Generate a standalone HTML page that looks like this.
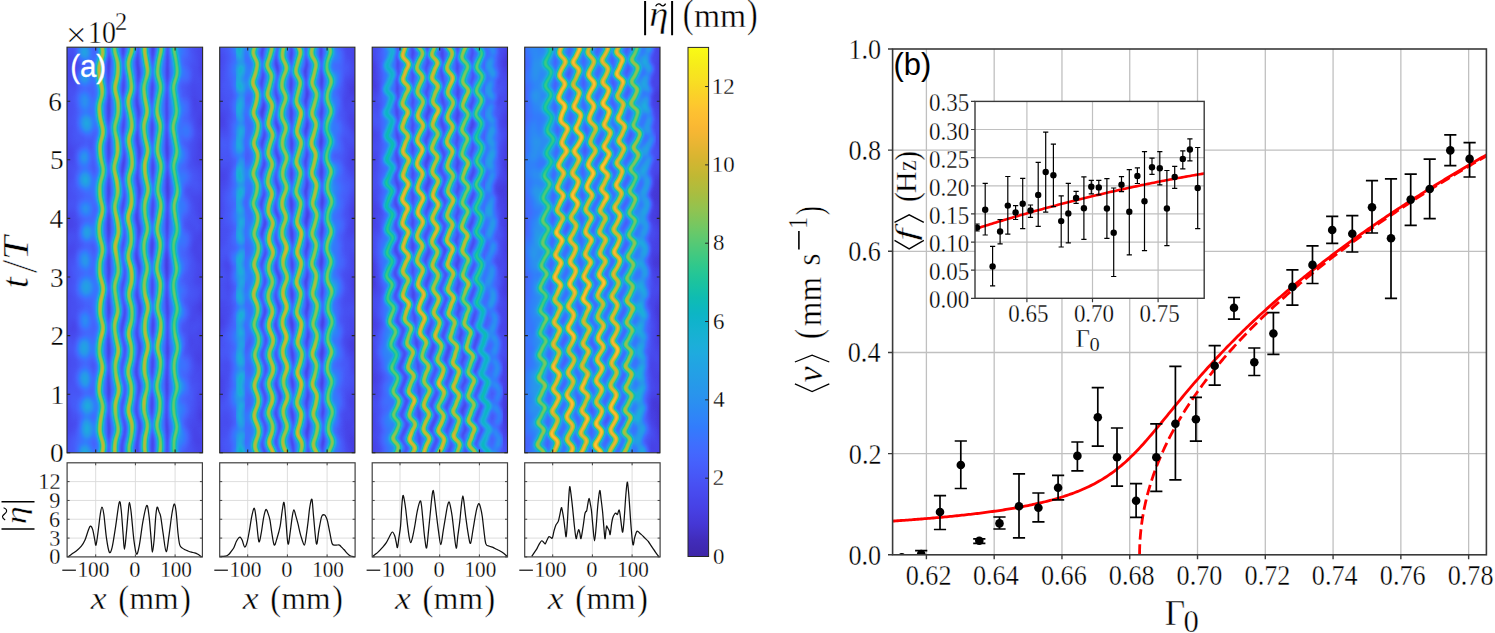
<!DOCTYPE html><html><head><meta charset="utf-8"><style>html,body{margin:0;padding:0;background:#fff;overflow:hidden}svg{display:block}</style></head><body>
<svg width="1495" height="633" viewBox="0 0 1495 633">
<rect x="0" y="0" width="1495" height="633" fill="#fff"/>
<defs>
<filter id="cmap" x="0" y="0" width="1" height="1" color-interpolation-filters="sRGB"><feComponentTransfer><feFuncR type="table" tableValues="0.2422 0.2482 0.2544 0.2625 0.2705 0.2745 0.2782 0.2797 0.2810 0.2806 0.2795 0.2749 0.2691 0.2570 0.2424 0.2185 0.1978 0.1865 0.1765 0.1698 0.1622 0.1526 0.1435 0.1356 0.1276 0.1197 0.1098 0.0974 0.0817 0.0612 0.0500 0.0500 0.0602 0.0807 0.1090 0.1437 0.1872 0.2384 0.2926 0.3489 0.4052 0.4615 0.5167 0.5712 0.6202 0.6663 0.7088 0.7498 0.7907 0.8317 0.8716 0.9113 0.9440 0.9747 0.9864 0.9940 0.9905 0.9854 0.9781 0.9707 0.9677 0.9651 0.9708 0.9769"/><feFuncG type="table" tableValues="0.1504 0.1621 0.1741 0.1943 0.2144 0.2352 0.2558 0.2757 0.2958 0.3182 0.3409 0.3654 0.3897 0.4132 0.4369 0.4617 0.4866 0.5119 0.5364 0.5591 0.5803 0.5974 0.6143 0.6307 0.6483 0.6679 0.6825 0.6903 0.6971 0.7022 0.7108 0.7236 0.7377 0.7530 0.7654 0.7753 0.7827 0.7878 0.7900 0.7900 0.7868 0.7817 0.7733 0.7634 0.7533 0.7430 0.7328 0.7226 0.7162 0.7110 0.7100 0.7100 0.7140 0.7191 0.7370 0.7574 0.7869 0.8176 0.8474 0.8772 0.9032 0.9288 0.9563 0.9839"/><feFuncB type="table" tableValues="0.6603 0.6953 0.7311 0.7837 0.8356 0.8677 0.8988 0.9182 0.9372 0.9535 0.9689 0.9803 0.9905 0.9948 0.9975 0.9936 0.9877 0.9759 0.9625 0.9449 0.9288 0.9164 0.9051 0.8964 0.8861 0.8729 0.8558 0.8333 0.8138 0.7984 0.7738 0.7379 0.6995 0.6586 0.6210 0.5863 0.5510 0.5151 0.4822 0.4515 0.4176 0.3818 0.3467 0.3119 0.2798 0.2491 0.2256 0.2051 0.1962 0.1910 0.1940 0.1989 0.2000 0.2000 0.1958 0.1906 0.1766 0.1612 0.1463 0.1314 0.1161 0.1007 0.0905 0.0805"/></feComponentTransfer></filter>
<filter id="bl1" x="-20%" y="-5%" width="140%" height="110%" color-interpolation-filters="sRGB"><feGaussianBlur stdDeviation="1.5"/></filter>
<filter id="bl2" x="-20%" y="-5%" width="140%" height="110%" color-interpolation-filters="sRGB"><feGaussianBlur stdDeviation="2.5"/></filter>
<linearGradient id="cbar" x1="0" y1="1" x2="0" y2="0"><stop offset="0.0000" stop-color="rgb(62,38,168)"/><stop offset="0.0159" stop-color="rgb(63,41,177)"/><stop offset="0.0317" stop-color="rgb(65,44,186)"/><stop offset="0.0476" stop-color="rgb(67,50,200)"/><stop offset="0.0635" stop-color="rgb(69,55,213)"/><stop offset="0.0794" stop-color="rgb(70,60,221)"/><stop offset="0.0952" stop-color="rgb(71,65,229)"/><stop offset="0.1111" stop-color="rgb(71,70,234)"/><stop offset="0.1270" stop-color="rgb(72,75,239)"/><stop offset="0.1429" stop-color="rgb(72,81,243)"/><stop offset="0.1587" stop-color="rgb(71,87,247)"/><stop offset="0.1746" stop-color="rgb(70,93,250)"/><stop offset="0.1905" stop-color="rgb(69,99,253)"/><stop offset="0.2063" stop-color="rgb(66,105,254)"/><stop offset="0.2222" stop-color="rgb(62,111,254)"/><stop offset="0.2381" stop-color="rgb(56,118,253)"/><stop offset="0.2540" stop-color="rgb(50,124,252)"/><stop offset="0.2698" stop-color="rgb(48,131,249)"/><stop offset="0.2857" stop-color="rgb(45,137,245)"/><stop offset="0.3016" stop-color="rgb(43,143,241)"/><stop offset="0.3175" stop-color="rgb(41,148,237)"/><stop offset="0.3333" stop-color="rgb(39,152,234)"/><stop offset="0.3492" stop-color="rgb(37,157,231)"/><stop offset="0.3651" stop-color="rgb(35,161,229)"/><stop offset="0.3810" stop-color="rgb(33,165,226)"/><stop offset="0.3968" stop-color="rgb(31,170,223)"/><stop offset="0.4127" stop-color="rgb(28,174,218)"/><stop offset="0.4286" stop-color="rgb(25,176,213)"/><stop offset="0.4444" stop-color="rgb(21,178,208)"/><stop offset="0.4603" stop-color="rgb(16,179,204)"/><stop offset="0.4762" stop-color="rgb(13,181,197)"/><stop offset="0.4921" stop-color="rgb(13,185,188)"/><stop offset="0.5079" stop-color="rgb(15,188,178)"/><stop offset="0.5238" stop-color="rgb(21,192,168)"/><stop offset="0.5397" stop-color="rgb(28,195,158)"/><stop offset="0.5556" stop-color="rgb(37,198,150)"/><stop offset="0.5714" stop-color="rgb(48,200,140)"/><stop offset="0.5873" stop-color="rgb(61,201,131)"/><stop offset="0.6032" stop-color="rgb(75,201,123)"/><stop offset="0.6190" stop-color="rgb(89,201,115)"/><stop offset="0.6349" stop-color="rgb(103,201,106)"/><stop offset="0.6508" stop-color="rgb(118,199,97)"/><stop offset="0.6667" stop-color="rgb(132,197,88)"/><stop offset="0.6825" stop-color="rgb(146,195,80)"/><stop offset="0.6984" stop-color="rgb(158,192,71)"/><stop offset="0.7143" stop-color="rgb(170,189,64)"/><stop offset="0.7302" stop-color="rgb(181,187,58)"/><stop offset="0.7460" stop-color="rgb(191,184,52)"/><stop offset="0.7619" stop-color="rgb(202,183,50)"/><stop offset="0.7778" stop-color="rgb(212,181,49)"/><stop offset="0.7937" stop-color="rgb(222,181,49)"/><stop offset="0.8095" stop-color="rgb(232,181,51)"/><stop offset="0.8254" stop-color="rgb(241,182,51)"/><stop offset="0.8413" stop-color="rgb(249,183,51)"/><stop offset="0.8571" stop-color="rgb(252,188,50)"/><stop offset="0.8730" stop-color="rgb(253,193,49)"/><stop offset="0.8889" stop-color="rgb(253,201,45)"/><stop offset="0.9048" stop-color="rgb(251,208,41)"/><stop offset="0.9206" stop-color="rgb(249,216,37)"/><stop offset="0.9365" stop-color="rgb(248,224,34)"/><stop offset="0.9524" stop-color="rgb(247,230,30)"/><stop offset="0.9683" stop-color="rgb(246,237,26)"/><stop offset="0.9841" stop-color="rgb(248,244,23)"/><stop offset="1.0000" stop-color="rgb(249,251,21)"/></linearGradient>
<clipPath id="clipB"><rect x="892.6" y="49" width="593.8" height="505.8"/></clipPath>
<clipPath id="clipI"><rect x="975" y="101.4" width="229.2" height="196.9"/></clipPath>
<filter id="bl3" x="-50%" y="-50%" width="200%" height="200%" color-interpolation-filters="sRGB"><feGaussianBlur stdDeviation="3.5"/></filter>
<filter id="noise" x="0" y="0" width="1" height="1" color-interpolation-filters="sRGB"><feTurbulence type="fractalNoise" baseFrequency="0.045 0.03" numOctaves="2" seed="7"/><feColorMatrix type="matrix" values="1 0 0 0 0  1 0 0 0 0  1 0 0 0 0  0 0 0 0 0.13"/></filter>
</defs>
<path d="M926.4 49.0V554.8M994.18 49.0V554.8M1061.96 49.0V554.8M1129.74 49.0V554.8M1197.52 49.0V554.8M1265.3 49.0V554.8M1333.08 49.0V554.8M1400.86 49.0V554.8M1468.64 49.0V554.8M892.6 453.64H1486.4M892.6 352.48H1486.4M892.6 251.32H1486.4M892.6 150.16H1486.4" stroke="#c0c0c0" stroke-width="1.3" fill="none"/>
<g clip-path="url(#clipB)">
<path d="M858.62 523.16 L860.31 523.07 L862.01 522.97 L863.7 522.87 L865.4 522.78 L867.09 522.68 L868.79 522.58 L870.48 522.48 L872.18 522.38 L873.87 522.28 L875.56 522.18 L877.26 522.07 L878.95 521.97 L880.65 521.86 L882.34 521.76 L884.04 521.65 L885.73 521.54 L887.43 521.43 L889.12 521.32 L890.82 521.21 L892.51 521.1 L894.2 520.98 L895.9 520.87 L897.59 520.75 L899.29 520.63 L900.98 520.52 L902.68 520.4 L904.37 520.28 L906.07 520.15 L907.76 520.03 L909.45 519.9 L911.15 519.78 L912.84 519.65 L914.54 519.52 L916.23 519.39 L917.93 519.26 L919.62 519.13 L921.32 518.99 L923.01 518.85 L924.71 518.72 L926.4 518.58 L928.09 518.44 L929.79 518.29 L931.48 518.15 L933.18 518 L934.87 517.86 L936.57 517.71 L938.26 517.56 L939.96 517.4 L941.65 517.25 L943.34 517.09 L945.04 516.93 L946.73 516.77 L948.43 516.61 L950.12 516.44 L951.82 516.28 L953.51 516.11 L955.21 515.94 L956.9 515.76 L958.6 515.59 L960.29 515.41 L961.98 515.23 L963.68 515.04 L965.37 514.86 L967.07 514.67 L968.76 514.48 L970.46 514.29 L972.15 514.09 L973.85 513.89 L975.54 513.69 L977.23 513.49 L978.93 513.28 L980.62 513.07 L982.32 512.85 L984.01 512.64 L985.71 512.42 L987.4 512.19 L989.1 511.96 L990.79 511.73 L992.49 511.5 L994.18 511.26 L995.87 511.02 L997.57 510.77 L999.26 510.52 L1000.96 510.27 L1002.65 510.01 L1004.35 509.75 L1006.04 509.48 L1007.74 509.21 L1009.43 508.93 L1011.12 508.65 L1012.82 508.36 L1014.51 508.07 L1016.21 507.78 L1017.9 507.47 L1019.6 507.17 L1021.29 506.85 L1022.99 506.53 L1024.68 506.21 L1026.38 505.87 L1028.07 505.54 L1029.76 505.19 L1031.46 504.84 L1033.15 504.48 L1034.85 504.11 L1036.54 503.74 L1038.24 503.36 L1039.93 502.97 L1041.63 502.57 L1043.32 502.16 L1045.01 501.74 L1046.71 501.32 L1048.4 500.88 L1050.1 500.44 L1051.79 499.98 L1053.49 499.52 L1055.18 499.04 L1056.88 498.55 L1058.57 498.05 L1060.27 497.54 L1061.96 497.02 L1063.65 496.48 L1065.35 495.93 L1067.04 495.36 L1068.74 494.78 L1070.43 494.19 L1072.13 493.57 L1073.82 492.95 L1075.52 492.3 L1077.21 491.64 L1078.9 490.96 L1080.6 490.26 L1082.29 489.54 L1083.99 488.8 L1085.68 488.04 L1087.38 487.26 L1089.07 486.45 L1090.77 485.63 L1092.46 484.77 L1094.16 483.89 L1095.85 482.99 L1097.54 482.05 L1099.24 481.09 L1100.93 480.1 L1102.63 479.08 L1104.32 478.03 L1106.02 476.95 L1107.71 475.83 L1109.41 474.68 L1111.1 473.5 L1112.79 472.28 L1114.49 471.02 L1116.18 469.73 L1117.88 468.4 L1119.57 467.03 L1121.27 465.62 L1122.96 464.17 L1124.66 462.69 L1126.35 461.17 L1128.05 459.61 L1129.74 458.01 L1131.43 456.37 L1133.13 454.7 L1134.82 452.99 L1136.52 451.24 L1138.21 449.46 L1139.91 447.65 L1141.6 445.81 L1143.3 443.94 L1144.99 442.05 L1146.68 440.12 L1148.38 438.18 L1150.07 436.21 L1151.77 434.22 L1153.46 432.22 L1155.16 430.2 L1156.85 428.17 L1158.55 426.12 L1160.24 424.07 L1161.94 422.01 L1163.63 419.94 L1165.32 417.87 L1167.02 415.8 L1168.71 413.73 L1170.41 411.65 L1172.1 409.58 L1173.8 407.51 L1175.49 405.45 L1177.19 403.39 L1178.88 401.33 L1180.57 399.28 L1182.27 397.24 L1183.96 395.21 L1185.66 393.19 L1187.35 391.17 L1189.05 389.17 L1190.74 387.17 L1192.44 385.18 L1194.13 383.21 L1195.83 381.25 L1197.52 379.29 L1199.21 377.35 L1200.91 375.42 L1202.6 373.5 L1204.3 371.59 L1205.99 369.7 L1207.69 367.81 L1209.38 365.94 L1211.08 364.08 L1212.77 362.23 L1214.46 360.39 L1216.16 358.57 L1217.85 356.75 L1219.55 354.95 L1221.24 353.15 L1222.94 351.37 L1224.63 349.6 L1226.33 347.84 L1228.02 346.1 L1229.72 344.36 L1231.41 342.63 L1233.1 340.92 L1234.8 339.21 L1236.49 337.52 L1238.19 335.83 L1239.88 334.16 L1241.58 332.49 L1243.27 330.84 L1244.97 329.19 L1246.66 327.56 L1248.35 325.93 L1250.05 324.31 L1251.74 322.71 L1253.44 321.11 L1255.13 319.52 L1256.83 317.94 L1258.52 316.37 L1260.22 314.81 L1261.91 313.25 L1263.61 311.71 L1265.3 310.17 L1266.99 308.64 L1268.69 307.12 L1270.38 305.61 L1272.08 304.1 L1273.77 302.6 L1275.47 301.12 L1277.16 299.63 L1278.86 298.16 L1280.55 296.69 L1282.24 295.23 L1283.94 293.78 L1285.63 292.34 L1287.33 290.9 L1289.02 289.47 L1290.72 288.05 L1292.41 286.63 L1294.11 285.22 L1295.8 283.81 L1297.5 282.42 L1299.19 281.03 L1300.88 279.64 L1302.58 278.26 L1304.27 276.89 L1305.97 275.53 L1307.66 274.17 L1309.36 272.81 L1311.05 271.47 L1312.75 270.13 L1314.44 268.79 L1316.13 267.46 L1317.83 266.14 L1319.52 264.82 L1321.22 263.5 L1322.91 262.2 L1324.61 260.89 L1326.3 259.6 L1328 258.3 L1329.69 257.02 L1331.39 255.74 L1333.08 254.46 L1334.77 253.19 L1336.47 251.92 L1338.16 250.66 L1339.86 249.41 L1341.55 248.16 L1343.25 246.91 L1344.94 245.67 L1346.64 244.43 L1348.33 243.2 L1350.02 241.97 L1351.72 240.75 L1353.41 239.53 L1355.11 238.31 L1356.8 237.1 L1358.5 235.9 L1360.19 234.7 L1361.89 233.5 L1363.58 232.31 L1365.28 231.12 L1366.97 229.93 L1368.66 228.75 L1370.36 227.58 L1372.05 226.4 L1373.75 225.23 L1375.44 224.07 L1377.14 222.91 L1378.83 221.75 L1380.53 220.6 L1382.22 219.45 L1383.91 218.31 L1385.61 217.17 L1387.3 216.03 L1389 214.89 L1390.69 213.76 L1392.39 212.64 L1394.08 211.51 L1395.78 210.39 L1397.47 209.28 L1399.17 208.16 L1400.86 207.05 L1402.55 205.95 L1404.25 204.85 L1405.94 203.75 L1407.64 202.65 L1409.33 201.56 L1411.03 200.47 L1412.72 199.38 L1414.42 198.3 L1416.11 197.22 L1417.8 196.14 L1419.5 195.07 L1421.19 194 L1422.89 192.93 L1424.58 191.87 L1426.28 190.81 L1427.97 189.75 L1429.67 188.69 L1431.36 187.64 L1433.06 186.59 L1434.75 185.54 L1436.44 184.5 L1438.14 183.46 L1439.83 182.42 L1441.53 181.39 L1443.22 180.35 L1444.92 179.32 L1446.61 178.3 L1448.31 177.27 L1450 176.25 L1451.69 175.23 L1453.39 174.22 L1455.08 173.2 L1456.78 172.19 L1458.47 171.18 L1460.17 170.18 L1461.86 169.17 L1463.56 168.17 L1465.25 167.18 L1466.95 166.18 L1468.64 165.19 L1470.33 164.2 L1472.03 163.21 L1473.72 162.22 L1475.42 161.24 L1477.11 160.26 L1478.81 159.28 L1480.5 158.3 L1482.2 157.33 L1483.89 156.36 L1485.58 155.39 L1487.28 154.42 L1488.97 153.46 L1490.67 152.49 L1492.36 151.53 L1494.06 150.58 L1495.75 149.62 L1497.45 148.67 L1499.14 147.72 L1500.84 146.77 L1502.53 145.82" stroke="#ff0000" stroke-width="2.8" fill="none" stroke-linejoin="round"/>
<path d="M1139.57 554.8 L1139.57 553.78 L1139.58 552.75 L1139.59 551.73 L1139.6 550.71 L1139.63 549.69 L1139.65 548.66 L1139.68 547.64 L1139.71 546.62 L1139.75 545.6 L1139.8 544.57 L1139.84 543.55 L1139.9 542.53 L1139.95 541.51 L1140.01 540.48 L1140.08 539.46 L1140.15 538.44 L1140.23 537.42 L1140.31 536.39 L1140.39 535.37 L1140.48 534.35 L1140.57 533.32 L1140.67 532.3 L1140.77 531.28 L1140.88 530.26 L1140.99 529.23 L1141.11 528.21 L1141.23 527.19 L1141.36 526.17 L1141.49 525.14 L1141.62 524.12 L1141.76 523.1 L1141.9 522.08 L1142.05 521.05 L1142.2 520.03 L1142.36 519.01 L1142.52 517.99 L1142.69 516.96 L1142.86 515.94 L1143.04 514.92 L1143.22 513.89 L1143.4 512.87 L1143.59 511.85 L1143.78 510.83 L1143.98 509.8 L1144.18 508.78 L1144.39 507.76 L1144.6 506.74 L1144.82 505.71 L1145.04 504.69 L1145.27 503.67 L1145.5 502.65 L1145.73 501.62 L1145.97 500.6 L1146.22 499.58 L1146.46 498.56 L1146.72 497.53 L1146.98 496.51 L1147.24 495.49 L1147.5 494.46 L1147.78 493.44 L1148.05 492.42 L1148.33 491.4 L1148.62 490.37 L1148.91 489.35 L1149.2 488.33 L1149.5 487.31 L1149.8 486.28 L1150.11 485.26 L1150.42 484.24 L1150.74 483.22 L1151.06 482.19 L1151.39 481.17 L1151.72 480.15 L1152.05 479.13 L1152.39 478.1 L1152.74 477.08 L1153.09 476.06 L1153.44 475.04 L1153.8 474.01 L1154.16 472.99 L1154.53 471.97 L1154.9 470.94 L1155.27 469.92 L1155.66 468.9 L1156.04 467.88 L1156.43 466.85 L1156.82 465.83 L1157.22 464.81 L1157.63 463.79 L1158.04 462.76 L1158.45 461.74 L1158.87 460.72 L1159.29 459.7 L1159.71 458.67 L1160.14 457.65 L1160.58 456.63 L1161.02 455.61 L1161.46 454.58 L1161.91 453.56 L1162.37 452.54 L1162.83 451.51 L1163.29 450.49 L1163.76 449.47 L1164.23 448.45 L1164.7 447.42 L1165.19 446.4 L1165.67 445.38 L1166.16 444.36 L1166.66 443.33 L1167.15 442.31 L1167.66 441.29 L1168.17 440.27 L1168.68 439.24 L1169.2 438.22 L1169.72 437.2 L1170.25 436.18 L1170.78 435.15 L1171.31 434.13 L1171.85 433.11 L1172.4 432.08 L1172.95 431.06 L1173.5 430.04 L1174.06 429.02 L1174.62 427.99 L1175.19 426.97 L1175.76 425.95 L1176.34 424.93 L1176.92 423.9 L1177.51 422.88 L1178.1 421.86 L1178.69 420.84 L1179.29 419.81 L1179.9 418.79 L1180.51 417.77 L1181.12 416.75 L1181.74 415.72 L1182.36 414.7 L1182.99 413.68 L1183.62 412.65 L1184.25 411.63 L1184.89 410.61 L1185.54 409.59 L1186.19 408.56 L1186.84 407.54 L1187.5 406.52 L1188.17 405.5 L1188.83 404.47 L1189.51 403.45 L1190.18 402.43 L1190.87 401.41 L1191.55 400.38 L1192.24 399.36 L1192.94 398.34 L1193.64 397.32 L1194.34 396.29 L1195.05 395.27 L1195.77 394.25 L1196.48 393.22 L1197.21 392.2 L1197.93 391.18 L1198.67 390.16 L1199.4 389.13 L1200.14 388.11 L1200.89 387.09 L1201.64 386.07 L1202.39 385.04 L1203.15 384.02 L1203.92 383 L1204.68 381.98 L1205.46 380.95 L1206.23 379.93 L1207.02 378.91 L1207.8 377.89 L1208.59 376.86 L1209.39 375.84 L1210.19 374.82 L1210.99 373.79 L1211.8 372.77 L1212.62 371.75 L1213.44 370.73 L1214.26 369.7 L1215.09 368.68 L1215.92 367.66 L1216.76 366.64 L1217.6 365.61 L1218.44 364.59 L1219.29 363.57 L1220.15 362.55 L1221.01 361.52 L1221.87 360.5 L1222.74 359.48 L1223.61 358.46 L1224.49 357.43 L1225.37 356.41 L1226.26 355.39 L1227.15 354.36 L1228.05 353.34 L1228.95 352.32 L1229.85 351.3 L1230.76 350.27 L1231.68 349.25 L1232.6 348.23 L1233.52 347.21 L1234.45 346.18 L1235.38 345.16 L1236.32 344.14 L1237.26 343.12 L1238.21 342.09 L1239.16 341.07 L1240.11 340.05 L1241.07 339.03 L1242.04 338 L1243 336.98 L1243.98 335.96 L1244.96 334.94 L1245.94 333.91 L1246.93 332.89 L1247.92 331.87 L1248.91 330.84 L1249.92 329.82 L1250.92 328.8 L1251.93 327.78 L1252.95 326.75 L1253.96 325.73 L1254.99 324.71 L1256.02 323.69 L1257.05 322.66 L1258.09 321.64 L1259.13 320.62 L1260.17 319.6 L1261.23 318.57 L1262.28 317.55 L1263.34 316.53 L1264.41 315.51 L1265.48 314.48 L1266.55 313.46 L1267.63 312.44 L1268.71 311.41 L1269.8 310.39 L1270.89 309.37 L1271.99 308.35 L1273.09 307.32 L1274.19 306.3 L1275.3 305.28 L1276.42 304.26 L1277.54 303.23 L1278.66 302.21 L1279.79 301.19 L1280.92 300.17 L1282.06 299.14 L1283.2 298.12 L1284.35 297.1 L1285.5 296.08 L1286.66 295.05 L1287.82 294.03 L1288.98 293.01 L1290.15 291.98 L1291.33 290.96 L1292.51 289.94 L1293.69 288.92 L1294.88 287.89 L1296.07 286.87 L1297.27 285.85 L1298.47 284.83 L1299.67 283.8 L1300.88 282.78 L1302.1 281.76 L1303.32 280.74 L1304.54 279.71 L1305.77 278.69 L1307.01 277.67 L1308.24 276.65 L1309.49 275.62 L1310.73 274.6 L1311.99 273.58 L1313.24 272.55 L1314.5 271.53 L1315.77 270.51 L1317.04 269.49 L1318.31 268.46 L1319.59 267.44 L1320.87 266.42 L1322.16 265.4 L1323.46 264.37 L1324.75 263.35 L1326.05 262.33 L1327.36 261.31 L1328.67 260.28 L1329.99 259.26 L1331.31 258.24 L1332.63 257.22 L1333.96 256.19 L1335.29 255.17 L1336.63 254.15 L1337.98 253.12 L1339.32 252.1 L1340.68 251.08 L1342.03 250.06 L1343.39 249.03 L1344.76 248.01 L1346.13 246.99 L1347.5 245.97 L1348.88 244.94 L1350.27 243.92 L1351.66 242.9 L1353.05 241.88 L1354.45 240.85 L1355.85 239.83 L1357.25 238.81 L1358.67 237.79 L1360.08 236.76 L1361.5 235.74 L1362.93 234.72 L1364.36 233.69 L1365.79 232.67 L1367.23 231.65 L1368.67 230.63 L1370.12 229.6 L1371.57 228.58 L1373.03 227.56 L1374.49 226.54 L1375.96 225.51 L1377.43 224.49 L1378.9 223.47 L1380.38 222.45 L1381.87 221.42 L1383.36 220.4 L1384.85 219.38 L1386.35 218.36 L1387.85 217.33 L1389.36 216.31 L1390.87 215.29 L1392.38 214.26 L1393.9 213.24 L1395.43 212.22 L1396.96 211.2 L1398.49 210.17 L1400.03 209.15 L1401.58 208.13 L1403.12 207.11 L1404.68 206.08 L1406.23 205.06 L1407.8 204.04 L1409.36 203.02 L1410.93 201.99 L1412.51 200.97 L1414.09 199.95 L1415.67 198.93 L1417.26 197.9 L1418.86 196.88 L1420.45 195.86 L1422.06 194.84 L1423.66 193.81 L1425.28 192.79 L1426.89 191.77 L1428.51 190.74 L1430.14 189.72 L1431.77 188.7 L1433.4 187.68 L1435.04 186.65 L1436.69 185.63 L1438.33 184.61 L1439.99 183.59 L1441.65 182.56 L1443.31 181.54 L1444.97 180.52 L1446.65 179.5 L1448.32 178.47 L1450 177.45 L1451.69 176.43 L1453.38 175.41 L1455.07 174.38 L1456.77 173.36 L1458.47 172.34 L1460.18 171.31 L1461.89 170.29 L1463.61 169.27 L1465.33 168.25 L1467.05 167.22 L1468.79 166.2 L1470.52 165.18 L1472.26 164.16 L1474 163.13 L1475.75 162.11 L1477.51 161.09 L1479.26 160.07 L1481.03 159.04 L1482.79 158.02 L1484.56 157 L1486.34 155.98 L1488.12 154.95 L1489.91 153.93 L1491.7 152.91 L1493.49 151.88 L1495.29 150.86 L1497.09 149.84 L1498.9 148.82 L1500.71 147.79 L1502.53 146.77" stroke="#ff0000" stroke-width="2.8" fill="none" stroke-dasharray="10.5,4.6" stroke-linejoin="round"/>
<path d="M921.2 550.7V557.5M915.1 550.7H927.3M915.1 557.5H927.3M940 495.6V529.5M933.9 495.6H946.1M933.9 529.5H946.1M960.8 441V488.5M954.7 441H966.9M954.7 488.5H966.9M979.3 538.8V543.4M973.2 538.8H985.4M973.2 543.4H985.4M999.5 517V529M993.4 517H1005.6M993.4 529H1005.6M1019 473.8V537.8M1012.9 473.8H1025.1M1012.9 537.8H1025.1M1038.4 493V521.9M1032.3 493H1044.5M1032.3 521.9H1044.5M1058.1 475.3V499.9M1052 475.3H1064.2M1052 499.9H1064.2M1077.4 442V470.8M1071.3 442H1083.5M1071.3 470.8H1083.5M1097.8 387.7V446.1M1091.7 387.7H1103.9M1091.7 446.1H1103.9M1117 428V486.1M1110.9 428H1123.1M1110.9 486.1H1123.1M1136.1 483.7V517.4M1130 483.7H1142.2M1130 517.4H1142.2M1156.3 423.8V491.3M1150.2 423.8H1162.4M1150.2 491.3H1162.4M1175.4 366.4V479.8M1169.3 366.4H1181.5M1169.3 479.8H1181.5M1195.9 397.4V441.2M1189.8 397.4H1202M1189.8 441.2H1202M1214.7 345.6V385.2M1208.6 345.6H1220.8M1208.6 385.2H1220.8M1234 297.5V319.1M1227.9 297.5H1240.1M1227.9 319.1H1240.1M1254.3 348V375.5M1248.2 348H1260.4M1248.2 375.5H1260.4M1273.4 312.7V354.4M1267.3 312.7H1279.5M1267.3 354.4H1279.5M1292.4 269.8V305.1M1286.3 269.8H1298.5M1286.3 305.1H1298.5M1312.5 245.9V283.5M1306.4 245.9H1318.6M1306.4 283.5H1318.6M1332.2 216.3V243.3M1326.1 216.3H1338.3M1326.1 243.3H1338.3M1352.3 215.6V252M1346.2 215.6H1358.4M1346.2 252H1358.4M1372 180.7V233M1365.9 180.7H1378.1M1365.9 233H1378.1M1391 178.8V298.3M1384.9 178.8H1397.1M1384.9 298.3H1397.1M1410.7 174.2V225.4M1404.6 174.2H1416.8M1404.6 225.4H1416.8M1429.7 159.1V218.6M1423.6 159.1H1435.8M1423.6 218.6H1435.8M1450.3 134.9V165.6M1444.2 134.9H1456.4M1444.2 165.6H1456.4M1469.6 142.6V177M1463.5 142.6H1475.7M1463.5 177H1475.7" stroke="#000" stroke-width="1.7" fill="none"/>
<g fill="#000"><circle cx="901.8" cy="557.2" r="4.3"/><circle cx="921.2" cy="554" r="4.3"/><circle cx="940" cy="512" r="4.3"/><circle cx="960.8" cy="465" r="4.3"/><circle cx="979.3" cy="540.8" r="4.3"/><circle cx="999.5" cy="523.4" r="4.3"/><circle cx="1019" cy="506.2" r="4.3"/><circle cx="1038.4" cy="507.7" r="4.3"/><circle cx="1058.1" cy="487.7" r="4.3"/><circle cx="1077.4" cy="455.9" r="4.3"/><circle cx="1097.8" cy="417.2" r="4.3"/><circle cx="1117" cy="457.2" r="4.3"/><circle cx="1136.1" cy="500.7" r="4.3"/><circle cx="1156.3" cy="457.2" r="4.3"/><circle cx="1175.4" cy="423.8" r="4.3"/><circle cx="1195.9" cy="419.3" r="4.3"/><circle cx="1214.7" cy="365.7" r="4.3"/><circle cx="1234" cy="307.7" r="4.3"/><circle cx="1254.3" cy="362.3" r="4.3"/><circle cx="1273.4" cy="333.5" r="4.3"/><circle cx="1292.4" cy="286.9" r="4.3"/><circle cx="1312.5" cy="264.9" r="4.3"/><circle cx="1332.2" cy="230" r="4.3"/><circle cx="1352.3" cy="233.8" r="4.3"/><circle cx="1372" cy="207.2" r="4.3"/><circle cx="1391" cy="238.3" r="4.3"/><circle cx="1410.7" cy="199.6" r="4.3"/><circle cx="1429.7" cy="189" r="4.3"/><circle cx="1450.3" cy="150.4" r="4.3"/><circle cx="1469.6" cy="158.9" r="4.3"/></g>
</g>
<rect x="892.6" y="49.0" width="593.8" height="505.8" fill="none" stroke="#3a3a3a" stroke-width="1.6"/>
<path d="M926.4 554.8v4.4M994.18 554.8v4.4M1061.96 554.8v4.4M1129.74 554.8v4.4M1197.52 554.8v4.4M1265.3 554.8v4.4M1333.08 554.8v4.4M1400.86 554.8v4.4M1468.64 554.8v4.4M892.6 554.8h-4.6M892.6 453.64h-4.6M892.6 352.48h-4.6M892.6 251.32h-4.6M892.6 150.16h-4.6M892.6 49h-4.6" stroke="#3a3a3a" stroke-width="1.4" fill="none"/>
<text transform="translate(905.7,584.8) scale(0.9150,1)" style="font-family:'Liberation Serif';font-size:28.60px;" fill="#000" stroke="#fff" stroke-width="0.34">0.62</text>
<text transform="translate(972.96,584.8) scale(0.9150,1)" style="font-family:'Liberation Serif';font-size:28.60px;" fill="#000" stroke="#fff" stroke-width="0.34">0.64</text>
<text transform="translate(1040.93,584.8) scale(0.9150,1)" style="font-family:'Liberation Serif';font-size:28.60px;" fill="#000" stroke="#fff" stroke-width="0.34">0.66</text>
<text transform="translate(1108.84,584.8) scale(0.9150,1)" style="font-family:'Liberation Serif';font-size:28.60px;" fill="#000" stroke="#fff" stroke-width="0.34">0.68</text>
<text transform="translate(1176.62,584.8) scale(0.9150,1)" style="font-family:'Liberation Serif';font-size:28.60px;" fill="#000" stroke="#fff" stroke-width="0.34">0.70</text>
<text transform="translate(1244.6,584.8) scale(0.9150,1)" style="font-family:'Liberation Serif';font-size:28.60px;" fill="#000" stroke="#fff" stroke-width="0.34">0.72</text>
<text transform="translate(1311.86,584.8) scale(0.9150,1)" style="font-family:'Liberation Serif';font-size:28.60px;" fill="#000" stroke="#fff" stroke-width="0.34">0.74</text>
<text transform="translate(1379.83,584.8) scale(0.9150,1)" style="font-family:'Liberation Serif';font-size:28.60px;" fill="#000" stroke="#fff" stroke-width="0.34">0.76</text>
<text transform="translate(1447.74,584.8) scale(0.9150,1)" style="font-family:'Liberation Serif';font-size:28.60px;" fill="#000" stroke="#fff" stroke-width="0.34">0.78</text>
<text transform="translate(848.44,564.8) scale(0.9150,1)" style="font-family:'Liberation Serif';font-size:28.60px;" fill="#000" stroke="#fff" stroke-width="0.34">0.0</text>
<text transform="translate(848.83,463.64) scale(0.9150,1)" style="font-family:'Liberation Serif';font-size:28.60px;" fill="#000" stroke="#fff" stroke-width="0.34">0.2</text>
<text transform="translate(847.78,362.48) scale(0.9150,1)" style="font-family:'Liberation Serif';font-size:28.60px;" fill="#000" stroke="#fff" stroke-width="0.34">0.4</text>
<text transform="translate(848.17,261.32) scale(0.9150,1)" style="font-family:'Liberation Serif';font-size:28.60px;" fill="#000" stroke="#fff" stroke-width="0.34">0.6</text>
<text transform="translate(848.44,160.16) scale(0.9150,1)" style="font-family:'Liberation Serif';font-size:28.60px;" fill="#000" stroke="#fff" stroke-width="0.34">0.8</text>
<text transform="translate(848.44,59) scale(0.9150,1)" style="font-family:'Liberation Serif';font-size:28.60px;" fill="#000" stroke="#fff" stroke-width="0.34">1.0</text>
<text transform="translate(893.45,75.33) scale(1.0035,1)" style="font-family:'Liberation Sans';font-size:30.80px;" fill="#000"  >(b)</text>
<rect x="975.0" y="101.4" width="229.2" height="196.9" fill="#fff"/>
<path d="M1026.9 101.4V298.3M1092.5 101.4V298.3M1158.1 101.4V298.3M975.0 270.17H1204.2M975.0 242.04H1204.2M975.0 213.91H1204.2M975.0 185.78H1204.2M975.0 157.65H1204.2M975.0 129.52H1204.2" stroke="#c0c0c0" stroke-width="1.2" fill="none"/>
<g clip-path="url(#clipI)">
<path d="M970 230.6 L972 229.96 L974 229.32 L976 228.68 L978 228.05 L980 227.42 L982 226.79 L984 226.16 L986 225.54 L988 224.92 L990 224.3 L992 223.68 L994 223.07 L996 222.46 L998 221.85 L1000 221.25 L1002 220.65 L1004 220.05 L1006 219.45 L1008 218.85 L1010 218.26 L1012 217.67 L1014 217.09 L1016 216.5 L1018 215.92 L1020 215.34 L1022 214.77 L1024 214.2 L1026 213.63 L1028 213.06 L1030 212.49 L1032 211.93 L1034 211.37 L1036 210.81 L1038 210.26 L1040 209.71 L1042 209.16 L1044 208.61 L1046 208.07 L1048 207.53 L1050 206.99 L1052 206.45 L1054 205.92 L1056 205.39 L1058 204.86 L1060 204.34 L1062 203.82 L1064 203.3 L1066 202.78 L1068 202.26 L1070 201.75 L1072 201.24 L1074 200.74 L1076 200.23 L1078 199.73 L1080 199.23 L1082 198.74 L1084 198.25 L1086 197.76 L1088 197.27 L1090 196.78 L1092 196.3 L1094 195.82 L1096 195.34 L1098 194.87 L1100 194.4 L1102 193.93 L1104 193.46 L1106 193 L1108 192.54 L1110 192.08 L1112 191.62 L1114 191.17 L1116 190.72 L1118 190.27 L1120 189.83 L1122 189.38 L1124 188.94 L1126 188.51 L1128 188.07 L1130 187.64 L1132 187.21 L1134 186.78 L1136 186.36 L1138 185.94 L1140 185.52 L1142 185.1 L1144 184.69 L1146 184.28 L1148 183.87 L1150 183.47 L1152 183.07 L1154 182.67 L1156 182.27 L1158 181.87 L1160 181.48 L1162 181.09 L1164 180.71 L1166 180.32 L1168 179.94 L1170 179.56 L1172 179.19 L1174 178.81 L1176 178.44 L1178 178.07 L1180 177.71 L1182 177.35 L1184 176.99 L1186 176.63 L1188 176.27 L1190 175.92 L1192 175.57 L1194 175.23 L1196 174.88 L1198 174.54 L1200 174.2 L1202 173.87 L1204 173.53 L1206 173.2 L1208 172.87 L1210 172.55 L1212 172.23" stroke="#ff0000" stroke-width="2.6" fill="none"/>
<path d="M977.1 224V231M974.5 224H979.7M974.5 231H979.7M985.2 183.3V235M982.6 183.3H987.8M982.6 235H987.8M992.6 246.4V285.8M990 246.4H995.2M990 285.8H995.2M1000.1 219.5V243.8M997.5 219.5H1002.7M997.5 243.8H1002.7M1007.8 176.5V234.1M1005.2 176.5H1010.4M1005.2 234.1H1010.4M1015.6 205.6V219.5M1013 205.6H1018.2M1013 219.5H1018.2M1022.7 178.4V228.6M1020.1 178.4H1025.3M1020.1 228.6H1025.3M1030.5 205V217.3M1027.9 205H1033.1M1027.9 217.3H1033.1M1038.2 162.3V226.3M1035.6 162.3H1040.8M1035.6 226.3H1040.8M1045.7 132.2V212.1M1043.1 132.2H1048.3M1043.1 212.1H1048.3M1053.4 144.2V206.6M1050.8 144.2H1056M1050.8 206.6H1056M1061.2 195.9V247M1058.6 195.9H1063.8M1058.6 247H1063.8M1068.3 183.3V242.8M1065.7 183.3H1070.9M1065.7 242.8H1070.9M1076.1 191.4V203.4M1073.5 191.4H1078.7M1073.5 203.4H1078.7M1083.9 176.8V239.3M1081.3 176.8H1086.5M1081.3 239.3H1086.5M1091.3 180.3V193.9M1088.7 180.3H1093.9M1088.7 193.9H1093.9M1098.8 180.3V194.9M1096.2 180.3H1101.4M1096.2 194.9H1101.4M1106.9 178.6V238.3M1104.3 178.6H1109.5M1104.3 238.3H1109.5M1113.7 188V276.5M1111.1 188H1116.3M1111.1 276.5H1116.3M1121.5 176.7V191.6M1118.9 176.7H1124.1M1118.9 191.6H1124.1M1129.3 169.6V254.8M1126.7 169.6H1131.9M1126.7 254.8H1131.9M1137.4 167.9V183.5M1134.8 167.9H1140M1134.8 183.5H1140M1144.5 151.7V250.6M1141.9 151.7H1147.1M1141.9 250.6H1147.1M1152 158.2V174.4M1149.4 158.2H1154.6M1149.4 174.4H1154.6M1159.8 151.7V184.8M1157.2 151.7H1162.4M1157.2 184.8H1162.4M1166.9 170.5V245.7M1164.3 170.5H1169.5M1164.3 245.7H1169.5M1174.7 166.3V188.4M1172.1 166.3H1177.3M1172.1 188.4H1177.3M1182.8 150.8V168.9M1180.2 150.8H1185.4M1180.2 168.9H1185.4M1189.9 138.8V160.8M1187.3 138.8H1192.5M1187.3 160.8H1192.5M1197.7 147.5V228.6M1195.1 147.5H1200.3M1195.1 228.6H1200.3" stroke="#000" stroke-width="1.2" fill="none"/>
<g fill="#000"><circle cx="977.1" cy="227.6" r="3.2"/><circle cx="985.2" cy="209.8" r="3.2"/><circle cx="992.6" cy="266.4" r="3.2"/><circle cx="1000.1" cy="231.5" r="3.2"/><circle cx="1007.8" cy="205.6" r="3.2"/><circle cx="1015.6" cy="212.4" r="3.2"/><circle cx="1022.7" cy="203.7" r="3.2"/><circle cx="1030.5" cy="210.5" r="3.2"/><circle cx="1038.2" cy="194.9" r="3.2"/><circle cx="1045.7" cy="172" r="3.2"/><circle cx="1053.4" cy="175.2" r="3.2"/><circle cx="1061.2" cy="221.1" r="3.2"/><circle cx="1068.3" cy="213.4" r="3.2"/><circle cx="1076.1" cy="197.9" r="3.2"/><circle cx="1083.9" cy="208.2" r="3.2"/><circle cx="1091.3" cy="186.7" r="3.2"/><circle cx="1098.8" cy="187.4" r="3.2"/><circle cx="1106.9" cy="208.5" r="3.2"/><circle cx="1113.7" cy="232.8" r="3.2"/><circle cx="1121.5" cy="184.8" r="3.2"/><circle cx="1129.3" cy="211.7" r="3.2"/><circle cx="1137.4" cy="176" r="3.2"/><circle cx="1144.5" cy="201.3" r="3.2"/><circle cx="1152" cy="167.3" r="3.2"/><circle cx="1159.8" cy="168.3" r="3.2"/><circle cx="1166.9" cy="208.5" r="3.2"/><circle cx="1174.7" cy="177" r="3.2"/><circle cx="1182.8" cy="158.9" r="3.2"/><circle cx="1189.9" cy="149.5" r="3.2"/><circle cx="1197.7" cy="188" r="3.2"/></g>
</g>
<rect x="975.0" y="101.4" width="229.2" height="196.9" fill="none" stroke="#3a3a3a" stroke-width="1.4"/>
<path d="M1026.9 298.3v4M1092.5 298.3v4M1158.1 298.3v4M975.0 298.3h-4M975.0 270.17h-4M975.0 242.04h-4M975.0 213.91h-4M975.0 185.78h-4M975.0 157.65h-4M975.0 129.52h-4M975.0 101.39h-4" stroke="#3a3a3a" stroke-width="1.2" fill="none"/>
<text transform="translate(1008.28,321.6) scale(0.9500,1)" style="font-family:'Liberation Serif';font-size:24.20px;" fill="#000" stroke="#fff" stroke-width="0.29">0.65</text>
<text transform="translate(1073.88,321.6) scale(0.9500,1)" style="font-family:'Liberation Serif';font-size:24.20px;" fill="#000" stroke="#fff" stroke-width="0.29">0.70</text>
<text transform="translate(1139.48,321.6) scale(0.9500,1)" style="font-family:'Liberation Serif';font-size:24.20px;" fill="#000" stroke="#fff" stroke-width="0.29">0.75</text>
<text transform="translate(928.99,308.35) scale(0.9500,1)" style="font-family:'Liberation Serif';font-size:24.20px;" fill="#000" stroke="#fff" stroke-width="0.29">0.00</text>
<text transform="translate(928.99,280.22) scale(0.9500,1)" style="font-family:'Liberation Serif';font-size:24.20px;" fill="#000" stroke="#fff" stroke-width="0.29">0.05</text>
<text transform="translate(928.99,252.09) scale(0.9500,1)" style="font-family:'Liberation Serif';font-size:24.20px;" fill="#000" stroke="#fff" stroke-width="0.29">0.10</text>
<text transform="translate(928.99,223.96) scale(0.9500,1)" style="font-family:'Liberation Serif';font-size:24.20px;" fill="#000" stroke="#fff" stroke-width="0.29">0.15</text>
<text transform="translate(928.99,195.83) scale(0.9500,1)" style="font-family:'Liberation Serif';font-size:24.20px;" fill="#000" stroke="#fff" stroke-width="0.29">0.20</text>
<text transform="translate(928.99,167.7) scale(0.9500,1)" style="font-family:'Liberation Serif';font-size:24.20px;" fill="#000" stroke="#fff" stroke-width="0.29">0.25</text>
<text transform="translate(928.99,139.57) scale(0.9500,1)" style="font-family:'Liberation Serif';font-size:24.20px;" fill="#000" stroke="#fff" stroke-width="0.29">0.30</text>
<text transform="translate(928.99,111.44) scale(0.9500,1)" style="font-family:'Liberation Serif';font-size:24.20px;" fill="#000" stroke="#fff" stroke-width="0.29">0.35</text>
<defs>
<clipPath id="hc0"><rect x="67.0" y="47.2" width="135.6" height="405.6"/></clipPath>
<linearGradient id="hbg0" x1="0" y1="0" x2="1" y2="0"><stop offset="0" stop-color="rgb(18,18,18)"/><stop offset="0.06" stop-color="rgb(24,24,24)"/><stop offset="0.14" stop-color="rgb(39,39,39)"/><stop offset="0.2" stop-color="rgb(35,35,35)"/><stop offset="0.24" stop-color="rgb(37,37,37)"/><stop offset="0.8" stop-color="rgb(37,37,37)"/><stop offset="0.86" stop-color="rgb(33,33,33)"/><stop offset="0.93" stop-color="rgb(20,20,20)"/><stop offset="1.0" stop-color="rgb(12,12,12)"/></linearGradient>
<linearGradient id="hl0_0" gradientUnits="userSpaceOnUse" x1="0" y1="47.2" x2="0" y2="452.8"><stop offset="0.000" stop-color="#fff" stop-opacity="0.876"/><stop offset="0.042" stop-color="#fff" stop-opacity="0.950"/><stop offset="0.083" stop-color="#fff" stop-opacity="0.990"/><stop offset="0.125" stop-color="#fff" stop-opacity="0.815"/><stop offset="0.167" stop-color="#fff" stop-opacity="0.939"/><stop offset="0.208" stop-color="#fff" stop-opacity="0.923"/><stop offset="0.250" stop-color="#fff" stop-opacity="0.912"/><stop offset="0.292" stop-color="#fff" stop-opacity="0.769"/><stop offset="0.333" stop-color="#fff" stop-opacity="0.747"/><stop offset="0.375" stop-color="#fff" stop-opacity="0.840"/><stop offset="0.417" stop-color="#fff" stop-opacity="0.934"/><stop offset="0.458" stop-color="#fff" stop-opacity="0.806"/><stop offset="0.500" stop-color="#fff" stop-opacity="0.870"/><stop offset="0.542" stop-color="#fff" stop-opacity="0.823"/><stop offset="0.583" stop-color="#fff" stop-opacity="0.960"/><stop offset="0.625" stop-color="#fff" stop-opacity="0.986"/><stop offset="0.667" stop-color="#fff" stop-opacity="0.844"/><stop offset="0.708" stop-color="#fff" stop-opacity="1.000"/><stop offset="0.750" stop-color="#fff" stop-opacity="0.756"/><stop offset="0.792" stop-color="#fff" stop-opacity="0.951"/><stop offset="0.833" stop-color="#fff" stop-opacity="0.968"/><stop offset="0.875" stop-color="#fff" stop-opacity="0.779"/><stop offset="0.917" stop-color="#fff" stop-opacity="0.923"/><stop offset="0.958" stop-color="#fff" stop-opacity="0.885"/><stop offset="1.000" stop-color="#fff" stop-opacity="0.988"/></linearGradient>
<linearGradient id="hl0_1" gradientUnits="userSpaceOnUse" x1="0" y1="47.2" x2="0" y2="452.8"><stop offset="0.000" stop-color="#fff" stop-opacity="0.771"/><stop offset="0.042" stop-color="#fff" stop-opacity="0.854"/><stop offset="0.083" stop-color="#fff" stop-opacity="0.940"/><stop offset="0.125" stop-color="#fff" stop-opacity="0.879"/><stop offset="0.167" stop-color="#fff" stop-opacity="0.796"/><stop offset="0.208" stop-color="#fff" stop-opacity="0.738"/><stop offset="0.250" stop-color="#fff" stop-opacity="0.955"/><stop offset="0.292" stop-color="#fff" stop-opacity="0.837"/><stop offset="0.333" stop-color="#fff" stop-opacity="0.969"/><stop offset="0.375" stop-color="#fff" stop-opacity="0.754"/><stop offset="0.417" stop-color="#fff" stop-opacity="0.923"/><stop offset="0.458" stop-color="#fff" stop-opacity="0.923"/><stop offset="0.500" stop-color="#fff" stop-opacity="0.950"/><stop offset="0.542" stop-color="#fff" stop-opacity="0.722"/><stop offset="0.583" stop-color="#fff" stop-opacity="0.812"/><stop offset="0.625" stop-color="#fff" stop-opacity="0.731"/><stop offset="0.667" stop-color="#fff" stop-opacity="0.907"/><stop offset="0.708" stop-color="#fff" stop-opacity="0.807"/><stop offset="0.750" stop-color="#fff" stop-opacity="0.960"/><stop offset="0.792" stop-color="#fff" stop-opacity="0.812"/><stop offset="0.833" stop-color="#fff" stop-opacity="0.913"/><stop offset="0.875" stop-color="#fff" stop-opacity="0.937"/><stop offset="0.917" stop-color="#fff" stop-opacity="0.778"/><stop offset="0.958" stop-color="#fff" stop-opacity="0.858"/><stop offset="1.000" stop-color="#fff" stop-opacity="0.959"/></linearGradient>
<linearGradient id="hl0_2" gradientUnits="userSpaceOnUse" x1="0" y1="47.2" x2="0" y2="452.8"><stop offset="0.000" stop-color="#fff" stop-opacity="0.877"/><stop offset="0.042" stop-color="#fff" stop-opacity="0.834"/><stop offset="0.083" stop-color="#fff" stop-opacity="0.809"/><stop offset="0.125" stop-color="#fff" stop-opacity="0.944"/><stop offset="0.167" stop-color="#fff" stop-opacity="0.790"/><stop offset="0.208" stop-color="#fff" stop-opacity="0.897"/><stop offset="0.250" stop-color="#fff" stop-opacity="0.884"/><stop offset="0.292" stop-color="#fff" stop-opacity="0.884"/><stop offset="0.333" stop-color="#fff" stop-opacity="0.774"/><stop offset="0.375" stop-color="#fff" stop-opacity="0.911"/><stop offset="0.417" stop-color="#fff" stop-opacity="0.978"/><stop offset="0.458" stop-color="#fff" stop-opacity="0.823"/><stop offset="0.500" stop-color="#fff" stop-opacity="0.826"/><stop offset="0.542" stop-color="#fff" stop-opacity="0.976"/><stop offset="0.583" stop-color="#fff" stop-opacity="0.890"/><stop offset="0.625" stop-color="#fff" stop-opacity="0.811"/><stop offset="0.667" stop-color="#fff" stop-opacity="0.743"/><stop offset="0.708" stop-color="#fff" stop-opacity="0.936"/><stop offset="0.750" stop-color="#fff" stop-opacity="0.830"/><stop offset="0.792" stop-color="#fff" stop-opacity="0.861"/><stop offset="0.833" stop-color="#fff" stop-opacity="0.811"/><stop offset="0.875" stop-color="#fff" stop-opacity="0.905"/><stop offset="0.917" stop-color="#fff" stop-opacity="0.930"/><stop offset="0.958" stop-color="#fff" stop-opacity="0.821"/><stop offset="1.000" stop-color="#fff" stop-opacity="0.760"/></linearGradient>
<linearGradient id="hl0_3" gradientUnits="userSpaceOnUse" x1="0" y1="47.2" x2="0" y2="452.8"><stop offset="0.000" stop-color="#fff" stop-opacity="0.967"/><stop offset="0.042" stop-color="#fff" stop-opacity="0.947"/><stop offset="0.083" stop-color="#fff" stop-opacity="0.723"/><stop offset="0.125" stop-color="#fff" stop-opacity="0.860"/><stop offset="0.167" stop-color="#fff" stop-opacity="0.891"/><stop offset="0.208" stop-color="#fff" stop-opacity="0.819"/><stop offset="0.250" stop-color="#fff" stop-opacity="0.902"/><stop offset="0.292" stop-color="#fff" stop-opacity="0.960"/><stop offset="0.333" stop-color="#fff" stop-opacity="0.867"/><stop offset="0.375" stop-color="#fff" stop-opacity="0.817"/><stop offset="0.417" stop-color="#fff" stop-opacity="0.767"/><stop offset="0.458" stop-color="#fff" stop-opacity="0.781"/><stop offset="0.500" stop-color="#fff" stop-opacity="0.756"/><stop offset="0.542" stop-color="#fff" stop-opacity="0.746"/><stop offset="0.583" stop-color="#fff" stop-opacity="0.771"/><stop offset="0.625" stop-color="#fff" stop-opacity="0.930"/><stop offset="0.667" stop-color="#fff" stop-opacity="0.853"/><stop offset="0.708" stop-color="#fff" stop-opacity="0.921"/><stop offset="0.750" stop-color="#fff" stop-opacity="0.950"/><stop offset="0.792" stop-color="#fff" stop-opacity="0.922"/><stop offset="0.833" stop-color="#fff" stop-opacity="0.730"/><stop offset="0.875" stop-color="#fff" stop-opacity="0.951"/><stop offset="0.917" stop-color="#fff" stop-opacity="0.741"/><stop offset="0.958" stop-color="#fff" stop-opacity="0.912"/><stop offset="1.000" stop-color="#fff" stop-opacity="0.929"/></linearGradient>
<linearGradient id="hl0_4" gradientUnits="userSpaceOnUse" x1="0" y1="47.2" x2="0" y2="452.8"><stop offset="0.000" stop-color="#fff" stop-opacity="0.847"/><stop offset="0.042" stop-color="#fff" stop-opacity="0.786"/><stop offset="0.083" stop-color="#fff" stop-opacity="0.706"/><stop offset="0.125" stop-color="#fff" stop-opacity="0.709"/><stop offset="0.167" stop-color="#fff" stop-opacity="0.842"/><stop offset="0.208" stop-color="#fff" stop-opacity="0.747"/><stop offset="0.250" stop-color="#fff" stop-opacity="0.817"/><stop offset="0.292" stop-color="#fff" stop-opacity="0.752"/><stop offset="0.333" stop-color="#fff" stop-opacity="0.728"/><stop offset="0.375" stop-color="#fff" stop-opacity="0.760"/><stop offset="0.417" stop-color="#fff" stop-opacity="0.863"/><stop offset="0.458" stop-color="#fff" stop-opacity="0.806"/><stop offset="0.500" stop-color="#fff" stop-opacity="0.783"/><stop offset="0.542" stop-color="#fff" stop-opacity="0.806"/><stop offset="0.583" stop-color="#fff" stop-opacity="0.822"/><stop offset="0.625" stop-color="#fff" stop-opacity="0.813"/><stop offset="0.667" stop-color="#fff" stop-opacity="0.796"/><stop offset="0.708" stop-color="#fff" stop-opacity="0.922"/><stop offset="0.750" stop-color="#fff" stop-opacity="0.870"/><stop offset="0.792" stop-color="#fff" stop-opacity="0.744"/><stop offset="0.833" stop-color="#fff" stop-opacity="0.765"/><stop offset="0.875" stop-color="#fff" stop-opacity="0.734"/><stop offset="0.917" stop-color="#fff" stop-opacity="0.776"/><stop offset="0.958" stop-color="#fff" stop-opacity="0.695"/><stop offset="1.000" stop-color="#fff" stop-opacity="0.868"/></linearGradient>
<linearGradient id="hl0_5" gradientUnits="userSpaceOnUse" x1="0" y1="47.2" x2="0" y2="452.8"><stop offset="0.000" stop-color="#fff" stop-opacity="0.710"/><stop offset="0.042" stop-color="#fff" stop-opacity="0.680"/><stop offset="0.083" stop-color="#fff" stop-opacity="0.778"/><stop offset="0.125" stop-color="#fff" stop-opacity="0.660"/><stop offset="0.167" stop-color="#fff" stop-opacity="0.712"/><stop offset="0.208" stop-color="#fff" stop-opacity="0.785"/><stop offset="0.250" stop-color="#fff" stop-opacity="0.708"/><stop offset="0.292" stop-color="#fff" stop-opacity="0.719"/><stop offset="0.333" stop-color="#fff" stop-opacity="0.669"/><stop offset="0.375" stop-color="#fff" stop-opacity="0.800"/><stop offset="0.417" stop-color="#fff" stop-opacity="0.749"/><stop offset="0.458" stop-color="#fff" stop-opacity="0.655"/><stop offset="0.500" stop-color="#fff" stop-opacity="0.666"/><stop offset="0.542" stop-color="#fff" stop-opacity="0.715"/><stop offset="0.583" stop-color="#fff" stop-opacity="0.700"/><stop offset="0.625" stop-color="#fff" stop-opacity="0.701"/><stop offset="0.667" stop-color="#fff" stop-opacity="0.632"/><stop offset="0.708" stop-color="#fff" stop-opacity="0.712"/><stop offset="0.750" stop-color="#fff" stop-opacity="0.738"/><stop offset="0.792" stop-color="#fff" stop-opacity="0.751"/><stop offset="0.833" stop-color="#fff" stop-opacity="0.685"/><stop offset="0.875" stop-color="#fff" stop-opacity="0.685"/><stop offset="0.917" stop-color="#fff" stop-opacity="0.697"/><stop offset="0.958" stop-color="#fff" stop-opacity="0.704"/><stop offset="1.000" stop-color="#fff" stop-opacity="0.691"/></linearGradient>
<clipPath id="hc1"><rect x="219.7" y="47.2" width="135.2" height="405.6"/></clipPath>
<linearGradient id="hbg1" x1="0" y1="0" x2="1" y2="0"><stop offset="0" stop-color="rgb(18,18,18)"/><stop offset="0.06" stop-color="rgb(26,26,26)"/><stop offset="0.15" stop-color="rgb(43,43,43)"/><stop offset="0.2" stop-color="rgb(39,39,39)"/><stop offset="0.25" stop-color="rgb(39,39,39)"/><stop offset="0.8" stop-color="rgb(39,39,39)"/><stop offset="0.86" stop-color="rgb(35,35,35)"/><stop offset="0.93" stop-color="rgb(22,22,22)"/><stop offset="1.0" stop-color="rgb(12,12,12)"/></linearGradient>
<linearGradient id="hl1_0" gradientUnits="userSpaceOnUse" x1="0" y1="47.2" x2="0" y2="452.8"><stop offset="0.000" stop-color="#fff" stop-opacity="0.834"/><stop offset="0.042" stop-color="#fff" stop-opacity="0.848"/><stop offset="0.083" stop-color="#fff" stop-opacity="0.911"/><stop offset="0.125" stop-color="#fff" stop-opacity="0.925"/><stop offset="0.167" stop-color="#fff" stop-opacity="0.921"/><stop offset="0.208" stop-color="#fff" stop-opacity="0.793"/><stop offset="0.250" stop-color="#fff" stop-opacity="0.937"/><stop offset="0.292" stop-color="#fff" stop-opacity="0.808"/><stop offset="0.333" stop-color="#fff" stop-opacity="0.779"/><stop offset="0.375" stop-color="#fff" stop-opacity="0.726"/><stop offset="0.417" stop-color="#fff" stop-opacity="0.829"/><stop offset="0.458" stop-color="#fff" stop-opacity="0.741"/><stop offset="0.500" stop-color="#fff" stop-opacity="0.771"/><stop offset="0.542" stop-color="#fff" stop-opacity="0.854"/><stop offset="0.583" stop-color="#fff" stop-opacity="0.895"/><stop offset="0.625" stop-color="#fff" stop-opacity="0.889"/><stop offset="0.667" stop-color="#fff" stop-opacity="0.724"/><stop offset="0.708" stop-color="#fff" stop-opacity="0.718"/><stop offset="0.750" stop-color="#fff" stop-opacity="0.766"/><stop offset="0.792" stop-color="#fff" stop-opacity="0.839"/><stop offset="0.833" stop-color="#fff" stop-opacity="0.910"/><stop offset="0.875" stop-color="#fff" stop-opacity="0.901"/><stop offset="0.917" stop-color="#fff" stop-opacity="0.934"/><stop offset="0.958" stop-color="#fff" stop-opacity="0.848"/><stop offset="1.000" stop-color="#fff" stop-opacity="0.860"/></linearGradient>
<linearGradient id="hl1_1" gradientUnits="userSpaceOnUse" x1="0" y1="47.2" x2="0" y2="452.8"><stop offset="0.000" stop-color="#fff" stop-opacity="0.816"/><stop offset="0.042" stop-color="#fff" stop-opacity="0.822"/><stop offset="0.083" stop-color="#fff" stop-opacity="0.794"/><stop offset="0.125" stop-color="#fff" stop-opacity="0.879"/><stop offset="0.167" stop-color="#fff" stop-opacity="0.898"/><stop offset="0.208" stop-color="#fff" stop-opacity="0.889"/><stop offset="0.250" stop-color="#fff" stop-opacity="0.842"/><stop offset="0.292" stop-color="#fff" stop-opacity="0.850"/><stop offset="0.333" stop-color="#fff" stop-opacity="0.805"/><stop offset="0.375" stop-color="#fff" stop-opacity="0.952"/><stop offset="0.417" stop-color="#fff" stop-opacity="0.891"/><stop offset="0.458" stop-color="#fff" stop-opacity="0.935"/><stop offset="0.500" stop-color="#fff" stop-opacity="0.951"/><stop offset="0.542" stop-color="#fff" stop-opacity="0.813"/><stop offset="0.583" stop-color="#fff" stop-opacity="0.770"/><stop offset="0.625" stop-color="#fff" stop-opacity="0.814"/><stop offset="0.667" stop-color="#fff" stop-opacity="0.976"/><stop offset="0.708" stop-color="#fff" stop-opacity="0.946"/><stop offset="0.750" stop-color="#fff" stop-opacity="0.845"/><stop offset="0.792" stop-color="#fff" stop-opacity="0.942"/><stop offset="0.833" stop-color="#fff" stop-opacity="0.829"/><stop offset="0.875" stop-color="#fff" stop-opacity="0.965"/><stop offset="0.917" stop-color="#fff" stop-opacity="0.763"/><stop offset="0.958" stop-color="#fff" stop-opacity="0.933"/><stop offset="1.000" stop-color="#fff" stop-opacity="0.995"/></linearGradient>
<linearGradient id="hl1_2" gradientUnits="userSpaceOnUse" x1="0" y1="47.2" x2="0" y2="452.8"><stop offset="0.000" stop-color="#fff" stop-opacity="0.849"/><stop offset="0.042" stop-color="#fff" stop-opacity="0.860"/><stop offset="0.083" stop-color="#fff" stop-opacity="0.774"/><stop offset="0.125" stop-color="#fff" stop-opacity="0.812"/><stop offset="0.167" stop-color="#fff" stop-opacity="0.801"/><stop offset="0.208" stop-color="#fff" stop-opacity="0.817"/><stop offset="0.250" stop-color="#fff" stop-opacity="0.758"/><stop offset="0.292" stop-color="#fff" stop-opacity="0.818"/><stop offset="0.333" stop-color="#fff" stop-opacity="0.767"/><stop offset="0.375" stop-color="#fff" stop-opacity="0.876"/><stop offset="0.417" stop-color="#fff" stop-opacity="0.846"/><stop offset="0.458" stop-color="#fff" stop-opacity="0.799"/><stop offset="0.500" stop-color="#fff" stop-opacity="0.985"/><stop offset="0.542" stop-color="#fff" stop-opacity="0.820"/><stop offset="0.583" stop-color="#fff" stop-opacity="0.878"/><stop offset="0.625" stop-color="#fff" stop-opacity="0.973"/><stop offset="0.667" stop-color="#fff" stop-opacity="0.937"/><stop offset="0.708" stop-color="#fff" stop-opacity="0.991"/><stop offset="0.750" stop-color="#fff" stop-opacity="0.898"/><stop offset="0.792" stop-color="#fff" stop-opacity="0.966"/><stop offset="0.833" stop-color="#fff" stop-opacity="0.757"/><stop offset="0.875" stop-color="#fff" stop-opacity="0.931"/><stop offset="0.917" stop-color="#fff" stop-opacity="0.827"/><stop offset="0.958" stop-color="#fff" stop-opacity="0.823"/><stop offset="1.000" stop-color="#fff" stop-opacity="0.940"/></linearGradient>
<linearGradient id="hl1_3" gradientUnits="userSpaceOnUse" x1="0" y1="47.2" x2="0" y2="452.8"><stop offset="0.000" stop-color="#fff" stop-opacity="0.933"/><stop offset="0.042" stop-color="#fff" stop-opacity="0.829"/><stop offset="0.083" stop-color="#fff" stop-opacity="0.834"/><stop offset="0.125" stop-color="#fff" stop-opacity="0.812"/><stop offset="0.167" stop-color="#fff" stop-opacity="0.983"/><stop offset="0.208" stop-color="#fff" stop-opacity="0.900"/><stop offset="0.250" stop-color="#fff" stop-opacity="0.808"/><stop offset="0.292" stop-color="#fff" stop-opacity="0.878"/><stop offset="0.333" stop-color="#fff" stop-opacity="0.755"/><stop offset="0.375" stop-color="#fff" stop-opacity="0.810"/><stop offset="0.417" stop-color="#fff" stop-opacity="0.870"/><stop offset="0.458" stop-color="#fff" stop-opacity="0.993"/><stop offset="0.500" stop-color="#fff" stop-opacity="0.963"/><stop offset="0.542" stop-color="#fff" stop-opacity="0.882"/><stop offset="0.583" stop-color="#fff" stop-opacity="0.938"/><stop offset="0.625" stop-color="#fff" stop-opacity="0.805"/><stop offset="0.667" stop-color="#fff" stop-opacity="0.920"/><stop offset="0.708" stop-color="#fff" stop-opacity="0.999"/><stop offset="0.750" stop-color="#fff" stop-opacity="0.780"/><stop offset="0.792" stop-color="#fff" stop-opacity="0.982"/><stop offset="0.833" stop-color="#fff" stop-opacity="0.996"/><stop offset="0.875" stop-color="#fff" stop-opacity="0.836"/><stop offset="0.917" stop-color="#fff" stop-opacity="0.952"/><stop offset="0.958" stop-color="#fff" stop-opacity="0.997"/><stop offset="1.000" stop-color="#fff" stop-opacity="0.778"/></linearGradient>
<linearGradient id="hl1_4" gradientUnits="userSpaceOnUse" x1="0" y1="47.2" x2="0" y2="452.8"><stop offset="0.000" stop-color="#fff" stop-opacity="0.818"/><stop offset="0.042" stop-color="#fff" stop-opacity="0.850"/><stop offset="0.083" stop-color="#fff" stop-opacity="0.899"/><stop offset="0.125" stop-color="#fff" stop-opacity="0.769"/><stop offset="0.167" stop-color="#fff" stop-opacity="0.889"/><stop offset="0.208" stop-color="#fff" stop-opacity="0.877"/><stop offset="0.250" stop-color="#fff" stop-opacity="0.915"/><stop offset="0.292" stop-color="#fff" stop-opacity="0.884"/><stop offset="0.333" stop-color="#fff" stop-opacity="0.916"/><stop offset="0.375" stop-color="#fff" stop-opacity="0.852"/><stop offset="0.417" stop-color="#fff" stop-opacity="0.837"/><stop offset="0.458" stop-color="#fff" stop-opacity="0.817"/><stop offset="0.500" stop-color="#fff" stop-opacity="0.803"/><stop offset="0.542" stop-color="#fff" stop-opacity="0.817"/><stop offset="0.583" stop-color="#fff" stop-opacity="0.825"/><stop offset="0.625" stop-color="#fff" stop-opacity="0.800"/><stop offset="0.667" stop-color="#fff" stop-opacity="0.739"/><stop offset="0.708" stop-color="#fff" stop-opacity="0.801"/><stop offset="0.750" stop-color="#fff" stop-opacity="0.936"/><stop offset="0.792" stop-color="#fff" stop-opacity="0.779"/><stop offset="0.833" stop-color="#fff" stop-opacity="0.946"/><stop offset="0.875" stop-color="#fff" stop-opacity="0.909"/><stop offset="0.917" stop-color="#fff" stop-opacity="0.815"/><stop offset="0.958" stop-color="#fff" stop-opacity="0.757"/><stop offset="1.000" stop-color="#fff" stop-opacity="0.920"/></linearGradient>
<linearGradient id="hl1_5" gradientUnits="userSpaceOnUse" x1="0" y1="47.2" x2="0" y2="452.8"><stop offset="0.000" stop-color="#fff" stop-opacity="0.791"/><stop offset="0.042" stop-color="#fff" stop-opacity="0.657"/><stop offset="0.083" stop-color="#fff" stop-opacity="0.731"/><stop offset="0.125" stop-color="#fff" stop-opacity="0.749"/><stop offset="0.167" stop-color="#fff" stop-opacity="0.721"/><stop offset="0.208" stop-color="#fff" stop-opacity="0.617"/><stop offset="0.250" stop-color="#fff" stop-opacity="0.641"/><stop offset="0.292" stop-color="#fff" stop-opacity="0.742"/><stop offset="0.333" stop-color="#fff" stop-opacity="0.724"/><stop offset="0.375" stop-color="#fff" stop-opacity="0.732"/><stop offset="0.417" stop-color="#fff" stop-opacity="0.650"/><stop offset="0.458" stop-color="#fff" stop-opacity="0.775"/><stop offset="0.500" stop-color="#fff" stop-opacity="0.754"/><stop offset="0.542" stop-color="#fff" stop-opacity="0.693"/><stop offset="0.583" stop-color="#fff" stop-opacity="0.770"/><stop offset="0.625" stop-color="#fff" stop-opacity="0.655"/><stop offset="0.667" stop-color="#fff" stop-opacity="0.703"/><stop offset="0.708" stop-color="#fff" stop-opacity="0.700"/><stop offset="0.750" stop-color="#fff" stop-opacity="0.793"/><stop offset="0.792" stop-color="#fff" stop-opacity="0.787"/><stop offset="0.833" stop-color="#fff" stop-opacity="0.663"/><stop offset="0.875" stop-color="#fff" stop-opacity="0.754"/><stop offset="0.917" stop-color="#fff" stop-opacity="0.654"/><stop offset="0.958" stop-color="#fff" stop-opacity="0.776"/><stop offset="1.000" stop-color="#fff" stop-opacity="0.777"/></linearGradient>
<linearGradient id="hl1_6" gradientUnits="userSpaceOnUse" x1="0" y1="47.2" x2="0" y2="452.8"><stop offset="0.000" stop-color="#fff" stop-opacity="0.275"/><stop offset="0.042" stop-color="#fff" stop-opacity="0.225"/><stop offset="0.083" stop-color="#fff" stop-opacity="0.246"/><stop offset="0.125" stop-color="#fff" stop-opacity="0.235"/><stop offset="0.167" stop-color="#fff" stop-opacity="0.261"/><stop offset="0.208" stop-color="#fff" stop-opacity="0.225"/><stop offset="0.250" stop-color="#fff" stop-opacity="0.227"/><stop offset="0.292" stop-color="#fff" stop-opacity="0.230"/><stop offset="0.333" stop-color="#fff" stop-opacity="0.289"/><stop offset="0.375" stop-color="#fff" stop-opacity="0.269"/><stop offset="0.417" stop-color="#fff" stop-opacity="0.290"/><stop offset="0.458" stop-color="#fff" stop-opacity="0.296"/><stop offset="0.500" stop-color="#fff" stop-opacity="0.266"/><stop offset="0.542" stop-color="#fff" stop-opacity="0.288"/><stop offset="0.583" stop-color="#fff" stop-opacity="0.256"/><stop offset="0.625" stop-color="#fff" stop-opacity="0.269"/><stop offset="0.667" stop-color="#fff" stop-opacity="0.235"/><stop offset="0.708" stop-color="#fff" stop-opacity="0.257"/><stop offset="0.750" stop-color="#fff" stop-opacity="0.230"/><stop offset="0.792" stop-color="#fff" stop-opacity="0.258"/><stop offset="0.833" stop-color="#fff" stop-opacity="0.297"/><stop offset="0.875" stop-color="#fff" stop-opacity="0.299"/><stop offset="0.917" stop-color="#fff" stop-opacity="0.280"/><stop offset="0.958" stop-color="#fff" stop-opacity="0.225"/><stop offset="1.000" stop-color="#fff" stop-opacity="0.299"/></linearGradient>
<clipPath id="hc2"><rect x="372.2" y="47.2" width="135.3" height="405.6"/></clipPath>
<linearGradient id="hbg2" x1="0" y1="0" x2="1" y2="0"><stop offset="0" stop-color="rgb(12,12,12)"/><stop offset="0.06" stop-color="rgb(24,24,24)"/><stop offset="0.13" stop-color="rgb(43,43,43)"/><stop offset="0.2" stop-color="rgb(43,43,43)"/><stop offset="0.25" stop-color="rgb(43,43,43)"/><stop offset="0.8" stop-color="rgb(43,43,43)"/><stop offset="0.86" stop-color="rgb(35,35,35)"/><stop offset="0.93" stop-color="rgb(18,18,18)"/><stop offset="1.0" stop-color="rgb(8,8,8)"/></linearGradient>
<linearGradient id="hl2_0" gradientUnits="userSpaceOnUse" x1="0" y1="47.2" x2="0" y2="452.8"><stop offset="0.000" stop-color="#fff" stop-opacity="0.241"/><stop offset="0.042" stop-color="#fff" stop-opacity="0.281"/><stop offset="0.083" stop-color="#fff" stop-opacity="0.270"/><stop offset="0.125" stop-color="#fff" stop-opacity="0.352"/><stop offset="0.167" stop-color="#fff" stop-opacity="0.313"/><stop offset="0.208" stop-color="#fff" stop-opacity="0.366"/><stop offset="0.250" stop-color="#fff" stop-opacity="0.429"/><stop offset="0.292" stop-color="#fff" stop-opacity="0.388"/><stop offset="0.333" stop-color="#fff" stop-opacity="0.479"/><stop offset="0.375" stop-color="#fff" stop-opacity="0.471"/><stop offset="0.417" stop-color="#fff" stop-opacity="0.467"/><stop offset="0.458" stop-color="#fff" stop-opacity="0.499"/><stop offset="0.500" stop-color="#fff" stop-opacity="0.513"/><stop offset="0.542" stop-color="#fff" stop-opacity="0.498"/><stop offset="0.583" stop-color="#fff" stop-opacity="0.620"/><stop offset="0.625" stop-color="#fff" stop-opacity="0.544"/><stop offset="0.667" stop-color="#fff" stop-opacity="0.664"/><stop offset="0.708" stop-color="#fff" stop-opacity="0.663"/><stop offset="0.750" stop-color="#fff" stop-opacity="0.533"/><stop offset="0.792" stop-color="#fff" stop-opacity="0.594"/><stop offset="0.833" stop-color="#fff" stop-opacity="0.655"/><stop offset="0.875" stop-color="#fff" stop-opacity="0.744"/><stop offset="0.917" stop-color="#fff" stop-opacity="0.632"/><stop offset="0.958" stop-color="#fff" stop-opacity="0.744"/><stop offset="1.000" stop-color="#fff" stop-opacity="0.710"/></linearGradient>
<linearGradient id="hl2_1" gradientUnits="userSpaceOnUse" x1="0" y1="47.2" x2="0" y2="452.8"><stop offset="0.000" stop-color="#fff" stop-opacity="0.944"/><stop offset="0.042" stop-color="#fff" stop-opacity="0.981"/><stop offset="0.083" stop-color="#fff" stop-opacity="0.938"/><stop offset="0.125" stop-color="#fff" stop-opacity="0.790"/><stop offset="0.167" stop-color="#fff" stop-opacity="0.938"/><stop offset="0.208" stop-color="#fff" stop-opacity="0.854"/><stop offset="0.250" stop-color="#fff" stop-opacity="0.958"/><stop offset="0.292" stop-color="#fff" stop-opacity="0.862"/><stop offset="0.333" stop-color="#fff" stop-opacity="0.976"/><stop offset="0.375" stop-color="#fff" stop-opacity="0.996"/><stop offset="0.417" stop-color="#fff" stop-opacity="0.954"/><stop offset="0.458" stop-color="#fff" stop-opacity="0.955"/><stop offset="0.500" stop-color="#fff" stop-opacity="0.953"/><stop offset="0.542" stop-color="#fff" stop-opacity="0.894"/><stop offset="0.583" stop-color="#fff" stop-opacity="0.785"/><stop offset="0.625" stop-color="#fff" stop-opacity="0.996"/><stop offset="0.667" stop-color="#fff" stop-opacity="0.861"/><stop offset="0.708" stop-color="#fff" stop-opacity="0.744"/><stop offset="0.750" stop-color="#fff" stop-opacity="0.853"/><stop offset="0.792" stop-color="#fff" stop-opacity="0.848"/><stop offset="0.833" stop-color="#fff" stop-opacity="0.792"/><stop offset="0.875" stop-color="#fff" stop-opacity="0.990"/><stop offset="0.917" stop-color="#fff" stop-opacity="0.769"/><stop offset="0.958" stop-color="#fff" stop-opacity="0.975"/><stop offset="1.000" stop-color="#fff" stop-opacity="0.883"/></linearGradient>
<linearGradient id="hl2_2" gradientUnits="userSpaceOnUse" x1="0" y1="47.2" x2="0" y2="452.8"><stop offset="0.000" stop-color="#fff" stop-opacity="0.786"/><stop offset="0.042" stop-color="#fff" stop-opacity="0.833"/><stop offset="0.083" stop-color="#fff" stop-opacity="0.857"/><stop offset="0.125" stop-color="#fff" stop-opacity="0.771"/><stop offset="0.167" stop-color="#fff" stop-opacity="0.938"/><stop offset="0.208" stop-color="#fff" stop-opacity="0.909"/><stop offset="0.250" stop-color="#fff" stop-opacity="0.995"/><stop offset="0.292" stop-color="#fff" stop-opacity="0.956"/><stop offset="0.333" stop-color="#fff" stop-opacity="0.944"/><stop offset="0.375" stop-color="#fff" stop-opacity="0.999"/><stop offset="0.417" stop-color="#fff" stop-opacity="0.982"/><stop offset="0.458" stop-color="#fff" stop-opacity="0.907"/><stop offset="0.500" stop-color="#fff" stop-opacity="0.880"/><stop offset="0.542" stop-color="#fff" stop-opacity="0.876"/><stop offset="0.583" stop-color="#fff" stop-opacity="0.952"/><stop offset="0.625" stop-color="#fff" stop-opacity="0.981"/><stop offset="0.667" stop-color="#fff" stop-opacity="0.956"/><stop offset="0.708" stop-color="#fff" stop-opacity="0.958"/><stop offset="0.750" stop-color="#fff" stop-opacity="0.747"/><stop offset="0.792" stop-color="#fff" stop-opacity="0.849"/><stop offset="0.833" stop-color="#fff" stop-opacity="0.763"/><stop offset="0.875" stop-color="#fff" stop-opacity="0.892"/><stop offset="0.917" stop-color="#fff" stop-opacity="0.891"/><stop offset="0.958" stop-color="#fff" stop-opacity="0.886"/><stop offset="1.000" stop-color="#fff" stop-opacity="0.963"/></linearGradient>
<linearGradient id="hl2_3" gradientUnits="userSpaceOnUse" x1="0" y1="47.2" x2="0" y2="452.8"><stop offset="0.000" stop-color="#fff" stop-opacity="0.798"/><stop offset="0.042" stop-color="#fff" stop-opacity="0.929"/><stop offset="0.083" stop-color="#fff" stop-opacity="0.892"/><stop offset="0.125" stop-color="#fff" stop-opacity="0.795"/><stop offset="0.167" stop-color="#fff" stop-opacity="0.994"/><stop offset="0.208" stop-color="#fff" stop-opacity="0.754"/><stop offset="0.250" stop-color="#fff" stop-opacity="0.861"/><stop offset="0.292" stop-color="#fff" stop-opacity="0.879"/><stop offset="0.333" stop-color="#fff" stop-opacity="0.895"/><stop offset="0.375" stop-color="#fff" stop-opacity="0.995"/><stop offset="0.417" stop-color="#fff" stop-opacity="0.883"/><stop offset="0.458" stop-color="#fff" stop-opacity="0.971"/><stop offset="0.500" stop-color="#fff" stop-opacity="0.817"/><stop offset="0.542" stop-color="#fff" stop-opacity="0.865"/><stop offset="0.583" stop-color="#fff" stop-opacity="0.778"/><stop offset="0.625" stop-color="#fff" stop-opacity="0.906"/><stop offset="0.667" stop-color="#fff" stop-opacity="0.850"/><stop offset="0.708" stop-color="#fff" stop-opacity="0.944"/><stop offset="0.750" stop-color="#fff" stop-opacity="0.769"/><stop offset="0.792" stop-color="#fff" stop-opacity="0.861"/><stop offset="0.833" stop-color="#fff" stop-opacity="0.989"/><stop offset="0.875" stop-color="#fff" stop-opacity="0.743"/><stop offset="0.917" stop-color="#fff" stop-opacity="0.912"/><stop offset="0.958" stop-color="#fff" stop-opacity="0.916"/><stop offset="1.000" stop-color="#fff" stop-opacity="0.929"/></linearGradient>
<linearGradient id="hl2_4" gradientUnits="userSpaceOnUse" x1="0" y1="47.2" x2="0" y2="452.8"><stop offset="0.000" stop-color="#fff" stop-opacity="0.858"/><stop offset="0.042" stop-color="#fff" stop-opacity="0.844"/><stop offset="0.083" stop-color="#fff" stop-opacity="0.960"/><stop offset="0.125" stop-color="#fff" stop-opacity="0.789"/><stop offset="0.167" stop-color="#fff" stop-opacity="0.895"/><stop offset="0.208" stop-color="#fff" stop-opacity="0.886"/><stop offset="0.250" stop-color="#fff" stop-opacity="0.901"/><stop offset="0.292" stop-color="#fff" stop-opacity="0.838"/><stop offset="0.333" stop-color="#fff" stop-opacity="0.722"/><stop offset="0.375" stop-color="#fff" stop-opacity="0.913"/><stop offset="0.417" stop-color="#fff" stop-opacity="0.788"/><stop offset="0.458" stop-color="#fff" stop-opacity="0.915"/><stop offset="0.500" stop-color="#fff" stop-opacity="0.967"/><stop offset="0.542" stop-color="#fff" stop-opacity="0.914"/><stop offset="0.583" stop-color="#fff" stop-opacity="0.819"/><stop offset="0.625" stop-color="#fff" stop-opacity="0.934"/><stop offset="0.667" stop-color="#fff" stop-opacity="0.815"/><stop offset="0.708" stop-color="#fff" stop-opacity="0.799"/><stop offset="0.750" stop-color="#fff" stop-opacity="0.862"/><stop offset="0.792" stop-color="#fff" stop-opacity="0.883"/><stop offset="0.833" stop-color="#fff" stop-opacity="0.891"/><stop offset="0.875" stop-color="#fff" stop-opacity="0.857"/><stop offset="0.917" stop-color="#fff" stop-opacity="0.821"/><stop offset="0.958" stop-color="#fff" stop-opacity="0.905"/><stop offset="1.000" stop-color="#fff" stop-opacity="0.800"/></linearGradient>
<linearGradient id="hl2_5" gradientUnits="userSpaceOnUse" x1="0" y1="47.2" x2="0" y2="452.8"><stop offset="0.000" stop-color="#fff" stop-opacity="0.808"/><stop offset="0.042" stop-color="#fff" stop-opacity="0.667"/><stop offset="0.083" stop-color="#fff" stop-opacity="0.697"/><stop offset="0.125" stop-color="#fff" stop-opacity="0.869"/><stop offset="0.167" stop-color="#fff" stop-opacity="0.716"/><stop offset="0.208" stop-color="#fff" stop-opacity="0.763"/><stop offset="0.250" stop-color="#fff" stop-opacity="0.678"/><stop offset="0.292" stop-color="#fff" stop-opacity="0.845"/><stop offset="0.333" stop-color="#fff" stop-opacity="0.743"/><stop offset="0.375" stop-color="#fff" stop-opacity="0.677"/><stop offset="0.417" stop-color="#fff" stop-opacity="0.730"/><stop offset="0.458" stop-color="#fff" stop-opacity="0.884"/><stop offset="0.500" stop-color="#fff" stop-opacity="0.843"/><stop offset="0.542" stop-color="#fff" stop-opacity="0.667"/><stop offset="0.583" stop-color="#fff" stop-opacity="0.889"/><stop offset="0.625" stop-color="#fff" stop-opacity="0.683"/><stop offset="0.667" stop-color="#fff" stop-opacity="0.779"/><stop offset="0.708" stop-color="#fff" stop-opacity="0.791"/><stop offset="0.750" stop-color="#fff" stop-opacity="0.849"/><stop offset="0.792" stop-color="#fff" stop-opacity="0.699"/><stop offset="0.833" stop-color="#fff" stop-opacity="0.859"/><stop offset="0.875" stop-color="#fff" stop-opacity="0.730"/><stop offset="0.917" stop-color="#fff" stop-opacity="0.839"/><stop offset="0.958" stop-color="#fff" stop-opacity="0.883"/><stop offset="1.000" stop-color="#fff" stop-opacity="0.804"/></linearGradient>
<linearGradient id="hl2_6" gradientUnits="userSpaceOnUse" x1="0" y1="47.2" x2="0" y2="452.8"><stop offset="0.000" stop-color="#fff" stop-opacity="0.555"/><stop offset="0.042" stop-color="#fff" stop-opacity="0.672"/><stop offset="0.083" stop-color="#fff" stop-opacity="0.615"/><stop offset="0.125" stop-color="#fff" stop-opacity="0.657"/><stop offset="0.167" stop-color="#fff" stop-opacity="0.653"/><stop offset="0.208" stop-color="#fff" stop-opacity="0.520"/><stop offset="0.250" stop-color="#fff" stop-opacity="0.588"/><stop offset="0.292" stop-color="#fff" stop-opacity="0.588"/><stop offset="0.333" stop-color="#fff" stop-opacity="0.621"/><stop offset="0.375" stop-color="#fff" stop-opacity="0.557"/><stop offset="0.417" stop-color="#fff" stop-opacity="0.544"/><stop offset="0.458" stop-color="#fff" stop-opacity="0.554"/><stop offset="0.500" stop-color="#fff" stop-opacity="0.449"/><stop offset="0.542" stop-color="#fff" stop-opacity="0.540"/><stop offset="0.583" stop-color="#fff" stop-opacity="0.486"/><stop offset="0.625" stop-color="#fff" stop-opacity="0.481"/><stop offset="0.667" stop-color="#fff" stop-opacity="0.403"/><stop offset="0.708" stop-color="#fff" stop-opacity="0.440"/><stop offset="0.750" stop-color="#fff" stop-opacity="0.413"/><stop offset="0.792" stop-color="#fff" stop-opacity="0.375"/><stop offset="0.833" stop-color="#fff" stop-opacity="0.451"/><stop offset="0.875" stop-color="#fff" stop-opacity="0.426"/><stop offset="0.917" stop-color="#fff" stop-opacity="0.369"/><stop offset="0.958" stop-color="#fff" stop-opacity="0.315"/><stop offset="1.000" stop-color="#fff" stop-opacity="0.398"/></linearGradient>
<linearGradient id="hl2_7" gradientUnits="userSpaceOnUse" x1="0" y1="47.2" x2="0" y2="452.8"><stop offset="0.000" stop-color="#fff" stop-opacity="0.216"/><stop offset="0.042" stop-color="#fff" stop-opacity="0.244"/><stop offset="0.083" stop-color="#fff" stop-opacity="0.248"/><stop offset="0.125" stop-color="#fff" stop-opacity="0.269"/><stop offset="0.167" stop-color="#fff" stop-opacity="0.255"/><stop offset="0.208" stop-color="#fff" stop-opacity="0.251"/><stop offset="0.250" stop-color="#fff" stop-opacity="0.245"/><stop offset="0.292" stop-color="#fff" stop-opacity="0.278"/><stop offset="0.333" stop-color="#fff" stop-opacity="0.267"/><stop offset="0.375" stop-color="#fff" stop-opacity="0.233"/><stop offset="0.417" stop-color="#fff" stop-opacity="0.265"/><stop offset="0.458" stop-color="#fff" stop-opacity="0.276"/><stop offset="0.500" stop-color="#fff" stop-opacity="0.243"/><stop offset="0.542" stop-color="#fff" stop-opacity="0.213"/><stop offset="0.583" stop-color="#fff" stop-opacity="0.212"/><stop offset="0.625" stop-color="#fff" stop-opacity="0.278"/><stop offset="0.667" stop-color="#fff" stop-opacity="0.222"/><stop offset="0.708" stop-color="#fff" stop-opacity="0.266"/><stop offset="0.750" stop-color="#fff" stop-opacity="0.221"/><stop offset="0.792" stop-color="#fff" stop-opacity="0.224"/><stop offset="0.833" stop-color="#fff" stop-opacity="0.219"/><stop offset="0.875" stop-color="#fff" stop-opacity="0.267"/><stop offset="0.917" stop-color="#fff" stop-opacity="0.214"/><stop offset="0.958" stop-color="#fff" stop-opacity="0.242"/><stop offset="1.000" stop-color="#fff" stop-opacity="0.266"/></linearGradient>
<clipPath id="hc3"><rect x="524.7" y="47.2" width="135.3" height="405.6"/></clipPath>
<linearGradient id="hbg3" x1="0" y1="0" x2="1" y2="0"><stop offset="0" stop-color="rgb(43,43,43)"/><stop offset="0.08" stop-color="rgb(51,51,51)"/><stop offset="0.15" stop-color="rgb(57,57,57)"/><stop offset="0.2" stop-color="rgb(55,55,55)"/><stop offset="0.84" stop-color="rgb(49,49,49)"/><stop offset="0.89" stop-color="rgb(27,27,27)"/><stop offset="0.94" stop-color="rgb(12,12,12)"/><stop offset="1.0" stop-color="rgb(4,4,4)"/></linearGradient>
<linearGradient id="hl3_0" gradientUnits="userSpaceOnUse" x1="0" y1="47.2" x2="0" y2="452.8"><stop offset="0.000" stop-color="#fff" stop-opacity="0.373"/><stop offset="0.042" stop-color="#fff" stop-opacity="0.408"/><stop offset="0.083" stop-color="#fff" stop-opacity="0.401"/><stop offset="0.125" stop-color="#fff" stop-opacity="0.433"/><stop offset="0.167" stop-color="#fff" stop-opacity="0.352"/><stop offset="0.208" stop-color="#fff" stop-opacity="0.421"/><stop offset="0.250" stop-color="#fff" stop-opacity="0.415"/><stop offset="0.292" stop-color="#fff" stop-opacity="0.406"/><stop offset="0.333" stop-color="#fff" stop-opacity="0.498"/><stop offset="0.375" stop-color="#fff" stop-opacity="0.439"/><stop offset="0.417" stop-color="#fff" stop-opacity="0.542"/><stop offset="0.458" stop-color="#fff" stop-opacity="0.467"/><stop offset="0.500" stop-color="#fff" stop-opacity="0.508"/><stop offset="0.542" stop-color="#fff" stop-opacity="0.555"/><stop offset="0.583" stop-color="#fff" stop-opacity="0.570"/><stop offset="0.625" stop-color="#fff" stop-opacity="0.465"/><stop offset="0.667" stop-color="#fff" stop-opacity="0.589"/><stop offset="0.708" stop-color="#fff" stop-opacity="0.497"/><stop offset="0.750" stop-color="#fff" stop-opacity="0.549"/><stop offset="0.792" stop-color="#fff" stop-opacity="0.517"/><stop offset="0.833" stop-color="#fff" stop-opacity="0.621"/><stop offset="0.875" stop-color="#fff" stop-opacity="0.558"/><stop offset="0.917" stop-color="#fff" stop-opacity="0.569"/><stop offset="0.958" stop-color="#fff" stop-opacity="0.645"/><stop offset="1.000" stop-color="#fff" stop-opacity="0.638"/></linearGradient>
<linearGradient id="hl3_1" gradientUnits="userSpaceOnUse" x1="0" y1="47.2" x2="0" y2="452.8"><stop offset="0.000" stop-color="#fff" stop-opacity="0.879"/><stop offset="0.042" stop-color="#fff" stop-opacity="0.876"/><stop offset="0.083" stop-color="#fff" stop-opacity="0.922"/><stop offset="0.125" stop-color="#fff" stop-opacity="0.974"/><stop offset="0.167" stop-color="#fff" stop-opacity="0.992"/><stop offset="0.208" stop-color="#fff" stop-opacity="0.893"/><stop offset="0.250" stop-color="#fff" stop-opacity="0.903"/><stop offset="0.292" stop-color="#fff" stop-opacity="0.894"/><stop offset="0.333" stop-color="#fff" stop-opacity="0.830"/><stop offset="0.375" stop-color="#fff" stop-opacity="0.944"/><stop offset="0.417" stop-color="#fff" stop-opacity="0.772"/><stop offset="0.458" stop-color="#fff" stop-opacity="0.984"/><stop offset="0.500" stop-color="#fff" stop-opacity="0.864"/><stop offset="0.542" stop-color="#fff" stop-opacity="0.935"/><stop offset="0.583" stop-color="#fff" stop-opacity="0.920"/><stop offset="0.625" stop-color="#fff" stop-opacity="0.761"/><stop offset="0.667" stop-color="#fff" stop-opacity="0.850"/><stop offset="0.708" stop-color="#fff" stop-opacity="0.840"/><stop offset="0.750" stop-color="#fff" stop-opacity="0.772"/><stop offset="0.792" stop-color="#fff" stop-opacity="0.933"/><stop offset="0.833" stop-color="#fff" stop-opacity="0.848"/><stop offset="0.875" stop-color="#fff" stop-opacity="0.912"/><stop offset="0.917" stop-color="#fff" stop-opacity="0.751"/><stop offset="0.958" stop-color="#fff" stop-opacity="0.984"/><stop offset="1.000" stop-color="#fff" stop-opacity="0.847"/></linearGradient>
<linearGradient id="hl3_2" gradientUnits="userSpaceOnUse" x1="0" y1="47.2" x2="0" y2="452.8"><stop offset="0.000" stop-color="#fff" stop-opacity="0.957"/><stop offset="0.042" stop-color="#fff" stop-opacity="0.938"/><stop offset="0.083" stop-color="#fff" stop-opacity="0.764"/><stop offset="0.125" stop-color="#fff" stop-opacity="0.935"/><stop offset="0.167" stop-color="#fff" stop-opacity="0.925"/><stop offset="0.208" stop-color="#fff" stop-opacity="0.949"/><stop offset="0.250" stop-color="#fff" stop-opacity="0.943"/><stop offset="0.292" stop-color="#fff" stop-opacity="0.808"/><stop offset="0.333" stop-color="#fff" stop-opacity="0.894"/><stop offset="0.375" stop-color="#fff" stop-opacity="0.992"/><stop offset="0.417" stop-color="#fff" stop-opacity="0.803"/><stop offset="0.458" stop-color="#fff" stop-opacity="0.838"/><stop offset="0.500" stop-color="#fff" stop-opacity="0.859"/><stop offset="0.542" stop-color="#fff" stop-opacity="0.885"/><stop offset="0.583" stop-color="#fff" stop-opacity="0.937"/><stop offset="0.625" stop-color="#fff" stop-opacity="0.839"/><stop offset="0.667" stop-color="#fff" stop-opacity="0.905"/><stop offset="0.708" stop-color="#fff" stop-opacity="0.960"/><stop offset="0.750" stop-color="#fff" stop-opacity="0.747"/><stop offset="0.792" stop-color="#fff" stop-opacity="0.876"/><stop offset="0.833" stop-color="#fff" stop-opacity="0.766"/><stop offset="0.875" stop-color="#fff" stop-opacity="0.963"/><stop offset="0.917" stop-color="#fff" stop-opacity="0.889"/><stop offset="0.958" stop-color="#fff" stop-opacity="0.805"/><stop offset="1.000" stop-color="#fff" stop-opacity="0.949"/></linearGradient>
<linearGradient id="hl3_3" gradientUnits="userSpaceOnUse" x1="0" y1="47.2" x2="0" y2="452.8"><stop offset="0.000" stop-color="#fff" stop-opacity="0.795"/><stop offset="0.042" stop-color="#fff" stop-opacity="0.831"/><stop offset="0.083" stop-color="#fff" stop-opacity="0.967"/><stop offset="0.125" stop-color="#fff" stop-opacity="0.915"/><stop offset="0.167" stop-color="#fff" stop-opacity="0.944"/><stop offset="0.208" stop-color="#fff" stop-opacity="0.758"/><stop offset="0.250" stop-color="#fff" stop-opacity="0.812"/><stop offset="0.292" stop-color="#fff" stop-opacity="0.947"/><stop offset="0.333" stop-color="#fff" stop-opacity="0.989"/><stop offset="0.375" stop-color="#fff" stop-opacity="0.830"/><stop offset="0.417" stop-color="#fff" stop-opacity="0.815"/><stop offset="0.458" stop-color="#fff" stop-opacity="0.892"/><stop offset="0.500" stop-color="#fff" stop-opacity="0.851"/><stop offset="0.542" stop-color="#fff" stop-opacity="0.880"/><stop offset="0.583" stop-color="#fff" stop-opacity="0.935"/><stop offset="0.625" stop-color="#fff" stop-opacity="0.966"/><stop offset="0.667" stop-color="#fff" stop-opacity="0.767"/><stop offset="0.708" stop-color="#fff" stop-opacity="0.806"/><stop offset="0.750" stop-color="#fff" stop-opacity="0.850"/><stop offset="0.792" stop-color="#fff" stop-opacity="0.759"/><stop offset="0.833" stop-color="#fff" stop-opacity="0.934"/><stop offset="0.875" stop-color="#fff" stop-opacity="0.793"/><stop offset="0.917" stop-color="#fff" stop-opacity="0.949"/><stop offset="0.958" stop-color="#fff" stop-opacity="0.826"/><stop offset="1.000" stop-color="#fff" stop-opacity="0.917"/></linearGradient>
<linearGradient id="hl3_4" gradientUnits="userSpaceOnUse" x1="0" y1="47.2" x2="0" y2="452.8"><stop offset="0.000" stop-color="#fff" stop-opacity="0.899"/><stop offset="0.042" stop-color="#fff" stop-opacity="0.849"/><stop offset="0.083" stop-color="#fff" stop-opacity="0.867"/><stop offset="0.125" stop-color="#fff" stop-opacity="0.958"/><stop offset="0.167" stop-color="#fff" stop-opacity="0.980"/><stop offset="0.208" stop-color="#fff" stop-opacity="0.835"/><stop offset="0.250" stop-color="#fff" stop-opacity="0.919"/><stop offset="0.292" stop-color="#fff" stop-opacity="0.990"/><stop offset="0.333" stop-color="#fff" stop-opacity="0.807"/><stop offset="0.375" stop-color="#fff" stop-opacity="0.936"/><stop offset="0.417" stop-color="#fff" stop-opacity="0.744"/><stop offset="0.458" stop-color="#fff" stop-opacity="0.805"/><stop offset="0.500" stop-color="#fff" stop-opacity="0.807"/><stop offset="0.542" stop-color="#fff" stop-opacity="0.827"/><stop offset="0.583" stop-color="#fff" stop-opacity="0.999"/><stop offset="0.625" stop-color="#fff" stop-opacity="0.767"/><stop offset="0.667" stop-color="#fff" stop-opacity="0.749"/><stop offset="0.708" stop-color="#fff" stop-opacity="0.918"/><stop offset="0.750" stop-color="#fff" stop-opacity="0.869"/><stop offset="0.792" stop-color="#fff" stop-opacity="0.899"/><stop offset="0.833" stop-color="#fff" stop-opacity="0.877"/><stop offset="0.875" stop-color="#fff" stop-opacity="0.798"/><stop offset="0.917" stop-color="#fff" stop-opacity="0.949"/><stop offset="0.958" stop-color="#fff" stop-opacity="0.969"/><stop offset="1.000" stop-color="#fff" stop-opacity="0.988"/></linearGradient>
<linearGradient id="hl3_5" gradientUnits="userSpaceOnUse" x1="0" y1="47.2" x2="0" y2="452.8"><stop offset="0.000" stop-color="#fff" stop-opacity="0.814"/><stop offset="0.042" stop-color="#fff" stop-opacity="0.946"/><stop offset="0.083" stop-color="#fff" stop-opacity="0.967"/><stop offset="0.125" stop-color="#fff" stop-opacity="0.766"/><stop offset="0.167" stop-color="#fff" stop-opacity="0.902"/><stop offset="0.208" stop-color="#fff" stop-opacity="0.868"/><stop offset="0.250" stop-color="#fff" stop-opacity="0.830"/><stop offset="0.292" stop-color="#fff" stop-opacity="0.827"/><stop offset="0.333" stop-color="#fff" stop-opacity="0.929"/><stop offset="0.375" stop-color="#fff" stop-opacity="0.788"/><stop offset="0.417" stop-color="#fff" stop-opacity="0.900"/><stop offset="0.458" stop-color="#fff" stop-opacity="0.781"/><stop offset="0.500" stop-color="#fff" stop-opacity="0.936"/><stop offset="0.542" stop-color="#fff" stop-opacity="0.850"/><stop offset="0.583" stop-color="#fff" stop-opacity="0.757"/><stop offset="0.625" stop-color="#fff" stop-opacity="0.859"/><stop offset="0.667" stop-color="#fff" stop-opacity="0.823"/><stop offset="0.708" stop-color="#fff" stop-opacity="0.854"/><stop offset="0.750" stop-color="#fff" stop-opacity="0.982"/><stop offset="0.792" stop-color="#fff" stop-opacity="0.779"/><stop offset="0.833" stop-color="#fff" stop-opacity="0.780"/><stop offset="0.875" stop-color="#fff" stop-opacity="0.992"/><stop offset="0.917" stop-color="#fff" stop-opacity="0.928"/><stop offset="0.958" stop-color="#fff" stop-opacity="0.894"/><stop offset="1.000" stop-color="#fff" stop-opacity="0.819"/></linearGradient>
<linearGradient id="hl3_6" gradientUnits="userSpaceOnUse" x1="0" y1="47.2" x2="0" y2="452.8"><stop offset="0.000" stop-color="#fff" stop-opacity="0.544"/><stop offset="0.042" stop-color="#fff" stop-opacity="0.652"/><stop offset="0.083" stop-color="#fff" stop-opacity="0.603"/><stop offset="0.125" stop-color="#fff" stop-opacity="0.656"/><stop offset="0.167" stop-color="#fff" stop-opacity="0.558"/><stop offset="0.208" stop-color="#fff" stop-opacity="0.660"/><stop offset="0.250" stop-color="#fff" stop-opacity="0.693"/><stop offset="0.292" stop-color="#fff" stop-opacity="0.586"/><stop offset="0.333" stop-color="#fff" stop-opacity="0.544"/><stop offset="0.375" stop-color="#fff" stop-opacity="0.636"/><stop offset="0.417" stop-color="#fff" stop-opacity="0.583"/><stop offset="0.458" stop-color="#fff" stop-opacity="0.594"/><stop offset="0.500" stop-color="#fff" stop-opacity="0.654"/><stop offset="0.542" stop-color="#fff" stop-opacity="0.604"/><stop offset="0.583" stop-color="#fff" stop-opacity="0.579"/><stop offset="0.625" stop-color="#fff" stop-opacity="0.740"/><stop offset="0.667" stop-color="#fff" stop-opacity="0.709"/><stop offset="0.708" stop-color="#fff" stop-opacity="0.588"/><stop offset="0.750" stop-color="#fff" stop-opacity="0.629"/><stop offset="0.792" stop-color="#fff" stop-opacity="0.733"/><stop offset="0.833" stop-color="#fff" stop-opacity="0.716"/><stop offset="0.875" stop-color="#fff" stop-opacity="0.620"/><stop offset="0.917" stop-color="#fff" stop-opacity="0.769"/><stop offset="0.958" stop-color="#fff" stop-opacity="0.649"/><stop offset="1.000" stop-color="#fff" stop-opacity="0.786"/></linearGradient>
<linearGradient id="hl3_7" gradientUnits="userSpaceOnUse" x1="0" y1="47.2" x2="0" y2="452.8"><stop offset="0.000" stop-color="#fff" stop-opacity="0.295"/><stop offset="0.042" stop-color="#fff" stop-opacity="0.340"/><stop offset="0.083" stop-color="#fff" stop-opacity="0.306"/><stop offset="0.125" stop-color="#fff" stop-opacity="0.299"/><stop offset="0.167" stop-color="#fff" stop-opacity="0.332"/><stop offset="0.208" stop-color="#fff" stop-opacity="0.304"/><stop offset="0.250" stop-color="#fff" stop-opacity="0.321"/><stop offset="0.292" stop-color="#fff" stop-opacity="0.303"/><stop offset="0.333" stop-color="#fff" stop-opacity="0.311"/><stop offset="0.375" stop-color="#fff" stop-opacity="0.347"/><stop offset="0.417" stop-color="#fff" stop-opacity="0.314"/><stop offset="0.458" stop-color="#fff" stop-opacity="0.288"/><stop offset="0.500" stop-color="#fff" stop-opacity="0.337"/><stop offset="0.542" stop-color="#fff" stop-opacity="0.302"/><stop offset="0.583" stop-color="#fff" stop-opacity="0.288"/><stop offset="0.625" stop-color="#fff" stop-opacity="0.313"/><stop offset="0.667" stop-color="#fff" stop-opacity="0.338"/><stop offset="0.708" stop-color="#fff" stop-opacity="0.291"/><stop offset="0.750" stop-color="#fff" stop-opacity="0.341"/><stop offset="0.792" stop-color="#fff" stop-opacity="0.316"/><stop offset="0.833" stop-color="#fff" stop-opacity="0.293"/><stop offset="0.875" stop-color="#fff" stop-opacity="0.294"/><stop offset="0.917" stop-color="#fff" stop-opacity="0.280"/><stop offset="0.958" stop-color="#fff" stop-opacity="0.262"/><stop offset="1.000" stop-color="#fff" stop-opacity="0.331"/></linearGradient>
</defs>
<g clip-path="url(#hc0)"><g filter="url(#cmap)">
<rect x="67.0" y="47.2" width="135.6" height="405.6" fill="url(#hbg0)"/>
<g filter="url(#bl3)">
<ellipse cx="84.2" cy="52.1" rx="4.8" ry="7.2" fill="#fff" fill-opacity="0.312"/>
<ellipse cx="83.8" cy="77.8" rx="4.5" ry="7.1" fill="#fff" fill-opacity="0.294"/>
<ellipse cx="83.9" cy="100.1" rx="4.3" ry="9.5" fill="#fff" fill-opacity="0.238"/>
<ellipse cx="86.6" cy="124.1" rx="5.4" ry="8.7" fill="#fff" fill-opacity="0.287"/>
<ellipse cx="83.7" cy="157.0" rx="5.2" ry="7.9" fill="#fff" fill-opacity="0.242"/>
<ellipse cx="85.0" cy="179.8" rx="5.1" ry="7.5" fill="#fff" fill-opacity="0.321"/>
<ellipse cx="85.3" cy="208.7" rx="4.6" ry="7.2" fill="#fff" fill-opacity="0.227"/>
<ellipse cx="86.9" cy="232.6" rx="4.4" ry="7.9" fill="#fff" fill-opacity="0.321"/>
<ellipse cx="85.0" cy="259.4" rx="5.1" ry="9.1" fill="#fff" fill-opacity="0.260"/>
<ellipse cx="86.1" cy="287.5" rx="5.3" ry="9.2" fill="#fff" fill-opacity="0.268"/>
<ellipse cx="84.1" cy="320.4" rx="4.3" ry="9.3" fill="#fff" fill-opacity="0.243"/>
<ellipse cx="83.7" cy="347.6" rx="4.8" ry="9.3" fill="#fff" fill-opacity="0.319"/>
<ellipse cx="85.1" cy="379.3" rx="4.9" ry="8.8" fill="#fff" fill-opacity="0.320"/>
<ellipse cx="87.7" cy="406.1" rx="5.4" ry="8.4" fill="#fff" fill-opacity="0.336"/>
<ellipse cx="87.0" cy="428.3" rx="4.8" ry="10.0" fill="#fff" fill-opacity="0.364"/>
<ellipse cx="85.4" cy="453.0" rx="4.8" ry="7.1" fill="#fff" fill-opacity="0.299"/>
<ellipse cx="181.4" cy="49.0" rx="5.0" ry="7.4" fill="#fff" fill-opacity="0.101"/>
<ellipse cx="185.5" cy="75.0" rx="3.7" ry="8.3" fill="#fff" fill-opacity="0.122"/>
<ellipse cx="185.2" cy="106.8" rx="5.2" ry="7.8" fill="#fff" fill-opacity="0.113"/>
<ellipse cx="185.5" cy="132.4" rx="5.4" ry="7.5" fill="#fff" fill-opacity="0.096"/>
<ellipse cx="182.3" cy="156.6" rx="4.5" ry="8.8" fill="#fff" fill-opacity="0.102"/>
<ellipse cx="183.2" cy="178.1" rx="4.2" ry="8.7" fill="#fff" fill-opacity="0.151"/>
<ellipse cx="183.7" cy="207.6" rx="4.7" ry="9.0" fill="#fff" fill-opacity="0.088"/>
<ellipse cx="185.0" cy="239.6" rx="5.2" ry="9.4" fill="#fff" fill-opacity="0.111"/>
<ellipse cx="181.6" cy="265.7" rx="4.8" ry="7.2" fill="#fff" fill-opacity="0.089"/>
<ellipse cx="181.9" cy="289.6" rx="4.2" ry="7.2" fill="#fff" fill-opacity="0.084"/>
<ellipse cx="181.6" cy="312.8" rx="4.2" ry="7.1" fill="#fff" fill-opacity="0.145"/>
<ellipse cx="181.9" cy="341.4" rx="4.0" ry="8.0" fill="#fff" fill-opacity="0.109"/>
<ellipse cx="185.4" cy="364.3" rx="5.5" ry="8.4" fill="#fff" fill-opacity="0.118"/>
<ellipse cx="181.6" cy="386.8" rx="4.2" ry="7.8" fill="#fff" fill-opacity="0.142"/>
<ellipse cx="181.2" cy="410.1" rx="5.4" ry="8.6" fill="#fff" fill-opacity="0.094"/>
<ellipse cx="181.3" cy="437.9" rx="4.6" ry="9.9" fill="#fff" fill-opacity="0.144"/>
<ellipse cx="102.4" cy="195.9" rx="3.5" ry="7.1" fill="#000" fill-opacity="0.051"/>
<ellipse cx="172.6" cy="180.9" rx="3.7" ry="7.2" fill="#000" fill-opacity="0.069"/>
<ellipse cx="182.6" cy="374.1" rx="5.5" ry="7.0" fill="#000" fill-opacity="0.039"/>
<ellipse cx="137.2" cy="191.4" rx="3.1" ry="4.1" fill="#000" fill-opacity="0.041"/>
<ellipse cx="102.1" cy="328.1" rx="5.9" ry="5.8" fill="#000" fill-opacity="0.067"/>
<ellipse cx="201.0" cy="434.5" rx="4.1" ry="4.9" fill="#000" fill-opacity="0.039"/>
<ellipse cx="93.7" cy="130.1" rx="4.9" ry="7.6" fill="#000" fill-opacity="0.064"/>
<ellipse cx="132.0" cy="312.0" rx="5.4" ry="4.3" fill="#000" fill-opacity="0.056"/>
<ellipse cx="190.4" cy="364.5" rx="5.3" ry="5.9" fill="#000" fill-opacity="0.037"/>
<ellipse cx="174.0" cy="182.1" rx="5.4" ry="7.9" fill="#000" fill-opacity="0.046"/>
<ellipse cx="121.4" cy="431.2" rx="5.2" ry="4.7" fill="#000" fill-opacity="0.035"/>
<ellipse cx="87.5" cy="414.2" rx="5.4" ry="4.6" fill="#000" fill-opacity="0.063"/>
<ellipse cx="199.9" cy="313.8" rx="4.1" ry="6.2" fill="#000" fill-opacity="0.035"/>
<ellipse cx="68.9" cy="441.0" rx="4.9" ry="6.1" fill="#000" fill-opacity="0.067"/>
<ellipse cx="125.8" cy="400.8" rx="5.5" ry="4.8" fill="#000" fill-opacity="0.040"/>
<ellipse cx="106.7" cy="144.8" rx="4.8" ry="5.0" fill="#000" fill-opacity="0.047"/>
<ellipse cx="84.8" cy="416.3" rx="4.1" ry="5.8" fill="#000" fill-opacity="0.053"/>
<ellipse cx="189.6" cy="217.8" rx="5.8" ry="6.0" fill="#000" fill-opacity="0.051"/>
<ellipse cx="138.0" cy="54.8" rx="4.3" ry="4.7" fill="#000" fill-opacity="0.030"/>
<ellipse cx="175.4" cy="117.1" rx="4.4" ry="6.9" fill="#000" fill-opacity="0.052"/>
<ellipse cx="111.2" cy="257.4" rx="4.7" ry="7.1" fill="#000" fill-opacity="0.034"/>
<ellipse cx="143.0" cy="148.0" rx="3.8" ry="7.1" fill="#000" fill-opacity="0.050"/>
<ellipse cx="143.2" cy="355.5" rx="5.7" ry="5.8" fill="#000" fill-opacity="0.055"/>
<ellipse cx="135.6" cy="254.9" rx="5.1" ry="5.8" fill="#000" fill-opacity="0.051"/>
<ellipse cx="131.8" cy="429.1" rx="5.1" ry="7.5" fill="#000" fill-opacity="0.068"/>
<ellipse cx="102.2" cy="274.1" rx="5.8" ry="7.4" fill="#000" fill-opacity="0.035"/>
<ellipse cx="83.5" cy="226.5" rx="3.2" ry="5.0" fill="#000" fill-opacity="0.033"/>
<ellipse cx="157.8" cy="365.2" rx="5.7" ry="4.6" fill="#000" fill-opacity="0.059"/>
<ellipse cx="156.5" cy="105.2" rx="5.6" ry="7.9" fill="#000" fill-opacity="0.039"/>
<ellipse cx="196.2" cy="208.7" rx="4.5" ry="8.0" fill="#000" fill-opacity="0.063"/>
</g>
<rect x="67.0" y="47.2" width="135.6" height="405.6" fill="#fff" filter="url(#noise)"/>
<g filter="url(#bl1)">
<path d="M108.5 37 L108.4 39 L108.4 41 L108.3 43 L108.3 45 L108.3 47 L108.5 49 L108.7 51 L108.9 53 L109.1 55 L109.2 57 L109.2 59 L109.1 61 L108.9 63 L108.8 65 L108.6 67 L108.6 69 L108.6 71 L108.6 73 L108.6 75 L108.5 77 L108.5 79 L108.4 81 L108.3 83 L108.3 85 L108.4 87 L108.6 89 L108.8 91 L109.0 93 L109.2 95 L109.2 97 L109.2 99 L109.1 101 L108.9 103 L108.8 105 L108.8 107 L108.8 109 L108.8 111 L108.8 113 L108.8 115 L108.7 117 L108.6 119 L108.5 121 L108.5 123 L108.5 125 L108.6 127 L108.8 129 L109.0 131 L109.1 133 L109.2 135 L109.2 137 L109.1 139 L109.0 141 L108.9 143 L108.8 145 L108.8 147 L108.8 149 L108.8 151 L108.8 153 L108.8 155 L108.7 157 L108.6 159 L108.5 161 L108.4 163 L108.4 165 L108.6 167 L108.7 169 L108.9 171 L109.0 173 L109.0 175 L109.0 177 L108.9 179 L108.8 181 L108.7 183 L108.6 185 L108.7 187 L108.7 189 L108.7 191 L108.7 193 L108.7 195 L108.6 197 L108.4 199 L108.4 201 L108.4 203 L108.4 205 L108.6 207 L108.7 209 L108.9 211 L108.9 213 L108.9 215 L108.9 217 L108.8 219 L108.7 221 L108.6 223 L108.7 225 L108.7 227 L108.8 229 L108.8 231 L108.8 233 L108.8 235 L108.7 237 L108.6 239 L108.5 241 L108.5 243 L108.6 245 L108.8 247 L108.9 249 L109.0 251 L109.0 253 L109.0 255 L108.9 257 L108.8 259 L108.7 261 L108.7 263 L108.8 265 L108.9 267 L109.0 269 L109.0 271 L109.0 273 L108.9 275 L108.7 277 L108.6 279 L108.6 281 L108.7 283 L108.7 285 L108.9 287 L109.0 289 L109.0 291 L109.0 293 L108.9 295 L108.8 297 L108.7 299 L108.6 301 L108.7 303 L108.7 305 L108.8 307 L108.9 309 L108.9 311 L108.8 313 L108.7 315 L108.6 317 L108.6 319 L108.5 321 L108.6 323 L108.7 325 L108.8 327 L108.8 329 L108.8 331 L108.7 333 L108.6 335 L108.5 337 L108.5 339 L108.5 341 L108.6 343 L108.7 345 L108.8 347 L108.8 349 L108.8 351 L108.8 353 L108.7 355 L108.6 357 L108.6 359 L108.6 361 L108.7 363 L108.8 365 L108.9 367 L108.9 369 L108.8 371 L108.7 373 L108.6 375 L108.5 377 L108.5 379 L108.5 381 L108.7 383 L108.8 385 L108.9 387 L109.0 389 L108.9 391 L108.9 393 L108.8 395 L108.8 397 L108.8 399 L108.8 401 L108.9 403 L109.0 405 L109.0 407 L109.0 409 L108.9 411 L108.7 413 L108.6 415 L108.5 417 L108.5 419 L108.6 421 L108.8 423 L108.9 425 L109.0 427 L109.0 429 L109.0 431 L108.9 433 L108.8 435 L108.8 437 L108.8 439 L108.9 441 L109.0 443 L109.0 445 L109.0 447 L108.9 449 L108.7 451 L108.5 453 L108.4 455 L108.4 457 L108.4 459 L108.5 461" stroke="#000" stroke-opacity="0.85" stroke-width="2.2" fill="none"/>
<path d="M123.6 37 L123.5 39 L123.5 41 L123.4 43 L123.3 45 L123.3 47 L123.2 49 L123.2 51 L123.1 53 L123.1 55 L123.1 57 L123.0 59 L123.0 61 L123.1 63 L123.2 65 L123.3 67 L123.4 69 L123.6 71 L123.7 73 L123.8 75 L123.8 77 L123.8 79 L123.7 81 L123.5 83 L123.4 85 L123.3 87 L123.2 89 L123.1 91 L123.0 93 L123.0 95 L122.9 97 L122.9 99 L123.0 101 L123.1 103 L123.3 105 L123.5 107 L123.8 109 L124.0 111 L124.1 113 L124.2 115 L124.1 117 L124.0 119 L123.9 121 L123.7 123 L123.5 125 L123.3 127 L123.1 129 L123.0 131 L122.9 133 L122.8 135 L122.8 137 L122.8 139 L123.0 141 L123.2 143 L123.4 145 L123.7 147 L124.0 149 L124.2 151 L124.3 153 L124.3 155 L124.2 157 L124.1 159 L123.8 161 L123.6 163 L123.3 165 L123.0 167 L122.8 169 L122.6 171 L122.5 173 L122.4 175 L122.5 177 L122.6 179 L122.8 181 L123.1 183 L123.4 185 L123.8 187 L124.1 189 L124.3 191 L124.4 193 L124.4 195 L124.2 197 L124.0 199 L123.7 201 L123.4 203 L123.1 205 L122.8 207 L122.5 209 L122.4 211 L122.3 213 L122.2 215 L122.3 217 L122.6 219 L122.9 221 L123.2 223 L123.7 225 L124.0 227 L124.4 229 L124.6 231 L124.6 233 L124.6 235 L124.4 237 L124.1 239 L123.7 241 L123.4 243 L123.0 245 L122.7 247 L122.5 249 L122.3 251 L122.2 253 L122.3 255 L122.4 257 L122.7 259 L123.1 261 L123.6 263 L124.0 265 L124.4 267 L124.7 269 L124.9 271 L124.9 273 L124.7 275 L124.4 277 L124.1 279 L123.7 281 L123.2 283 L122.8 285 L122.5 287 L122.3 289 L122.1 291 L122.1 293 L122.2 295 L122.4 297 L122.8 299 L123.2 301 L123.7 303 L124.2 305 L124.6 307 L124.8 309 L124.9 311 L124.8 313 L124.6 315 L124.2 317 L123.8 319 L123.3 321 L122.9 323 L122.5 325 L122.2 327 L122.0 329 L121.9 331 L121.9 333 L122.1 335 L122.4 337 L122.8 339 L123.3 341 L123.9 343 L124.3 345 L124.7 347 L124.9 349 L124.9 351 L124.7 353 L124.4 355 L124.0 357 L123.6 359 L123.1 361 L122.7 363 L122.3 365 L122.0 367 L121.9 369 L121.8 371 L122.0 373 L122.2 375 L122.6 377 L123.1 379 L123.7 381 L124.2 383 L124.6 385 L124.9 387 L125.1 389 L125.0 391 L124.8 393 L124.4 395 L124.0 397 L123.5 399 L123.1 401 L122.6 403 L122.3 405 L122.0 407 L121.9 409 L122.0 411 L122.1 413 L122.5 415 L122.9 417 L123.5 419 L124.0 421 L124.5 423 L124.9 425 L125.1 427 L125.1 429 L125.0 431 L124.7 433 L124.3 435 L123.8 437 L123.3 439 L122.8 441 L122.4 443 L122.1 445 L121.9 447 L121.9 449 L121.9 451 L122.2 453 L122.6 455 L123.0 457 L123.6 459 L124.1 461" stroke="#000" stroke-opacity="0.85" stroke-width="2.2" fill="none"/>
<path d="M138.9 37 L138.8 39 L138.6 41 L138.5 43 L138.4 45 L138.3 47 L138.3 49 L138.2 51 L138.1 53 L137.9 55 L137.6 57 L137.5 59 L137.4 61 L137.4 63 L137.6 65 L137.9 67 L138.2 69 L138.4 71 L138.6 73 L138.6 75 L138.5 77 L138.3 79 L138.1 81 L138.0 83 L137.8 85 L137.7 87 L137.6 89 L137.5 91 L137.3 93 L137.1 95 L136.9 97 L136.8 99 L136.9 101 L137.1 103 L137.4 105 L137.8 107 L138.2 109 L138.4 111 L138.6 113 L138.6 115 L138.5 117 L138.4 119 L138.2 121 L138.1 123 L138.0 125 L137.9 127 L137.8 129 L137.6 131 L137.4 133 L137.2 135 L137.1 137 L137.2 139 L137.4 141 L137.7 143 L138.1 145 L138.6 147 L139.0 149 L139.2 151 L139.3 153 L139.3 155 L139.1 157 L138.9 159 L138.8 161 L138.6 163 L138.4 165 L138.2 167 L138.0 169 L137.8 171 L137.6 173 L137.4 175 L137.3 177 L137.4 179 L137.7 181 L138.1 183 L138.5 185 L138.9 187 L139.3 189 L139.4 191 L139.4 193 L139.2 195 L139.0 197 L138.7 199 L138.4 201 L138.2 203 L137.9 205 L137.7 207 L137.4 209 L137.1 211 L136.9 213 L136.7 215 L136.7 217 L136.9 219 L137.3 221 L137.7 223 L138.2 225 L138.6 227 L138.9 229 L139.0 231 L138.9 233 L138.7 235 L138.4 237 L138.1 239 L137.9 241 L137.6 243 L137.3 245 L137.1 247 L136.8 249 L136.6 251 L136.4 253 L136.4 255 L136.6 257 L137.0 259 L137.5 261 L138.0 263 L138.6 265 L139.0 267 L139.2 269 L139.3 271 L139.1 273 L138.9 275 L138.7 277 L138.4 279 L138.1 281 L137.9 283 L137.6 285 L137.4 287 L137.1 289 L137.0 291 L136.9 293 L137.0 295 L137.3 297 L137.8 299 L138.4 301 L138.9 303 L139.4 305 L139.8 307 L139.9 309 L139.8 311 L139.6 313 L139.3 315 L138.9 317 L138.6 319 L138.3 321 L138.0 323 L137.7 325 L137.3 327 L137.1 329 L136.9 331 L136.9 333 L137.1 335 L137.5 337 L138.0 339 L138.5 341 L139.1 343 L139.5 345 L139.6 347 L139.6 349 L139.4 351 L139.1 353 L138.7 355 L138.3 357 L137.9 359 L137.5 361 L137.2 363 L136.9 365 L136.6 367 L136.3 369 L136.3 371 L136.4 373 L136.7 375 L137.2 377 L137.8 379 L138.4 381 L138.9 383 L139.2 385 L139.3 387 L139.2 389 L138.9 391 L138.6 393 L138.2 395 L137.8 397 L137.5 399 L137.2 401 L136.9 403 L136.6 405 L136.4 407 L136.3 409 L136.4 411 L136.6 413 L137.1 415 L137.7 417 L138.4 419 L139.0 421 L139.5 423 L139.7 425 L139.7 427 L139.6 429 L139.3 431 L138.9 433 L138.5 435 L138.2 437 L137.9 439 L137.5 441 L137.2 443 L137.0 445 L136.8 447 L136.8 449 L137.0 451 L137.4 453 L137.9 455 L138.6 457 L139.2 459 L139.7 461" stroke="#000" stroke-opacity="0.85" stroke-width="2.2" fill="none"/>
<path d="M152.9 37 L152.9 39 L152.9 41 L152.9 43 L152.9 45 L152.9 47 L152.9 49 L152.8 51 L152.8 53 L152.7 55 L152.6 57 L152.5 59 L152.5 61 L152.5 63 L152.5 65 L152.6 67 L152.6 69 L152.6 71 L152.6 73 L152.5 75 L152.5 77 L152.4 79 L152.4 81 L152.4 83 L152.3 85 L152.3 87 L152.2 89 L152.2 91 L152.0 93 L151.9 95 L151.9 97 L151.8 99 L151.8 101 L151.9 103 L151.9 105 L152.0 107 L152.0 109 L152.0 111 L152.0 113 L152.0 115 L152.0 117 L152.0 119 L152.1 121 L152.1 123 L152.1 125 L152.1 127 L152.1 129 L152.1 131 L152.0 133 L152.0 135 L152.0 137 L152.0 139 L152.1 141 L152.2 143 L152.3 145 L152.4 147 L152.5 149 L152.5 151 L152.6 153 L152.6 155 L152.6 157 L152.7 159 L152.7 161 L152.8 163 L152.8 165 L152.8 167 L152.8 169 L152.7 171 L152.7 173 L152.6 175 L152.6 177 L152.6 179 L152.7 181 L152.8 183 L152.8 185 L152.9 187 L152.9 189 L152.9 191 L152.9 193 L152.9 195 L152.9 197 L152.9 199 L152.9 201 L152.8 203 L152.8 205 L152.7 207 L152.6 209 L152.5 211 L152.4 213 L152.3 215 L152.3 217 L152.3 219 L152.3 221 L152.3 223 L152.3 225 L152.3 227 L152.3 229 L152.3 231 L152.2 233 L152.2 235 L152.2 237 L152.2 239 L152.2 241 L152.2 243 L152.1 245 L152.1 247 L152.0 249 L151.9 251 L151.8 253 L151.8 255 L151.8 257 L151.8 259 L151.9 261 L151.9 263 L152.0 265 L152.0 267 L152.1 269 L152.1 271 L152.1 273 L152.1 275 L152.2 277 L152.3 279 L152.3 281 L152.3 283 L152.4 285 L152.3 287 L152.3 289 L152.3 291 L152.2 293 L152.3 295 L152.3 297 L152.4 299 L152.5 301 L152.6 303 L152.7 305 L152.7 307 L152.7 309 L152.7 311 L152.8 313 L152.8 315 L152.9 317 L152.9 319 L153.0 321 L153.0 323 L152.9 325 L152.9 327 L152.8 329 L152.7 331 L152.7 333 L152.7 335 L152.7 337 L152.7 339 L152.8 341 L152.8 343 L152.8 345 L152.7 347 L152.7 349 L152.7 351 L152.7 353 L152.7 355 L152.7 357 L152.7 359 L152.6 361 L152.6 363 L152.5 365 L152.3 367 L152.2 369 L152.1 371 L152.1 373 L152.1 375 L152.1 377 L152.1 379 L152.1 381 L152.1 383 L152.1 385 L152.0 387 L152.0 389 L152.0 391 L152.0 393 L152.1 395 L152.1 397 L152.1 399 L152.1 401 L152.1 403 L152.0 405 L151.9 407 L151.9 409 L151.8 411 L151.9 413 L151.9 415 L152.0 417 L152.0 419 L152.1 421 L152.1 423 L152.2 425 L152.2 427 L152.2 429 L152.3 431 L152.4 433 L152.5 435 L152.5 437 L152.6 439 L152.6 441 L152.6 443 L152.6 445 L152.5 447 L152.5 449 L152.5 451 L152.5 453 L152.6 455 L152.7 457 L152.7 459 L152.8 461" stroke="#000" stroke-opacity="0.85" stroke-width="2.2" fill="none"/>
<path d="M167.6 37 L167.6 39 L167.6 41 L167.6 43 L167.6 45 L167.6 47 L167.6 49 L167.6 51 L167.5 53 L167.5 55 L167.5 57 L167.5 59 L167.5 61 L167.5 63 L167.4 65 L167.4 67 L167.4 69 L167.4 71 L167.4 73 L167.4 75 L167.3 77 L167.3 79 L167.3 81 L167.2 83 L167.2 85 L167.1 87 L167.0 89 L167.0 91 L166.9 93 L166.9 95 L166.9 97 L166.8 99 L166.8 101 L166.8 103 L166.8 105 L166.7 107 L166.7 109 L166.8 111 L166.8 113 L166.8 115 L166.8 117 L166.8 119 L166.8 121 L166.8 123 L166.8 125 L166.7 127 L166.7 129 L166.7 131 L166.7 133 L166.7 135 L166.8 137 L166.8 139 L166.8 141 L166.9 143 L166.9 145 L166.9 147 L167.0 149 L167.1 151 L167.2 153 L167.2 155 L167.3 157 L167.3 159 L167.4 161 L167.4 163 L167.4 165 L167.4 167 L167.4 169 L167.4 171 L167.4 173 L167.4 175 L167.4 177 L167.4 179 L167.4 181 L167.5 183 L167.5 185 L167.5 187 L167.6 189 L167.6 191 L167.7 193 L167.7 195 L167.7 197 L167.7 199 L167.7 201 L167.6 203 L167.6 205 L167.5 207 L167.4 209 L167.4 211 L167.3 213 L167.3 215 L167.2 217 L167.2 219 L167.2 221 L167.2 223 L167.1 225 L167.1 227 L167.1 229 L167.2 231 L167.2 233 L167.2 235 L167.1 237 L167.1 239 L167.0 241 L167.0 243 L166.9 245 L166.8 247 L166.8 249 L166.7 251 L166.7 253 L166.6 255 L166.6 257 L166.6 259 L166.6 261 L166.6 263 L166.6 265 L166.7 267 L166.8 269 L166.8 271 L166.9 273 L166.9 275 L166.9 277 L167.0 279 L167.0 281 L166.9 283 L166.9 285 L166.9 287 L166.9 289 L166.9 291 L166.9 293 L166.9 295 L166.9 297 L167.0 299 L167.0 301 L167.1 303 L167.2 305 L167.3 307 L167.4 309 L167.5 311 L167.5 313 L167.6 315 L167.6 317 L167.6 319 L167.6 321 L167.6 323 L167.6 325 L167.5 327 L167.5 329 L167.5 331 L167.5 333 L167.4 335 L167.4 337 L167.4 339 L167.4 341 L167.5 343 L167.5 345 L167.5 347 L167.6 349 L167.6 351 L167.6 353 L167.6 355 L167.6 357 L167.6 359 L167.5 361 L167.4 363 L167.3 365 L167.2 367 L167.1 369 L167.1 371 L167.0 373 L166.9 375 L166.9 377 L166.8 379 L166.8 381 L166.8 383 L166.9 385 L166.9 387 L167.0 389 L167.0 391 L167.0 393 L167.0 395 L167.0 397 L166.9 399 L166.9 401 L166.8 403 L166.7 405 L166.7 407 L166.6 409 L166.6 411 L166.6 413 L166.5 415 L166.5 417 L166.6 419 L166.6 421 L166.7 423 L166.8 425 L166.9 427 L167.0 429 L167.1 431 L167.2 433 L167.2 435 L167.2 437 L167.2 439 L167.2 441 L167.2 443 L167.2 445 L167.2 447 L167.1 449 L167.1 451 L167.1 453 L167.1 455 L167.1 457 L167.2 459 L167.3 461" stroke="#000" stroke-opacity="0.85" stroke-width="2.2" fill="none"/>
</g>
<g filter="url(#bl2)">
</g>
<g filter="url(#bl2)">
<path d="M100.4 37 L100.7 39 L101.0 41 L101.4 43 L101.8 45 L102.2 47 L102.5 49 L102.7 51 L102.7 53 L102.5 55 L102.0 57 L101.4 59 L100.7 61 L100.1 63 L99.6 65 L99.3 67 L99.2 69 L99.2 71 L99.4 73 L99.6 75 L99.8 77 L100.1 79 L100.4 81 L100.8 83 L101.3 85 L101.8 87 L102.1 89 L102.3 91 L102.3 93 L102.1 95 L101.6 97 L101.0 99 L100.4 101 L99.8 103 L99.5 105 L99.3 107 L99.3 109 L99.4 111 L99.6 113 L99.8 115 L100.1 117 L100.4 119 L100.9 121 L101.4 123 L101.9 125 L102.4 127 L102.8 129 L103.0 131 L102.9 133 L102.6 135 L102.1 137 L101.5 139 L100.9 141 L100.5 143 L100.1 145 L100.0 147 L100.0 149 L100.1 151 L100.2 153 L100.4 155 L100.6 157 L101.0 159 L101.4 161 L101.9 163 L102.4 165 L102.9 167 L103.2 169 L103.2 171 L103.0 173 L102.6 175 L102.0 177 L101.3 179 L100.8 181 L100.3 183 L100.0 185 L99.8 187 L99.7 189 L99.8 191 L99.8 193 L100.0 195 L100.2 197 L100.5 199 L100.9 201 L101.4 203 L102.0 205 L102.4 207 L102.6 209 L102.5 211 L102.2 213 L101.7 215 L101.1 217 L100.5 219 L100.0 221 L99.6 223 L99.4 225 L99.2 227 L99.2 229 L99.2 231 L99.3 233 L99.5 235 L99.8 237 L100.2 239 L100.8 241 L101.3 243 L101.9 245 L102.3 247 L102.5 249 L102.5 251 L102.2 253 L101.7 255 L101.2 257 L100.7 259 L100.2 261 L99.9 263 L99.8 265 L99.7 267 L99.7 269 L99.7 271 L99.8 273 L100.1 275 L100.4 277 L101.0 279 L101.6 281 L102.2 283 L102.7 285 L103.1 287 L103.2 289 L103.1 291 L102.7 293 L102.2 295 L101.7 297 L101.2 299 L100.8 301 L100.5 303 L100.3 305 L100.2 307 L100.1 309 L100.1 311 L100.1 313 L100.3 315 L100.7 317 L101.2 319 L101.8 321 L102.3 323 L102.8 325 L103.0 327 L103.0 329 L102.7 331 L102.3 333 L101.7 335 L101.2 337 L100.7 339 L100.3 341 L100.0 343 L99.7 345 L99.5 347 L99.4 349 L99.4 351 L99.4 353 L99.7 355 L100.1 357 L100.7 359 L101.3 361 L101.8 363 L102.2 365 L102.4 367 L102.3 369 L102.0 371 L101.6 373 L101.1 375 L100.6 377 L100.2 379 L99.9 381 L99.6 383 L99.4 385 L99.3 387 L99.2 389 L99.2 391 L99.4 393 L99.7 395 L100.3 397 L100.9 399 L101.6 401 L102.2 403 L102.6 405 L102.7 407 L102.6 409 L102.3 411 L101.9 413 L101.5 415 L101.1 417 L100.8 419 L100.5 421 L100.2 423 L100.0 425 L99.9 427 L99.8 429 L99.8 431 L100.1 433 L100.5 435 L101.1 437 L101.7 439 L102.4 441 L102.9 443 L103.2 445 L103.2 447 L103.0 449 L102.7 451 L102.2 453 L101.8 455 L101.4 457 L101.0 459 L100.7 461" stroke="#fff" stroke-opacity="0.240" stroke-width="8" fill="none"/>
<path d="M116.5 37 L116.2 39 L115.7 41 L115.2 43 L114.8 45 L114.5 47 L114.5 49 L114.7 51 L115.1 53 L115.7 55 L116.3 57 L116.9 59 L117.4 61 L117.8 63 L117.9 65 L118.0 67 L118.0 69 L117.9 71 L117.8 73 L117.6 75 L117.3 77 L116.9 79 L116.4 81 L115.8 83 L115.4 85 L115.1 87 L115.1 89 L115.3 91 L115.7 93 L116.3 95 L116.9 97 L117.4 99 L117.8 101 L118.0 103 L118.2 105 L118.2 107 L118.2 109 L118.2 111 L118.0 113 L117.7 115 L117.3 117 L116.8 119 L116.2 121 L115.6 123 L115.1 125 L114.8 127 L114.8 129 L115.0 131 L115.3 133 L115.8 135 L116.3 137 L116.8 139 L117.1 141 L117.3 143 L117.5 145 L117.5 147 L117.6 149 L117.6 151 L117.4 153 L117.1 155 L116.7 157 L116.1 159 L115.5 161 L114.9 163 L114.5 165 L114.2 167 L114.3 169 L114.5 171 L115.0 173 L115.5 175 L116.0 177 L116.4 179 L116.8 181 L117.1 183 L117.3 185 L117.5 187 L117.7 189 L117.7 191 L117.6 193 L117.4 195 L117.0 197 L116.4 199 L115.8 201 L115.3 203 L114.9 205 L114.8 207 L114.9 209 L115.2 211 L115.6 213 L116.1 215 L116.6 217 L117.0 219 L117.3 221 L117.7 223 L118.0 225 L118.2 227 L118.4 229 L118.5 231 L118.4 233 L118.0 235 L117.5 237 L116.9 239 L116.3 241 L115.7 243 L115.3 245 L115.2 247 L115.3 249 L115.5 251 L115.9 253 L116.3 255 L116.6 257 L116.9 259 L117.2 261 L117.5 263 L117.8 265 L118.1 267 L118.2 269 L118.3 271 L118.1 273 L117.6 275 L117.0 277 L116.3 279 L115.7 281 L115.1 283 L114.8 285 L114.6 287 L114.7 289 L114.9 291 L115.2 293 L115.5 295 L115.8 297 L116.1 299 L116.5 301 L116.8 303 L117.2 305 L117.5 307 L117.7 309 L117.8 311 L117.6 313 L117.1 315 L116.5 317 L115.9 319 L115.3 321 L114.9 323 L114.6 325 L114.6 327 L114.7 329 L114.9 331 L115.2 333 L115.5 335 L115.9 337 L116.2 339 L116.7 341 L117.1 343 L117.6 345 L118.0 347 L118.3 349 L118.3 351 L118.1 353 L117.7 355 L117.1 357 L116.5 359 L115.9 361 L115.6 363 L115.4 365 L115.3 367 L115.4 369 L115.6 371 L115.8 373 L116.1 375 L116.4 377 L116.8 379 L117.2 381 L117.7 383 L118.2 385 L118.6 387 L118.7 389 L118.7 391 L118.4 393 L117.9 395 L117.3 397 L116.6 399 L116.1 401 L115.7 403 L115.4 405 L115.3 407 L115.4 409 L115.4 411 L115.5 413 L115.7 415 L116.0 417 L116.3 419 L116.8 421 L117.3 423 L117.7 425 L118.1 427 L118.2 429 L118.1 431 L117.7 433 L117.2 435 L116.5 437 L115.9 439 L115.4 441 L115.1 443 L114.9 445 L114.8 447 L114.7 449 L114.8 451 L114.9 453 L115.0 455 L115.4 457 L115.8 459 L116.3 461" stroke="#fff" stroke-opacity="0.233" stroke-width="8" fill="none"/>
<path d="M130.6 37 L130.9 39 L131.3 41 L131.6 43 L131.9 45 L132.0 47 L132.0 49 L131.7 51 L131.2 53 L130.5 55 L129.8 57 L129.1 59 L128.7 61 L128.4 63 L128.4 65 L128.6 67 L128.9 69 L129.2 71 L129.6 73 L130.0 75 L130.3 77 L130.6 79 L131.0 81 L131.2 83 L131.4 85 L131.5 87 L131.3 89 L130.9 91 L130.3 93 L129.6 95 L129.0 97 L128.5 99 L128.2 101 L128.2 103 L128.4 105 L128.8 107 L129.3 109 L129.7 111 L130.2 113 L130.6 115 L130.9 117 L131.3 119 L131.6 121 L131.8 123 L131.9 125 L131.8 127 L131.5 129 L131.0 131 L130.4 133 L129.8 135 L129.2 137 L128.9 139 L128.8 141 L129.0 143 L129.4 145 L129.8 147 L130.3 149 L130.8 151 L131.2 153 L131.5 155 L131.8 157 L132.0 159 L132.2 161 L132.2 163 L132.1 165 L131.8 167 L131.3 169 L130.7 171 L130.0 173 L129.4 175 L129.0 177 L128.8 179 L128.8 181 L129.1 183 L129.5 185 L130.0 187 L130.5 189 L130.8 191 L131.1 193 L131.4 195 L131.5 197 L131.6 199 L131.6 201 L131.5 203 L131.2 205 L130.8 207 L130.2 209 L129.5 211 L128.9 213 L128.4 215 L128.1 217 L128.1 219 L128.4 221 L128.8 223 L129.4 225 L129.9 227 L130.3 229 L130.7 231 L130.9 233 L131.1 235 L131.2 237 L131.3 239 L131.2 241 L131.0 243 L130.7 245 L130.2 247 L129.6 249 L129.0 251 L128.6 253 L128.3 255 L128.3 257 L128.5 259 L129.0 261 L129.6 263 L130.2 265 L130.8 267 L131.2 269 L131.5 271 L131.7 273 L131.8 275 L131.8 277 L131.8 279 L131.6 281 L131.4 283 L130.9 285 L130.4 287 L129.8 289 L129.3 291 L129.0 293 L128.9 295 L129.0 297 L129.4 299 L130.0 301 L130.6 303 L131.2 305 L131.6 307 L131.9 309 L132.0 311 L132.1 313 L132.0 315 L131.9 317 L131.7 319 L131.4 321 L130.9 323 L130.4 325 L129.8 327 L129.2 329 L128.8 331 L128.6 333 L128.6 335 L128.9 337 L129.4 339 L130.0 341 L130.6 343 L131.0 345 L131.3 347 L131.5 349 L131.5 351 L131.4 353 L131.2 355 L131.0 357 L130.7 359 L130.3 361 L129.8 363 L129.3 365 L128.7 367 L128.3 369 L128.1 371 L128.1 373 L128.4 375 L128.9 377 L129.5 379 L130.1 381 L130.7 383 L131.1 385 L131.3 387 L131.4 389 L131.3 391 L131.2 393 L131.0 395 L130.7 397 L130.4 399 L130.0 401 L129.6 403 L129.1 405 L128.7 407 L128.5 409 L128.5 411 L128.8 413 L129.3 415 L129.9 417 L130.6 419 L131.2 421 L131.7 423 L132.0 425 L132.1 427 L132.0 429 L131.9 431 L131.6 433 L131.4 435 L131.1 437 L130.7 439 L130.3 441 L129.8 443 L129.4 445 L129.1 447 L129.0 449 L129.1 451 L129.5 453 L130.1 455 L130.7 457 L131.4 459 L131.8 461" stroke="#fff" stroke-opacity="0.240" stroke-width="8" fill="none"/>
<path d="M147.3 37 L146.7 39 L146.0 41 L145.4 43 L144.9 45 L144.7 47 L144.6 49 L144.7 51 L144.9 53 L145.2 55 L145.5 57 L145.8 59 L146.1 61 L146.5 63 L146.8 65 L147.2 67 L147.5 69 L147.6 71 L147.5 73 L147.2 75 L146.6 77 L146.0 79 L145.3 81 L144.7 83 L144.3 85 L144.0 87 L144.0 89 L144.1 91 L144.3 93 L144.6 95 L144.8 97 L145.1 99 L145.5 101 L145.9 103 L146.3 105 L146.7 107 L147.0 109 L147.1 111 L147.0 113 L146.6 115 L146.1 117 L145.4 119 L144.8 121 L144.3 123 L144.0 125 L143.9 127 L144.0 129 L144.2 131 L144.4 133 L144.7 135 L145.0 137 L145.4 139 L145.9 141 L146.4 143 L146.9 145 L147.3 147 L147.6 149 L147.7 151 L147.5 153 L147.0 155 L146.5 157 L145.9 159 L145.3 161 L144.9 163 L144.7 165 L144.7 167 L144.8 169 L144.9 171 L145.1 173 L145.4 175 L145.7 177 L146.1 179 L146.5 181 L147.0 183 L147.5 185 L147.9 187 L148.0 189 L148.0 191 L147.6 193 L147.1 195 L146.5 197 L145.8 199 L145.3 201 L144.9 203 L144.7 205 L144.6 207 L144.6 209 L144.7 211 L144.9 213 L145.1 215 L145.4 217 L145.7 219 L146.2 221 L146.7 223 L147.1 225 L147.4 227 L147.4 229 L147.3 231 L146.8 233 L146.2 235 L145.6 237 L145.0 239 L144.5 241 L144.2 243 L144.0 245 L144.0 247 L144.0 249 L144.2 251 L144.3 253 L144.6 255 L144.9 257 L145.4 259 L145.9 261 L146.5 263 L146.9 265 L147.2 267 L147.2 269 L147.0 271 L146.6 273 L146.0 275 L145.5 277 L145.0 279 L144.6 281 L144.4 283 L144.3 285 L144.3 287 L144.4 289 L144.6 291 L144.8 293 L145.1 295 L145.6 297 L146.1 299 L146.7 301 L147.3 303 L147.7 305 L147.9 307 L147.9 309 L147.6 311 L147.1 313 L146.5 315 L146.0 317 L145.5 319 L145.2 321 L145.0 323 L144.9 325 L144.9 327 L144.9 329 L145.0 331 L145.2 333 L145.6 335 L146.0 337 L146.5 339 L147.1 341 L147.6 343 L147.9 345 L147.9 347 L147.8 349 L147.3 351 L146.8 353 L146.2 355 L145.6 357 L145.1 359 L144.8 361 L144.6 363 L144.4 365 L144.4 367 L144.4 369 L144.5 371 L144.7 373 L145.0 375 L145.5 377 L146.0 379 L146.6 381 L147.0 383 L147.2 385 L147.2 387 L147.0 389 L146.5 391 L146.0 393 L145.4 395 L144.9 397 L144.5 399 L144.3 401 L144.1 403 L144.0 405 L144.0 407 L144.1 409 L144.2 411 L144.5 413 L145.0 415 L145.5 417 L146.2 419 L146.8 421 L147.2 423 L147.4 425 L147.4 427 L147.1 429 L146.7 431 L146.2 433 L145.7 435 L145.3 437 L145.0 439 L144.8 441 L144.7 443 L144.6 445 L144.6 447 L144.7 449 L144.9 451 L145.3 453 L145.8 455 L146.4 457 L147.1 459 L147.6 461" stroke="#fff" stroke-opacity="0.233" stroke-width="8" fill="none"/>
<path d="M158.6 37 L159.2 39 L159.8 41 L160.5 43 L160.9 45 L161.2 47 L161.2 49 L161.0 51 L160.6 53 L160.1 55 L159.7 57 L159.2 59 L158.8 61 L158.5 63 L158.2 65 L157.9 67 L157.7 69 L157.6 71 L157.6 73 L157.9 75 L158.3 77 L158.9 79 L159.5 81 L160.1 83 L160.4 85 L160.6 87 L160.5 89 L160.2 91 L159.8 93 L159.3 95 L158.9 97 L158.5 99 L158.1 101 L157.8 103 L157.5 105 L157.2 107 L157.0 109 L157.0 111 L157.1 113 L157.5 115 L158.0 117 L158.7 119 L159.3 121 L159.9 123 L160.2 125 L160.3 127 L160.2 129 L160.0 131 L159.6 133 L159.3 135 L158.9 137 L158.6 139 L158.3 141 L158.0 143 L157.7 145 L157.5 147 L157.4 149 L157.4 151 L157.7 153 L158.1 155 L158.8 157 L159.5 159 L160.1 161 L160.6 163 L160.9 165 L161.0 167 L160.8 169 L160.6 171 L160.2 173 L159.9 175 L159.5 177 L159.2 179 L158.9 181 L158.5 183 L158.2 185 L157.9 187 L157.8 189 L157.8 191 L158.1 193 L158.6 195 L159.2 197 L159.9 199 L160.4 201 L160.8 203 L160.9 205 L160.9 207 L160.6 209 L160.3 211 L159.9 213 L159.6 215 L159.2 217 L158.8 219 L158.4 221 L158.0 223 L157.6 225 L157.3 227 L157.2 229 L157.3 231 L157.6 233 L158.1 235 L158.8 237 L159.4 239 L159.9 241 L160.1 243 L160.2 245 L160.1 247 L159.9 249 L159.6 251 L159.3 253 L159.0 255 L158.6 257 L158.2 259 L157.8 261 L157.4 263 L157.1 265 L156.9 267 L156.9 269 L157.1 271 L157.6 273 L158.2 275 L158.9 277 L159.5 279 L160.0 281 L160.3 283 L160.4 285 L160.3 287 L160.1 289 L159.9 291 L159.7 293 L159.4 295 L159.1 297 L158.7 299 L158.3 301 L157.9 303 L157.6 305 L157.5 307 L157.6 309 L157.9 311 L158.5 313 L159.1 315 L159.8 317 L160.3 319 L160.7 321 L160.9 323 L160.9 325 L160.8 327 L160.6 329 L160.4 331 L160.1 333 L159.8 335 L159.4 337 L158.9 339 L158.4 341 L158.0 343 L157.7 345 L157.5 347 L157.7 349 L158.0 351 L158.6 353 L159.2 355 L159.7 357 L160.2 359 L160.5 361 L160.5 363 L160.5 365 L160.3 367 L160.1 369 L159.8 371 L159.5 373 L159.1 375 L158.7 377 L158.1 379 L157.6 381 L157.2 383 L156.9 385 L156.9 387 L157.1 389 L157.5 391 L158.1 393 L158.7 395 L159.3 397 L159.7 399 L159.9 401 L160.0 403 L159.9 405 L159.8 407 L159.7 409 L159.5 411 L159.2 413 L158.8 415 L158.4 417 L157.9 419 L157.4 421 L157.1 423 L156.9 425 L157.0 427 L157.4 429 L157.9 431 L158.6 433 L159.2 435 L159.8 437 L160.2 439 L160.4 441 L160.5 443 L160.5 445 L160.4 447 L160.3 449 L160.1 451 L159.8 453 L159.4 455 L158.9 457 L158.4 459 L158.0 461" stroke="#fff" stroke-opacity="0.223" stroke-width="8" fill="none"/>
<path d="M176.6 37 L176.0 39 L175.4 41 L174.8 43 L174.3 45 L174.0 47 L174.0 49 L174.1 51 L174.5 53 L174.9 55 L175.4 57 L175.8 59 L176.1 61 L176.4 63 L176.7 65 L176.9 67 L177.1 69 L177.2 71 L177.1 73 L176.8 75 L176.4 77 L175.7 79 L175.0 81 L174.4 83 L173.9 85 L173.6 87 L173.6 89 L173.8 91 L174.1 93 L174.4 95 L174.8 97 L175.2 99 L175.5 101 L175.8 103 L176.0 105 L176.3 107 L176.5 109 L176.6 111 L176.4 113 L176.1 115 L175.6 117 L175.0 119 L174.3 121 L173.7 123 L173.3 125 L173.2 127 L173.2 129 L173.5 131 L173.8 133 L174.2 135 L174.6 137 L175.0 139 L175.3 141 L175.7 143 L176.1 145 L176.4 147 L176.7 149 L176.8 151 L176.6 153 L176.3 155 L175.8 157 L175.2 159 L174.6 161 L174.1 163 L173.8 165 L173.7 167 L173.9 169 L174.2 171 L174.5 173 L174.9 175 L175.3 177 L175.6 179 L176.0 181 L176.4 183 L176.8 185 L177.2 187 L177.4 189 L177.4 191 L177.2 193 L176.8 195 L176.2 197 L175.5 199 L174.9 201 L174.4 203 L174.2 205 L174.1 207 L174.2 209 L174.4 211 L174.7 213 L175.0 215 L175.3 217 L175.6 219 L176.0 221 L176.4 223 L176.7 225 L177.0 227 L177.1 229 L177.0 231 L176.7 233 L176.2 235 L175.5 237 L174.8 239 L174.2 241 L173.8 243 L173.6 245 L173.5 247 L173.6 249 L173.8 251 L174.0 253 L174.3 255 L174.6 257 L175.0 259 L175.4 261 L175.8 263 L176.2 265 L176.5 267 L176.6 269 L176.5 271 L176.2 273 L175.6 275 L175.0 277 L174.4 279 L173.9 281 L173.6 283 L173.5 285 L173.5 287 L173.7 289 L173.9 291 L174.1 293 L174.5 295 L174.8 297 L175.3 299 L175.8 301 L176.3 303 L176.7 305 L177.1 307 L177.2 309 L177.0 311 L176.6 313 L176.1 315 L175.5 317 L174.9 319 L174.5 321 L174.3 323 L174.2 325 L174.2 327 L174.4 329 L174.6 331 L174.8 333 L175.1 335 L175.5 337 L175.9 339 L176.4 341 L176.9 343 L177.3 345 L177.5 347 L177.5 349 L177.2 351 L176.7 353 L176.1 355 L175.5 357 L174.9 359 L174.5 361 L174.3 363 L174.1 365 L174.1 367 L174.2 369 L174.3 371 L174.5 373 L174.7 375 L175.1 377 L175.5 379 L176.0 381 L176.5 383 L176.8 385 L177.0 387 L176.8 389 L176.5 391 L175.9 393 L175.3 395 L174.7 397 L174.2 399 L173.8 401 L173.6 403 L173.5 405 L173.5 407 L173.6 409 L173.7 411 L173.9 413 L174.2 415 L174.7 417 L175.2 419 L175.8 421 L176.3 423 L176.7 425 L176.8 427 L176.6 429 L176.3 431 L175.7 433 L175.2 435 L174.7 437 L174.3 439 L174.0 441 L173.9 443 L173.9 445 L173.9 447 L174.0 449 L174.1 451 L174.4 453 L174.8 455 L175.3 457 L176.0 459 L176.6 461" stroke="#fff" stroke-opacity="0.192" stroke-width="8" fill="none"/>
</g>
<g filter="url(#bl1)">
<path d="M100.4 37 L100.7 39 L101.0 41 L101.4 43 L101.8 45 L102.2 47 L102.5 49 L102.7 51 L102.7 53 L102.5 55 L102.0 57 L101.4 59 L100.7 61 L100.1 63 L99.6 65 L99.3 67 L99.2 69 L99.2 71 L99.4 73 L99.6 75 L99.8 77 L100.1 79 L100.4 81 L100.8 83 L101.3 85 L101.8 87 L102.1 89 L102.3 91 L102.3 93 L102.1 95 L101.6 97 L101.0 99 L100.4 101 L99.8 103 L99.5 105 L99.3 107 L99.3 109 L99.4 111 L99.6 113 L99.8 115 L100.1 117 L100.4 119 L100.9 121 L101.4 123 L101.9 125 L102.4 127 L102.8 129 L103.0 131 L102.9 133 L102.6 135 L102.1 137 L101.5 139 L100.9 141 L100.5 143 L100.1 145 L100.0 147 L100.0 149 L100.1 151 L100.2 153 L100.4 155 L100.6 157 L101.0 159 L101.4 161 L101.9 163 L102.4 165 L102.9 167 L103.2 169 L103.2 171 L103.0 173 L102.6 175 L102.0 177 L101.3 179 L100.8 181 L100.3 183 L100.0 185 L99.8 187 L99.7 189 L99.8 191 L99.8 193 L100.0 195 L100.2 197 L100.5 199 L100.9 201 L101.4 203 L102.0 205 L102.4 207 L102.6 209 L102.5 211 L102.2 213 L101.7 215 L101.1 217 L100.5 219 L100.0 221 L99.6 223 L99.4 225 L99.2 227 L99.2 229 L99.2 231 L99.3 233 L99.5 235 L99.8 237 L100.2 239 L100.8 241 L101.3 243 L101.9 245 L102.3 247 L102.5 249 L102.5 251 L102.2 253 L101.7 255 L101.2 257 L100.7 259 L100.2 261 L99.9 263 L99.8 265 L99.7 267 L99.7 269 L99.7 271 L99.8 273 L100.1 275 L100.4 277 L101.0 279 L101.6 281 L102.2 283 L102.7 285 L103.1 287 L103.2 289 L103.1 291 L102.7 293 L102.2 295 L101.7 297 L101.2 299 L100.8 301 L100.5 303 L100.3 305 L100.2 307 L100.1 309 L100.1 311 L100.1 313 L100.3 315 L100.7 317 L101.2 319 L101.8 321 L102.3 323 L102.8 325 L103.0 327 L103.0 329 L102.7 331 L102.3 333 L101.7 335 L101.2 337 L100.7 339 L100.3 341 L100.0 343 L99.7 345 L99.5 347 L99.4 349 L99.4 351 L99.4 353 L99.7 355 L100.1 357 L100.7 359 L101.3 361 L101.8 363 L102.2 365 L102.4 367 L102.3 369 L102.0 371 L101.6 373 L101.1 375 L100.6 377 L100.2 379 L99.9 381 L99.6 383 L99.4 385 L99.3 387 L99.2 389 L99.2 391 L99.4 393 L99.7 395 L100.3 397 L100.9 399 L101.6 401 L102.2 403 L102.6 405 L102.7 407 L102.6 409 L102.3 411 L101.9 413 L101.5 415 L101.1 417 L100.8 419 L100.5 421 L100.2 423 L100.0 425 L99.9 427 L99.8 429 L99.8 431 L100.1 433 L100.5 435 L101.1 437 L101.7 439 L102.4 441 L102.9 443 L103.2 445 L103.2 447 L103.0 449 L102.7 451 L102.2 453 L101.8 455 L101.4 457 L101.0 459 L100.7 461" stroke="url(#hl0_0)" stroke-opacity="0.756" stroke-width="4.4" fill="none"/>
<path d="M116.5 37 L116.2 39 L115.7 41 L115.2 43 L114.8 45 L114.5 47 L114.5 49 L114.7 51 L115.1 53 L115.7 55 L116.3 57 L116.9 59 L117.4 61 L117.8 63 L117.9 65 L118.0 67 L118.0 69 L117.9 71 L117.8 73 L117.6 75 L117.3 77 L116.9 79 L116.4 81 L115.8 83 L115.4 85 L115.1 87 L115.1 89 L115.3 91 L115.7 93 L116.3 95 L116.9 97 L117.4 99 L117.8 101 L118.0 103 L118.2 105 L118.2 107 L118.2 109 L118.2 111 L118.0 113 L117.7 115 L117.3 117 L116.8 119 L116.2 121 L115.6 123 L115.1 125 L114.8 127 L114.8 129 L115.0 131 L115.3 133 L115.8 135 L116.3 137 L116.8 139 L117.1 141 L117.3 143 L117.5 145 L117.5 147 L117.6 149 L117.6 151 L117.4 153 L117.1 155 L116.7 157 L116.1 159 L115.5 161 L114.9 163 L114.5 165 L114.2 167 L114.3 169 L114.5 171 L115.0 173 L115.5 175 L116.0 177 L116.4 179 L116.8 181 L117.1 183 L117.3 185 L117.5 187 L117.7 189 L117.7 191 L117.6 193 L117.4 195 L117.0 197 L116.4 199 L115.8 201 L115.3 203 L114.9 205 L114.8 207 L114.9 209 L115.2 211 L115.6 213 L116.1 215 L116.6 217 L117.0 219 L117.3 221 L117.7 223 L118.0 225 L118.2 227 L118.4 229 L118.5 231 L118.4 233 L118.0 235 L117.5 237 L116.9 239 L116.3 241 L115.7 243 L115.3 245 L115.2 247 L115.3 249 L115.5 251 L115.9 253 L116.3 255 L116.6 257 L116.9 259 L117.2 261 L117.5 263 L117.8 265 L118.1 267 L118.2 269 L118.3 271 L118.1 273 L117.6 275 L117.0 277 L116.3 279 L115.7 281 L115.1 283 L114.8 285 L114.6 287 L114.7 289 L114.9 291 L115.2 293 L115.5 295 L115.8 297 L116.1 299 L116.5 301 L116.8 303 L117.2 305 L117.5 307 L117.7 309 L117.8 311 L117.6 313 L117.1 315 L116.5 317 L115.9 319 L115.3 321 L114.9 323 L114.6 325 L114.6 327 L114.7 329 L114.9 331 L115.2 333 L115.5 335 L115.9 337 L116.2 339 L116.7 341 L117.1 343 L117.6 345 L118.0 347 L118.3 349 L118.3 351 L118.1 353 L117.7 355 L117.1 357 L116.5 359 L115.9 361 L115.6 363 L115.4 365 L115.3 367 L115.4 369 L115.6 371 L115.8 373 L116.1 375 L116.4 377 L116.8 379 L117.2 381 L117.7 383 L118.2 385 L118.6 387 L118.7 389 L118.7 391 L118.4 393 L117.9 395 L117.3 397 L116.6 399 L116.1 401 L115.7 403 L115.4 405 L115.3 407 L115.4 409 L115.4 411 L115.5 413 L115.7 415 L116.0 417 L116.3 419 L116.8 421 L117.3 423 L117.7 425 L118.1 427 L118.2 429 L118.1 431 L117.7 433 L117.2 435 L116.5 437 L115.9 439 L115.4 441 L115.1 443 L114.9 445 L114.8 447 L114.7 449 L114.8 451 L114.9 453 L115.0 455 L115.4 457 L115.8 459 L116.3 461" stroke="url(#hl0_1)" stroke-opacity="0.756" stroke-width="4.4" fill="none"/>
<path d="M130.6 37 L130.9 39 L131.3 41 L131.6 43 L131.9 45 L132.0 47 L132.0 49 L131.7 51 L131.2 53 L130.5 55 L129.8 57 L129.1 59 L128.7 61 L128.4 63 L128.4 65 L128.6 67 L128.9 69 L129.2 71 L129.6 73 L130.0 75 L130.3 77 L130.6 79 L131.0 81 L131.2 83 L131.4 85 L131.5 87 L131.3 89 L130.9 91 L130.3 93 L129.6 95 L129.0 97 L128.5 99 L128.2 101 L128.2 103 L128.4 105 L128.8 107 L129.3 109 L129.7 111 L130.2 113 L130.6 115 L130.9 117 L131.3 119 L131.6 121 L131.8 123 L131.9 125 L131.8 127 L131.5 129 L131.0 131 L130.4 133 L129.8 135 L129.2 137 L128.9 139 L128.8 141 L129.0 143 L129.4 145 L129.8 147 L130.3 149 L130.8 151 L131.2 153 L131.5 155 L131.8 157 L132.0 159 L132.2 161 L132.2 163 L132.1 165 L131.8 167 L131.3 169 L130.7 171 L130.0 173 L129.4 175 L129.0 177 L128.8 179 L128.8 181 L129.1 183 L129.5 185 L130.0 187 L130.5 189 L130.8 191 L131.1 193 L131.4 195 L131.5 197 L131.6 199 L131.6 201 L131.5 203 L131.2 205 L130.8 207 L130.2 209 L129.5 211 L128.9 213 L128.4 215 L128.1 217 L128.1 219 L128.4 221 L128.8 223 L129.4 225 L129.9 227 L130.3 229 L130.7 231 L130.9 233 L131.1 235 L131.2 237 L131.3 239 L131.2 241 L131.0 243 L130.7 245 L130.2 247 L129.6 249 L129.0 251 L128.6 253 L128.3 255 L128.3 257 L128.5 259 L129.0 261 L129.6 263 L130.2 265 L130.8 267 L131.2 269 L131.5 271 L131.7 273 L131.8 275 L131.8 277 L131.8 279 L131.6 281 L131.4 283 L130.9 285 L130.4 287 L129.8 289 L129.3 291 L129.0 293 L128.9 295 L129.0 297 L129.4 299 L130.0 301 L130.6 303 L131.2 305 L131.6 307 L131.9 309 L132.0 311 L132.1 313 L132.0 315 L131.9 317 L131.7 319 L131.4 321 L130.9 323 L130.4 325 L129.8 327 L129.2 329 L128.8 331 L128.6 333 L128.6 335 L128.9 337 L129.4 339 L130.0 341 L130.6 343 L131.0 345 L131.3 347 L131.5 349 L131.5 351 L131.4 353 L131.2 355 L131.0 357 L130.7 359 L130.3 361 L129.8 363 L129.3 365 L128.7 367 L128.3 369 L128.1 371 L128.1 373 L128.4 375 L128.9 377 L129.5 379 L130.1 381 L130.7 383 L131.1 385 L131.3 387 L131.4 389 L131.3 391 L131.2 393 L131.0 395 L130.7 397 L130.4 399 L130.0 401 L129.6 403 L129.1 405 L128.7 407 L128.5 409 L128.5 411 L128.8 413 L129.3 415 L129.9 417 L130.6 419 L131.2 421 L131.7 423 L132.0 425 L132.1 427 L132.0 429 L131.9 431 L131.6 433 L131.4 435 L131.1 437 L130.7 439 L130.3 441 L129.8 443 L129.4 445 L129.1 447 L129.0 449 L129.1 451 L129.5 453 L130.1 455 L130.7 457 L131.4 459 L131.8 461" stroke="url(#hl0_2)" stroke-opacity="0.756" stroke-width="4.4" fill="none"/>
<path d="M147.3 37 L146.7 39 L146.0 41 L145.4 43 L144.9 45 L144.7 47 L144.6 49 L144.7 51 L144.9 53 L145.2 55 L145.5 57 L145.8 59 L146.1 61 L146.5 63 L146.8 65 L147.2 67 L147.5 69 L147.6 71 L147.5 73 L147.2 75 L146.6 77 L146.0 79 L145.3 81 L144.7 83 L144.3 85 L144.0 87 L144.0 89 L144.1 91 L144.3 93 L144.6 95 L144.8 97 L145.1 99 L145.5 101 L145.9 103 L146.3 105 L146.7 107 L147.0 109 L147.1 111 L147.0 113 L146.6 115 L146.1 117 L145.4 119 L144.8 121 L144.3 123 L144.0 125 L143.9 127 L144.0 129 L144.2 131 L144.4 133 L144.7 135 L145.0 137 L145.4 139 L145.9 141 L146.4 143 L146.9 145 L147.3 147 L147.6 149 L147.7 151 L147.5 153 L147.0 155 L146.5 157 L145.9 159 L145.3 161 L144.9 163 L144.7 165 L144.7 167 L144.8 169 L144.9 171 L145.1 173 L145.4 175 L145.7 177 L146.1 179 L146.5 181 L147.0 183 L147.5 185 L147.9 187 L148.0 189 L148.0 191 L147.6 193 L147.1 195 L146.5 197 L145.8 199 L145.3 201 L144.9 203 L144.7 205 L144.6 207 L144.6 209 L144.7 211 L144.9 213 L145.1 215 L145.4 217 L145.7 219 L146.2 221 L146.7 223 L147.1 225 L147.4 227 L147.4 229 L147.3 231 L146.8 233 L146.2 235 L145.6 237 L145.0 239 L144.5 241 L144.2 243 L144.0 245 L144.0 247 L144.0 249 L144.2 251 L144.3 253 L144.6 255 L144.9 257 L145.4 259 L145.9 261 L146.5 263 L146.9 265 L147.2 267 L147.2 269 L147.0 271 L146.6 273 L146.0 275 L145.5 277 L145.0 279 L144.6 281 L144.4 283 L144.3 285 L144.3 287 L144.4 289 L144.6 291 L144.8 293 L145.1 295 L145.6 297 L146.1 299 L146.7 301 L147.3 303 L147.7 305 L147.9 307 L147.9 309 L147.6 311 L147.1 313 L146.5 315 L146.0 317 L145.5 319 L145.2 321 L145.0 323 L144.9 325 L144.9 327 L144.9 329 L145.0 331 L145.2 333 L145.6 335 L146.0 337 L146.5 339 L147.1 341 L147.6 343 L147.9 345 L147.9 347 L147.8 349 L147.3 351 L146.8 353 L146.2 355 L145.6 357 L145.1 359 L144.8 361 L144.6 363 L144.4 365 L144.4 367 L144.4 369 L144.5 371 L144.7 373 L145.0 375 L145.5 377 L146.0 379 L146.6 381 L147.0 383 L147.2 385 L147.2 387 L147.0 389 L146.5 391 L146.0 393 L145.4 395 L144.9 397 L144.5 399 L144.3 401 L144.1 403 L144.0 405 L144.0 407 L144.1 409 L144.2 411 L144.5 413 L145.0 415 L145.5 417 L146.2 419 L146.8 421 L147.2 423 L147.4 425 L147.4 427 L147.1 429 L146.7 431 L146.2 433 L145.7 435 L145.3 437 L145.0 439 L144.8 441 L144.7 443 L144.6 445 L144.6 447 L144.7 449 L144.9 451 L145.3 453 L145.8 455 L146.4 457 L147.1 459 L147.6 461" stroke="url(#hl0_3)" stroke-opacity="0.756" stroke-width="4.4" fill="none"/>
<path d="M158.6 37 L159.2 39 L159.8 41 L160.5 43 L160.9 45 L161.2 47 L161.2 49 L161.0 51 L160.6 53 L160.1 55 L159.7 57 L159.2 59 L158.8 61 L158.5 63 L158.2 65 L157.9 67 L157.7 69 L157.6 71 L157.6 73 L157.9 75 L158.3 77 L158.9 79 L159.5 81 L160.1 83 L160.4 85 L160.6 87 L160.5 89 L160.2 91 L159.8 93 L159.3 95 L158.9 97 L158.5 99 L158.1 101 L157.8 103 L157.5 105 L157.2 107 L157.0 109 L157.0 111 L157.1 113 L157.5 115 L158.0 117 L158.7 119 L159.3 121 L159.9 123 L160.2 125 L160.3 127 L160.2 129 L160.0 131 L159.6 133 L159.3 135 L158.9 137 L158.6 139 L158.3 141 L158.0 143 L157.7 145 L157.5 147 L157.4 149 L157.4 151 L157.7 153 L158.1 155 L158.8 157 L159.5 159 L160.1 161 L160.6 163 L160.9 165 L161.0 167 L160.8 169 L160.6 171 L160.2 173 L159.9 175 L159.5 177 L159.2 179 L158.9 181 L158.5 183 L158.2 185 L157.9 187 L157.8 189 L157.8 191 L158.1 193 L158.6 195 L159.2 197 L159.9 199 L160.4 201 L160.8 203 L160.9 205 L160.9 207 L160.6 209 L160.3 211 L159.9 213 L159.6 215 L159.2 217 L158.8 219 L158.4 221 L158.0 223 L157.6 225 L157.3 227 L157.2 229 L157.3 231 L157.6 233 L158.1 235 L158.8 237 L159.4 239 L159.9 241 L160.1 243 L160.2 245 L160.1 247 L159.9 249 L159.6 251 L159.3 253 L159.0 255 L158.6 257 L158.2 259 L157.8 261 L157.4 263 L157.1 265 L156.9 267 L156.9 269 L157.1 271 L157.6 273 L158.2 275 L158.9 277 L159.5 279 L160.0 281 L160.3 283 L160.4 285 L160.3 287 L160.1 289 L159.9 291 L159.7 293 L159.4 295 L159.1 297 L158.7 299 L158.3 301 L157.9 303 L157.6 305 L157.5 307 L157.6 309 L157.9 311 L158.5 313 L159.1 315 L159.8 317 L160.3 319 L160.7 321 L160.9 323 L160.9 325 L160.8 327 L160.6 329 L160.4 331 L160.1 333 L159.8 335 L159.4 337 L158.9 339 L158.4 341 L158.0 343 L157.7 345 L157.5 347 L157.7 349 L158.0 351 L158.6 353 L159.2 355 L159.7 357 L160.2 359 L160.5 361 L160.5 363 L160.5 365 L160.3 367 L160.1 369 L159.8 371 L159.5 373 L159.1 375 L158.7 377 L158.1 379 L157.6 381 L157.2 383 L156.9 385 L156.9 387 L157.1 389 L157.5 391 L158.1 393 L158.7 395 L159.3 397 L159.7 399 L159.9 401 L160.0 403 L159.9 405 L159.8 407 L159.7 409 L159.5 411 L159.2 413 L158.8 415 L158.4 417 L157.9 419 L157.4 421 L157.1 423 L156.9 425 L157.0 427 L157.4 429 L157.9 431 L158.6 433 L159.2 435 L159.8 437 L160.2 439 L160.4 441 L160.5 443 L160.5 445 L160.4 447 L160.3 449 L160.1 451 L159.8 453 L159.4 455 L158.9 457 L158.4 459 L158.0 461" stroke="url(#hl0_4)" stroke-opacity="0.756" stroke-width="4.4" fill="none"/>
<path d="M176.6 37 L176.0 39 L175.4 41 L174.8 43 L174.3 45 L174.0 47 L174.0 49 L174.1 51 L174.5 53 L174.9 55 L175.4 57 L175.8 59 L176.1 61 L176.4 63 L176.7 65 L176.9 67 L177.1 69 L177.2 71 L177.1 73 L176.8 75 L176.4 77 L175.7 79 L175.0 81 L174.4 83 L173.9 85 L173.6 87 L173.6 89 L173.8 91 L174.1 93 L174.4 95 L174.8 97 L175.2 99 L175.5 101 L175.8 103 L176.0 105 L176.3 107 L176.5 109 L176.6 111 L176.4 113 L176.1 115 L175.6 117 L175.0 119 L174.3 121 L173.7 123 L173.3 125 L173.2 127 L173.2 129 L173.5 131 L173.8 133 L174.2 135 L174.6 137 L175.0 139 L175.3 141 L175.7 143 L176.1 145 L176.4 147 L176.7 149 L176.8 151 L176.6 153 L176.3 155 L175.8 157 L175.2 159 L174.6 161 L174.1 163 L173.8 165 L173.7 167 L173.9 169 L174.2 171 L174.5 173 L174.9 175 L175.3 177 L175.6 179 L176.0 181 L176.4 183 L176.8 185 L177.2 187 L177.4 189 L177.4 191 L177.2 193 L176.8 195 L176.2 197 L175.5 199 L174.9 201 L174.4 203 L174.2 205 L174.1 207 L174.2 209 L174.4 211 L174.7 213 L175.0 215 L175.3 217 L175.6 219 L176.0 221 L176.4 223 L176.7 225 L177.0 227 L177.1 229 L177.0 231 L176.7 233 L176.2 235 L175.5 237 L174.8 239 L174.2 241 L173.8 243 L173.6 245 L173.5 247 L173.6 249 L173.8 251 L174.0 253 L174.3 255 L174.6 257 L175.0 259 L175.4 261 L175.8 263 L176.2 265 L176.5 267 L176.6 269 L176.5 271 L176.2 273 L175.6 275 L175.0 277 L174.4 279 L173.9 281 L173.6 283 L173.5 285 L173.5 287 L173.7 289 L173.9 291 L174.1 293 L174.5 295 L174.8 297 L175.3 299 L175.8 301 L176.3 303 L176.7 305 L177.1 307 L177.2 309 L177.0 311 L176.6 313 L176.1 315 L175.5 317 L174.9 319 L174.5 321 L174.3 323 L174.2 325 L174.2 327 L174.4 329 L174.6 331 L174.8 333 L175.1 335 L175.5 337 L175.9 339 L176.4 341 L176.9 343 L177.3 345 L177.5 347 L177.5 349 L177.2 351 L176.7 353 L176.1 355 L175.5 357 L174.9 359 L174.5 361 L174.3 363 L174.1 365 L174.1 367 L174.2 369 L174.3 371 L174.5 373 L174.7 375 L175.1 377 L175.5 379 L176.0 381 L176.5 383 L176.8 385 L177.0 387 L176.8 389 L176.5 391 L175.9 393 L175.3 395 L174.7 397 L174.2 399 L173.8 401 L173.6 403 L173.5 405 L173.5 407 L173.6 409 L173.7 411 L173.9 413 L174.2 415 L174.7 417 L175.2 419 L175.8 421 L176.3 423 L176.7 425 L176.8 427 L176.6 429 L176.3 431 L175.7 433 L175.2 435 L174.7 437 L174.3 439 L174.0 441 L173.9 443 L173.9 445 L173.9 447 L174.0 449 L174.1 451 L174.4 453 L174.8 455 L175.3 457 L176.0 459 L176.6 461" stroke="url(#hl0_5)" stroke-opacity="0.756" stroke-width="4.4" fill="none"/>
</g>
</g></g>
<rect x="67.0" y="47.2" width="135.6" height="405.6" fill="none" stroke="#262626" stroke-width="1.1"/>
<path d="M95.7 47.2v3.2M95.7 452.8v-3.2M135.4 47.2v3.2M135.4 452.8v-3.2M175.1 47.2v3.2M175.1 452.8v-3.2M67.0 452.8h3.2M202.6 452.8h-3.2M67.0 394.2h3.2M202.6 394.2h-3.2M67.0 335.6h3.2M202.6 335.6h-3.2M67.0 277h3.2M202.6 277h-3.2M67.0 218.4h3.2M202.6 218.4h-3.2M67.0 159.8h3.2M202.6 159.8h-3.2M67.0 101.2h3.2M202.6 101.2h-3.2" stroke="#262626" stroke-width="1.1" fill="none"/>
<g clip-path="url(#hc1)"><g filter="url(#cmap)">
<rect x="219.7" y="47.2" width="135.2" height="405.6" fill="url(#hbg1)"/>
<g filter="url(#bl3)">
<ellipse cx="241.0" cy="48.8" rx="4.8" ry="9.8" fill="#fff" fill-opacity="0.191"/>
<ellipse cx="241.2" cy="67.6" rx="4.8" ry="7.9" fill="#fff" fill-opacity="0.245"/>
<ellipse cx="241.4" cy="87.7" rx="3.7" ry="7.7" fill="#fff" fill-opacity="0.273"/>
<ellipse cx="238.8" cy="107.4" rx="5.1" ry="8.9" fill="#fff" fill-opacity="0.175"/>
<ellipse cx="240.8" cy="128.9" rx="3.8" ry="9.0" fill="#fff" fill-opacity="0.172"/>
<ellipse cx="237.9" cy="148.4" rx="3.9" ry="9.9" fill="#fff" fill-opacity="0.208"/>
<ellipse cx="239.7" cy="173.8" rx="4.7" ry="9.6" fill="#fff" fill-opacity="0.245"/>
<ellipse cx="240.4" cy="191.3" rx="4.8" ry="7.5" fill="#fff" fill-opacity="0.168"/>
<ellipse cx="240.0" cy="215.7" rx="3.9" ry="8.4" fill="#fff" fill-opacity="0.184"/>
<ellipse cx="240.0" cy="239.4" rx="3.7" ry="9.5" fill="#fff" fill-opacity="0.168"/>
<ellipse cx="237.6" cy="258.4" rx="5.0" ry="7.3" fill="#fff" fill-opacity="0.224"/>
<ellipse cx="239.9" cy="275.7" rx="4.9" ry="8.6" fill="#fff" fill-opacity="0.215"/>
<ellipse cx="239.7" cy="296.6" rx="4.7" ry="7.3" fill="#fff" fill-opacity="0.218"/>
<ellipse cx="241.8" cy="315.2" rx="5.4" ry="7.2" fill="#fff" fill-opacity="0.175"/>
<ellipse cx="240.3" cy="338.1" rx="3.5" ry="9.1" fill="#fff" fill-opacity="0.279"/>
<ellipse cx="239.2" cy="358.4" rx="4.6" ry="9.8" fill="#fff" fill-opacity="0.190"/>
<ellipse cx="238.4" cy="377.6" rx="4.8" ry="8.4" fill="#fff" fill-opacity="0.189"/>
<ellipse cx="237.7" cy="397.6" rx="4.1" ry="9.9" fill="#fff" fill-opacity="0.232"/>
<ellipse cx="242.2" cy="416.6" rx="4.2" ry="7.8" fill="#fff" fill-opacity="0.161"/>
<ellipse cx="238.5" cy="434.4" rx="4.0" ry="9.6" fill="#fff" fill-opacity="0.190"/>
<ellipse cx="240.5" cy="453.2" rx="5.3" ry="7.9" fill="#fff" fill-opacity="0.255"/>
<ellipse cx="336.5" cy="55.6" rx="5.4" ry="9.3" fill="#fff" fill-opacity="0.120"/>
<ellipse cx="335.3" cy="79.7" rx="4.3" ry="9.9" fill="#fff" fill-opacity="0.122"/>
<ellipse cx="335.0" cy="103.2" rx="5.3" ry="8.8" fill="#fff" fill-opacity="0.101"/>
<ellipse cx="335.8" cy="128.1" rx="4.2" ry="7.8" fill="#fff" fill-opacity="0.091"/>
<ellipse cx="336.9" cy="146.4" rx="3.8" ry="7.8" fill="#fff" fill-opacity="0.115"/>
<ellipse cx="335.4" cy="167.8" rx="5.1" ry="7.8" fill="#fff" fill-opacity="0.110"/>
<ellipse cx="334.1" cy="188.1" rx="3.9" ry="7.4" fill="#fff" fill-opacity="0.135"/>
<ellipse cx="336.8" cy="205.9" rx="3.9" ry="8.9" fill="#fff" fill-opacity="0.130"/>
<ellipse cx="338.1" cy="225.6" rx="4.8" ry="8.7" fill="#fff" fill-opacity="0.087"/>
<ellipse cx="334.8" cy="245.7" rx="4.4" ry="9.8" fill="#fff" fill-opacity="0.144"/>
<ellipse cx="336.9" cy="262.8" rx="5.4" ry="8.6" fill="#fff" fill-opacity="0.091"/>
<ellipse cx="335.6" cy="287.1" rx="5.5" ry="9.6" fill="#fff" fill-opacity="0.142"/>
<ellipse cx="333.8" cy="312.0" rx="5.1" ry="7.9" fill="#fff" fill-opacity="0.093"/>
<ellipse cx="336.4" cy="331.9" rx="3.5" ry="8.3" fill="#fff" fill-opacity="0.139"/>
<ellipse cx="336.1" cy="352.9" rx="4.1" ry="9.9" fill="#fff" fill-opacity="0.101"/>
<ellipse cx="336.7" cy="375.5" rx="3.5" ry="10.0" fill="#fff" fill-opacity="0.100"/>
<ellipse cx="338.1" cy="400.9" rx="5.3" ry="9.6" fill="#fff" fill-opacity="0.112"/>
<ellipse cx="335.2" cy="421.4" rx="5.4" ry="7.1" fill="#fff" fill-opacity="0.094"/>
<ellipse cx="337.5" cy="446.5" rx="4.9" ry="9.9" fill="#fff" fill-opacity="0.121"/>
<ellipse cx="279.6" cy="412.5" rx="3.2" ry="5.8" fill="#000" fill-opacity="0.053"/>
<ellipse cx="327.1" cy="218.6" rx="5.0" ry="7.9" fill="#000" fill-opacity="0.047"/>
<ellipse cx="246.7" cy="59.5" rx="5.6" ry="5.9" fill="#000" fill-opacity="0.046"/>
<ellipse cx="290.0" cy="96.1" rx="3.7" ry="4.9" fill="#000" fill-opacity="0.040"/>
<ellipse cx="335.9" cy="147.2" rx="3.3" ry="7.5" fill="#000" fill-opacity="0.052"/>
<ellipse cx="223.5" cy="321.1" rx="5.1" ry="6.6" fill="#000" fill-opacity="0.061"/>
<ellipse cx="277.0" cy="138.4" rx="5.2" ry="6.5" fill="#000" fill-opacity="0.058"/>
<ellipse cx="244.5" cy="198.4" rx="5.1" ry="5.5" fill="#000" fill-opacity="0.054"/>
<ellipse cx="283.6" cy="353.3" rx="4.0" ry="6.0" fill="#000" fill-opacity="0.063"/>
<ellipse cx="261.7" cy="118.5" rx="4.9" ry="4.5" fill="#000" fill-opacity="0.064"/>
<ellipse cx="256.9" cy="413.9" rx="4.6" ry="4.6" fill="#000" fill-opacity="0.051"/>
<ellipse cx="312.0" cy="244.4" rx="4.9" ry="5.5" fill="#000" fill-opacity="0.068"/>
<ellipse cx="243.3" cy="370.8" rx="3.1" ry="6.0" fill="#000" fill-opacity="0.033"/>
<ellipse cx="237.5" cy="285.9" rx="5.7" ry="5.2" fill="#000" fill-opacity="0.046"/>
<ellipse cx="284.1" cy="292.6" rx="4.1" ry="5.4" fill="#000" fill-opacity="0.064"/>
<ellipse cx="294.8" cy="190.2" rx="5.5" ry="8.0" fill="#000" fill-opacity="0.047"/>
<ellipse cx="221.8" cy="171.0" rx="5.7" ry="4.7" fill="#000" fill-opacity="0.038"/>
<ellipse cx="326.8" cy="93.6" rx="5.5" ry="4.9" fill="#000" fill-opacity="0.046"/>
<ellipse cx="300.1" cy="92.7" rx="5.3" ry="5.8" fill="#000" fill-opacity="0.061"/>
<ellipse cx="323.0" cy="78.3" rx="5.5" ry="7.3" fill="#000" fill-opacity="0.040"/>
<ellipse cx="299.6" cy="130.6" rx="4.6" ry="7.0" fill="#000" fill-opacity="0.045"/>
<ellipse cx="291.8" cy="100.5" rx="5.6" ry="6.5" fill="#000" fill-opacity="0.063"/>
<ellipse cx="230.6" cy="349.5" rx="3.3" ry="6.2" fill="#000" fill-opacity="0.039"/>
<ellipse cx="341.6" cy="90.3" rx="4.4" ry="5.9" fill="#000" fill-opacity="0.045"/>
<ellipse cx="228.4" cy="317.4" rx="5.9" ry="5.4" fill="#000" fill-opacity="0.066"/>
<ellipse cx="265.5" cy="158.0" rx="4.4" ry="7.9" fill="#000" fill-opacity="0.061"/>
<ellipse cx="305.2" cy="63.3" rx="4.4" ry="4.1" fill="#000" fill-opacity="0.032"/>
<ellipse cx="270.6" cy="146.2" rx="3.3" ry="6.0" fill="#000" fill-opacity="0.061"/>
<ellipse cx="344.9" cy="418.7" rx="4.3" ry="4.7" fill="#000" fill-opacity="0.069"/>
<ellipse cx="276.9" cy="186.3" rx="5.5" ry="6.2" fill="#000" fill-opacity="0.068"/>
</g>
<rect x="219.7" y="47.2" width="135.2" height="405.6" fill="#fff" filter="url(#noise)"/>
<g filter="url(#bl1)">
<path d="M262.7 37 L262.8 39 L263.1 41 L263.4 43 L263.5 45 L263.3 47 L262.8 49 L262.3 51 L261.9 53 L261.9 55 L262.0 57 L262.3 59 L262.4 61 L262.3 63 L262.2 65 L262.2 67 L262.4 69 L262.8 71 L263.2 73 L263.2 75 L262.9 77 L262.4 79 L261.8 81 L261.5 83 L261.4 85 L261.7 87 L262.0 89 L262.2 91 L262.3 93 L262.4 95 L262.6 97 L263.0 99 L263.5 101 L263.9 103 L263.9 105 L263.6 107 L263.0 109 L262.4 111 L262.0 113 L261.9 115 L262.1 117 L262.5 119 L262.7 121 L263.0 123 L263.2 125 L263.5 127 L264.0 129 L264.4 131 L264.7 133 L264.5 135 L264.0 137 L263.3 139 L262.6 141 L262.1 143 L261.9 145 L262.0 147 L262.3 149 L262.5 151 L262.8 153 L263.1 155 L263.5 157 L263.9 159 L264.3 161 L264.4 163 L264.1 165 L263.5 167 L262.7 169 L261.9 171 L261.3 173 L261.1 175 L261.2 177 L261.5 179 L261.9 181 L262.3 183 L262.8 185 L263.3 187 L263.8 189 L264.2 191 L264.3 193 L264.0 195 L263.3 197 L262.5 199 L261.8 201 L261.3 203 L261.1 205 L261.3 207 L261.7 209 L262.2 211 L262.8 213 L263.5 215 L264.1 217 L264.7 219 L265.0 221 L265.1 223 L264.7 225 L264.0 227 L263.2 229 L262.5 231 L261.9 233 L261.7 235 L261.9 237 L262.3 239 L262.9 241 L263.5 243 L264.2 245 L264.9 247 L265.3 249 L265.5 251 L265.4 253 L264.9 255 L264.1 257 L263.2 259 L262.4 261 L261.8 263 L261.5 265 L261.5 267 L261.9 269 L262.6 271 L263.3 273 L264.0 275 L264.6 277 L265.0 279 L265.1 281 L264.9 283 L264.3 285 L263.5 287 L262.6 289 L261.7 291 L261.1 293 L260.9 295 L261.0 297 L261.5 299 L262.3 301 L263.1 303 L264.0 305 L264.6 307 L265.0 309 L265.1 311 L264.9 313 L264.4 315 L263.6 317 L262.8 319 L262.0 321 L261.5 323 L261.3 325 L261.6 327 L262.2 329 L263.1 331 L264.0 333 L264.9 335 L265.5 337 L265.9 339 L265.9 341 L265.6 343 L265.1 345 L264.3 347 L263.4 349 L262.6 351 L262.1 353 L261.9 355 L262.2 357 L262.8 359 L263.7 361 L264.5 363 L265.3 365 L265.8 367 L266.0 369 L265.9 371 L265.5 373 L264.9 375 L264.1 377 L263.1 379 L262.3 381 L261.7 383 L261.5 385 L261.8 387 L262.5 389 L263.3 391 L264.1 393 L264.8 395 L265.2 397 L265.4 399 L265.3 401 L264.9 403 L264.3 405 L263.5 407 L262.6 409 L261.9 411 L261.4 413 L261.4 415 L261.8 417 L262.5 419 L263.4 421 L264.3 423 L265.0 425 L265.4 427 L265.6 429 L265.5 431 L265.3 433 L264.7 435 L264.0 437 L263.2 439 L262.5 441 L262.1 443 L262.2 445 L262.7 447 L263.5 449 L264.4 451 L265.1 453 L265.7 455 L266.1 457 L266.2 459 L266.1 461" stroke="#000" stroke-opacity="0.85" stroke-width="2.2" fill="none"/>
<path d="M277.1 37 L277.5 39 L277.8 41 L278.0 43 L278.1 45 L277.8 47 L277.5 49 L277.0 51 L276.6 53 L276.3 55 L276.0 57 L276.0 59 L276.0 61 L276.2 63 L276.5 65 L277.0 67 L277.4 69 L277.8 71 L277.9 73 L277.8 75 L277.5 77 L277.0 79 L276.5 81 L276.1 83 L275.8 85 L275.6 87 L275.6 89 L275.7 91 L276.0 93 L276.4 95 L276.9 97 L277.5 99 L277.9 101 L278.0 103 L277.9 105 L277.5 107 L277.0 109 L276.5 111 L276.1 113 L275.9 115 L275.7 117 L275.8 119 L276.0 121 L276.4 123 L276.9 125 L277.6 127 L278.2 129 L278.5 131 L278.6 133 L278.4 135 L277.9 137 L277.3 139 L276.8 141 L276.4 143 L276.1 145 L276.0 147 L276.0 149 L276.3 151 L276.7 153 L277.3 155 L278.0 157 L278.6 159 L278.9 161 L278.8 163 L278.4 165 L277.8 167 L277.1 169 L276.5 171 L276.1 173 L275.8 175 L275.7 177 L275.8 179 L276.1 181 L276.6 183 L277.3 185 L277.9 187 L278.5 189 L278.7 191 L278.5 193 L278.1 195 L277.4 197 L276.7 199 L276.1 201 L275.7 203 L275.5 205 L275.5 207 L275.6 209 L276.1 211 L276.7 213 L277.5 215 L278.3 217 L278.8 219 L279.0 221 L278.7 223 L278.2 225 L277.5 227 L276.9 229 L276.3 231 L275.9 233 L275.8 235 L275.8 237 L276.1 239 L276.7 241 L277.4 243 L278.3 245 L279.0 247 L279.4 249 L279.5 251 L279.2 253 L278.5 255 L277.8 257 L277.1 259 L276.5 261 L276.1 263 L276.0 265 L276.1 267 L276.4 269 L277.0 271 L277.8 273 L278.6 275 L279.3 277 L279.6 279 L279.5 281 L279.0 283 L278.3 285 L277.5 287 L276.7 289 L276.1 291 L275.8 293 L275.6 295 L275.8 297 L276.3 299 L277.0 301 L277.8 303 L278.6 305 L279.2 307 L279.4 309 L279.2 311 L278.7 313 L277.9 315 L277.2 317 L276.4 319 L275.9 321 L275.6 323 L275.6 325 L275.9 327 L276.5 329 L277.4 331 L278.3 333 L279.1 335 L279.6 337 L279.8 339 L279.5 341 L278.9 343 L278.2 345 L277.4 347 L276.7 349 L276.2 351 L276.0 353 L276.1 355 L276.5 357 L277.2 359 L278.1 361 L279.1 363 L279.8 365 L280.2 367 L280.2 369 L279.8 371 L279.1 373 L278.3 375 L277.5 377 L276.8 379 L276.3 381 L276.1 383 L276.2 385 L276.7 387 L277.5 389 L278.4 391 L279.3 393 L279.9 395 L280.1 397 L279.9 399 L279.5 401 L278.7 403 L277.9 405 L277.1 407 L276.4 409 L275.9 411 L275.8 413 L276.0 415 L276.7 417 L277.5 419 L278.5 421 L279.3 423 L279.8 425 L279.9 427 L279.7 429 L279.2 431 L278.5 433 L277.7 435 L277.0 437 L276.3 439 L275.9 441 L275.9 443 L276.4 445 L277.1 447 L278.1 449 L279.1 451 L279.8 453 L280.3 455 L280.3 457 L280.0 459 L279.5 461" stroke="#000" stroke-opacity="0.85" stroke-width="2.2" fill="none"/>
<path d="M291.7 37 L291.5 39 L291.2 41 L290.9 43 L290.9 45 L291.1 47 L291.4 49 L291.6 51 L291.5 53 L291.3 55 L291.0 57 L290.9 59 L291.1 61 L291.3 63 L291.5 65 L291.5 67 L291.2 69 L290.9 71 L290.6 73 L290.5 75 L290.8 77 L291.1 79 L291.2 81 L291.2 83 L291.0 85 L290.8 87 L290.8 89 L290.9 91 L291.2 93 L291.4 95 L291.4 97 L291.2 99 L290.8 101 L290.5 103 L290.5 105 L290.8 107 L291.1 109 L291.3 111 L291.4 113 L291.3 115 L291.1 117 L291.1 119 L291.3 121 L291.7 123 L291.9 125 L291.8 127 L291.6 129 L291.2 131 L290.9 133 L290.9 135 L291.1 137 L291.4 139 L291.7 141 L291.8 143 L291.6 145 L291.5 147 L291.5 149 L291.7 151 L292.0 153 L292.1 155 L292.0 157 L291.7 159 L291.2 161 L290.9 163 L290.8 165 L291.0 167 L291.3 169 L291.6 171 L291.6 173 L291.5 175 L291.4 177 L291.4 179 L291.6 181 L291.8 183 L291.9 185 L291.8 187 L291.4 189 L291.0 191 L290.6 193 L290.5 195 L290.7 197 L291.0 199 L291.3 201 L291.4 203 L291.4 205 L291.3 207 L291.4 209 L291.6 211 L291.9 213 L292.1 215 L292.0 217 L291.6 219 L291.1 221 L290.8 223 L290.7 225 L290.9 227 L291.3 229 L291.6 231 L291.8 233 L291.8 235 L291.8 237 L291.9 239 L292.1 241 L292.4 243 L292.6 245 L292.4 247 L292.0 249 L291.5 251 L291.2 253 L291.0 255 L291.2 257 L291.6 259 L291.9 261 L292.1 263 L292.1 265 L292.1 267 L292.2 269 L292.4 271 L292.6 273 L292.7 275 L292.5 277 L292.0 279 L291.5 281 L291.0 283 L290.9 285 L291.0 287 L291.4 289 L291.7 291 L291.9 293 L291.9 295 L291.9 297 L292.0 299 L292.2 301 L292.4 303 L292.5 305 L292.3 307 L291.9 309 L291.3 311 L290.9 313 L290.7 315 L290.9 317 L291.2 319 L291.6 321 L291.9 323 L292.0 325 L292.1 327 L292.2 329 L292.5 331 L292.7 333 L292.8 335 L292.6 337 L292.2 339 L291.6 341 L291.2 343 L291.1 345 L291.2 347 L291.6 349 L292.0 351 L292.3 353 L292.5 355 L292.6 357 L292.8 359 L293.0 361 L293.2 363 L293.3 365 L293.1 367 L292.6 369 L292.0 371 L291.5 373 L291.3 375 L291.4 377 L291.8 379 L292.2 381 L292.5 383 L292.6 385 L292.7 387 L292.9 389 L293.1 391 L293.2 393 L293.2 395 L293.0 397 L292.4 399 L291.8 401 L291.3 403 L291.0 405 L291.1 407 L291.5 409 L291.9 411 L292.2 413 L292.4 415 L292.6 417 L292.7 419 L293.0 421 L293.1 423 L293.2 425 L292.9 427 L292.4 429 L291.8 431 L291.2 433 L291.0 435 L291.2 437 L291.5 439 L292.0 441 L292.4 443 L292.7 445 L292.9 447 L293.1 449 L293.4 451 L293.6 453 L293.6 455 L293.3 457 L292.8 459 L292.2 461" stroke="#000" stroke-opacity="0.85" stroke-width="2.2" fill="none"/>
<path d="M306.2 37 L305.7 39 L305.3 41 L305.1 43 L305.3 45 L305.6 47 L305.8 49 L305.9 51 L305.9 53 L305.9 55 L306.1 57 L306.4 59 L306.7 61 L306.8 63 L306.7 65 L306.2 67 L305.7 69 L305.3 71 L305.2 73 L305.4 75 L305.7 77 L306.0 79 L306.2 81 L306.2 83 L306.2 85 L306.4 87 L306.7 89 L307.1 91 L307.2 93 L307.1 95 L306.7 97 L306.2 99 L305.8 101 L305.6 103 L305.8 105 L306.1 107 L306.4 109 L306.5 111 L306.5 113 L306.5 115 L306.7 117 L306.9 119 L307.3 121 L307.4 123 L307.2 125 L306.8 127 L306.2 129 L305.8 131 L305.6 133 L305.7 135 L306.0 137 L306.2 139 L306.3 141 L306.3 143 L306.3 145 L306.4 147 L306.6 149 L306.9 151 L307.1 153 L307.0 155 L306.5 157 L306.0 159 L305.5 161 L305.3 163 L305.4 165 L305.7 167 L306.0 169 L306.2 171 L306.2 173 L306.2 175 L306.4 177 L306.7 179 L307.0 181 L307.2 183 L307.1 185 L306.8 187 L306.2 189 L305.8 191 L305.7 193 L305.8 195 L306.1 197 L306.4 199 L306.6 201 L306.6 203 L306.7 205 L306.8 207 L307.1 209 L307.5 211 L307.7 213 L307.6 215 L307.2 217 L306.7 219 L306.3 221 L306.1 223 L306.1 225 L306.4 227 L306.7 229 L306.8 231 L306.8 233 L306.8 235 L306.9 237 L307.2 239 L307.5 241 L307.7 243 L307.6 245 L307.2 247 L306.6 249 L306.1 251 L305.9 253 L305.9 255 L306.2 257 L306.4 259 L306.5 261 L306.5 263 L306.5 265 L306.7 267 L306.9 269 L307.3 271 L307.5 273 L307.4 275 L307.0 277 L306.5 279 L306.0 281 L305.8 283 L305.9 285 L306.1 287 L306.4 289 L306.6 291 L306.6 293 L306.7 295 L306.9 297 L307.2 299 L307.6 301 L307.8 303 L307.8 305 L307.5 307 L307.0 309 L306.5 311 L306.3 313 L306.4 315 L306.6 317 L306.9 319 L307.1 321 L307.1 323 L307.2 325 L307.3 327 L307.6 329 L308.0 331 L308.2 333 L308.2 335 L307.9 337 L307.3 339 L306.8 341 L306.5 343 L306.6 345 L306.8 347 L307.0 349 L307.1 351 L307.2 353 L307.2 355 L307.3 357 L307.5 359 L307.9 361 L308.1 363 L308.0 365 L307.7 367 L307.1 369 L306.6 371 L306.3 373 L306.3 375 L306.5 377 L306.7 379 L306.9 381 L306.9 383 L306.9 385 L307.1 387 L307.4 389 L307.7 391 L308.0 393 L308.0 395 L307.7 397 L307.2 399 L306.7 401 L306.4 403 L306.4 405 L306.7 407 L306.9 409 L307.1 411 L307.2 413 L307.3 415 L307.5 417 L307.8 419 L308.2 421 L308.5 423 L308.5 425 L308.2 427 L307.7 429 L307.3 431 L307.0 433 L306.9 435 L307.1 437 L307.4 439 L307.6 441 L307.6 443 L307.7 445 L307.8 447 L308.1 449 L308.5 451 L308.7 453 L308.7 455 L308.4 457 L307.9 459 L307.4 461" stroke="#000" stroke-opacity="0.85" stroke-width="2.2" fill="none"/>
<path d="M320.8 37 L320.5 39 L320.5 41 L320.6 43 L320.8 45 L321.0 47 L321.1 49 L321.0 51 L320.9 53 L320.8 55 L320.8 57 L321.1 59 L321.3 61 L321.5 63 L321.5 65 L321.3 67 L321.1 69 L321.1 71 L321.2 73 L321.5 75 L321.8 77 L321.9 79 L321.8 81 L321.6 83 L321.4 85 L321.5 87 L321.7 89 L321.9 91 L322.0 93 L322.0 95 L321.8 97 L321.5 99 L321.4 101 L321.5 103 L321.7 105 L321.8 107 L321.9 109 L321.7 111 L321.4 113 L321.2 115 L321.2 117 L321.3 119 L321.5 121 L321.6 123 L321.5 125 L321.2 127 L321.0 129 L320.8 131 L320.9 133 L321.1 135 L321.3 137 L321.3 139 L321.2 141 L320.9 143 L320.7 145 L320.7 147 L320.9 149 L321.1 151 L321.3 153 L321.3 155 L321.1 157 L320.9 159 L320.9 161 L321.0 163 L321.3 165 L321.5 167 L321.6 169 L321.6 171 L321.4 173 L321.2 175 L321.3 177 L321.5 179 L321.8 181 L322.0 183 L322.0 185 L321.9 187 L321.7 189 L321.6 191 L321.8 193 L322.0 195 L322.3 197 L322.3 199 L322.2 201 L322.0 203 L321.8 205 L321.7 207 L321.9 209 L322.1 211 L322.3 213 L322.2 215 L322.0 217 L321.8 219 L321.7 221 L321.7 223 L321.9 225 L322.1 227 L322.1 229 L321.9 231 L321.6 233 L321.3 235 L321.2 237 L321.4 239 L321.6 241 L321.7 243 L321.7 245 L321.5 247 L321.3 249 L321.1 251 L321.2 253 L321.4 255 L321.6 257 L321.7 259 L321.6 261 L321.3 263 L321.1 265 L321.1 267 L321.3 269 L321.5 271 L321.8 273 L321.8 275 L321.7 277 L321.6 279 L321.5 281 L321.7 283 L321.9 285 L322.2 287 L322.4 289 L322.3 291 L322.1 293 L321.9 295 L321.8 297 L322.0 299 L322.3 301 L322.5 303 L322.6 305 L322.5 307 L322.3 309 L322.3 311 L322.3 313 L322.6 315 L322.8 317 L322.9 319 L322.7 321 L322.4 323 L322.2 325 L322.0 327 L322.1 329 L322.3 331 L322.5 333 L322.5 335 L322.4 337 L322.1 339 L322.0 341 L322.0 343 L322.2 345 L322.4 347 L322.4 349 L322.2 351 L321.9 353 L321.6 355 L321.5 357 L321.6 359 L321.8 361 L322.0 363 L322.0 365 L321.9 367 L321.7 369 L321.7 371 L321.7 373 L322.0 375 L322.2 377 L322.3 379 L322.2 381 L322.0 383 L321.8 385 L321.7 387 L321.8 389 L322.1 391 L322.4 393 L322.5 395 L322.5 397 L322.4 399 L322.3 401 L322.4 403 L322.7 405 L323.0 407 L323.1 409 L323.1 411 L322.8 413 L322.5 415 L322.4 417 L322.6 419 L322.8 421 L323.1 423 L323.2 425 L323.1 427 L322.9 429 L322.8 431 L322.9 433 L323.1 435 L323.3 437 L323.3 439 L323.2 441 L322.8 443 L322.5 445 L322.3 447 L322.3 449 L322.5 451 L322.7 453 L322.8 455 L322.7 457 L322.4 459 L322.3 461" stroke="#000" stroke-opacity="0.85" stroke-width="2.2" fill="none"/>
</g>
<g filter="url(#bl2)">
<path d="M241.6 37 L241.3 39 L241.0 41 L240.5 43 L239.9 45 L239.2 47 L238.6 49 L238.2 51 L238.2 53 L238.8 55 L239.6 57 L240.5 59 L241.1 61 L241.4 63 L241.3 65 L241.1 67 L240.8 69 L240.4 71 L240.0 73 L239.4 75 L238.8 77 L238.1 79 L237.7 81 L237.8 83 L238.3 85 L239.2 87 L240.1 89 L240.8 91 L241.2 93 L241.3 95 L241.2 97 L241.0 99 L240.8 101 L240.4 103 L239.9 105 L239.3 107 L238.7 109 L238.3 111 L238.3 113 L238.8 115 L239.7 117 L240.6 119 L241.4 121 L241.8 123 L242.0 125 L242.0 127 L241.8 129 L241.6 131 L241.2 133 L240.7 135 L240.0 137 L239.3 139 L238.8 141 L238.7 143 L239.1 145 L239.8 147 L240.6 149 L241.3 151 L241.8 153 L241.9 155 L241.9 157 L241.7 159 L241.5 161 L241.0 163 L240.4 165 L239.7 167 L238.9 169 L238.4 171 L238.2 173 L238.5 175 L239.1 177 L239.9 179 L240.6 181 L241.1 183 L241.3 185 L241.4 187 L241.3 189 L241.1 191 L240.7 193 L240.2 195 L239.5 197 L238.8 199 L238.3 201 L238.1 203 L238.4 205 L239.0 207 L239.8 209 L240.6 211 L241.2 213 L241.6 215 L241.8 217 L241.9 219 L241.8 221 L241.5 223 L241.0 225 L240.3 227 L239.6 229 L239.1 231 L238.9 233 L239.1 235 L239.7 237 L240.5 239 L241.2 241 L241.8 243 L242.3 245 L242.5 247 L242.5 249 L242.4 251 L242.1 253 L241.5 255 L240.8 257 L240.0 259 L239.4 261 L239.1 263 L239.2 265 L239.6 267 L240.2 269 L240.9 271 L241.5 273 L241.9 275 L242.1 277 L242.2 279 L242.1 281 L241.7 283 L241.1 285 L240.4 287 L239.6 289 L239.0 291 L238.6 293 L238.6 295 L239.0 297 L239.6 299 L240.3 301 L240.9 303 L241.4 305 L241.8 307 L242.0 309 L242.0 311 L241.7 313 L241.2 315 L240.6 317 L239.8 319 L239.3 321 L239.0 323 L239.0 325 L239.4 327 L239.9 329 L240.6 331 L241.3 333 L241.9 335 L242.4 337 L242.7 339 L242.8 341 L242.6 343 L242.1 345 L241.5 347 L240.8 349 L240.2 351 L239.8 353 L239.7 355 L240.0 357 L240.5 359 L241.1 361 L241.7 363 L242.3 365 L242.8 367 L243.1 369 L243.1 371 L242.9 373 L242.4 375 L241.6 377 L240.8 379 L240.1 381 L239.7 383 L239.5 385 L239.7 387 L240.0 389 L240.5 391 L241.1 393 L241.6 395 L242.1 397 L242.5 399 L242.6 401 L242.4 403 L241.9 405 L241.2 407 L240.5 409 L239.8 411 L239.4 413 L239.2 415 L239.3 417 L239.6 419 L240.1 421 L240.7 423 L241.4 425 L242.1 427 L242.6 429 L242.8 431 L242.7 433 L242.3 435 L241.7 437 L241.0 439 L240.4 441 L240.0 443 L239.9 445 L240.0 447 L240.3 449 L240.7 451 L241.3 453 L242.0 455 L242.7 457 L243.3 459 L243.6 461" stroke="url(#hl1_6)" stroke-width="5" fill="none" stroke-dasharray="22.5,9.0" stroke-linecap="round"/>
</g>
<g filter="url(#bl2)">
<path d="M257.6 37 L257.1 39 L256.6 41 L256.0 43 L255.4 45 L254.7 47 L253.9 49 L253.3 51 L253.1 53 L253.6 55 L254.5 57 L255.6 59 L256.6 61 L257.2 63 L257.3 65 L257.0 67 L256.5 69 L256.1 71 L255.6 73 L255.0 75 L254.3 77 L253.5 79 L252.9 81 L252.8 83 L253.2 85 L254.1 87 L255.3 89 L256.4 91 L257.1 93 L257.4 95 L257.2 97 L256.9 99 L256.6 101 L256.1 103 L255.6 105 L255.0 107 L254.2 109 L253.6 111 L253.4 113 L253.8 115 L254.7 117 L255.9 119 L257.0 121 L257.7 123 L258.1 125 L258.0 127 L257.7 129 L257.3 131 L256.9 133 L256.3 135 L255.6 137 L254.7 139 L254.0 141 L253.7 143 L253.9 145 L254.7 147 L255.7 149 L256.8 151 L257.5 153 L257.8 155 L257.8 157 L257.5 159 L257.1 161 L256.6 163 L256.0 165 L255.2 167 L254.3 169 L253.6 171 L253.2 173 L253.3 175 L254.0 177 L255.0 179 L256.0 181 L256.8 183 L257.3 185 L257.3 187 L257.1 189 L256.8 191 L256.4 193 L255.9 195 L255.2 197 L254.4 199 L253.6 201 L253.2 203 L253.4 205 L254.1 207 L255.1 209 L256.2 211 L257.1 213 L257.7 215 L257.9 217 L257.8 219 L257.6 221 L257.2 223 L256.7 225 L256.0 227 L255.2 229 L254.5 231 L254.1 233 L254.1 235 L254.7 237 L255.7 239 L256.7 241 L257.6 243 L258.2 245 L258.4 247 L258.4 249 L258.1 251 L257.7 253 L257.1 255 L256.4 257 L255.5 259 L254.7 261 L254.1 263 L254.0 265 L254.4 267 L255.3 269 L256.2 271 L257.1 273 L257.7 275 L257.9 277 L257.9 279 L257.7 281 L257.3 283 L256.7 285 L256.0 287 L255.1 289 L254.2 291 L253.7 293 L253.5 295 L253.9 297 L254.7 299 L255.7 301 L256.6 303 L257.3 305 L257.7 307 L257.8 309 L257.7 311 L257.5 313 L257.0 315 L256.3 317 L255.5 319 L254.7 321 L254.2 323 L254.0 325 L254.4 327 L255.2 329 L256.1 331 L257.1 333 L257.9 335 L258.4 337 L258.6 339 L258.6 341 L258.4 343 L257.9 345 L257.2 347 L256.4 349 L255.5 351 L254.9 353 L254.7 355 L254.9 357 L255.6 359 L256.4 361 L257.3 363 L258.1 365 L258.6 367 L258.8 369 L258.8 371 L258.5 373 L258.0 375 L257.2 377 L256.3 379 L255.4 381 L254.7 383 L254.4 385 L254.5 387 L255.0 389 L255.8 391 L256.6 393 L257.4 395 L257.9 397 L258.3 399 L258.3 401 L258.1 403 L257.6 405 L256.9 407 L256.0 409 L255.2 411 L254.5 413 L254.2 415 L254.3 417 L254.8 419 L255.5 421 L256.4 423 L257.3 425 L258.0 427 L258.5 429 L258.7 431 L258.6 433 L258.2 435 L257.5 437 L256.7 439 L255.9 441 L255.3 443 L254.9 445 L255.0 447 L255.4 449 L256.2 451 L257.0 453 L257.9 455 L258.6 457 L259.2 459 L259.4 461" stroke="#fff" stroke-opacity="0.228" stroke-width="8" fill="none"/>
<path d="M267.8 37 L268.6 39 L269.7 41 L270.8 43 L271.7 45 L271.9 47 L271.8 49 L271.3 51 L270.7 53 L270.2 55 L269.6 57 L268.9 59 L268.1 61 L267.4 63 L267.1 65 L267.4 67 L268.3 69 L269.6 71 L270.7 73 L271.5 75 L271.6 77 L271.3 79 L270.7 81 L270.2 83 L269.7 85 L269.2 87 L268.6 89 L267.9 91 L267.5 93 L267.4 95 L268.0 97 L269.2 99 L270.5 101 L271.6 103 L272.2 105 L272.2 107 L271.7 109 L271.1 111 L270.6 113 L270.1 115 L269.6 117 L269.0 119 L268.5 121 L268.2 123 L268.3 125 L269.1 127 L270.3 129 L271.5 131 L272.4 133 L272.8 135 L272.5 137 L271.8 139 L271.1 141 L270.4 143 L269.9 145 L269.3 147 L268.8 149 L268.3 151 L268.1 153 L268.4 155 L269.2 157 L270.4 159 L271.5 161 L272.2 163 L272.3 165 L271.8 167 L271.0 169 L270.2 171 L269.5 173 L269.0 175 L268.5 177 L268.0 179 L267.7 181 L267.7 183 L268.3 185 L269.3 187 L270.5 189 L271.5 191 L272.1 193 L272.0 195 L271.5 197 L270.7 199 L270.0 201 L269.4 203 L268.9 205 L268.5 207 L268.3 209 L268.2 211 L268.5 213 L269.3 215 L270.4 217 L271.6 219 L272.5 221 L272.9 223 L272.7 225 L272.0 227 L271.2 229 L270.4 231 L269.8 233 L269.4 235 L269.0 237 L268.9 239 L269.0 241 L269.5 243 L270.3 245 L271.3 247 L272.3 249 L273.0 251 L273.1 253 L272.7 255 L271.9 257 L270.9 259 L270.1 261 L269.4 263 L268.9 265 L268.7 267 L268.6 269 L268.9 271 L269.5 273 L270.3 275 L271.3 277 L272.1 279 L272.5 281 L272.4 283 L271.8 285 L271.0 287 L270.1 289 L269.2 291 L268.6 293 L268.3 295 L268.2 297 L268.4 299 L268.9 301 L269.7 303 L270.6 305 L271.6 307 L272.2 309 L272.5 311 L272.4 313 L271.8 315 L271.0 317 L270.1 319 L269.4 321 L268.9 323 L268.7 325 L268.8 327 L269.3 329 L270.0 331 L270.9 333 L271.9 335 L272.6 337 L273.1 339 L273.2 341 L272.9 343 L272.3 345 L271.4 347 L270.5 349 L269.7 351 L269.3 353 L269.2 355 L269.4 357 L270.1 359 L270.9 361 L271.7 363 L272.5 365 L273.0 367 L273.2 369 L273.0 371 L272.6 373 L271.8 375 L270.9 377 L269.9 379 L269.1 381 L268.7 383 L268.7 385 L269.2 387 L269.9 389 L270.8 391 L271.6 393 L272.2 395 L272.5 397 L272.6 399 L272.3 401 L271.8 403 L271.0 405 L270.1 407 L269.3 409 L268.6 411 L268.3 413 L268.6 415 L269.3 417 L270.3 419 L271.3 421 L272.1 423 L272.6 425 L272.8 427 L272.7 429 L272.4 431 L271.9 433 L271.2 435 L270.4 437 L269.6 439 L269.1 441 L269.0 443 L269.5 445 L270.5 447 L271.6 449 L272.6 451 L273.2 453 L273.5 455 L273.5 457 L273.2 459 L272.8 461" stroke="#fff" stroke-opacity="0.240" stroke-width="8" fill="none"/>
<path d="M286.4 37 L286.4 39 L286.0 41 L285.3 43 L284.4 45 L283.7 47 L283.2 49 L282.8 51 L282.5 53 L282.4 55 L282.5 57 L283.0 59 L283.9 61 L285.0 63 L285.9 65 L286.5 67 L286.5 69 L285.9 71 L285.1 73 L284.2 75 L283.4 77 L282.8 79 L282.4 81 L282.0 83 L281.9 85 L282.0 87 L282.6 89 L283.4 91 L284.4 93 L285.4 95 L285.9 97 L285.8 99 L285.3 101 L284.5 103 L283.6 105 L282.9 107 L282.3 109 L281.9 111 L281.7 113 L281.6 115 L281.9 117 L282.5 119 L283.4 121 L284.5 123 L285.5 125 L286.0 127 L286.0 129 L285.6 131 L284.8 133 L284.0 135 L283.3 137 L282.8 139 L282.5 141 L282.3 143 L282.3 145 L282.7 147 L283.3 149 L284.3 151 L285.4 153 L286.3 155 L286.8 157 L286.7 159 L286.2 161 L285.4 163 L284.5 165 L283.8 167 L283.2 169 L282.9 171 L282.6 173 L282.6 175 L282.9 177 L283.5 179 L284.4 181 L285.4 183 L286.2 185 L286.6 187 L286.5 189 L285.8 191 L285.0 193 L284.1 195 L283.3 197 L282.7 199 L282.3 201 L282.1 203 L282.1 205 L282.4 207 L283.0 209 L283.9 211 L284.9 213 L285.7 215 L286.1 217 L286.0 219 L285.4 221 L284.6 223 L283.7 225 L283.0 227 L282.5 229 L282.2 231 L282.1 233 L282.2 235 L282.6 237 L283.4 239 L284.4 241 L285.4 243 L286.2 245 L286.7 247 L286.6 249 L286.0 251 L285.2 253 L284.4 255 L283.7 257 L283.2 259 L283.0 261 L282.9 263 L283.0 265 L283.5 267 L284.2 269 L285.2 271 L286.2 273 L286.9 275 L287.2 277 L287.1 279 L286.4 281 L285.6 283 L284.7 285 L283.9 287 L283.4 289 L283.0 291 L282.9 293 L283.0 295 L283.4 297 L284.1 299 L285.0 301 L285.9 303 L286.6 305 L286.8 307 L286.6 309 L285.9 311 L285.0 313 L284.1 315 L283.3 317 L282.8 319 L282.5 321 L282.4 323 L282.5 325 L283.0 327 L283.8 329 L284.7 331 L285.6 333 L286.3 335 L286.6 337 L286.4 339 L285.8 341 L284.9 343 L284.1 345 L283.4 347 L283.0 349 L282.7 351 L282.8 353 L283.0 355 L283.6 357 L284.4 359 L285.4 361 L286.4 363 L287.1 365 L287.3 367 L287.1 369 L286.5 371 L285.7 373 L284.9 375 L284.2 377 L283.7 379 L283.5 381 L283.5 383 L283.7 385 L284.3 387 L285.1 389 L286.0 391 L286.9 393 L287.5 395 L287.6 397 L287.3 399 L286.6 401 L285.7 403 L284.8 405 L284.0 407 L283.5 409 L283.2 411 L283.2 413 L283.5 415 L284.0 417 L284.7 419 L285.6 421 L286.4 423 L287.0 425 L287.1 427 L286.7 429 L286.0 431 L285.1 433 L284.2 435 L283.5 437 L283.0 439 L282.8 441 L282.8 443 L283.2 445 L283.8 447 L284.6 449 L285.6 451 L286.4 453 L287.0 455 L287.2 457 L286.9 459 L286.2 461" stroke="#fff" stroke-opacity="0.240" stroke-width="8" fill="none"/>
<path d="M297.1 37 L296.6 39 L296.3 41 L296.6 43 L297.4 45 L298.5 47 L299.7 49 L300.4 51 L300.5 53 L300.2 55 L299.5 57 L298.8 59 L298.2 61 L297.7 63 L297.2 65 L296.6 67 L296.0 69 L295.8 71 L296.0 73 L296.9 75 L298.1 77 L299.3 79 L300.1 81 L300.4 83 L300.1 85 L299.6 87 L299.0 89 L298.5 91 L298.0 93 L297.5 95 L297.0 97 L296.5 99 L296.3 101 L296.6 103 L297.4 105 L298.6 107 L299.9 109 L300.8 111 L301.1 113 L300.9 115 L300.4 117 L299.8 119 L299.2 121 L298.8 123 L298.3 125 L297.7 127 L297.1 129 L296.8 131 L297.0 133 L297.7 135 L298.9 137 L300.1 139 L300.9 141 L301.2 143 L300.9 145 L300.4 147 L299.7 149 L299.1 151 L298.6 153 L298.0 155 L297.3 157 L296.7 159 L296.3 161 L296.4 163 L297.1 165 L298.2 167 L299.4 169 L300.3 171 L300.6 173 L300.4 175 L299.8 177 L299.2 179 L298.7 181 L298.2 183 L297.7 185 L297.0 187 L296.4 189 L296.1 191 L296.2 193 L297.0 195 L298.1 197 L299.4 199 L300.4 201 L300.8 203 L300.7 205 L300.3 207 L299.8 209 L299.3 211 L298.8 213 L298.4 215 L297.8 217 L297.2 219 L296.8 221 L297.0 223 L297.7 225 L298.8 227 L300.1 229 L301.1 231 L301.5 233 L301.4 235 L301.0 237 L300.4 239 L299.9 241 L299.4 243 L298.9 245 L298.2 247 L297.5 249 L297.1 251 L297.1 253 L297.7 255 L298.8 257 L299.9 259 L300.9 261 L301.3 263 L301.2 265 L300.7 267 L300.1 269 L299.6 271 L299.0 273 L298.4 275 L297.7 277 L297.0 279 L296.5 281 L296.5 283 L297.1 285 L298.1 287 L299.4 289 L300.3 291 L300.8 293 L300.8 295 L300.4 297 L299.9 299 L299.4 301 L299.0 303 L298.4 305 L297.8 307 L297.2 309 L296.7 311 L296.7 313 L297.3 315 L298.4 317 L299.7 319 L300.8 321 L301.4 323 L301.5 325 L301.1 327 L300.7 329 L300.2 331 L299.8 333 L299.3 335 L298.7 337 L298.0 339 L297.5 341 L297.5 343 L298.0 345 L299.1 347 L300.3 349 L301.3 351 L301.9 353 L302.0 355 L301.6 357 L301.1 359 L300.6 361 L300.1 363 L299.5 365 L298.8 367 L298.0 369 L297.4 371 L297.3 373 L297.7 375 L298.7 377 L299.9 379 L300.9 381 L301.4 383 L301.5 385 L301.1 387 L300.6 389 L300.1 391 L299.6 393 L299.0 395 L298.3 397 L297.6 399 L297.0 401 L296.8 403 L297.3 405 L298.2 407 L299.5 409 L300.6 411 L301.2 413 L301.4 415 L301.1 417 L300.7 419 L300.3 421 L299.9 423 L299.4 425 L298.7 427 L298.0 429 L297.5 431 L297.4 433 L297.8 435 L298.8 437 L300.1 439 L301.2 441 L301.9 443 L302.1 445 L302.0 447 L301.6 449 L301.1 451 L300.7 453 L300.2 455 L299.5 457 L298.8 459 L298.2 461" stroke="#fff" stroke-opacity="0.240" stroke-width="8" fill="none"/>
<path d="M315.4 37 L314.8 39 L314.2 41 L313.7 43 L313.2 45 L312.7 47 L312.0 49 L311.5 51 L311.3 53 L311.7 55 L312.6 57 L313.9 59 L315.1 61 L315.9 63 L316.1 65 L315.9 67 L315.4 69 L314.8 71 L314.4 73 L313.9 75 L313.4 77 L312.8 79 L312.2 81 L312.0 83 L312.4 85 L313.3 87 L314.5 89 L315.7 91 L316.5 93 L316.7 95 L316.4 97 L315.8 99 L315.3 101 L314.7 103 L314.2 105 L313.6 107 L312.9 109 L312.3 111 L312.0 113 L312.2 115 L313.0 117 L314.1 119 L315.3 121 L316.0 123 L316.2 125 L315.9 127 L315.4 129 L314.7 131 L314.2 133 L313.7 135 L313.0 137 L312.3 139 L311.7 141 L311.4 143 L311.6 145 L312.4 147 L313.6 149 L314.8 151 L315.6 153 L315.9 155 L315.7 157 L315.3 159 L314.7 161 L314.3 163 L313.8 165 L313.3 167 L312.6 169 L312.0 171 L311.8 173 L312.0 175 L312.9 177 L314.1 179 L315.3 181 L316.2 183 L316.6 185 L316.5 187 L316.0 189 L315.5 191 L315.1 193 L314.6 195 L314.1 197 L313.4 199 L312.8 201 L312.4 203 L312.6 205 L313.4 207 L314.5 209 L315.7 211 L316.6 213 L316.9 215 L316.7 217 L316.2 219 L315.7 221 L315.1 223 L314.6 225 L314.0 227 L313.2 229 L312.5 231 L312.1 233 L312.2 235 L312.9 237 L314.0 239 L315.1 241 L316.0 243 L316.3 245 L316.2 247 L315.7 249 L315.2 251 L314.7 253 L314.2 255 L313.6 257 L312.9 259 L312.2 261 L311.8 263 L311.9 265 L312.6 267 L313.8 269 L315.0 271 L315.9 273 L316.4 275 L316.3 277 L316.0 279 L315.5 281 L315.1 283 L314.7 285 L314.1 287 L313.5 289 L312.8 291 L312.4 293 L312.6 295 L313.3 297 L314.4 299 L315.7 301 L316.7 303 L317.2 305 L317.1 307 L316.8 309 L316.3 311 L315.9 313 L315.4 315 L314.8 317 L314.1 319 L313.4 321 L312.9 323 L312.9 325 L313.5 327 L314.6 329 L315.8 331 L316.7 333 L317.1 335 L317.1 337 L316.7 339 L316.1 341 L315.6 343 L315.1 345 L314.5 347 L313.7 349 L312.9 351 L312.4 353 L312.4 355 L312.9 357 L314.0 359 L315.2 361 L316.1 363 L316.6 365 L316.6 367 L316.2 369 L315.8 371 L315.3 373 L314.8 375 L314.3 377 L313.6 379 L312.9 381 L312.4 383 L312.4 385 L313.0 387 L314.1 389 L315.4 391 L316.4 393 L317.0 395 L317.1 397 L316.8 399 L316.4 401 L316.0 403 L315.6 405 L315.1 407 L314.4 409 L313.7 411 L313.2 413 L313.2 415 L313.8 417 L314.8 419 L316.0 421 L317.1 423 L317.6 425 L317.7 427 L317.4 429 L317.0 431 L316.6 433 L316.1 435 L315.4 437 L314.7 439 L313.9 441 L313.3 443 L313.2 445 L313.7 447 L314.6 449 L315.8 451 L316.7 453 L317.3 455 L317.3 457 L317.0 459 L316.6 461" stroke="#fff" stroke-opacity="0.228" stroke-width="8" fill="none"/>
<path d="M326.2 37 L326.3 39 L326.7 41 L327.4 43 L328.4 45 L329.4 47 L330.2 49 L330.6 51 L330.4 53 L329.8 55 L329.0 57 L328.2 59 L327.6 61 L327.1 63 L326.9 65 L326.8 67 L326.9 69 L327.4 71 L328.1 73 L329.1 75 L330.1 77 L330.9 79 L331.3 81 L331.1 83 L330.5 85 L329.7 87 L328.9 89 L328.1 91 L327.6 93 L327.3 95 L327.1 97 L327.2 99 L327.6 101 L328.2 103 L329.1 105 L330.1 107 L330.8 109 L331.1 111 L330.9 113 L330.3 115 L329.4 117 L328.5 119 L327.7 121 L327.1 123 L326.8 125 L326.6 127 L326.6 129 L326.9 131 L327.6 133 L328.5 135 L329.5 137 L330.3 139 L330.6 141 L330.4 143 L329.8 145 L329.0 147 L328.1 149 L327.5 151 L327.0 153 L326.6 155 L326.5 157 L326.6 159 L327.0 161 L327.7 163 L328.7 165 L329.8 167 L330.6 169 L331.1 171 L331.0 173 L330.4 175 L329.6 177 L328.8 179 L328.2 181 L327.7 183 L327.4 185 L327.3 187 L327.4 189 L327.7 191 L328.4 193 L329.4 195 L330.4 197 L331.3 199 L331.7 201 L331.5 203 L331.0 205 L330.1 207 L329.2 209 L328.5 211 L328.0 213 L327.6 215 L327.4 217 L327.4 219 L327.6 221 L328.3 223 L329.2 225 L330.1 227 L330.9 229 L331.3 231 L331.1 233 L330.5 235 L329.6 237 L328.7 239 L328.0 241 L327.4 243 L327.0 245 L326.8 247 L326.8 249 L327.1 251 L327.8 253 L328.7 255 L329.7 257 L330.6 259 L331.0 261 L330.9 263 L330.4 265 L329.6 267 L328.8 269 L328.1 271 L327.6 273 L327.3 275 L327.1 277 L327.2 279 L327.5 281 L328.2 283 L329.2 285 L330.3 287 L331.3 289 L331.7 291 L331.7 293 L331.2 295 L330.4 297 L329.6 299 L328.9 301 L328.4 303 L328.1 305 L327.9 307 L327.9 309 L328.2 311 L328.8 313 L329.8 315 L330.8 317 L331.7 319 L332.1 321 L332.0 323 L331.4 325 L330.6 327 L329.7 329 L328.9 331 L328.4 333 L327.9 335 L327.7 337 L327.6 339 L327.8 341 L328.4 343 L329.3 345 L330.3 347 L331.1 349 L331.6 351 L331.5 353 L330.9 355 L330.0 357 L329.2 359 L328.4 361 L327.9 363 L327.5 365 L327.3 367 L327.3 369 L327.5 371 L328.1 373 L329.1 375 L330.2 377 L331.1 379 L331.6 381 L331.6 383 L331.1 385 L330.3 387 L329.5 389 L328.9 391 L328.4 393 L328.1 395 L327.9 397 L327.9 399 L328.2 401 L328.9 403 L329.8 405 L330.9 407 L331.9 409 L332.4 411 L332.4 413 L331.9 415 L331.1 417 L330.3 419 L329.6 421 L329.1 423 L328.7 425 L328.4 427 L328.4 429 L328.6 431 L329.1 433 L330.0 435 L331.1 437 L332.0 439 L332.4 441 L332.4 443 L331.8 445 L330.9 447 L330.1 449 L329.3 451 L328.7 453 L328.3 455 L328.0 457 L327.9 459 L328.0 461" stroke="#fff" stroke-opacity="0.192" stroke-width="8" fill="none"/>
</g>
<g filter="url(#bl1)">
<path d="M257.6 37 L257.1 39 L256.6 41 L256.0 43 L255.4 45 L254.7 47 L253.9 49 L253.3 51 L253.1 53 L253.6 55 L254.5 57 L255.6 59 L256.6 61 L257.2 63 L257.3 65 L257.0 67 L256.5 69 L256.1 71 L255.6 73 L255.0 75 L254.3 77 L253.5 79 L252.9 81 L252.8 83 L253.2 85 L254.1 87 L255.3 89 L256.4 91 L257.1 93 L257.4 95 L257.2 97 L256.9 99 L256.6 101 L256.1 103 L255.6 105 L255.0 107 L254.2 109 L253.6 111 L253.4 113 L253.8 115 L254.7 117 L255.9 119 L257.0 121 L257.7 123 L258.1 125 L258.0 127 L257.7 129 L257.3 131 L256.9 133 L256.3 135 L255.6 137 L254.7 139 L254.0 141 L253.7 143 L253.9 145 L254.7 147 L255.7 149 L256.8 151 L257.5 153 L257.8 155 L257.8 157 L257.5 159 L257.1 161 L256.6 163 L256.0 165 L255.2 167 L254.3 169 L253.6 171 L253.2 173 L253.3 175 L254.0 177 L255.0 179 L256.0 181 L256.8 183 L257.3 185 L257.3 187 L257.1 189 L256.8 191 L256.4 193 L255.9 195 L255.2 197 L254.4 199 L253.6 201 L253.2 203 L253.4 205 L254.1 207 L255.1 209 L256.2 211 L257.1 213 L257.7 215 L257.9 217 L257.8 219 L257.6 221 L257.2 223 L256.7 225 L256.0 227 L255.2 229 L254.5 231 L254.1 233 L254.1 235 L254.7 237 L255.7 239 L256.7 241 L257.6 243 L258.2 245 L258.4 247 L258.4 249 L258.1 251 L257.7 253 L257.1 255 L256.4 257 L255.5 259 L254.7 261 L254.1 263 L254.0 265 L254.4 267 L255.3 269 L256.2 271 L257.1 273 L257.7 275 L257.9 277 L257.9 279 L257.7 281 L257.3 283 L256.7 285 L256.0 287 L255.1 289 L254.2 291 L253.7 293 L253.5 295 L253.9 297 L254.7 299 L255.7 301 L256.6 303 L257.3 305 L257.7 307 L257.8 309 L257.7 311 L257.5 313 L257.0 315 L256.3 317 L255.5 319 L254.7 321 L254.2 323 L254.0 325 L254.4 327 L255.2 329 L256.1 331 L257.1 333 L257.9 335 L258.4 337 L258.6 339 L258.6 341 L258.4 343 L257.9 345 L257.2 347 L256.4 349 L255.5 351 L254.9 353 L254.7 355 L254.9 357 L255.6 359 L256.4 361 L257.3 363 L258.1 365 L258.6 367 L258.8 369 L258.8 371 L258.5 373 L258.0 375 L257.2 377 L256.3 379 L255.4 381 L254.7 383 L254.4 385 L254.5 387 L255.0 389 L255.8 391 L256.6 393 L257.4 395 L257.9 397 L258.3 399 L258.3 401 L258.1 403 L257.6 405 L256.9 407 L256.0 409 L255.2 411 L254.5 413 L254.2 415 L254.3 417 L254.8 419 L255.5 421 L256.4 423 L257.3 425 L258.0 427 L258.5 429 L258.7 431 L258.6 433 L258.2 435 L257.5 437 L256.7 439 L255.9 441 L255.3 443 L254.9 445 L255.0 447 L255.4 449 L256.2 451 L257.0 453 L257.9 455 L258.6 457 L259.2 459 L259.4 461" stroke="url(#hl1_0)" stroke-opacity="0.774" stroke-width="4.4" fill="none"/>
<path d="M267.8 37 L268.6 39 L269.7 41 L270.8 43 L271.7 45 L271.9 47 L271.8 49 L271.3 51 L270.7 53 L270.2 55 L269.6 57 L268.9 59 L268.1 61 L267.4 63 L267.1 65 L267.4 67 L268.3 69 L269.6 71 L270.7 73 L271.5 75 L271.6 77 L271.3 79 L270.7 81 L270.2 83 L269.7 85 L269.2 87 L268.6 89 L267.9 91 L267.5 93 L267.4 95 L268.0 97 L269.2 99 L270.5 101 L271.6 103 L272.2 105 L272.2 107 L271.7 109 L271.1 111 L270.6 113 L270.1 115 L269.6 117 L269.0 119 L268.5 121 L268.2 123 L268.3 125 L269.1 127 L270.3 129 L271.5 131 L272.4 133 L272.8 135 L272.5 137 L271.8 139 L271.1 141 L270.4 143 L269.9 145 L269.3 147 L268.8 149 L268.3 151 L268.1 153 L268.4 155 L269.2 157 L270.4 159 L271.5 161 L272.2 163 L272.3 165 L271.8 167 L271.0 169 L270.2 171 L269.5 173 L269.0 175 L268.5 177 L268.0 179 L267.7 181 L267.7 183 L268.3 185 L269.3 187 L270.5 189 L271.5 191 L272.1 193 L272.0 195 L271.5 197 L270.7 199 L270.0 201 L269.4 203 L268.9 205 L268.5 207 L268.3 209 L268.2 211 L268.5 213 L269.3 215 L270.4 217 L271.6 219 L272.5 221 L272.9 223 L272.7 225 L272.0 227 L271.2 229 L270.4 231 L269.8 233 L269.4 235 L269.0 237 L268.9 239 L269.0 241 L269.5 243 L270.3 245 L271.3 247 L272.3 249 L273.0 251 L273.1 253 L272.7 255 L271.9 257 L270.9 259 L270.1 261 L269.4 263 L268.9 265 L268.7 267 L268.6 269 L268.9 271 L269.5 273 L270.3 275 L271.3 277 L272.1 279 L272.5 281 L272.4 283 L271.8 285 L271.0 287 L270.1 289 L269.2 291 L268.6 293 L268.3 295 L268.2 297 L268.4 299 L268.9 301 L269.7 303 L270.6 305 L271.6 307 L272.2 309 L272.5 311 L272.4 313 L271.8 315 L271.0 317 L270.1 319 L269.4 321 L268.9 323 L268.7 325 L268.8 327 L269.3 329 L270.0 331 L270.9 333 L271.9 335 L272.6 337 L273.1 339 L273.2 341 L272.9 343 L272.3 345 L271.4 347 L270.5 349 L269.7 351 L269.3 353 L269.2 355 L269.4 357 L270.1 359 L270.9 361 L271.7 363 L272.5 365 L273.0 367 L273.2 369 L273.0 371 L272.6 373 L271.8 375 L270.9 377 L269.9 379 L269.1 381 L268.7 383 L268.7 385 L269.2 387 L269.9 389 L270.8 391 L271.6 393 L272.2 395 L272.5 397 L272.6 399 L272.3 401 L271.8 403 L271.0 405 L270.1 407 L269.3 409 L268.6 411 L268.3 413 L268.6 415 L269.3 417 L270.3 419 L271.3 421 L272.1 423 L272.6 425 L272.8 427 L272.7 429 L272.4 431 L271.9 433 L271.2 435 L270.4 437 L269.6 439 L269.1 441 L269.0 443 L269.5 445 L270.5 447 L271.6 449 L272.6 451 L273.2 453 L273.5 455 L273.5 457 L273.2 459 L272.8 461" stroke="url(#hl1_1)" stroke-opacity="0.774" stroke-width="4.4" fill="none"/>
<path d="M286.4 37 L286.4 39 L286.0 41 L285.3 43 L284.4 45 L283.7 47 L283.2 49 L282.8 51 L282.5 53 L282.4 55 L282.5 57 L283.0 59 L283.9 61 L285.0 63 L285.9 65 L286.5 67 L286.5 69 L285.9 71 L285.1 73 L284.2 75 L283.4 77 L282.8 79 L282.4 81 L282.0 83 L281.9 85 L282.0 87 L282.6 89 L283.4 91 L284.4 93 L285.4 95 L285.9 97 L285.8 99 L285.3 101 L284.5 103 L283.6 105 L282.9 107 L282.3 109 L281.9 111 L281.7 113 L281.6 115 L281.9 117 L282.5 119 L283.4 121 L284.5 123 L285.5 125 L286.0 127 L286.0 129 L285.6 131 L284.8 133 L284.0 135 L283.3 137 L282.8 139 L282.5 141 L282.3 143 L282.3 145 L282.7 147 L283.3 149 L284.3 151 L285.4 153 L286.3 155 L286.8 157 L286.7 159 L286.2 161 L285.4 163 L284.5 165 L283.8 167 L283.2 169 L282.9 171 L282.6 173 L282.6 175 L282.9 177 L283.5 179 L284.4 181 L285.4 183 L286.2 185 L286.6 187 L286.5 189 L285.8 191 L285.0 193 L284.1 195 L283.3 197 L282.7 199 L282.3 201 L282.1 203 L282.1 205 L282.4 207 L283.0 209 L283.9 211 L284.9 213 L285.7 215 L286.1 217 L286.0 219 L285.4 221 L284.6 223 L283.7 225 L283.0 227 L282.5 229 L282.2 231 L282.1 233 L282.2 235 L282.6 237 L283.4 239 L284.4 241 L285.4 243 L286.2 245 L286.7 247 L286.6 249 L286.0 251 L285.2 253 L284.4 255 L283.7 257 L283.2 259 L283.0 261 L282.9 263 L283.0 265 L283.5 267 L284.2 269 L285.2 271 L286.2 273 L286.9 275 L287.2 277 L287.1 279 L286.4 281 L285.6 283 L284.7 285 L283.9 287 L283.4 289 L283.0 291 L282.9 293 L283.0 295 L283.4 297 L284.1 299 L285.0 301 L285.9 303 L286.6 305 L286.8 307 L286.6 309 L285.9 311 L285.0 313 L284.1 315 L283.3 317 L282.8 319 L282.5 321 L282.4 323 L282.5 325 L283.0 327 L283.8 329 L284.7 331 L285.6 333 L286.3 335 L286.6 337 L286.4 339 L285.8 341 L284.9 343 L284.1 345 L283.4 347 L283.0 349 L282.7 351 L282.8 353 L283.0 355 L283.6 357 L284.4 359 L285.4 361 L286.4 363 L287.1 365 L287.3 367 L287.1 369 L286.5 371 L285.7 373 L284.9 375 L284.2 377 L283.7 379 L283.5 381 L283.5 383 L283.7 385 L284.3 387 L285.1 389 L286.0 391 L286.9 393 L287.5 395 L287.6 397 L287.3 399 L286.6 401 L285.7 403 L284.8 405 L284.0 407 L283.5 409 L283.2 411 L283.2 413 L283.5 415 L284.0 417 L284.7 419 L285.6 421 L286.4 423 L287.0 425 L287.1 427 L286.7 429 L286.0 431 L285.1 433 L284.2 435 L283.5 437 L283.0 439 L282.8 441 L282.8 443 L283.2 445 L283.8 447 L284.6 449 L285.6 451 L286.4 453 L287.0 455 L287.2 457 L286.9 459 L286.2 461" stroke="url(#hl1_2)" stroke-opacity="0.774" stroke-width="4.4" fill="none"/>
<path d="M297.1 37 L296.6 39 L296.3 41 L296.6 43 L297.4 45 L298.5 47 L299.7 49 L300.4 51 L300.5 53 L300.2 55 L299.5 57 L298.8 59 L298.2 61 L297.7 63 L297.2 65 L296.6 67 L296.0 69 L295.8 71 L296.0 73 L296.9 75 L298.1 77 L299.3 79 L300.1 81 L300.4 83 L300.1 85 L299.6 87 L299.0 89 L298.5 91 L298.0 93 L297.5 95 L297.0 97 L296.5 99 L296.3 101 L296.6 103 L297.4 105 L298.6 107 L299.9 109 L300.8 111 L301.1 113 L300.9 115 L300.4 117 L299.8 119 L299.2 121 L298.8 123 L298.3 125 L297.7 127 L297.1 129 L296.8 131 L297.0 133 L297.7 135 L298.9 137 L300.1 139 L300.9 141 L301.2 143 L300.9 145 L300.4 147 L299.7 149 L299.1 151 L298.6 153 L298.0 155 L297.3 157 L296.7 159 L296.3 161 L296.4 163 L297.1 165 L298.2 167 L299.4 169 L300.3 171 L300.6 173 L300.4 175 L299.8 177 L299.2 179 L298.7 181 L298.2 183 L297.7 185 L297.0 187 L296.4 189 L296.1 191 L296.2 193 L297.0 195 L298.1 197 L299.4 199 L300.4 201 L300.8 203 L300.7 205 L300.3 207 L299.8 209 L299.3 211 L298.8 213 L298.4 215 L297.8 217 L297.2 219 L296.8 221 L297.0 223 L297.7 225 L298.8 227 L300.1 229 L301.1 231 L301.5 233 L301.4 235 L301.0 237 L300.4 239 L299.9 241 L299.4 243 L298.9 245 L298.2 247 L297.5 249 L297.1 251 L297.1 253 L297.7 255 L298.8 257 L299.9 259 L300.9 261 L301.3 263 L301.2 265 L300.7 267 L300.1 269 L299.6 271 L299.0 273 L298.4 275 L297.7 277 L297.0 279 L296.5 281 L296.5 283 L297.1 285 L298.1 287 L299.4 289 L300.3 291 L300.8 293 L300.8 295 L300.4 297 L299.9 299 L299.4 301 L299.0 303 L298.4 305 L297.8 307 L297.2 309 L296.7 311 L296.7 313 L297.3 315 L298.4 317 L299.7 319 L300.8 321 L301.4 323 L301.5 325 L301.1 327 L300.7 329 L300.2 331 L299.8 333 L299.3 335 L298.7 337 L298.0 339 L297.5 341 L297.5 343 L298.0 345 L299.1 347 L300.3 349 L301.3 351 L301.9 353 L302.0 355 L301.6 357 L301.1 359 L300.6 361 L300.1 363 L299.5 365 L298.8 367 L298.0 369 L297.4 371 L297.3 373 L297.7 375 L298.7 377 L299.9 379 L300.9 381 L301.4 383 L301.5 385 L301.1 387 L300.6 389 L300.1 391 L299.6 393 L299.0 395 L298.3 397 L297.6 399 L297.0 401 L296.8 403 L297.3 405 L298.2 407 L299.5 409 L300.6 411 L301.2 413 L301.4 415 L301.1 417 L300.7 419 L300.3 421 L299.9 423 L299.4 425 L298.7 427 L298.0 429 L297.5 431 L297.4 433 L297.8 435 L298.8 437 L300.1 439 L301.2 441 L301.9 443 L302.1 445 L302.0 447 L301.6 449 L301.1 451 L300.7 453 L300.2 455 L299.5 457 L298.8 459 L298.2 461" stroke="url(#hl1_3)" stroke-opacity="0.774" stroke-width="4.4" fill="none"/>
<path d="M315.4 37 L314.8 39 L314.2 41 L313.7 43 L313.2 45 L312.7 47 L312.0 49 L311.5 51 L311.3 53 L311.7 55 L312.6 57 L313.9 59 L315.1 61 L315.9 63 L316.1 65 L315.9 67 L315.4 69 L314.8 71 L314.4 73 L313.9 75 L313.4 77 L312.8 79 L312.2 81 L312.0 83 L312.4 85 L313.3 87 L314.5 89 L315.7 91 L316.5 93 L316.7 95 L316.4 97 L315.8 99 L315.3 101 L314.7 103 L314.2 105 L313.6 107 L312.9 109 L312.3 111 L312.0 113 L312.2 115 L313.0 117 L314.1 119 L315.3 121 L316.0 123 L316.2 125 L315.9 127 L315.4 129 L314.7 131 L314.2 133 L313.7 135 L313.0 137 L312.3 139 L311.7 141 L311.4 143 L311.6 145 L312.4 147 L313.6 149 L314.8 151 L315.6 153 L315.9 155 L315.7 157 L315.3 159 L314.7 161 L314.3 163 L313.8 165 L313.3 167 L312.6 169 L312.0 171 L311.8 173 L312.0 175 L312.9 177 L314.1 179 L315.3 181 L316.2 183 L316.6 185 L316.5 187 L316.0 189 L315.5 191 L315.1 193 L314.6 195 L314.1 197 L313.4 199 L312.8 201 L312.4 203 L312.6 205 L313.4 207 L314.5 209 L315.7 211 L316.6 213 L316.9 215 L316.7 217 L316.2 219 L315.7 221 L315.1 223 L314.6 225 L314.0 227 L313.2 229 L312.5 231 L312.1 233 L312.2 235 L312.9 237 L314.0 239 L315.1 241 L316.0 243 L316.3 245 L316.2 247 L315.7 249 L315.2 251 L314.7 253 L314.2 255 L313.6 257 L312.9 259 L312.2 261 L311.8 263 L311.9 265 L312.6 267 L313.8 269 L315.0 271 L315.9 273 L316.4 275 L316.3 277 L316.0 279 L315.5 281 L315.1 283 L314.7 285 L314.1 287 L313.5 289 L312.8 291 L312.4 293 L312.6 295 L313.3 297 L314.4 299 L315.7 301 L316.7 303 L317.2 305 L317.1 307 L316.8 309 L316.3 311 L315.9 313 L315.4 315 L314.8 317 L314.1 319 L313.4 321 L312.9 323 L312.9 325 L313.5 327 L314.6 329 L315.8 331 L316.7 333 L317.1 335 L317.1 337 L316.7 339 L316.1 341 L315.6 343 L315.1 345 L314.5 347 L313.7 349 L312.9 351 L312.4 353 L312.4 355 L312.9 357 L314.0 359 L315.2 361 L316.1 363 L316.6 365 L316.6 367 L316.2 369 L315.8 371 L315.3 373 L314.8 375 L314.3 377 L313.6 379 L312.9 381 L312.4 383 L312.4 385 L313.0 387 L314.1 389 L315.4 391 L316.4 393 L317.0 395 L317.1 397 L316.8 399 L316.4 401 L316.0 403 L315.6 405 L315.1 407 L314.4 409 L313.7 411 L313.2 413 L313.2 415 L313.8 417 L314.8 419 L316.0 421 L317.1 423 L317.6 425 L317.7 427 L317.4 429 L317.0 431 L316.6 433 L316.1 435 L315.4 437 L314.7 439 L313.9 441 L313.3 443 L313.2 445 L313.7 447 L314.6 449 L315.8 451 L316.7 453 L317.3 455 L317.3 457 L317.0 459 L316.6 461" stroke="url(#hl1_4)" stroke-opacity="0.774" stroke-width="4.4" fill="none"/>
<path d="M326.2 37 L326.3 39 L326.7 41 L327.4 43 L328.4 45 L329.4 47 L330.2 49 L330.6 51 L330.4 53 L329.8 55 L329.0 57 L328.2 59 L327.6 61 L327.1 63 L326.9 65 L326.8 67 L326.9 69 L327.4 71 L328.1 73 L329.1 75 L330.1 77 L330.9 79 L331.3 81 L331.1 83 L330.5 85 L329.7 87 L328.9 89 L328.1 91 L327.6 93 L327.3 95 L327.1 97 L327.2 99 L327.6 101 L328.2 103 L329.1 105 L330.1 107 L330.8 109 L331.1 111 L330.9 113 L330.3 115 L329.4 117 L328.5 119 L327.7 121 L327.1 123 L326.8 125 L326.6 127 L326.6 129 L326.9 131 L327.6 133 L328.5 135 L329.5 137 L330.3 139 L330.6 141 L330.4 143 L329.8 145 L329.0 147 L328.1 149 L327.5 151 L327.0 153 L326.6 155 L326.5 157 L326.6 159 L327.0 161 L327.7 163 L328.7 165 L329.8 167 L330.6 169 L331.1 171 L331.0 173 L330.4 175 L329.6 177 L328.8 179 L328.2 181 L327.7 183 L327.4 185 L327.3 187 L327.4 189 L327.7 191 L328.4 193 L329.4 195 L330.4 197 L331.3 199 L331.7 201 L331.5 203 L331.0 205 L330.1 207 L329.2 209 L328.5 211 L328.0 213 L327.6 215 L327.4 217 L327.4 219 L327.6 221 L328.3 223 L329.2 225 L330.1 227 L330.9 229 L331.3 231 L331.1 233 L330.5 235 L329.6 237 L328.7 239 L328.0 241 L327.4 243 L327.0 245 L326.8 247 L326.8 249 L327.1 251 L327.8 253 L328.7 255 L329.7 257 L330.6 259 L331.0 261 L330.9 263 L330.4 265 L329.6 267 L328.8 269 L328.1 271 L327.6 273 L327.3 275 L327.1 277 L327.2 279 L327.5 281 L328.2 283 L329.2 285 L330.3 287 L331.3 289 L331.7 291 L331.7 293 L331.2 295 L330.4 297 L329.6 299 L328.9 301 L328.4 303 L328.1 305 L327.9 307 L327.9 309 L328.2 311 L328.8 313 L329.8 315 L330.8 317 L331.7 319 L332.1 321 L332.0 323 L331.4 325 L330.6 327 L329.7 329 L328.9 331 L328.4 333 L327.9 335 L327.7 337 L327.6 339 L327.8 341 L328.4 343 L329.3 345 L330.3 347 L331.1 349 L331.6 351 L331.5 353 L330.9 355 L330.0 357 L329.2 359 L328.4 361 L327.9 363 L327.5 365 L327.3 367 L327.3 369 L327.5 371 L328.1 373 L329.1 375 L330.2 377 L331.1 379 L331.6 381 L331.6 383 L331.1 385 L330.3 387 L329.5 389 L328.9 391 L328.4 393 L328.1 395 L327.9 397 L327.9 399 L328.2 401 L328.9 403 L329.8 405 L330.9 407 L331.9 409 L332.4 411 L332.4 413 L331.9 415 L331.1 417 L330.3 419 L329.6 421 L329.1 423 L328.7 425 L328.4 427 L328.4 429 L328.6 431 L329.1 433 L330.0 435 L331.1 437 L332.0 439 L332.4 441 L332.4 443 L331.8 445 L330.9 447 L330.1 449 L329.3 451 L328.7 453 L328.3 455 L328.0 457 L327.9 459 L328.0 461" stroke="url(#hl1_5)" stroke-opacity="0.774" stroke-width="4.4" fill="none"/>
</g>
</g></g>
<rect x="219.7" y="47.2" width="135.2" height="405.6" fill="none" stroke="#262626" stroke-width="1.1"/>
<path d="M247.7 47.2v3.2M247.7 452.8v-3.2M287.4 47.2v3.2M287.4 452.8v-3.2M327.1 47.2v3.2M327.1 452.8v-3.2M219.7 452.8h3.2M354.9 452.8h-3.2M219.7 394.2h3.2M354.9 394.2h-3.2M219.7 335.6h3.2M354.9 335.6h-3.2M219.7 277h3.2M354.9 277h-3.2M219.7 218.4h3.2M354.9 218.4h-3.2M219.7 159.8h3.2M354.9 159.8h-3.2M219.7 101.2h3.2M354.9 101.2h-3.2" stroke="#262626" stroke-width="1.1" fill="none"/>
<g clip-path="url(#hc2)"><g filter="url(#cmap)">
<rect x="372.2" y="47.2" width="135.3" height="405.6" fill="url(#hbg2)"/>
<g filter="url(#bl3)">
<ellipse cx="386.7" cy="49.7" rx="4.8" ry="8.4" fill="#fff" fill-opacity="0.071"/>
<ellipse cx="387.3" cy="68.6" rx="4.5" ry="8.5" fill="#fff" fill-opacity="0.072"/>
<ellipse cx="385.1" cy="81.8" rx="4.7" ry="7.2" fill="#fff" fill-opacity="0.100"/>
<ellipse cx="384.4" cy="96.7" rx="3.6" ry="10.0" fill="#fff" fill-opacity="0.097"/>
<ellipse cx="386.3" cy="116.2" rx="3.6" ry="8.0" fill="#fff" fill-opacity="0.085"/>
<ellipse cx="388.0" cy="130.2" rx="4.2" ry="7.5" fill="#fff" fill-opacity="0.101"/>
<ellipse cx="387.9" cy="144.3" rx="4.4" ry="8.7" fill="#fff" fill-opacity="0.077"/>
<ellipse cx="384.2" cy="161.0" rx="3.6" ry="9.6" fill="#fff" fill-opacity="0.072"/>
<ellipse cx="384.3" cy="179.8" rx="5.4" ry="9.7" fill="#fff" fill-opacity="0.098"/>
<ellipse cx="386.1" cy="198.5" rx="5.0" ry="7.4" fill="#fff" fill-opacity="0.084"/>
<ellipse cx="384.2" cy="217.7" rx="5.3" ry="9.7" fill="#fff" fill-opacity="0.080"/>
<ellipse cx="385.5" cy="233.5" rx="4.3" ry="10.0" fill="#fff" fill-opacity="0.079"/>
<ellipse cx="383.7" cy="246.9" rx="4.9" ry="10.0" fill="#fff" fill-opacity="0.085"/>
<ellipse cx="386.0" cy="263.6" rx="5.0" ry="7.7" fill="#fff" fill-opacity="0.090"/>
<ellipse cx="386.3" cy="280.8" rx="3.9" ry="7.5" fill="#fff" fill-opacity="0.077"/>
<ellipse cx="385.0" cy="300.7" rx="4.7" ry="7.9" fill="#fff" fill-opacity="0.065"/>
<ellipse cx="387.3" cy="314.4" rx="5.1" ry="8.1" fill="#fff" fill-opacity="0.094"/>
<ellipse cx="387.7" cy="332.4" rx="5.4" ry="8.2" fill="#fff" fill-opacity="0.109"/>
<ellipse cx="386.2" cy="352.6" rx="5.3" ry="8.5" fill="#fff" fill-opacity="0.079"/>
<ellipse cx="387.6" cy="367.5" rx="3.8" ry="7.2" fill="#fff" fill-opacity="0.100"/>
<ellipse cx="385.6" cy="386.3" rx="5.2" ry="7.2" fill="#fff" fill-opacity="0.073"/>
<ellipse cx="385.3" cy="401.6" rx="3.8" ry="7.2" fill="#fff" fill-opacity="0.077"/>
<ellipse cx="388.1" cy="421.3" rx="5.0" ry="8.4" fill="#fff" fill-opacity="0.073"/>
<ellipse cx="385.9" cy="441.4" rx="5.0" ry="7.1" fill="#fff" fill-opacity="0.071"/>
<ellipse cx="387.2" cy="460.6" rx="5.3" ry="8.8" fill="#fff" fill-opacity="0.081"/>
<ellipse cx="493.0" cy="59.9" rx="4.6" ry="7.8" fill="#fff" fill-opacity="0.079"/>
<ellipse cx="494.9" cy="73.2" rx="5.4" ry="7.1" fill="#fff" fill-opacity="0.072"/>
<ellipse cx="495.7" cy="91.0" rx="4.7" ry="7.8" fill="#fff" fill-opacity="0.064"/>
<ellipse cx="496.0" cy="111.2" rx="3.8" ry="7.3" fill="#fff" fill-opacity="0.052"/>
<ellipse cx="493.7" cy="124.5" rx="3.8" ry="9.6" fill="#fff" fill-opacity="0.074"/>
<ellipse cx="494.2" cy="138.6" rx="4.1" ry="8.5" fill="#fff" fill-opacity="0.057"/>
<ellipse cx="492.4" cy="153.0" rx="4.3" ry="9.1" fill="#fff" fill-opacity="0.070"/>
<ellipse cx="495.0" cy="166.6" rx="5.2" ry="9.3" fill="#fff" fill-opacity="0.080"/>
<ellipse cx="493.8" cy="179.8" rx="3.6" ry="9.3" fill="#fff" fill-opacity="0.055"/>
<ellipse cx="492.7" cy="198.2" rx="4.9" ry="7.9" fill="#fff" fill-opacity="0.050"/>
<ellipse cx="493.0" cy="214.2" rx="5.3" ry="7.9" fill="#fff" fill-opacity="0.068"/>
<ellipse cx="496.2" cy="231.3" rx="3.7" ry="8.8" fill="#fff" fill-opacity="0.068"/>
<ellipse cx="496.3" cy="249.8" rx="4.1" ry="9.1" fill="#fff" fill-opacity="0.069"/>
<ellipse cx="491.8" cy="267.0" rx="5.1" ry="9.9" fill="#fff" fill-opacity="0.062"/>
<ellipse cx="496.4" cy="282.5" rx="3.7" ry="7.2" fill="#fff" fill-opacity="0.051"/>
<ellipse cx="495.3" cy="301.6" rx="4.4" ry="8.9" fill="#fff" fill-opacity="0.049"/>
<ellipse cx="493.7" cy="319.4" rx="4.5" ry="8.2" fill="#fff" fill-opacity="0.064"/>
<ellipse cx="491.7" cy="334.3" rx="4.4" ry="7.7" fill="#fff" fill-opacity="0.076"/>
<ellipse cx="495.1" cy="353.3" rx="4.4" ry="7.7" fill="#fff" fill-opacity="0.063"/>
<ellipse cx="494.6" cy="370.0" rx="5.4" ry="7.3" fill="#fff" fill-opacity="0.067"/>
<ellipse cx="495.1" cy="386.8" rx="5.3" ry="9.3" fill="#fff" fill-opacity="0.073"/>
<ellipse cx="494.8" cy="405.4" rx="5.2" ry="9.1" fill="#fff" fill-opacity="0.075"/>
<ellipse cx="496.1" cy="420.4" rx="4.3" ry="8.8" fill="#fff" fill-opacity="0.081"/>
<ellipse cx="496.4" cy="440.5" rx="3.5" ry="7.9" fill="#fff" fill-opacity="0.060"/>
<ellipse cx="492.2" cy="456.6" rx="4.6" ry="7.2" fill="#fff" fill-opacity="0.060"/>
<ellipse cx="472.6" cy="234.7" rx="3.3" ry="7.8" fill="#000" fill-opacity="0.058"/>
<ellipse cx="400.0" cy="183.2" rx="4.9" ry="6.7" fill="#000" fill-opacity="0.040"/>
<ellipse cx="500.9" cy="177.8" rx="3.8" ry="7.4" fill="#000" fill-opacity="0.036"/>
<ellipse cx="464.4" cy="128.3" rx="4.8" ry="5.1" fill="#000" fill-opacity="0.045"/>
<ellipse cx="499.5" cy="236.6" rx="4.3" ry="6.5" fill="#000" fill-opacity="0.041"/>
<ellipse cx="395.8" cy="203.2" rx="3.8" ry="4.8" fill="#000" fill-opacity="0.068"/>
<ellipse cx="376.9" cy="375.9" rx="5.8" ry="6.8" fill="#000" fill-opacity="0.031"/>
<ellipse cx="440.0" cy="63.1" rx="4.8" ry="6.8" fill="#000" fill-opacity="0.040"/>
<ellipse cx="373.2" cy="268.0" rx="3.3" ry="5.2" fill="#000" fill-opacity="0.048"/>
<ellipse cx="493.2" cy="197.3" rx="3.4" ry="7.2" fill="#000" fill-opacity="0.063"/>
<ellipse cx="443.8" cy="67.1" rx="3.6" ry="5.6" fill="#000" fill-opacity="0.052"/>
<ellipse cx="402.7" cy="372.6" rx="5.5" ry="7.7" fill="#000" fill-opacity="0.065"/>
<ellipse cx="374.6" cy="283.3" rx="3.2" ry="7.6" fill="#000" fill-opacity="0.060"/>
<ellipse cx="474.9" cy="123.6" rx="3.2" ry="7.3" fill="#000" fill-opacity="0.054"/>
<ellipse cx="456.1" cy="238.3" rx="5.4" ry="5.4" fill="#000" fill-opacity="0.041"/>
<ellipse cx="420.0" cy="168.1" rx="4.9" ry="7.6" fill="#000" fill-opacity="0.033"/>
<ellipse cx="381.4" cy="254.8" rx="5.0" ry="4.8" fill="#000" fill-opacity="0.041"/>
<ellipse cx="380.2" cy="62.3" rx="4.5" ry="6.7" fill="#000" fill-opacity="0.056"/>
<ellipse cx="393.6" cy="89.4" rx="5.8" ry="6.2" fill="#000" fill-opacity="0.046"/>
<ellipse cx="465.7" cy="342.4" rx="4.6" ry="4.3" fill="#000" fill-opacity="0.063"/>
<ellipse cx="401.1" cy="63.6" rx="4.1" ry="6.1" fill="#000" fill-opacity="0.055"/>
<ellipse cx="395.8" cy="335.0" rx="4.5" ry="4.6" fill="#000" fill-opacity="0.064"/>
<ellipse cx="481.4" cy="414.8" rx="5.0" ry="4.9" fill="#000" fill-opacity="0.061"/>
<ellipse cx="494.3" cy="263.5" rx="5.7" ry="7.9" fill="#000" fill-opacity="0.046"/>
<ellipse cx="499.6" cy="427.2" rx="5.4" ry="4.0" fill="#000" fill-opacity="0.044"/>
<ellipse cx="455.2" cy="293.5" rx="5.3" ry="6.6" fill="#000" fill-opacity="0.036"/>
<ellipse cx="498.1" cy="264.7" rx="5.6" ry="4.8" fill="#000" fill-opacity="0.070"/>
<ellipse cx="447.3" cy="361.8" rx="5.2" ry="7.5" fill="#000" fill-opacity="0.044"/>
<ellipse cx="383.4" cy="211.7" rx="3.5" ry="6.2" fill="#000" fill-opacity="0.063"/>
<ellipse cx="421.2" cy="100.4" rx="3.1" ry="5.7" fill="#000" fill-opacity="0.053"/>
</g>
<rect x="372.2" y="47.2" width="135.3" height="405.6" fill="#fff" filter="url(#noise)"/>
<g filter="url(#bl1)">
<path d="M397.6 37 L397.9 39 L397.5 41 L396.9 43 L396.9 45 L397.5 47 L398.2 49 L398.3 51 L397.7 53 L397.0 55 L396.8 57 L397.3 59 L398.0 61 L398.1 63 L397.8 65 L397.4 67 L397.6 69 L398.2 71 L398.7 73 L398.5 75 L397.6 77 L396.8 79 L396.6 81 L397.0 83 L397.5 85 L397.6 87 L397.4 89 L397.2 91 L397.5 93 L398.1 95 L398.3 97 L397.9 99 L396.9 101 L396.1 103 L395.9 105 L396.4 107 L396.9 109 L397.1 111 L397.0 113 L397.1 115 L397.6 117 L398.2 119 L398.4 121 L397.7 123 L396.8 125 L396.1 127 L396.0 129 L396.5 131 L397.0 133 L397.4 135 L397.6 137 L398.0 139 L398.6 141 L399.0 143 L398.9 145 L398.1 147 L397.1 149 L396.4 151 L396.4 153 L396.7 155 L397.2 157 L397.6 159 L398.0 161 L398.5 163 L399.0 165 L399.2 167 L398.8 169 L397.8 171 L396.7 173 L396.0 175 L395.9 177 L396.2 179 L396.6 181 L397.2 183 L397.8 185 L398.4 187 L398.8 189 L398.7 191 L398.1 193 L397.1 195 L396.1 197 L395.4 199 L395.3 201 L395.6 203 L396.3 205 L397.1 207 L398.0 209 L398.7 211 L399.1 213 L398.9 215 L398.1 217 L397.1 219 L396.2 221 L395.7 223 L395.6 225 L395.9 227 L396.7 229 L397.8 231 L398.9 233 L399.6 235 L399.8 237 L399.3 239 L398.4 241 L397.4 243 L396.5 245 L395.8 247 L395.6 249 L396.0 251 L396.9 253 L398.2 255 L399.3 257 L399.8 259 L399.6 261 L398.9 263 L397.9 265 L396.9 267 L395.9 269 L395.2 271 L394.9 273 L395.4 275 L396.6 277 L398.1 279 L399.3 281 L399.7 283 L399.4 285 L398.6 287 L397.7 289 L396.8 291 L396.0 293 L395.4 295 L395.3 297 L396.1 299 L397.7 301 L399.5 303 L400.8 305 L401.2 307 L400.7 309 L400.0 311 L399.2 313 L398.5 315 L397.8 317 L397.2 319 L397.2 321 L398.3 323 L400.1 325 L402.1 327 L403.3 329 L403.4 331 L402.7 333 L401.8 335 L401.1 337 L400.3 339 L399.5 341 L398.9 343 L399.0 345 L400.2 347 L402.1 349 L404.0 351 L404.9 353 L404.7 355 L403.8 357 L402.9 359 L402.1 361 L401.3 363 L400.4 365 L399.7 367 L400.0 369 L401.4 371 L403.5 373 L405.3 375 L406.0 377 L405.6 379 L404.6 381 L403.7 383 L403.0 385 L402.2 387 L401.2 389 L400.6 391 L401.1 393 L402.7 395 L404.9 397 L406.6 399 L407.0 401 L406.3 403 L405.3 405 L404.4 407 L403.6 409 L402.7 411 L401.7 413 L401.2 415 L401.8 417 L403.6 419 L405.8 421 L407.1 423 L407.2 425 L406.4 427 L405.3 429 L404.4 431 L403.5 433 L402.5 435 L401.4 437 L401.0 439 L401.9 441 L403.7 443 L405.7 445 L406.8 447 L406.7 449 L405.7 451 L404.6 453 L403.7 455 L402.9 457 L401.8 459 L400.9 461" stroke="#000" stroke-opacity="0.7" stroke-width="2.2" fill="none"/>
<path d="M413.0 37 L413.4 39 L413.1 41 L412.3 43 L411.8 45 L411.9 47 L412.5 49 L413.0 51 L412.9 53 L412.5 55 L412.1 57 L412.4 59 L413.0 61 L413.4 63 L413.1 65 L412.4 67 L411.8 69 L411.9 71 L412.5 73 L413.1 75 L413.1 77 L412.6 79 L412.3 81 L412.5 83 L413.2 85 L413.6 87 L413.3 89 L412.5 91 L411.9 93 L412.0 95 L412.6 97 L413.1 99 L413.1 101 L412.7 103 L412.3 105 L412.6 107 L413.2 109 L413.5 111 L413.2 113 L412.4 115 L411.8 117 L411.8 119 L412.4 121 L413.0 123 L413.0 125 L412.5 127 L412.2 129 L412.4 131 L413.1 133 L413.4 135 L413.1 137 L412.3 139 L411.7 141 L411.7 143 L412.3 145 L412.9 147 L412.9 149 L412.6 151 L412.3 153 L412.5 155 L413.1 157 L413.5 159 L413.3 161 L412.5 163 L411.8 165 L411.8 167 L412.4 169 L413.0 171 L413.1 173 L412.7 175 L412.4 177 L412.7 179 L413.3 181 L413.7 183 L413.4 185 L412.5 187 L411.8 189 L411.8 191 L412.4 193 L413.0 195 L413.1 197 L412.7 199 L412.4 201 L412.6 203 L413.2 205 L413.6 207 L413.3 209 L412.4 211 L411.7 213 L411.6 215 L412.2 217 L412.8 219 L412.9 221 L412.6 223 L412.3 225 L412.5 227 L413.1 229 L413.5 231 L413.2 233 L412.4 235 L411.7 237 L411.6 239 L412.2 241 L412.8 243 L413.0 245 L412.7 247 L412.4 249 L412.6 251 L413.3 253 L413.7 255 L413.4 257 L412.5 259 L411.8 261 L411.7 263 L412.3 265 L412.9 267 L413.1 269 L412.8 271 L412.5 273 L412.8 275 L413.4 277 L413.8 279 L413.6 281 L412.8 283 L412.0 285 L412.0 287 L412.6 289 L413.3 291 L413.5 293 L413.3 295 L413.2 297 L413.5 299 L414.2 301 L414.7 303 L414.5 305 L413.7 307 L413.0 309 L413.0 311 L413.7 313 L414.5 315 L414.8 317 L414.7 319 L414.6 321 L415.0 323 L415.7 325 L416.3 327 L416.2 329 L415.4 331 L414.8 333 L414.8 335 L415.4 337 L416.3 339 L416.7 341 L416.6 343 L416.6 345 L416.9 347 L417.7 349 L418.2 351 L418.1 353 L417.3 355 L416.6 357 L416.6 359 L417.2 361 L418.0 363 L418.4 365 L418.3 367 L418.2 369 L418.5 371 L419.2 373 L419.7 375 L419.4 377 L418.6 379 L417.8 381 L417.7 383 L418.2 385 L418.9 387 L419.3 389 L419.1 391 L418.9 393 L419.2 395 L419.8 397 L420.2 399 L419.9 401 L419.0 403 L418.1 405 L417.9 407 L418.3 409 L419.0 411 L419.3 413 L419.2 415 L419.0 417 L419.3 419 L419.8 421 L420.2 423 L420.0 425 L419.1 427 L418.2 429 L418.0 431 L418.4 433 L419.1 435 L419.5 437 L419.4 439 L419.2 441 L419.5 443 L420.0 445 L420.4 447 L420.2 449 L419.3 451 L418.4 453 L418.1 455 L418.5 457 L419.2 459 L419.5 461" stroke="#000" stroke-opacity="0.7" stroke-width="2.2" fill="none"/>
<path d="M428.6 37 L428.6 39 L427.9 41 L426.9 43 L426.4 45 L426.6 47 L427.2 49 L427.5 51 L427.4 53 L427.1 55 L427.1 57 L427.7 59 L428.2 61 L428.1 63 L427.3 65 L426.3 67 L425.9 69 L426.1 71 L426.8 73 L427.2 75 L427.2 77 L427.2 79 L427.5 81 L428.1 83 L428.6 85 L428.4 87 L427.6 89 L426.7 91 L426.3 93 L426.6 95 L427.2 97 L427.7 99 L427.9 101 L428.0 103 L428.4 105 L429.0 107 L429.3 109 L428.9 111 L428.0 113 L427.0 115 L426.5 117 L426.7 119 L427.2 121 L427.6 123 L427.8 125 L428.0 127 L428.4 129 L428.8 131 L428.9 133 L428.4 135 L427.3 137 L426.3 139 L425.8 141 L425.9 143 L426.3 145 L426.8 147 L427.2 149 L427.6 151 L428.1 153 L428.5 155 L428.5 157 L427.9 159 L426.9 161 L426.0 163 L425.6 165 L425.7 167 L426.3 169 L426.9 171 L427.5 173 L428.2 175 L428.8 177 L429.1 179 L429.1 181 L428.4 183 L427.5 185 L426.6 187 L426.1 189 L426.2 191 L426.7 193 L427.5 195 L428.2 197 L428.9 199 L429.5 201 L429.7 203 L429.3 205 L428.5 207 L427.5 209 L426.5 211 L426.0 213 L425.9 215 L426.4 217 L427.1 219 L428.0 221 L428.7 223 L429.2 225 L429.2 227 L428.7 229 L427.8 231 L426.7 233 L425.8 235 L425.2 237 L425.1 239 L425.6 241 L426.6 243 L427.7 245 L428.6 247 L429.1 249 L429.0 251 L428.5 253 L427.6 255 L426.7 257 L425.9 259 L425.3 261 L425.3 263 L425.9 265 L427.1 267 L428.4 269 L429.4 271 L429.9 273 L429.7 275 L429.1 277 L428.3 279 L427.4 281 L426.6 283 L426.0 285 L426.0 287 L426.7 289 L428.0 291 L429.5 293 L430.6 295 L430.9 297 L430.6 299 L429.9 301 L429.0 303 L428.2 305 L427.3 307 L426.7 309 L426.7 311 L427.4 313 L428.9 315 L430.5 317 L431.6 319 L431.9 321 L431.4 323 L430.7 325 L429.9 327 L429.2 329 L428.4 331 L427.8 333 L427.8 335 L428.8 337 L430.5 339 L432.3 341 L433.5 343 L433.7 345 L433.2 347 L432.5 349 L431.9 351 L431.2 353 L430.5 355 L429.9 357 L430.0 359 L431.1 361 L432.9 363 L434.8 365 L435.9 367 L436.0 369 L435.3 371 L434.5 373 L433.8 375 L433.1 377 L432.2 379 L431.4 381 L431.4 383 L432.5 385 L434.3 387 L436.1 389 L437.0 391 L436.7 393 L435.8 395 L434.8 397 L433.9 399 L433.0 401 L432.0 403 L431.1 405 L431.0 407 L432.1 409 L434.0 411 L435.8 413 L436.5 415 L436.1 417 L435.1 419 L434.2 421 L433.4 423 L432.6 425 L431.6 427 L430.8 429 L430.9 431 L432.2 433 L434.3 435 L436.2 437 L436.9 439 L436.5 441 L435.5 443 L434.6 445 L433.9 447 L433.2 449 L432.2 451 L431.4 453 L431.6 455 L433.1 457 L435.2 459 L437.0 461" stroke="#000" stroke-opacity="0.7" stroke-width="2.2" fill="none"/>
<path d="M443.5 37 L443.4 39 L442.6 41 L441.6 43 L441.2 45 L441.4 47 L442.0 49 L442.3 51 L442.1 53 L441.9 55 L442.1 57 L442.8 59 L443.3 61 L443.2 63 L442.4 65 L441.4 67 L440.9 69 L441.1 71 L441.7 73 L442.2 75 L442.3 77 L442.5 79 L442.9 81 L443.6 83 L444.0 85 L443.8 87 L443.0 89 L442.0 91 L441.4 93 L441.5 95 L442.0 97 L442.4 99 L442.8 101 L443.2 103 L443.7 105 L444.3 107 L444.5 109 L444.1 111 L443.1 113 L442.0 115 L441.3 117 L441.1 119 L441.3 121 L441.8 123 L442.3 125 L442.9 127 L443.6 129 L444.0 131 L444.1 133 L443.5 135 L442.5 137 L441.4 139 L440.6 141 L440.3 143 L440.4 145 L440.9 147 L441.8 149 L442.7 151 L443.6 153 L444.1 155 L444.1 157 L443.5 159 L442.5 161 L441.6 163 L440.8 165 L440.4 167 L440.4 169 L441.1 171 L442.2 173 L443.5 175 L444.6 177 L445.0 179 L444.8 181 L444.1 183 L443.2 185 L442.2 187 L441.4 189 L440.7 191 L440.6 193 L441.1 195 L442.4 197 L443.9 199 L445.0 201 L445.3 203 L444.8 205 L443.9 207 L442.9 209 L442.0 211 L441.0 213 L440.2 215 L439.8 217 L440.3 219 L441.7 221 L443.4 223 L444.6 225 L444.9 227 L444.3 229 L443.3 231 L442.3 233 L441.5 235 L440.6 237 L439.7 239 L439.3 241 L439.9 243 L441.4 245 L443.4 247 L444.8 249 L445.2 251 L444.5 253 L443.6 255 L442.7 257 L442.0 259 L441.1 261 L440.2 263 L439.7 265 L440.3 267 L442.0 269 L444.1 271 L445.6 273 L445.9 275 L445.2 277 L444.2 279 L443.3 281 L442.6 283 L441.7 285 L440.8 287 L440.2 289 L440.8 291 L442.5 293 L444.7 295 L446.2 297 L446.5 299 L445.8 301 L444.7 303 L443.9 305 L443.2 307 L442.3 309 L441.4 311 L440.9 313 L441.5 315 L443.2 317 L445.5 319 L447.1 321 L447.5 323 L446.9 325 L445.9 327 L445.2 329 L444.6 331 L443.8 333 L443.0 335 L442.6 337 L443.3 339 L445.2 341 L447.4 343 L449.1 345 L449.6 347 L449.1 349 L448.3 351 L447.5 353 L446.9 355 L446.2 357 L445.4 359 L445.1 361 L445.7 363 L447.4 365 L449.5 367 L451.0 369 L451.5 371 L450.9 373 L450.0 375 L449.2 377 L448.4 379 L447.5 381 L446.7 383 L446.3 385 L446.8 387 L448.2 389 L449.9 391 L451.2 393 L451.5 395 L451.0 397 L450.1 399 L449.1 401 L448.2 403 L447.2 405 L446.4 407 L446.1 409 L446.6 411 L447.9 413 L449.4 415 L450.6 417 L451.0 419 L450.7 421 L450.0 423 L449.1 425 L448.2 427 L447.4 429 L446.8 431 L446.7 433 L447.3 435 L448.5 437 L449.8 439 L450.9 441 L451.4 443 L451.3 445 L450.7 447 L449.8 449 L448.9 451 L448.0 453 L447.6 455 L447.6 457 L448.2 459 L449.0 461" stroke="#000" stroke-opacity="0.7" stroke-width="2.2" fill="none"/>
<path d="M456.8 37 L457.2 39 L457.4 41 L457.3 43 L457.0 45 L457.0 47 L457.3 49 L457.7 51 L457.7 53 L457.2 55 L456.6 57 L456.3 59 L456.6 61 L457.2 63 L457.6 65 L457.5 67 L457.1 69 L457.1 71 L457.5 73 L458.1 75 L458.3 77 L457.9 79 L457.3 81 L457.0 83 L457.3 85 L457.9 87 L458.3 89 L458.2 91 L457.8 93 L457.5 95 L457.7 97 L458.3 99 L458.6 101 L458.3 103 L457.6 105 L457.1 107 L457.3 109 L457.8 111 L458.2 113 L458.1 115 L457.4 117 L456.9 119 L457.0 121 L457.5 123 L457.9 125 L457.8 127 L457.1 129 L456.6 131 L456.6 133 L457.2 135 L457.7 137 L457.6 139 L457.0 141 L456.4 143 L456.4 145 L457.0 147 L457.6 149 L457.7 151 L457.2 153 L456.7 155 L456.8 157 L457.4 159 L458.1 161 L458.2 163 L457.6 165 L457.0 167 L456.9 169 L457.4 171 L458.2 173 L458.4 175 L458.0 177 L457.5 179 L457.4 181 L458.0 183 L458.7 185 L458.8 187 L458.1 189 L457.3 191 L456.9 193 L457.3 195 L458.0 197 L458.3 199 L458.0 201 L457.3 203 L457.1 205 L457.6 207 L458.2 209 L458.4 211 L457.7 213 L456.7 215 L456.1 217 L456.4 219 L457.2 221 L457.6 223 L457.4 225 L456.9 227 L456.6 229 L457.1 231 L457.9 233 L458.2 235 L457.6 237 L456.7 239 L456.0 241 L456.3 243 L457.1 245 L457.8 247 L457.8 249 L457.4 251 L457.2 253 L457.6 255 L458.5 257 L458.9 259 L458.5 261 L457.4 263 L456.7 265 L456.7 267 L457.5 269 L458.2 271 L458.3 273 L458.0 275 L457.7 277 L458.1 279 L458.8 281 L459.3 283 L458.9 285 L457.9 287 L456.9 289 L456.8 291 L457.5 293 L458.3 295 L458.6 297 L458.3 299 L458.1 301 L458.4 303 L459.2 305 L459.8 307 L459.6 309 L458.6 311 L457.6 313 L457.4 315 L458.1 317 L459.1 319 L459.6 321 L459.5 323 L459.5 325 L459.9 327 L460.8 329 L461.6 331 L461.5 333 L460.7 335 L459.8 337 L459.5 339 L460.1 341 L461.1 343 L461.8 345 L461.9 347 L461.9 349 L462.4 351 L463.2 353 L464.0 355 L464.1 357 L463.2 359 L462.1 361 L461.6 363 L462.0 365 L462.9 367 L463.5 369 L463.6 371 L463.6 373 L463.8 375 L464.6 377 L465.2 379 L465.2 381 L464.3 383 L463.0 385 L462.2 387 L462.3 389 L463.0 391 L463.6 393 L463.7 395 L463.6 397 L463.8 399 L464.5 401 L465.1 403 L465.1 405 L464.2 407 L462.9 409 L462.1 411 L462.0 413 L462.7 415 L463.3 417 L463.6 419 L463.7 421 L464.1 423 L464.8 425 L465.5 427 L465.6 429 L464.9 431 L463.7 433 L462.8 435 L462.6 437 L463.2 439 L463.8 441 L464.2 443 L464.4 445 L464.8 447 L465.4 449 L466.1 451 L466.3 453 L465.5 455 L464.3 457 L463.2 459 L462.8 461" stroke="#000" stroke-opacity="0.7" stroke-width="2.2" fill="none"/>
<path d="M471.2 37 L471.8 39 L472.1 41 L471.9 43 L471.5 45 L471.5 47 L472.0 49 L472.5 51 L472.6 53 L472.0 55 L471.3 57 L471.0 59 L471.3 61 L471.9 63 L472.3 65 L472.3 67 L472.2 69 L472.3 71 L472.8 73 L473.2 75 L473.1 77 L472.4 79 L471.6 81 L471.2 83 L471.4 85 L472.0 87 L472.4 89 L472.4 91 L472.4 93 L472.6 95 L473.0 97 L473.2 99 L472.9 101 L472.1 103 L471.2 105 L470.7 107 L470.9 109 L471.3 111 L471.8 113 L472.0 115 L472.2 117 L472.4 119 L472.7 121 L472.8 123 L472.4 125 L471.6 127 L470.8 129 L470.3 131 L470.4 133 L470.9 135 L471.5 137 L472.0 139 L472.4 141 L472.8 143 L473.1 145 L473.1 147 L472.7 149 L471.9 151 L471.1 153 L470.6 155 L470.7 157 L471.2 159 L471.9 161 L472.6 163 L473.2 165 L473.6 167 L473.7 169 L473.5 171 L472.9 173 L472.1 175 L471.2 177 L470.7 179 L470.6 181 L471.0 183 L471.8 185 L472.6 187 L473.3 189 L473.6 191 L473.6 193 L473.2 195 L472.5 197 L471.6 199 L470.7 201 L470.1 203 L469.9 205 L470.3 207 L471.3 209 L472.3 211 L473.1 213 L473.5 215 L473.3 217 L472.8 219 L472.2 221 L471.4 223 L470.5 225 L469.9 227 L469.7 229 L470.2 231 L471.4 233 L472.7 235 L473.7 237 L474.0 239 L473.8 241 L473.2 243 L472.5 245 L471.8 247 L471.0 249 L470.2 251 L470.0 253 L470.5 255 L471.8 257 L473.3 259 L474.3 261 L474.6 263 L474.1 265 L473.3 267 L472.6 269 L471.8 271 L470.9 273 L470.1 275 L469.7 277 L470.3 279 L471.7 281 L473.4 283 L474.5 285 L474.7 287 L474.1 289 L473.3 291 L472.6 293 L471.9 295 L471.1 297 L470.3 299 L470.0 301 L470.7 303 L472.4 305 L474.4 307 L475.6 309 L475.8 311 L475.2 313 L474.4 315 L473.9 317 L473.4 319 L472.7 321 L471.9 323 L471.6 325 L472.5 327 L474.5 329 L476.6 331 L478.0 333 L478.1 335 L477.4 337 L476.6 339 L476.1 341 L475.6 343 L474.9 345 L474.0 347 L473.7 349 L474.6 351 L476.6 353 L478.8 355 L480.1 357 L480.0 359 L479.1 361 L478.1 363 L477.5 365 L477.0 367 L476.1 369 L475.1 371 L474.7 373 L475.6 375 L477.7 377 L479.9 379 L481.0 381 L480.7 383 L479.7 385 L478.7 387 L478.1 389 L477.5 391 L476.5 393 L475.4 395 L475.0 397 L476.0 399 L478.2 401 L480.4 403 L481.5 405 L481.1 407 L479.9 409 L478.9 411 L478.4 413 L477.8 415 L476.9 417 L475.8 419 L475.4 421 L476.6 423 L478.8 425 L481.1 427 L482.0 429 L481.6 431 L480.3 433 L479.3 435 L478.7 437 L478.2 439 L477.1 441 L476.0 443 L475.7 445 L476.8 447 L479.1 449 L481.2 451 L482.1 453 L481.4 455 L480.1 457 L479.1 459 L478.4 461" stroke="#000" stroke-opacity="0.7" stroke-width="2.2" fill="none"/>
</g>
<g filter="url(#bl2)">
<path d="M490.4 37 L489.4 39 L488.6 41 L488.9 43 L490.3 45 L492.1 47 L493.5 49 L493.8 51 L493.3 53 L492.5 55 L492.0 57 L491.5 59 L490.8 61 L489.6 63 L488.7 65 L488.8 67 L489.9 69 L491.7 71 L493.0 73 L493.4 75 L492.9 77 L492.1 79 L491.5 81 L491.0 83 L490.2 85 L489.1 87 L488.1 89 L488.1 91 L489.1 93 L490.8 95 L492.3 97 L492.9 99 L492.6 101 L491.9 103 L491.4 105 L490.9 107 L490.2 109 L489.2 111 L488.3 113 L488.2 115 L489.2 117 L491.0 119 L492.6 121 L493.3 123 L493.2 125 L492.6 127 L492.1 129 L491.7 131 L491.0 133 L490.0 135 L489.1 137 L488.8 139 L489.6 141 L491.2 143 L492.8 145 L493.6 147 L493.5 149 L493.0 151 L492.3 153 L491.7 155 L491.0 157 L489.9 159 L488.9 161 L488.5 163 L489.1 165 L490.5 167 L492.0 169 L492.9 171 L492.9 173 L492.4 175 L491.8 177 L491.2 179 L490.4 181 L489.4 183 L488.4 185 L488.0 187 L488.5 189 L489.9 191 L491.5 193 L492.6 195 L492.9 197 L492.5 199 L491.9 201 L491.4 203 L490.8 205 L489.9 207 L489.0 209 L488.5 211 L488.9 213 L490.3 215 L491.9 217 L493.1 219 L493.5 221 L493.3 223 L492.7 225 L492.1 227 L491.4 229 L490.5 231 L489.5 233 L488.9 235 L489.2 237 L490.3 239 L491.8 241 L493.0 243 L493.5 245 L493.2 247 L492.6 249 L491.9 251 L491.1 253 L490.2 255 L489.1 257 L488.4 259 L488.5 261 L489.4 263 L490.9 265 L492.2 267 L492.8 269 L492.7 271 L492.1 273 L491.5 275 L490.8 277 L489.9 279 L489.1 281 L488.4 283 L488.5 285 L489.5 287 L491.1 289 L492.6 291 L493.5 293 L493.7 295 L493.4 297 L492.9 299 L492.3 301 L491.6 303 L490.8 305 L490.3 307 L490.4 309 L491.3 311 L492.8 313 L494.4 315 L495.5 317 L495.8 319 L495.5 321 L494.9 323 L494.3 325 L493.6 327 L492.8 329 L492.1 331 L492.0 333 L492.7 335 L494.1 337 L495.6 339 L496.7 341 L497.1 343 L496.9 345 L496.2 347 L495.5 349 L494.8 351 L494.0 353 L493.3 355 L493.1 357 L493.7 359 L495.0 361 L496.5 363 L497.8 365 L498.3 367 L498.2 369 L497.6 371 L496.9 373 L496.2 375 L495.5 377 L494.9 379 L494.6 381 L495.1 383 L496.3 385 L497.8 387 L499.2 389 L499.9 391 L499.8 393 L499.2 395 L498.4 397 L497.6 399 L496.8 401 L496.1 403 L495.7 405 L495.9 407 L496.8 409 L498.2 411 L499.5 413 L500.2 415 L500.1 417 L499.4 419 L498.5 421 L497.6 423 L496.7 425 L496.0 427 L495.4 429 L495.4 431 L496.1 433 L497.5 435 L498.8 437 L499.6 439 L499.6 441 L498.9 443 L498.0 445 L497.1 447 L496.3 449 L495.6 451 L495.0 453 L495.0 455 L495.6 457 L497.0 459 L498.5 461" stroke="url(#hl2_7)" stroke-width="5" fill="none" stroke-dasharray="18.0,7.2" stroke-linecap="round"/>
</g>
<g filter="url(#bl2)">
<path d="M389.0 37 L387.8 39 L386.8 41 L386.6 43 L387.8 45 L389.9 47 L391.9 49 L392.8 51 L392.5 53 L391.6 55 L390.8 57 L390.1 59 L389.1 61 L387.7 63 L386.7 65 L386.9 67 L388.4 69 L390.7 71 L392.3 73 L392.6 75 L391.8 77 L390.8 79 L390.0 81 L389.3 83 L388.1 85 L386.7 87 L385.9 89 L386.5 91 L388.5 93 L390.8 95 L392.0 97 L391.9 99 L390.9 101 L390.0 103 L389.4 105 L388.7 107 L387.5 109 L386.2 111 L385.9 113 L387.1 115 L389.5 117 L391.6 119 L392.5 121 L392.0 123 L391.0 125 L390.2 127 L389.7 129 L388.9 131 L387.7 133 L386.7 135 L386.8 137 L388.4 139 L390.9 141 L392.8 143 L393.1 145 L392.2 147 L391.0 149 L390.2 151 L389.6 153 L388.7 155 L387.4 157 L386.5 159 L387.0 161 L389.0 163 L391.3 165 L392.7 167 L392.5 169 L391.3 171 L390.0 173 L389.3 175 L388.7 177 L387.7 179 L386.4 181 L385.9 183 L386.9 185 L389.2 187 L391.4 189 L392.4 191 L391.8 193 L390.5 195 L389.4 197 L388.8 199 L388.2 201 L387.3 203 L386.3 205 L386.4 207 L387.9 209 L390.3 211 L392.3 213 L392.9 215 L392.0 217 L390.7 219 L389.8 221 L389.2 223 L388.5 225 L387.6 227 L386.9 229 L387.4 231 L389.2 233 L391.6 235 L393.1 237 L393.1 239 L391.9 241 L390.6 243 L389.6 245 L388.9 247 L388.1 249 L387.1 251 L386.7 253 L387.6 255 L389.6 257 L391.7 259 L392.6 261 L392.2 263 L390.9 265 L389.6 267 L388.7 269 L387.9 271 L387.0 273 L386.3 275 L386.5 277 L387.9 279 L390.1 281 L391.9 283 L392.5 285 L391.9 287 L390.7 289 L389.7 291 L389.0 293 L388.3 295 L387.6 297 L387.4 299 L388.2 301 L390.2 303 L392.4 305 L393.9 307 L394.1 309 L393.4 311 L392.3 313 L391.5 315 L390.7 317 L390.0 319 L389.4 321 L389.6 323 L390.9 325 L393.0 327 L394.9 329 L395.9 331 L395.7 333 L394.8 335 L393.7 337 L392.8 339 L391.9 341 L391.0 343 L390.7 345 L391.3 347 L392.9 349 L394.9 351 L396.4 353 L396.9 355 L396.3 357 L395.4 359 L394.5 361 L393.5 363 L392.5 365 L391.7 367 L391.7 369 L392.9 371 L394.8 373 L396.8 375 L397.9 377 L397.9 379 L397.2 381 L396.4 383 L395.6 385 L394.6 387 L393.5 389 L392.9 391 L393.3 393 L394.9 395 L397.0 397 L398.6 399 L399.1 401 L398.7 403 L397.9 405 L397.1 407 L396.1 409 L395.0 411 L393.8 413 L393.3 415 L394.1 417 L395.9 419 L397.9 421 L399.1 423 L399.0 425 L398.2 427 L397.3 429 L396.5 431 L395.5 433 L394.2 435 L393.0 437 L392.8 439 L394.0 441 L396.1 443 L398.0 445 L398.6 447 L398.2 449 L397.2 451 L396.4 453 L395.7 455 L394.7 457 L393.4 459 L392.4 461" stroke="#fff" stroke-opacity="0.102" stroke-width="8" fill="none"/>
<path d="M406.2 37 L407.9 39 L408.2 41 L407.3 43 L406.1 45 L405.1 47 L404.5 49 L403.9 51 L403.0 53 L402.4 55 L402.8 57 L404.5 59 L406.8 61 L408.5 63 L408.9 65 L408.0 67 L406.7 69 L405.7 71 L405.1 73 L404.4 75 L403.5 77 L402.8 79 L403.1 81 L404.7 83 L406.9 85 L408.6 87 L408.8 89 L407.8 91 L406.4 93 L405.4 95 L404.6 97 L403.9 99 L402.9 101 L402.2 103 L402.5 105 L404.1 107 L406.3 109 L407.9 111 L408.1 113 L407.2 115 L405.8 117 L404.8 119 L404.2 121 L403.5 123 L402.6 125 L402.0 127 L402.4 129 L404.1 131 L406.3 133 L408.0 135 L408.4 137 L407.5 139 L406.2 141 L405.3 143 L404.7 145 L404.1 147 L403.2 149 L402.6 151 L403.1 153 L404.8 155 L407.0 157 L408.7 159 L409.0 161 L408.0 163 L406.7 165 L405.7 167 L405.0 169 L404.3 171 L403.4 173 L402.7 175 L403.0 177 L404.6 179 L406.8 181 L408.4 183 L408.6 185 L407.6 187 L406.2 189 L405.1 191 L404.4 193 L403.6 195 L402.7 197 L402.0 199 L402.4 201 L404.0 203 L406.2 205 L407.8 207 L408.1 209 L407.1 211 L405.8 213 L404.9 215 L404.2 217 L403.6 219 L402.7 221 L402.1 223 L402.6 225 L404.3 227 L406.6 229 L408.3 231 L408.6 233 L407.7 235 L406.5 237 L405.5 239 L404.9 241 L404.2 243 L403.4 245 L402.8 247 L403.2 249 L404.9 251 L407.1 253 L408.7 255 L409.0 257 L408.0 259 L406.6 261 L405.6 263 L404.9 265 L404.1 267 L403.2 269 L402.5 271 L402.9 273 L404.5 275 L406.7 277 L408.3 279 L408.5 281 L407.5 283 L406.2 285 L405.2 287 L404.6 289 L403.9 291 L403.1 293 L402.6 295 L403.1 297 L404.8 299 L407.2 301 L408.9 303 L409.3 305 L408.5 307 L407.4 309 L406.5 311 L406.1 313 L405.5 315 L404.8 317 L404.4 319 L405.1 321 L406.9 323 L409.4 325 L411.2 327 L411.6 329 L410.8 331 L409.7 333 L408.9 335 L408.4 337 L407.9 339 L407.1 341 L406.7 343 L407.2 345 L409.1 347 L411.4 349 L413.1 351 L413.4 353 L412.5 355 L411.3 357 L410.4 359 L409.8 361 L409.1 363 L408.3 365 L407.7 367 L408.2 369 L410.0 371 L412.2 373 L413.9 375 L414.1 377 L413.2 379 L411.9 381 L411.0 383 L410.4 385 L409.7 387 L408.9 389 L408.4 391 L408.9 393 L410.6 395 L412.9 397 L414.5 399 L414.8 401 L413.9 403 L412.6 405 L411.7 407 L411.1 409 L410.4 411 L409.6 413 L409.1 415 L409.6 417 L411.3 419 L413.6 421 L415.2 423 L415.4 425 L414.5 427 L413.2 429 L412.2 431 L411.5 433 L410.8 435 L409.9 437 L409.3 439 L409.7 441 L411.4 443 L413.5 445 L415.0 447 L415.2 449 L414.2 451 L412.8 453 L411.7 455 L411.0 457 L410.3 459 L409.3 461" stroke="#fff" stroke-opacity="0.120" stroke-width="8" fill="none"/>
<path d="M419.9 37 L418.9 39 L418.0 41 L417.3 43 L417.5 45 L418.6 47 L420.5 49 L422.1 51 L422.9 53 L422.5 55 L421.4 57 L420.2 59 L419.2 61 L418.3 63 L417.4 65 L416.8 67 L416.9 69 L418.1 71 L420.0 73 L421.8 75 L422.7 77 L422.4 79 L421.4 81 L420.3 83 L419.4 85 L418.6 87 L417.8 89 L417.2 91 L417.4 93 L418.6 95 L420.5 97 L422.4 99 L423.3 101 L423.1 103 L422.2 105 L421.0 107 L420.1 109 L419.2 111 L418.3 113 L417.7 115 L417.8 117 L418.8 119 L420.7 121 L422.4 123 L423.4 125 L423.1 127 L422.1 129 L420.8 131 L419.8 133 L418.8 135 L417.9 137 L417.2 139 L417.1 141 L418.1 143 L419.9 145 L421.7 147 L422.7 149 L422.5 151 L421.5 153 L420.3 155 L419.3 157 L418.4 159 L417.5 161 L416.9 163 L416.9 165 L417.9 167 L419.8 169 L421.7 171 L422.8 173 L422.7 175 L421.8 177 L420.7 179 L419.7 181 L418.9 183 L418.2 185 L417.5 187 L417.5 189 L418.5 191 L420.4 193 L422.3 195 L423.4 197 L423.4 199 L422.4 201 L421.2 203 L420.2 205 L419.3 207 L418.5 209 L417.7 211 L417.6 213 L418.4 215 L420.2 217 L422.0 219 L423.1 221 L423.0 223 L422.0 225 L420.7 227 L419.7 229 L418.8 231 L417.9 233 L417.1 235 L416.9 237 L417.7 239 L419.4 241 L421.4 243 L422.5 245 L422.5 247 L421.6 249 L420.4 251 L419.4 253 L418.6 255 L417.8 257 L417.1 259 L416.9 261 L417.8 263 L419.6 265 L421.7 267 L423.0 269 L423.1 271 L422.2 273 L421.1 275 L420.1 277 L419.4 279 L418.7 281 L418.0 283 L417.8 285 L418.7 287 L420.5 289 L422.6 291 L424.0 293 L424.1 295 L423.3 297 L422.1 299 L421.2 301 L420.4 303 L419.7 305 L419.0 307 L418.7 309 L419.5 311 L421.3 313 L423.4 315 L424.8 317 L425.0 319 L424.2 321 L423.0 323 L422.1 325 L421.4 327 L420.7 329 L420.0 331 L419.8 333 L420.6 335 L422.5 337 L424.7 339 L426.2 341 L426.6 343 L425.9 345 L424.8 347 L424.0 349 L423.3 351 L422.7 353 L422.1 355 L422.0 357 L422.8 359 L424.6 361 L426.8 363 L428.5 365 L428.8 367 L428.2 369 L427.1 371 L426.1 373 L425.4 375 L424.8 377 L424.1 379 L423.7 381 L424.4 383 L426.0 385 L428.1 387 L429.6 389 L429.9 391 L429.0 393 L427.8 395 L426.6 397 L425.8 399 L424.9 401 L424.1 403 L423.6 405 L424.0 407 L425.6 409 L427.6 411 L429.0 413 L429.3 415 L428.5 417 L427.2 419 L426.1 421 L425.3 423 L424.5 425 L423.7 427 L423.2 429 L423.7 431 L425.3 433 L427.4 435 L429.1 437 L429.5 439 L428.8 441 L427.6 443 L426.5 445 L425.8 447 L425.1 449 L424.4 451 L423.9 453 L424.4 455 L426.0 457 L428.1 459 L429.8 461" stroke="#fff" stroke-opacity="0.120" stroke-width="8" fill="none"/>
<path d="M437.4 37 L438.4 39 L437.8 41 L436.5 43 L435.3 45 L434.5 47 L433.9 49 L432.9 51 L431.9 53 L431.6 55 L432.9 57 L435.1 59 L437.1 61 L437.9 63 L437.2 65 L435.9 67 L434.8 69 L434.2 71 L433.5 73 L432.6 75 L431.8 77 L432.0 79 L433.6 81 L435.9 83 L437.8 85 L438.3 87 L437.5 89 L436.2 91 L435.2 93 L434.6 95 L434.0 97 L433.1 99 L432.5 101 L432.9 103 L434.6 105 L436.9 107 L438.5 109 L438.6 111 L437.6 113 L436.2 115 L435.2 117 L434.5 119 L433.7 121 L432.7 123 L432.3 125 L432.9 127 L434.7 129 L436.8 131 L438.0 133 L437.9 135 L436.7 137 L435.4 139 L434.4 141 L433.6 143 L432.8 145 L431.9 147 L431.7 149 L432.7 151 L434.7 153 L436.7 155 L437.8 157 L437.4 159 L436.3 161 L435.1 163 L434.2 165 L433.5 167 L432.7 169 L432.1 171 L432.3 173 L433.6 175 L435.7 177 L437.6 179 L438.4 181 L437.9 183 L436.7 185 L435.6 187 L434.7 189 L433.9 191 L433.1 193 L432.6 195 L433.0 197 L434.5 199 L436.5 201 L438.1 203 L438.5 205 L437.7 207 L436.5 209 L435.3 211 L434.4 213 L433.4 215 L432.5 217 L432.2 219 L432.8 221 L434.4 223 L436.3 225 L437.6 227 L437.7 229 L436.8 231 L435.6 233 L434.5 235 L433.6 237 L432.6 239 L431.8 241 L431.8 243 L432.8 245 L434.6 247 L436.5 249 L437.6 251 L437.5 253 L436.7 255 L435.6 257 L434.6 259 L433.7 261 L432.8 263 L432.2 265 L432.5 267 L433.8 269 L435.8 271 L437.5 273 L438.3 275 L438.0 277 L437.2 279 L436.2 281 L435.2 283 L434.3 285 L433.3 287 L432.9 289 L433.4 291 L435.0 293 L437.0 295 L438.5 297 L439.0 299 L438.5 301 L437.6 303 L436.7 305 L435.7 307 L434.7 309 L433.8 311 L433.5 313 L434.4 315 L436.2 317 L438.2 319 L439.5 321 L439.8 323 L439.3 325 L438.4 327 L437.6 329 L436.8 331 L435.8 333 L435.0 335 L435.1 337 L436.3 339 L438.4 341 L440.4 343 L441.6 345 L441.7 347 L441.1 349 L440.4 351 L439.7 353 L438.8 355 L437.8 357 L437.2 359 L437.5 361 L439.0 363 L441.2 365 L443.0 367 L443.8 369 L443.6 371 L442.9 373 L442.1 375 L441.4 377 L440.3 379 L439.1 381 L438.4 383 L438.9 385 L440.5 387 L442.6 389 L444.1 391 L444.4 393 L443.8 395 L442.9 397 L442.1 399 L441.1 401 L439.9 403 L438.6 405 L438.0 407 L438.7 409 L440.5 411 L442.5 413 L443.8 415 L443.8 417 L443.1 419 L442.3 421 L441.6 423 L440.7 425 L439.5 427 L438.3 429 L438.0 431 L439.1 433 L441.2 435 L443.3 437 L444.3 439 L444.2 441 L443.4 443 L442.7 445 L442.1 447 L441.2 449 L440.0 451 L438.9 453 L438.8 455 L440.1 457 L442.4 459 L444.3 461" stroke="#fff" stroke-opacity="0.120" stroke-width="8" fill="none"/>
<path d="M449.5 37 L448.4 39 L447.3 41 L446.7 43 L447.0 45 L448.3 47 L450.2 49 L451.7 51 L452.4 53 L452.2 55 L451.4 57 L450.4 59 L449.4 61 L448.5 63 L447.5 65 L446.9 67 L447.0 69 L448.1 71 L449.9 73 L451.7 75 L452.8 77 L452.9 79 L452.2 81 L451.2 83 L450.3 85 L449.4 87 L448.5 89 L447.7 91 L447.6 93 L448.3 95 L449.9 97 L451.8 99 L453.1 101 L453.4 103 L452.8 105 L451.7 107 L450.5 109 L449.6 111 L448.6 113 L447.8 115 L447.3 117 L447.6 119 L449.0 121 L450.8 123 L452.4 125 L452.9 127 L452.4 129 L451.3 131 L450.1 133 L449.1 135 L448.3 137 L447.4 139 L446.8 141 L446.9 143 L448.0 145 L449.9 147 L451.8 149 L452.7 151 L452.5 153 L451.5 155 L450.4 157 L449.5 159 L448.8 161 L448.0 163 L447.4 165 L447.2 167 L448.1 169 L450.0 171 L452.0 173 L453.3 175 L453.4 177 L452.4 179 L451.2 181 L450.3 183 L449.6 185 L448.8 187 L448.0 189 L447.6 191 L448.1 193 L449.7 195 L451.7 197 L453.2 199 L453.5 201 L452.6 203 L451.2 205 L450.1 207 L449.4 209 L448.6 211 L447.7 213 L447.0 215 L447.1 217 L448.5 219 L450.6 221 L452.3 223 L452.9 225 L452.2 227 L450.9 229 L449.8 231 L449.1 233 L448.5 235 L447.6 237 L446.8 239 L446.7 241 L447.9 243 L450.1 245 L452.2 247 L453.1 249 L452.7 251 L451.5 253 L450.4 255 L449.8 257 L449.3 259 L448.5 261 L447.6 263 L447.3 265 L448.2 267 L450.2 269 L452.4 271 L453.7 273 L453.5 275 L452.4 277 L451.2 279 L450.5 281 L450.0 283 L449.2 285 L448.2 287 L447.5 289 L448.1 291 L450.0 293 L452.3 295 L453.9 297 L454.0 299 L453.0 301 L451.8 303 L451.1 305 L450.6 307 L450.0 309 L449.0 311 L448.2 313 L448.5 315 L450.3 317 L452.7 319 L454.7 321 L455.2 323 L454.5 325 L453.4 327 L452.7 329 L452.4 331 L451.9 333 L451.0 335 L450.2 337 L450.3 339 L451.9 341 L454.4 343 L456.6 345 L457.5 347 L457.1 349 L456.1 351 L455.3 353 L455.0 355 L454.6 357 L453.7 359 L452.7 361 L452.4 363 L453.6 365 L455.9 367 L458.2 369 L459.3 371 L459.0 373 L457.9 375 L457.0 377 L456.4 379 L455.9 381 L454.9 383 L453.7 385 L453.0 387 L453.8 389 L455.8 391 L458.0 393 L459.3 395 L459.2 397 L458.1 399 L457.1 401 L456.4 403 L455.9 405 L454.9 407 L453.6 409 L452.8 411 L453.2 413 L455.0 415 L457.4 417 L459.0 419 L459.2 421 L458.5 423 L457.5 425 L456.9 427 L456.4 429 L455.6 431 L454.4 433 L453.4 435 L453.6 437 L455.2 439 L457.6 441 L459.4 443 L460.0 445 L459.4 447 L458.5 449 L457.7 451 L457.2 453 L456.4 455 L455.1 457 L454.0 459 L453.8 461" stroke="#fff" stroke-opacity="0.116" stroke-width="8" fill="none"/>
<path d="M464.1 37 L466.1 39 L467.6 41 L467.8 43 L466.9 45 L465.6 47 L464.5 49 L463.8 51 L463.0 53 L462.2 55 L461.7 57 L462.2 59 L463.8 61 L466.0 63 L467.6 65 L468.0 67 L467.3 69 L466.1 71 L465.1 73 L464.4 75 L463.7 77 L462.9 79 L462.4 81 L462.8 83 L464.3 85 L466.4 87 L468.2 89 L468.7 91 L467.9 93 L466.7 95 L465.6 97 L464.8 99 L464.1 101 L463.2 103 L462.5 105 L462.6 107 L464.0 109 L466.0 111 L467.8 113 L468.3 115 L467.6 117 L466.2 119 L465.1 121 L464.3 123 L463.5 125 L462.6 127 L461.8 129 L461.9 131 L463.1 133 L465.2 135 L467.1 137 L467.8 139 L467.2 141 L466.0 143 L464.9 145 L464.1 147 L463.5 149 L462.7 151 L462.0 153 L462.0 155 L463.2 157 L465.4 159 L467.4 161 L468.4 163 L467.9 165 L466.7 167 L465.6 169 L464.9 171 L464.3 173 L463.5 175 L462.7 177 L462.5 179 L463.6 181 L465.7 183 L467.8 185 L468.7 187 L468.3 189 L467.0 191 L465.8 193 L465.0 195 L464.3 197 L463.4 199 L462.5 201 L462.1 203 L463.0 205 L465.0 207 L467.1 209 L468.1 211 L467.7 213 L466.4 215 L465.2 217 L464.4 219 L463.7 221 L462.9 223 L461.9 225 L461.5 227 L462.4 229 L464.4 231 L466.6 233 L467.9 235 L467.7 237 L466.5 239 L465.3 241 L464.6 243 L464.1 245 L463.3 247 L462.4 249 L462.0 251 L462.8 253 L464.8 255 L467.1 257 L468.5 259 L468.4 261 L467.3 263 L466.1 265 L465.3 267 L464.7 269 L464.0 271 L463.0 273 L462.4 275 L463.0 277 L464.9 279 L467.2 281 L468.7 283 L468.7 285 L467.6 287 L466.3 289 L465.5 291 L465.0 293 L464.3 295 L463.3 297 L462.6 299 L463.2 301 L465.0 303 L467.4 305 L469.0 307 L469.2 309 L468.3 311 L467.1 313 L466.4 315 L466.0 317 L465.4 319 L464.5 321 L463.9 323 L464.4 325 L466.4 327 L468.9 329 L470.8 331 L471.2 333 L470.4 335 L469.3 337 L468.6 339 L468.3 341 L467.8 343 L467.0 345 L466.3 347 L466.8 349 L468.6 351 L471.1 353 L473.1 355 L473.5 357 L472.7 359 L471.6 361 L470.8 363 L470.4 365 L469.8 367 L468.8 369 L468.0 371 L468.2 373 L469.8 375 L472.2 377 L474.0 379 L474.5 381 L473.6 383 L472.3 385 L471.4 387 L470.9 389 L470.2 391 L469.1 393 L468.1 395 L468.1 397 L469.6 399 L471.9 401 L473.8 403 L474.3 405 L473.6 407 L472.3 409 L471.4 411 L470.9 413 L470.3 415 L469.3 417 L468.3 419 L468.2 421 L469.7 423 L472.0 425 L474.1 427 L474.9 429 L474.2 431 L473.0 433 L472.1 435 L471.7 437 L471.1 439 L470.1 441 L469.0 443 L468.8 445 L470.1 447 L472.4 449 L474.5 451 L475.3 453 L474.7 455 L473.4 457 L472.4 459 L471.8 461" stroke="#fff" stroke-opacity="0.108" stroke-width="8" fill="none"/>
<path d="M478.3 37 L477.4 39 L476.6 41 L476.0 43 L476.2 45 L477.5 47 L479.5 49 L481.3 51 L482.1 53 L481.8 55 L480.8 57 L479.8 59 L478.8 61 L477.9 63 L477.0 65 L476.5 67 L477.0 69 L478.5 71 L480.5 73 L482.0 75 L482.4 77 L481.8 79 L480.8 81 L479.7 83 L478.6 85 L477.5 87 L476.6 89 L476.2 91 L476.9 93 L478.5 95 L480.4 97 L481.6 99 L481.7 101 L480.9 103 L479.9 105 L478.8 107 L477.7 109 L476.6 111 L475.8 113 L475.7 115 L476.7 117 L478.6 119 L480.4 121 L481.4 123 L481.3 125 L480.6 127 L479.7 129 L478.7 131 L477.7 133 L476.7 135 L476.0 137 L476.2 139 L477.6 141 L479.7 143 L481.4 145 L482.1 147 L481.8 149 L481.0 151 L480.1 153 L479.2 155 L478.1 157 L477.0 159 L476.4 161 L476.9 163 L478.4 165 L480.4 167 L481.8 169 L482.2 171 L481.6 173 L480.7 175 L479.8 177 L478.8 179 L477.5 181 L476.3 183 L475.8 185 L476.5 187 L478.3 189 L480.3 191 L481.4 193 L481.4 195 L480.7 197 L479.8 199 L479.0 201 L478.0 203 L476.8 205 L475.7 207 L475.4 209 L476.5 211 L478.6 213 L480.5 215 L481.5 217 L481.3 219 L480.6 221 L479.8 223 L479.2 225 L478.2 227 L477.0 229 L476.0 231 L476.1 233 L477.5 235 L479.7 237 L481.6 239 L482.3 241 L481.8 243 L481.0 245 L480.2 247 L479.5 249 L478.5 251 L477.2 253 L476.2 255 L476.5 257 L478.1 259 L480.3 261 L481.9 263 L482.1 265 L481.4 267 L480.4 269 L479.7 271 L478.9 273 L477.8 275 L476.4 277 L475.6 279 L476.2 281 L478.1 283 L480.3 285 L481.7 287 L481.8 289 L481.0 291 L480.2 293 L479.6 295 L479.0 297 L478.0 299 L476.8 301 L476.4 303 L477.4 305 L479.7 307 L482.1 309 L483.4 311 L483.3 313 L482.5 315 L481.8 317 L481.4 319 L480.9 321 L479.9 323 L478.8 325 L478.7 327 L480.1 329 L482.5 331 L484.8 333 L485.8 335 L485.4 337 L484.5 339 L483.8 341 L483.4 343 L482.7 345 L481.6 347 L480.6 349 L480.6 351 L482.1 353 L484.6 355 L486.6 357 L487.2 359 L486.5 361 L485.4 363 L484.7 365 L484.2 367 L483.5 369 L482.2 371 L481.3 373 L481.5 375 L483.3 377 L485.8 379 L487.6 381 L487.9 383 L487.0 385 L485.9 387 L485.2 389 L484.8 391 L484.0 393 L482.8 395 L482.0 397 L482.5 399 L484.6 401 L487.0 403 L488.6 405 L488.6 407 L487.5 409 L486.5 411 L485.8 413 L485.3 415 L484.5 417 L483.3 419 L482.7 421 L483.5 423 L485.7 425 L488.0 427 L489.2 429 L488.9 431 L487.6 433 L486.5 435 L485.8 437 L485.2 439 L484.2 441 L483.0 443 L482.5 445 L483.6 447 L485.8 449 L487.9 451 L488.8 453 L488.2 455 L486.8 457 L485.7 459 L485.1 461" stroke="#fff" stroke-opacity="0.090" stroke-width="8" fill="none"/>
</g>
<g filter="url(#bl1)">
<path d="M389.0 37 L387.8 39 L386.8 41 L386.6 43 L387.8 45 L389.9 47 L391.9 49 L392.8 51 L392.5 53 L391.6 55 L390.8 57 L390.1 59 L389.1 61 L387.7 63 L386.7 65 L386.9 67 L388.4 69 L390.7 71 L392.3 73 L392.6 75 L391.8 77 L390.8 79 L390.0 81 L389.3 83 L388.1 85 L386.7 87 L385.9 89 L386.5 91 L388.5 93 L390.8 95 L392.0 97 L391.9 99 L390.9 101 L390.0 103 L389.4 105 L388.7 107 L387.5 109 L386.2 111 L385.9 113 L387.1 115 L389.5 117 L391.6 119 L392.5 121 L392.0 123 L391.0 125 L390.2 127 L389.7 129 L388.9 131 L387.7 133 L386.7 135 L386.8 137 L388.4 139 L390.9 141 L392.8 143 L393.1 145 L392.2 147 L391.0 149 L390.2 151 L389.6 153 L388.7 155 L387.4 157 L386.5 159 L387.0 161 L389.0 163 L391.3 165 L392.7 167 L392.5 169 L391.3 171 L390.0 173 L389.3 175 L388.7 177 L387.7 179 L386.4 181 L385.9 183 L386.9 185 L389.2 187 L391.4 189 L392.4 191 L391.8 193 L390.5 195 L389.4 197 L388.8 199 L388.2 201 L387.3 203 L386.3 205 L386.4 207 L387.9 209 L390.3 211 L392.3 213 L392.9 215 L392.0 217 L390.7 219 L389.8 221 L389.2 223 L388.5 225 L387.6 227 L386.9 229 L387.4 231 L389.2 233 L391.6 235 L393.1 237 L393.1 239 L391.9 241 L390.6 243 L389.6 245 L388.9 247 L388.1 249 L387.1 251 L386.7 253 L387.6 255 L389.6 257 L391.7 259 L392.6 261 L392.2 263 L390.9 265 L389.6 267 L388.7 269 L387.9 271 L387.0 273 L386.3 275 L386.5 277 L387.9 279 L390.1 281 L391.9 283 L392.5 285 L391.9 287 L390.7 289 L389.7 291 L389.0 293 L388.3 295 L387.6 297 L387.4 299 L388.2 301 L390.2 303 L392.4 305 L393.9 307 L394.1 309 L393.4 311 L392.3 313 L391.5 315 L390.7 317 L390.0 319 L389.4 321 L389.6 323 L390.9 325 L393.0 327 L394.9 329 L395.9 331 L395.7 333 L394.8 335 L393.7 337 L392.8 339 L391.9 341 L391.0 343 L390.7 345 L391.3 347 L392.9 349 L394.9 351 L396.4 353 L396.9 355 L396.3 357 L395.4 359 L394.5 361 L393.5 363 L392.5 365 L391.7 367 L391.7 369 L392.9 371 L394.8 373 L396.8 375 L397.9 377 L397.9 379 L397.2 381 L396.4 383 L395.6 385 L394.6 387 L393.5 389 L392.9 391 L393.3 393 L394.9 395 L397.0 397 L398.6 399 L399.1 401 L398.7 403 L397.9 405 L397.1 407 L396.1 409 L395.0 411 L393.8 413 L393.3 415 L394.1 417 L395.9 419 L397.9 421 L399.1 423 L399.0 425 L398.2 427 L397.3 429 L396.5 431 L395.5 433 L394.2 435 L393.0 437 L392.8 439 L394.0 441 L396.1 443 L398.0 445 L398.6 447 L398.2 449 L397.2 451 L396.4 453 L395.7 455 L394.7 457 L393.4 459 L392.4 461" stroke="url(#hl2_0)" stroke-opacity="0.842" stroke-width="4.8" fill="none"/>
<path d="M406.2 37 L407.9 39 L408.2 41 L407.3 43 L406.1 45 L405.1 47 L404.5 49 L403.9 51 L403.0 53 L402.4 55 L402.8 57 L404.5 59 L406.8 61 L408.5 63 L408.9 65 L408.0 67 L406.7 69 L405.7 71 L405.1 73 L404.4 75 L403.5 77 L402.8 79 L403.1 81 L404.7 83 L406.9 85 L408.6 87 L408.8 89 L407.8 91 L406.4 93 L405.4 95 L404.6 97 L403.9 99 L402.9 101 L402.2 103 L402.5 105 L404.1 107 L406.3 109 L407.9 111 L408.1 113 L407.2 115 L405.8 117 L404.8 119 L404.2 121 L403.5 123 L402.6 125 L402.0 127 L402.4 129 L404.1 131 L406.3 133 L408.0 135 L408.4 137 L407.5 139 L406.2 141 L405.3 143 L404.7 145 L404.1 147 L403.2 149 L402.6 151 L403.1 153 L404.8 155 L407.0 157 L408.7 159 L409.0 161 L408.0 163 L406.7 165 L405.7 167 L405.0 169 L404.3 171 L403.4 173 L402.7 175 L403.0 177 L404.6 179 L406.8 181 L408.4 183 L408.6 185 L407.6 187 L406.2 189 L405.1 191 L404.4 193 L403.6 195 L402.7 197 L402.0 199 L402.4 201 L404.0 203 L406.2 205 L407.8 207 L408.1 209 L407.1 211 L405.8 213 L404.9 215 L404.2 217 L403.6 219 L402.7 221 L402.1 223 L402.6 225 L404.3 227 L406.6 229 L408.3 231 L408.6 233 L407.7 235 L406.5 237 L405.5 239 L404.9 241 L404.2 243 L403.4 245 L402.8 247 L403.2 249 L404.9 251 L407.1 253 L408.7 255 L409.0 257 L408.0 259 L406.6 261 L405.6 263 L404.9 265 L404.1 267 L403.2 269 L402.5 271 L402.9 273 L404.5 275 L406.7 277 L408.3 279 L408.5 281 L407.5 283 L406.2 285 L405.2 287 L404.6 289 L403.9 291 L403.1 293 L402.6 295 L403.1 297 L404.8 299 L407.2 301 L408.9 303 L409.3 305 L408.5 307 L407.4 309 L406.5 311 L406.1 313 L405.5 315 L404.8 317 L404.4 319 L405.1 321 L406.9 323 L409.4 325 L411.2 327 L411.6 329 L410.8 331 L409.7 333 L408.9 335 L408.4 337 L407.9 339 L407.1 341 L406.7 343 L407.2 345 L409.1 347 L411.4 349 L413.1 351 L413.4 353 L412.5 355 L411.3 357 L410.4 359 L409.8 361 L409.1 363 L408.3 365 L407.7 367 L408.2 369 L410.0 371 L412.2 373 L413.9 375 L414.1 377 L413.2 379 L411.9 381 L411.0 383 L410.4 385 L409.7 387 L408.9 389 L408.4 391 L408.9 393 L410.6 395 L412.9 397 L414.5 399 L414.8 401 L413.9 403 L412.6 405 L411.7 407 L411.1 409 L410.4 411 L409.6 413 L409.1 415 L409.6 417 L411.3 419 L413.6 421 L415.2 423 L415.4 425 L414.5 427 L413.2 429 L412.2 431 L411.5 433 L410.8 435 L409.9 437 L409.3 439 L409.7 441 L411.4 443 L413.5 445 L415.0 447 L415.2 449 L414.2 451 L412.8 453 L411.7 455 L411.0 457 L410.3 459 L409.3 461" stroke="url(#hl2_1)" stroke-opacity="0.842" stroke-width="4.8" fill="none"/>
<path d="M419.9 37 L418.9 39 L418.0 41 L417.3 43 L417.5 45 L418.6 47 L420.5 49 L422.1 51 L422.9 53 L422.5 55 L421.4 57 L420.2 59 L419.2 61 L418.3 63 L417.4 65 L416.8 67 L416.9 69 L418.1 71 L420.0 73 L421.8 75 L422.7 77 L422.4 79 L421.4 81 L420.3 83 L419.4 85 L418.6 87 L417.8 89 L417.2 91 L417.4 93 L418.6 95 L420.5 97 L422.4 99 L423.3 101 L423.1 103 L422.2 105 L421.0 107 L420.1 109 L419.2 111 L418.3 113 L417.7 115 L417.8 117 L418.8 119 L420.7 121 L422.4 123 L423.4 125 L423.1 127 L422.1 129 L420.8 131 L419.8 133 L418.8 135 L417.9 137 L417.2 139 L417.1 141 L418.1 143 L419.9 145 L421.7 147 L422.7 149 L422.5 151 L421.5 153 L420.3 155 L419.3 157 L418.4 159 L417.5 161 L416.9 163 L416.9 165 L417.9 167 L419.8 169 L421.7 171 L422.8 173 L422.7 175 L421.8 177 L420.7 179 L419.7 181 L418.9 183 L418.2 185 L417.5 187 L417.5 189 L418.5 191 L420.4 193 L422.3 195 L423.4 197 L423.4 199 L422.4 201 L421.2 203 L420.2 205 L419.3 207 L418.5 209 L417.7 211 L417.6 213 L418.4 215 L420.2 217 L422.0 219 L423.1 221 L423.0 223 L422.0 225 L420.7 227 L419.7 229 L418.8 231 L417.9 233 L417.1 235 L416.9 237 L417.7 239 L419.4 241 L421.4 243 L422.5 245 L422.5 247 L421.6 249 L420.4 251 L419.4 253 L418.6 255 L417.8 257 L417.1 259 L416.9 261 L417.8 263 L419.6 265 L421.7 267 L423.0 269 L423.1 271 L422.2 273 L421.1 275 L420.1 277 L419.4 279 L418.7 281 L418.0 283 L417.8 285 L418.7 287 L420.5 289 L422.6 291 L424.0 293 L424.1 295 L423.3 297 L422.1 299 L421.2 301 L420.4 303 L419.7 305 L419.0 307 L418.7 309 L419.5 311 L421.3 313 L423.4 315 L424.8 317 L425.0 319 L424.2 321 L423.0 323 L422.1 325 L421.4 327 L420.7 329 L420.0 331 L419.8 333 L420.6 335 L422.5 337 L424.7 339 L426.2 341 L426.6 343 L425.9 345 L424.8 347 L424.0 349 L423.3 351 L422.7 353 L422.1 355 L422.0 357 L422.8 359 L424.6 361 L426.8 363 L428.5 365 L428.8 367 L428.2 369 L427.1 371 L426.1 373 L425.4 375 L424.8 377 L424.1 379 L423.7 381 L424.4 383 L426.0 385 L428.1 387 L429.6 389 L429.9 391 L429.0 393 L427.8 395 L426.6 397 L425.8 399 L424.9 401 L424.1 403 L423.6 405 L424.0 407 L425.6 409 L427.6 411 L429.0 413 L429.3 415 L428.5 417 L427.2 419 L426.1 421 L425.3 423 L424.5 425 L423.7 427 L423.2 429 L423.7 431 L425.3 433 L427.4 435 L429.1 437 L429.5 439 L428.8 441 L427.6 443 L426.5 445 L425.8 447 L425.1 449 L424.4 451 L423.9 453 L424.4 455 L426.0 457 L428.1 459 L429.8 461" stroke="url(#hl2_2)" stroke-opacity="0.842" stroke-width="4.8" fill="none"/>
<path d="M437.4 37 L438.4 39 L437.8 41 L436.5 43 L435.3 45 L434.5 47 L433.9 49 L432.9 51 L431.9 53 L431.6 55 L432.9 57 L435.1 59 L437.1 61 L437.9 63 L437.2 65 L435.9 67 L434.8 69 L434.2 71 L433.5 73 L432.6 75 L431.8 77 L432.0 79 L433.6 81 L435.9 83 L437.8 85 L438.3 87 L437.5 89 L436.2 91 L435.2 93 L434.6 95 L434.0 97 L433.1 99 L432.5 101 L432.9 103 L434.6 105 L436.9 107 L438.5 109 L438.6 111 L437.6 113 L436.2 115 L435.2 117 L434.5 119 L433.7 121 L432.7 123 L432.3 125 L432.9 127 L434.7 129 L436.8 131 L438.0 133 L437.9 135 L436.7 137 L435.4 139 L434.4 141 L433.6 143 L432.8 145 L431.9 147 L431.7 149 L432.7 151 L434.7 153 L436.7 155 L437.8 157 L437.4 159 L436.3 161 L435.1 163 L434.2 165 L433.5 167 L432.7 169 L432.1 171 L432.3 173 L433.6 175 L435.7 177 L437.6 179 L438.4 181 L437.9 183 L436.7 185 L435.6 187 L434.7 189 L433.9 191 L433.1 193 L432.6 195 L433.0 197 L434.5 199 L436.5 201 L438.1 203 L438.5 205 L437.7 207 L436.5 209 L435.3 211 L434.4 213 L433.4 215 L432.5 217 L432.2 219 L432.8 221 L434.4 223 L436.3 225 L437.6 227 L437.7 229 L436.8 231 L435.6 233 L434.5 235 L433.6 237 L432.6 239 L431.8 241 L431.8 243 L432.8 245 L434.6 247 L436.5 249 L437.6 251 L437.5 253 L436.7 255 L435.6 257 L434.6 259 L433.7 261 L432.8 263 L432.2 265 L432.5 267 L433.8 269 L435.8 271 L437.5 273 L438.3 275 L438.0 277 L437.2 279 L436.2 281 L435.2 283 L434.3 285 L433.3 287 L432.9 289 L433.4 291 L435.0 293 L437.0 295 L438.5 297 L439.0 299 L438.5 301 L437.6 303 L436.7 305 L435.7 307 L434.7 309 L433.8 311 L433.5 313 L434.4 315 L436.2 317 L438.2 319 L439.5 321 L439.8 323 L439.3 325 L438.4 327 L437.6 329 L436.8 331 L435.8 333 L435.0 335 L435.1 337 L436.3 339 L438.4 341 L440.4 343 L441.6 345 L441.7 347 L441.1 349 L440.4 351 L439.7 353 L438.8 355 L437.8 357 L437.2 359 L437.5 361 L439.0 363 L441.2 365 L443.0 367 L443.8 369 L443.6 371 L442.9 373 L442.1 375 L441.4 377 L440.3 379 L439.1 381 L438.4 383 L438.9 385 L440.5 387 L442.6 389 L444.1 391 L444.4 393 L443.8 395 L442.9 397 L442.1 399 L441.1 401 L439.9 403 L438.6 405 L438.0 407 L438.7 409 L440.5 411 L442.5 413 L443.8 415 L443.8 417 L443.1 419 L442.3 421 L441.6 423 L440.7 425 L439.5 427 L438.3 429 L438.0 431 L439.1 433 L441.2 435 L443.3 437 L444.3 439 L444.2 441 L443.4 443 L442.7 445 L442.1 447 L441.2 449 L440.0 451 L438.9 453 L438.8 455 L440.1 457 L442.4 459 L444.3 461" stroke="url(#hl2_3)" stroke-opacity="0.842" stroke-width="4.8" fill="none"/>
<path d="M449.5 37 L448.4 39 L447.3 41 L446.7 43 L447.0 45 L448.3 47 L450.2 49 L451.7 51 L452.4 53 L452.2 55 L451.4 57 L450.4 59 L449.4 61 L448.5 63 L447.5 65 L446.9 67 L447.0 69 L448.1 71 L449.9 73 L451.7 75 L452.8 77 L452.9 79 L452.2 81 L451.2 83 L450.3 85 L449.4 87 L448.5 89 L447.7 91 L447.6 93 L448.3 95 L449.9 97 L451.8 99 L453.1 101 L453.4 103 L452.8 105 L451.7 107 L450.5 109 L449.6 111 L448.6 113 L447.8 115 L447.3 117 L447.6 119 L449.0 121 L450.8 123 L452.4 125 L452.9 127 L452.4 129 L451.3 131 L450.1 133 L449.1 135 L448.3 137 L447.4 139 L446.8 141 L446.9 143 L448.0 145 L449.9 147 L451.8 149 L452.7 151 L452.5 153 L451.5 155 L450.4 157 L449.5 159 L448.8 161 L448.0 163 L447.4 165 L447.2 167 L448.1 169 L450.0 171 L452.0 173 L453.3 175 L453.4 177 L452.4 179 L451.2 181 L450.3 183 L449.6 185 L448.8 187 L448.0 189 L447.6 191 L448.1 193 L449.7 195 L451.7 197 L453.2 199 L453.5 201 L452.6 203 L451.2 205 L450.1 207 L449.4 209 L448.6 211 L447.7 213 L447.0 215 L447.1 217 L448.5 219 L450.6 221 L452.3 223 L452.9 225 L452.2 227 L450.9 229 L449.8 231 L449.1 233 L448.5 235 L447.6 237 L446.8 239 L446.7 241 L447.9 243 L450.1 245 L452.2 247 L453.1 249 L452.7 251 L451.5 253 L450.4 255 L449.8 257 L449.3 259 L448.5 261 L447.6 263 L447.3 265 L448.2 267 L450.2 269 L452.4 271 L453.7 273 L453.5 275 L452.4 277 L451.2 279 L450.5 281 L450.0 283 L449.2 285 L448.2 287 L447.5 289 L448.1 291 L450.0 293 L452.3 295 L453.9 297 L454.0 299 L453.0 301 L451.8 303 L451.1 305 L450.6 307 L450.0 309 L449.0 311 L448.2 313 L448.5 315 L450.3 317 L452.7 319 L454.7 321 L455.2 323 L454.5 325 L453.4 327 L452.7 329 L452.4 331 L451.9 333 L451.0 335 L450.2 337 L450.3 339 L451.9 341 L454.4 343 L456.6 345 L457.5 347 L457.1 349 L456.1 351 L455.3 353 L455.0 355 L454.6 357 L453.7 359 L452.7 361 L452.4 363 L453.6 365 L455.9 367 L458.2 369 L459.3 371 L459.0 373 L457.9 375 L457.0 377 L456.4 379 L455.9 381 L454.9 383 L453.7 385 L453.0 387 L453.8 389 L455.8 391 L458.0 393 L459.3 395 L459.2 397 L458.1 399 L457.1 401 L456.4 403 L455.9 405 L454.9 407 L453.6 409 L452.8 411 L453.2 413 L455.0 415 L457.4 417 L459.0 419 L459.2 421 L458.5 423 L457.5 425 L456.9 427 L456.4 429 L455.6 431 L454.4 433 L453.4 435 L453.6 437 L455.2 439 L457.6 441 L459.4 443 L460.0 445 L459.4 447 L458.5 449 L457.7 451 L457.2 453 L456.4 455 L455.1 457 L454.0 459 L453.8 461" stroke="url(#hl2_4)" stroke-opacity="0.842" stroke-width="4.8" fill="none"/>
<path d="M464.1 37 L466.1 39 L467.6 41 L467.8 43 L466.9 45 L465.6 47 L464.5 49 L463.8 51 L463.0 53 L462.2 55 L461.7 57 L462.2 59 L463.8 61 L466.0 63 L467.6 65 L468.0 67 L467.3 69 L466.1 71 L465.1 73 L464.4 75 L463.7 77 L462.9 79 L462.4 81 L462.8 83 L464.3 85 L466.4 87 L468.2 89 L468.7 91 L467.9 93 L466.7 95 L465.6 97 L464.8 99 L464.1 101 L463.2 103 L462.5 105 L462.6 107 L464.0 109 L466.0 111 L467.8 113 L468.3 115 L467.6 117 L466.2 119 L465.1 121 L464.3 123 L463.5 125 L462.6 127 L461.8 129 L461.9 131 L463.1 133 L465.2 135 L467.1 137 L467.8 139 L467.2 141 L466.0 143 L464.9 145 L464.1 147 L463.5 149 L462.7 151 L462.0 153 L462.0 155 L463.2 157 L465.4 159 L467.4 161 L468.4 163 L467.9 165 L466.7 167 L465.6 169 L464.9 171 L464.3 173 L463.5 175 L462.7 177 L462.5 179 L463.6 181 L465.7 183 L467.8 185 L468.7 187 L468.3 189 L467.0 191 L465.8 193 L465.0 195 L464.3 197 L463.4 199 L462.5 201 L462.1 203 L463.0 205 L465.0 207 L467.1 209 L468.1 211 L467.7 213 L466.4 215 L465.2 217 L464.4 219 L463.7 221 L462.9 223 L461.9 225 L461.5 227 L462.4 229 L464.4 231 L466.6 233 L467.9 235 L467.7 237 L466.5 239 L465.3 241 L464.6 243 L464.1 245 L463.3 247 L462.4 249 L462.0 251 L462.8 253 L464.8 255 L467.1 257 L468.5 259 L468.4 261 L467.3 263 L466.1 265 L465.3 267 L464.7 269 L464.0 271 L463.0 273 L462.4 275 L463.0 277 L464.9 279 L467.2 281 L468.7 283 L468.7 285 L467.6 287 L466.3 289 L465.5 291 L465.0 293 L464.3 295 L463.3 297 L462.6 299 L463.2 301 L465.0 303 L467.4 305 L469.0 307 L469.2 309 L468.3 311 L467.1 313 L466.4 315 L466.0 317 L465.4 319 L464.5 321 L463.9 323 L464.4 325 L466.4 327 L468.9 329 L470.8 331 L471.2 333 L470.4 335 L469.3 337 L468.6 339 L468.3 341 L467.8 343 L467.0 345 L466.3 347 L466.8 349 L468.6 351 L471.1 353 L473.1 355 L473.5 357 L472.7 359 L471.6 361 L470.8 363 L470.4 365 L469.8 367 L468.8 369 L468.0 371 L468.2 373 L469.8 375 L472.2 377 L474.0 379 L474.5 381 L473.6 383 L472.3 385 L471.4 387 L470.9 389 L470.2 391 L469.1 393 L468.1 395 L468.1 397 L469.6 399 L471.9 401 L473.8 403 L474.3 405 L473.6 407 L472.3 409 L471.4 411 L470.9 413 L470.3 415 L469.3 417 L468.3 419 L468.2 421 L469.7 423 L472.0 425 L474.1 427 L474.9 429 L474.2 431 L473.0 433 L472.1 435 L471.7 437 L471.1 439 L470.1 441 L469.0 443 L468.8 445 L470.1 447 L472.4 449 L474.5 451 L475.3 453 L474.7 455 L473.4 457 L472.4 459 L471.8 461" stroke="url(#hl2_5)" stroke-opacity="0.842" stroke-width="4.8" fill="none"/>
<path d="M478.3 37 L477.4 39 L476.6 41 L476.0 43 L476.2 45 L477.5 47 L479.5 49 L481.3 51 L482.1 53 L481.8 55 L480.8 57 L479.8 59 L478.8 61 L477.9 63 L477.0 65 L476.5 67 L477.0 69 L478.5 71 L480.5 73 L482.0 75 L482.4 77 L481.8 79 L480.8 81 L479.7 83 L478.6 85 L477.5 87 L476.6 89 L476.2 91 L476.9 93 L478.5 95 L480.4 97 L481.6 99 L481.7 101 L480.9 103 L479.9 105 L478.8 107 L477.7 109 L476.6 111 L475.8 113 L475.7 115 L476.7 117 L478.6 119 L480.4 121 L481.4 123 L481.3 125 L480.6 127 L479.7 129 L478.7 131 L477.7 133 L476.7 135 L476.0 137 L476.2 139 L477.6 141 L479.7 143 L481.4 145 L482.1 147 L481.8 149 L481.0 151 L480.1 153 L479.2 155 L478.1 157 L477.0 159 L476.4 161 L476.9 163 L478.4 165 L480.4 167 L481.8 169 L482.2 171 L481.6 173 L480.7 175 L479.8 177 L478.8 179 L477.5 181 L476.3 183 L475.8 185 L476.5 187 L478.3 189 L480.3 191 L481.4 193 L481.4 195 L480.7 197 L479.8 199 L479.0 201 L478.0 203 L476.8 205 L475.7 207 L475.4 209 L476.5 211 L478.6 213 L480.5 215 L481.5 217 L481.3 219 L480.6 221 L479.8 223 L479.2 225 L478.2 227 L477.0 229 L476.0 231 L476.1 233 L477.5 235 L479.7 237 L481.6 239 L482.3 241 L481.8 243 L481.0 245 L480.2 247 L479.5 249 L478.5 251 L477.2 253 L476.2 255 L476.5 257 L478.1 259 L480.3 261 L481.9 263 L482.1 265 L481.4 267 L480.4 269 L479.7 271 L478.9 273 L477.8 275 L476.4 277 L475.6 279 L476.2 281 L478.1 283 L480.3 285 L481.7 287 L481.8 289 L481.0 291 L480.2 293 L479.6 295 L479.0 297 L478.0 299 L476.8 301 L476.4 303 L477.4 305 L479.7 307 L482.1 309 L483.4 311 L483.3 313 L482.5 315 L481.8 317 L481.4 319 L480.9 321 L479.9 323 L478.8 325 L478.7 327 L480.1 329 L482.5 331 L484.8 333 L485.8 335 L485.4 337 L484.5 339 L483.8 341 L483.4 343 L482.7 345 L481.6 347 L480.6 349 L480.6 351 L482.1 353 L484.6 355 L486.6 357 L487.2 359 L486.5 361 L485.4 363 L484.7 365 L484.2 367 L483.5 369 L482.2 371 L481.3 373 L481.5 375 L483.3 377 L485.8 379 L487.6 381 L487.9 383 L487.0 385 L485.9 387 L485.2 389 L484.8 391 L484.0 393 L482.8 395 L482.0 397 L482.5 399 L484.6 401 L487.0 403 L488.6 405 L488.6 407 L487.5 409 L486.5 411 L485.8 413 L485.3 415 L484.5 417 L483.3 419 L482.7 421 L483.5 423 L485.7 425 L488.0 427 L489.2 429 L488.9 431 L487.6 433 L486.5 435 L485.8 437 L485.2 439 L484.2 441 L483.0 443 L482.5 445 L483.6 447 L485.8 449 L487.9 451 L488.8 453 L488.2 455 L486.8 457 L485.7 459 L485.1 461" stroke="url(#hl2_6)" stroke-opacity="0.842" stroke-width="4.8" fill="none"/>
</g>
</g></g>
<rect x="372.2" y="47.2" width="135.3" height="405.6" fill="none" stroke="#262626" stroke-width="1.1"/>
<path d="M400 47.2v3.2M400 452.8v-3.2M439.7 47.2v3.2M439.7 452.8v-3.2M479.4 47.2v3.2M479.4 452.8v-3.2M372.2 452.8h3.2M507.5 452.8h-3.2M372.2 394.2h3.2M507.5 394.2h-3.2M372.2 335.6h3.2M507.5 335.6h-3.2M372.2 277h3.2M507.5 277h-3.2M372.2 218.4h3.2M507.5 218.4h-3.2M372.2 159.8h3.2M507.5 159.8h-3.2M372.2 101.2h3.2M507.5 101.2h-3.2" stroke="#262626" stroke-width="1.1" fill="none"/>
<g clip-path="url(#hc3)"><g filter="url(#cmap)">
<rect x="524.7" y="47.2" width="135.3" height="405.6" fill="url(#hbg3)"/>
<g filter="url(#bl3)">
<ellipse cx="533.7" cy="48.9" rx="4.7" ry="7.5" fill="#fff" fill-opacity="0.093"/>
<ellipse cx="535.1" cy="64.1" rx="3.9" ry="8.2" fill="#fff" fill-opacity="0.143"/>
<ellipse cx="534.0" cy="77.0" rx="3.6" ry="7.7" fill="#fff" fill-opacity="0.091"/>
<ellipse cx="534.6" cy="95.6" rx="5.5" ry="7.4" fill="#fff" fill-opacity="0.147"/>
<ellipse cx="536.5" cy="111.1" rx="4.8" ry="7.8" fill="#fff" fill-opacity="0.100"/>
<ellipse cx="533.7" cy="127.6" rx="3.5" ry="9.3" fill="#fff" fill-opacity="0.128"/>
<ellipse cx="535.6" cy="141.5" rx="5.3" ry="7.8" fill="#fff" fill-opacity="0.093"/>
<ellipse cx="533.9" cy="156.3" rx="4.2" ry="7.1" fill="#fff" fill-opacity="0.137"/>
<ellipse cx="534.9" cy="173.7" rx="4.3" ry="7.8" fill="#fff" fill-opacity="0.151"/>
<ellipse cx="536.3" cy="191.6" rx="3.8" ry="7.5" fill="#fff" fill-opacity="0.138"/>
<ellipse cx="536.5" cy="205.0" rx="4.3" ry="7.1" fill="#fff" fill-opacity="0.098"/>
<ellipse cx="534.6" cy="223.1" rx="4.8" ry="9.3" fill="#fff" fill-opacity="0.112"/>
<ellipse cx="537.3" cy="238.5" rx="5.0" ry="8.6" fill="#fff" fill-opacity="0.122"/>
<ellipse cx="535.2" cy="253.6" rx="4.8" ry="7.7" fill="#fff" fill-opacity="0.145"/>
<ellipse cx="534.2" cy="267.6" rx="5.4" ry="7.0" fill="#fff" fill-opacity="0.112"/>
<ellipse cx="535.2" cy="283.4" rx="5.2" ry="9.0" fill="#fff" fill-opacity="0.119"/>
<ellipse cx="537.9" cy="295.5" rx="4.2" ry="8.1" fill="#fff" fill-opacity="0.099"/>
<ellipse cx="533.5" cy="308.9" rx="3.8" ry="9.0" fill="#fff" fill-opacity="0.105"/>
<ellipse cx="536.3" cy="324.3" rx="3.6" ry="9.3" fill="#fff" fill-opacity="0.098"/>
<ellipse cx="537.5" cy="341.8" rx="4.4" ry="8.0" fill="#fff" fill-opacity="0.119"/>
<ellipse cx="537.9" cy="359.8" rx="4.9" ry="8.2" fill="#fff" fill-opacity="0.112"/>
<ellipse cx="534.7" cy="376.5" rx="5.1" ry="8.0" fill="#fff" fill-opacity="0.124"/>
<ellipse cx="535.7" cy="392.0" rx="5.2" ry="9.7" fill="#fff" fill-opacity="0.139"/>
<ellipse cx="535.0" cy="408.4" rx="4.3" ry="8.4" fill="#fff" fill-opacity="0.143"/>
<ellipse cx="533.5" cy="425.3" rx="4.0" ry="7.2" fill="#fff" fill-opacity="0.105"/>
<ellipse cx="536.2" cy="442.9" rx="3.5" ry="9.3" fill="#fff" fill-opacity="0.127"/>
<ellipse cx="533.2" cy="458.1" rx="3.5" ry="7.2" fill="#fff" fill-opacity="0.145"/>
<ellipse cx="645.3" cy="48.1" rx="4.5" ry="8.0" fill="#fff" fill-opacity="0.080"/>
<ellipse cx="641.4" cy="61.5" rx="5.1" ry="9.7" fill="#fff" fill-opacity="0.078"/>
<ellipse cx="645.6" cy="77.4" rx="3.5" ry="10.0" fill="#fff" fill-opacity="0.066"/>
<ellipse cx="641.6" cy="92.0" rx="3.9" ry="7.5" fill="#fff" fill-opacity="0.073"/>
<ellipse cx="644.4" cy="107.1" rx="4.5" ry="9.2" fill="#fff" fill-opacity="0.107"/>
<ellipse cx="643.1" cy="120.6" rx="4.7" ry="7.6" fill="#fff" fill-opacity="0.062"/>
<ellipse cx="643.8" cy="138.2" rx="4.2" ry="8.9" fill="#fff" fill-opacity="0.074"/>
<ellipse cx="642.0" cy="152.8" rx="4.4" ry="8.0" fill="#fff" fill-opacity="0.088"/>
<ellipse cx="645.2" cy="170.6" rx="4.8" ry="8.8" fill="#fff" fill-opacity="0.103"/>
<ellipse cx="646.0" cy="183.8" rx="3.8" ry="9.6" fill="#fff" fill-opacity="0.085"/>
<ellipse cx="646.2" cy="200.6" rx="3.6" ry="8.0" fill="#fff" fill-opacity="0.066"/>
<ellipse cx="642.5" cy="214.7" rx="4.8" ry="9.5" fill="#fff" fill-opacity="0.073"/>
<ellipse cx="641.9" cy="229.5" rx="3.7" ry="7.5" fill="#fff" fill-opacity="0.063"/>
<ellipse cx="642.7" cy="247.2" rx="4.9" ry="9.3" fill="#fff" fill-opacity="0.072"/>
<ellipse cx="644.4" cy="262.3" rx="4.4" ry="8.9" fill="#fff" fill-opacity="0.064"/>
<ellipse cx="646.2" cy="280.1" rx="5.4" ry="9.4" fill="#fff" fill-opacity="0.090"/>
<ellipse cx="641.8" cy="293.6" rx="4.4" ry="7.6" fill="#fff" fill-opacity="0.091"/>
<ellipse cx="642.6" cy="311.9" rx="4.7" ry="7.7" fill="#fff" fill-opacity="0.108"/>
<ellipse cx="644.3" cy="328.2" rx="4.5" ry="7.7" fill="#fff" fill-opacity="0.107"/>
<ellipse cx="646.1" cy="343.6" rx="5.0" ry="9.7" fill="#fff" fill-opacity="0.076"/>
<ellipse cx="644.3" cy="359.9" rx="3.6" ry="9.6" fill="#fff" fill-opacity="0.075"/>
<ellipse cx="641.3" cy="374.8" rx="4.3" ry="7.3" fill="#fff" fill-opacity="0.074"/>
<ellipse cx="642.2" cy="392.3" rx="5.0" ry="7.9" fill="#fff" fill-opacity="0.091"/>
<ellipse cx="642.5" cy="409.8" rx="3.8" ry="9.8" fill="#fff" fill-opacity="0.076"/>
<ellipse cx="642.5" cy="427.1" rx="5.4" ry="9.8" fill="#fff" fill-opacity="0.071"/>
<ellipse cx="642.2" cy="444.7" rx="5.2" ry="7.1" fill="#fff" fill-opacity="0.077"/>
<ellipse cx="645.6" cy="456.9" rx="4.1" ry="8.7" fill="#fff" fill-opacity="0.099"/>
<ellipse cx="618.7" cy="313.2" rx="4.7" ry="5.1" fill="#000" fill-opacity="0.044"/>
<ellipse cx="599.8" cy="377.5" rx="3.4" ry="6.8" fill="#000" fill-opacity="0.033"/>
<ellipse cx="560.0" cy="69.7" rx="3.3" ry="6.6" fill="#000" fill-opacity="0.069"/>
<ellipse cx="642.4" cy="266.4" rx="5.9" ry="4.0" fill="#000" fill-opacity="0.042"/>
<ellipse cx="526.7" cy="274.6" rx="5.7" ry="5.3" fill="#000" fill-opacity="0.052"/>
<ellipse cx="565.2" cy="187.8" rx="3.3" ry="6.5" fill="#000" fill-opacity="0.060"/>
<ellipse cx="639.8" cy="382.0" rx="5.1" ry="6.1" fill="#000" fill-opacity="0.064"/>
<ellipse cx="617.0" cy="331.6" rx="4.7" ry="7.7" fill="#000" fill-opacity="0.055"/>
<ellipse cx="642.3" cy="274.6" rx="3.5" ry="6.1" fill="#000" fill-opacity="0.065"/>
<ellipse cx="536.1" cy="439.7" rx="4.9" ry="5.8" fill="#000" fill-opacity="0.045"/>
<ellipse cx="599.4" cy="389.8" rx="4.6" ry="4.4" fill="#000" fill-opacity="0.045"/>
<ellipse cx="539.3" cy="329.2" rx="5.5" ry="5.5" fill="#000" fill-opacity="0.069"/>
<ellipse cx="646.2" cy="377.7" rx="5.1" ry="4.4" fill="#000" fill-opacity="0.032"/>
<ellipse cx="539.2" cy="109.0" rx="5.0" ry="7.4" fill="#000" fill-opacity="0.069"/>
<ellipse cx="592.6" cy="318.6" rx="3.7" ry="5.6" fill="#000" fill-opacity="0.058"/>
<ellipse cx="653.5" cy="334.6" rx="5.0" ry="7.0" fill="#000" fill-opacity="0.036"/>
<ellipse cx="560.4" cy="105.4" rx="6.0" ry="5.1" fill="#000" fill-opacity="0.036"/>
<ellipse cx="526.5" cy="150.9" rx="4.0" ry="5.1" fill="#000" fill-opacity="0.041"/>
<ellipse cx="539.3" cy="83.5" rx="3.4" ry="6.1" fill="#000" fill-opacity="0.057"/>
<ellipse cx="631.2" cy="284.6" rx="3.0" ry="4.1" fill="#000" fill-opacity="0.053"/>
<ellipse cx="571.9" cy="436.3" rx="4.9" ry="7.7" fill="#000" fill-opacity="0.038"/>
<ellipse cx="542.2" cy="116.8" rx="6.0" ry="6.3" fill="#000" fill-opacity="0.053"/>
<ellipse cx="615.2" cy="97.3" rx="4.4" ry="6.2" fill="#000" fill-opacity="0.034"/>
<ellipse cx="546.4" cy="72.9" rx="4.1" ry="4.1" fill="#000" fill-opacity="0.032"/>
<ellipse cx="633.5" cy="370.3" rx="3.3" ry="7.4" fill="#000" fill-opacity="0.034"/>
<ellipse cx="589.5" cy="203.0" rx="3.5" ry="5.6" fill="#000" fill-opacity="0.042"/>
<ellipse cx="534.2" cy="381.3" rx="5.3" ry="5.4" fill="#000" fill-opacity="0.050"/>
<ellipse cx="545.6" cy="353.3" rx="5.5" ry="5.7" fill="#000" fill-opacity="0.047"/>
<ellipse cx="598.2" cy="309.3" rx="5.9" ry="7.6" fill="#000" fill-opacity="0.069"/>
<ellipse cx="570.0" cy="386.9" rx="4.3" ry="5.1" fill="#000" fill-opacity="0.043"/>
</g>
<rect x="524.7" y="47.2" width="135.3" height="405.6" fill="#fff" filter="url(#noise)"/>
<g filter="url(#bl1)">
<path d="M555.1 37 L555.0 39 L554.6 41 L554.4 43 L554.9 45 L555.5 47 L555.6 49 L555.2 51 L554.6 53 L554.6 55 L555.1 57 L555.6 59 L555.6 61 L555.2 63 L554.9 65 L555.2 67 L555.8 69 L556.0 71 L555.6 73 L554.9 75 L554.6 77 L554.9 79 L555.5 81 L555.6 83 L555.2 85 L554.7 87 L554.7 89 L555.2 91 L555.6 93 L555.3 95 L554.5 97 L554.0 99 L554.2 101 L554.9 103 L555.3 105 L555.1 107 L554.7 109 L554.8 111 L555.5 113 L556.3 115 L556.5 117 L556.1 119 L555.7 121 L556.0 123 L556.9 125 L557.6 127 L557.6 129 L557.2 131 L557.1 133 L557.6 135 L558.3 137 L558.4 139 L557.7 141 L556.8 143 L556.5 145 L556.9 147 L557.3 149 L557.1 151 L556.2 153 L555.5 155 L555.5 157 L556.0 159 L556.0 161 L555.3 163 L554.1 165 L553.6 167 L553.9 169 L554.5 171 L554.5 173 L553.9 175 L553.3 177 L553.4 179 L554.0 181 L554.5 183 L554.1 185 L553.1 187 L552.5 189 L552.8 191 L553.5 193 L553.8 195 L553.3 197 L552.6 199 L552.5 201 L553.2 203 L553.8 205 L553.6 207 L552.6 209 L551.9 211 L552.1 213 L552.9 215 L553.4 217 L553.0 219 L552.2 221 L552.0 223 L552.6 225 L553.4 227 L553.4 229 L552.4 231 L551.5 233 L551.5 235 L552.4 237 L553.0 239 L552.7 241 L551.9 243 L551.5 245 L552.0 247 L552.8 249 L552.9 251 L552.0 253 L550.9 255 L550.6 257 L551.3 259 L552.0 261 L551.9 263 L551.0 265 L550.3 267 L550.7 269 L551.6 271 L551.9 273 L551.1 275 L549.9 277 L549.5 279 L550.2 281 L551.1 283 L551.2 285 L550.4 287 L549.7 289 L550.0 291 L551.0 293 L551.5 295 L551.0 297 L549.8 299 L549.3 301 L549.9 303 L550.9 305 L551.1 307 L550.5 309 L549.7 311 L549.8 313 L550.8 315 L551.5 317 L551.0 319 L549.9 321 L549.1 323 L549.5 325 L550.5 327 L550.8 329 L550.2 331 L549.3 333 L549.2 335 L550.0 337 L550.7 339 L550.5 341 L549.3 343 L548.4 345 L548.6 347 L549.5 349 L550.1 351 L549.6 353 L548.7 355 L548.5 357 L549.2 359 L550.1 361 L550.1 363 L549.1 365 L548.2 367 L548.2 369 L549.2 371 L549.9 373 L549.7 375 L548.8 377 L548.5 379 L549.1 381 L550.1 383 L550.3 385 L549.4 387 L548.4 389 L548.2 391 L549.0 393 L549.8 395 L549.6 397 L548.8 399 L548.2 401 L548.6 403 L549.5 405 L549.8 407 L549.0 409 L547.8 411 L547.4 413 L548.0 415 L548.8 417 L548.8 419 L548.0 421 L547.3 423 L547.6 425 L548.5 427 L548.9 429 L548.3 431 L547.2 433 L546.7 435 L547.2 437 L548.1 439 L548.3 441 L547.7 443 L547.1 445 L547.3 447 L548.2 449 L548.9 451 L548.6 453 L547.7 455 L547.1 457 L547.4 459 L548.3 461" stroke="#000" stroke-opacity="0.45" stroke-width="2.2" fill="none"/>
<path d="M569.7 37 L569.5 39 L569.2 41 L569.4 43 L570.1 45 L570.5 47 L570.2 49 L569.3 51 L568.5 53 L568.6 55 L569.1 57 L569.5 59 L569.4 61 L569.1 63 L569.3 65 L569.8 67 L570.3 69 L570.0 71 L569.1 73 L568.2 75 L568.1 77 L568.6 79 L569.0 81 L569.1 83 L568.9 85 L569.0 87 L569.6 89 L570.1 91 L570.0 93 L569.2 95 L568.3 97 L568.0 99 L568.4 101 L569.0 103 L569.4 105 L569.4 107 L569.7 109 L570.4 111 L571.2 113 L571.4 115 L570.9 117 L570.2 119 L569.9 121 L570.4 123 L571.1 125 L571.6 127 L571.8 129 L572.0 131 L572.5 133 L573.1 135 L573.1 137 L572.3 139 L571.1 141 L570.3 143 L570.1 145 L570.4 147 L570.6 149 L570.5 151 L570.3 153 L570.4 155 L570.7 157 L570.6 159 L569.7 161 L568.4 163 L567.4 165 L567.1 167 L567.4 169 L567.8 171 L568.0 173 L568.2 175 L568.6 177 L569.1 179 L569.4 181 L568.9 183 L567.8 185 L566.9 187 L566.6 189 L566.9 191 L567.5 193 L567.8 195 L568.0 197 L568.4 199 L568.8 201 L569.0 203 L568.6 205 L567.5 207 L566.4 209 L565.8 211 L566.0 213 L566.5 215 L566.9 217 L567.2 219 L567.4 221 L567.8 223 L568.0 225 L567.6 227 L566.6 229 L565.4 231 L564.7 233 L564.8 235 L565.4 237 L565.9 239 L566.3 241 L566.7 243 L567.1 245 L567.4 247 L567.2 249 L566.3 251 L565.1 253 L564.3 255 L564.2 257 L564.7 259 L565.4 261 L565.8 263 L566.3 265 L566.7 267 L567.0 269 L566.9 271 L566.0 273 L564.8 275 L563.8 277 L563.6 279 L564.0 281 L564.7 283 L565.3 285 L565.7 287 L566.2 289 L566.5 291 L566.4 293 L565.6 295 L564.3 297 L563.2 299 L562.8 301 L563.1 303 L563.8 305 L564.5 307 L565.0 309 L565.5 311 L565.8 313 L565.8 315 L565.1 317 L563.9 319 L562.7 321 L562.2 323 L562.4 325 L563.1 327 L563.9 329 L564.5 331 L565.1 333 L565.5 335 L565.5 337 L564.9 339 L563.8 341 L562.6 343 L561.9 345 L562.1 347 L562.8 349 L563.7 351 L564.4 353 L565.1 355 L565.5 357 L565.6 359 L565.1 361 L564.0 363 L562.7 365 L561.9 367 L561.9 369 L562.5 371 L563.3 373 L564.1 375 L564.8 377 L565.3 379 L565.3 381 L564.8 383 L563.7 385 L562.3 387 L561.3 389 L561.1 391 L561.6 393 L562.4 395 L563.3 397 L564.0 399 L564.5 401 L564.6 403 L564.1 405 L563.1 407 L561.7 409 L560.6 411 L560.3 413 L560.7 415 L561.5 417 L562.6 419 L563.4 421 L564.1 423 L564.3 425 L563.9 427 L563.0 429 L561.7 431 L560.6 433 L560.2 435 L560.5 437 L561.3 439 L562.5 441 L563.5 443 L564.2 445 L564.5 447 L564.2 449 L563.3 451 L562.1 453 L560.9 455 L560.3 457 L560.4 459 L561.2 461" stroke="#000" stroke-opacity="0.45" stroke-width="2.2" fill="none"/>
<path d="M584.1 37 L583.7 39 L583.3 41 L583.6 43 L584.3 45 L584.7 47 L584.3 49 L583.3 51 L582.7 53 L582.9 55 L583.6 57 L583.9 59 L583.7 61 L583.3 63 L583.5 65 L584.2 67 L584.7 69 L584.4 71 L583.5 73 L582.8 75 L582.9 77 L583.5 79 L583.9 81 L583.8 83 L583.6 85 L583.7 87 L584.4 89 L584.9 91 L584.7 93 L583.8 95 L583.0 97 L582.9 99 L583.4 101 L583.9 103 L584.0 105 L583.9 107 L584.2 109 L584.9 111 L585.6 113 L585.7 115 L585.1 117 L584.4 119 L584.4 121 L584.9 123 L585.6 125 L585.9 127 L585.9 129 L586.1 131 L586.6 133 L587.2 135 L587.1 137 L586.3 139 L585.3 141 L584.7 143 L584.8 145 L585.1 147 L585.1 149 L584.9 151 L584.7 153 L584.9 155 L585.2 157 L585.0 159 L584.2 161 L583.0 163 L582.2 165 L582.2 167 L582.6 169 L582.8 171 L582.8 173 L582.9 175 L583.3 177 L583.8 179 L583.9 181 L583.3 183 L582.3 185 L581.6 187 L581.5 189 L581.9 191 L582.2 193 L582.3 195 L582.3 197 L582.6 199 L583.0 201 L583.1 203 L582.6 205 L581.5 207 L580.6 209 L580.3 211 L580.6 213 L581.0 215 L581.2 217 L581.3 219 L581.5 221 L581.9 223 L582.2 225 L581.7 227 L580.8 229 L579.8 231 L579.4 233 L579.7 235 L580.3 237 L580.7 239 L580.9 241 L581.2 243 L581.7 245 L582.0 247 L581.7 249 L580.8 251 L579.8 253 L579.2 255 L579.4 257 L579.9 259 L580.3 261 L580.6 263 L580.8 265 L581.2 267 L581.5 269 L581.2 271 L580.3 273 L579.1 275 L578.4 277 L578.4 279 L578.8 281 L579.3 283 L579.6 285 L579.8 287 L580.2 289 L580.5 291 L580.3 293 L579.5 295 L578.3 297 L577.5 299 L577.3 301 L577.8 303 L578.4 305 L578.9 307 L579.2 309 L579.6 311 L580.0 313 L580.0 315 L579.4 317 L578.2 319 L577.3 321 L577.1 323 L577.6 325 L578.3 327 L578.9 329 L579.2 331 L579.6 333 L580.0 335 L580.1 337 L579.5 339 L578.4 341 L577.3 343 L576.9 345 L577.3 347 L578.0 349 L578.6 351 L579.0 353 L579.3 355 L579.7 357 L579.8 359 L579.2 361 L578.1 363 L576.9 365 L576.3 367 L576.5 369 L577.2 371 L577.9 373 L578.4 375 L578.7 377 L579.1 379 L579.2 381 L578.8 383 L577.7 385 L576.4 387 L575.7 389 L575.9 391 L576.6 393 L577.3 395 L577.9 397 L578.3 399 L578.7 401 L578.9 403 L578.6 405 L577.5 407 L576.2 409 L575.4 411 L575.4 413 L576.1 415 L576.9 417 L577.6 419 L578.0 421 L578.5 423 L578.7 425 L578.4 427 L577.4 429 L576.1 431 L575.1 433 L575.0 435 L575.6 437 L576.5 439 L577.2 441 L577.7 443 L578.1 445 L578.4 447 L578.2 449 L577.3 451 L576.0 453 L574.9 455 L574.7 457 L575.2 459 L576.1 461" stroke="#000" stroke-opacity="0.45" stroke-width="2.2" fill="none"/>
<path d="M598.0 37 L597.9 39 L597.9 41 L598.3 43 L598.8 45 L598.9 47 L598.3 49 L597.3 51 L596.8 53 L596.9 55 L597.3 57 L597.7 59 L598.0 61 L598.4 63 L599.1 65 L599.6 67 L599.5 69 L598.7 71 L597.8 73 L597.2 75 L597.2 77 L597.5 79 L597.9 81 L598.6 83 L599.4 85 L600.1 87 L600.4 89 L599.9 91 L598.9 93 L597.8 95 L597.1 97 L596.9 99 L596.9 101 L597.5 103 L598.6 105 L599.8 107 L600.7 109 L600.8 111 L600.1 113 L599.2 115 L598.4 117 L597.9 119 L597.6 121 L597.8 123 L598.7 125 L600.3 127 L601.9 129 L602.7 131 L602.5 133 L601.5 135 L600.5 137 L599.5 139 L598.7 141 L597.9 143 L597.7 145 L598.6 147 L600.2 149 L601.8 151 L602.2 153 L601.4 155 L600.0 157 L598.7 159 L597.7 161 L596.6 163 L595.6 165 L595.3 167 L596.4 169 L598.5 171 L600.3 173 L600.7 175 L599.8 177 L598.4 179 L597.3 181 L596.5 183 L595.4 185 L594.3 187 L594.1 189 L595.5 191 L597.8 193 L599.6 195 L599.8 197 L598.5 199 L597.0 201 L595.9 203 L595.0 205 L593.9 207 L592.8 209 L592.7 211 L594.3 213 L596.8 215 L598.7 217 L598.8 219 L597.5 221 L596.0 223 L595.1 225 L594.3 227 L593.3 229 L592.3 231 L592.4 233 L594.2 235 L596.9 237 L598.8 239 L598.9 241 L597.6 243 L596.1 245 L595.2 247 L594.5 249 L593.4 251 L592.4 253 L592.6 255 L594.3 257 L596.8 259 L598.4 261 L598.2 263 L596.8 265 L595.3 267 L594.2 269 L593.3 271 L592.2 273 L591.2 275 L591.5 277 L593.2 279 L595.5 281 L596.9 283 L596.6 285 L595.3 287 L593.9 289 L592.8 291 L591.9 293 L591.0 295 L590.4 297 L590.9 299 L592.6 301 L594.7 303 L596.0 305 L596.0 307 L594.9 309 L593.7 311 L592.7 313 L591.9 315 L591.3 317 L591.0 319 L591.6 321 L593.2 323 L595.0 325 L596.1 327 L596.2 329 L595.2 331 L593.9 333 L592.8 335 L591.9 337 L591.4 339 L591.4 341 L591.9 343 L593.0 345 L594.3 347 L595.2 349 L595.3 351 L594.5 353 L593.1 355 L591.8 357 L591.0 359 L590.7 361 L590.9 363 L591.4 365 L592.1 367 L593.0 369 L593.9 371 L594.2 373 L593.6 375 L592.3 377 L591.0 379 L590.4 381 L590.6 383 L591.0 385 L591.4 387 L591.8 389 L592.5 391 L593.4 393 L593.9 395 L593.5 397 L592.3 399 L591.1 401 L590.7 403 L591.1 405 L591.7 407 L591.9 409 L591.8 411 L592.1 413 L592.9 415 L593.5 417 L593.2 419 L591.9 421 L590.7 423 L590.5 425 L591.1 427 L591.7 429 L591.5 431 L591.0 433 L591.0 435 L591.7 437 L592.4 439 L592.1 441 L591.0 443 L590.0 445 L590.0 447 L590.8 449 L591.4 451 L591.1 453 L590.4 455 L590.2 457 L590.9 459 L591.8 461" stroke="#000" stroke-opacity="0.45" stroke-width="2.2" fill="none"/>
<path d="M613.1 37 L612.5 39 L612.1 41 L612.5 43 L613.3 45 L613.4 47 L612.7 49 L611.6 51 L611.2 53 L611.7 55 L612.4 57 L612.5 59 L612.2 61 L612.2 63 L612.9 65 L613.7 67 L613.7 69 L612.8 71 L611.7 73 L611.4 75 L611.9 77 L612.5 79 L612.9 81 L613.0 83 L613.3 85 L614.1 87 L614.7 89 L614.4 91 L613.3 93 L612.1 95 L611.6 97 L611.9 99 L612.5 101 L612.9 103 L613.4 105 L614.1 107 L614.9 109 L615.3 111 L614.9 113 L613.8 115 L612.8 117 L612.3 119 L612.6 121 L613.3 123 L614.1 125 L615.0 127 L616.0 129 L616.7 131 L616.7 133 L615.9 135 L614.6 137 L613.4 139 L612.7 141 L612.5 143 L612.9 145 L613.7 147 L614.7 149 L615.6 151 L615.8 153 L615.3 155 L614.2 157 L612.8 159 L611.5 161 L610.6 163 L610.2 165 L610.7 167 L611.8 169 L613.3 171 L614.4 173 L614.7 175 L614.1 177 L613.0 179 L611.8 181 L610.7 183 L609.7 185 L609.3 187 L609.8 189 L611.3 191 L613.0 193 L614.0 195 L613.9 197 L612.9 199 L611.6 201 L610.4 203 L609.1 205 L608.0 207 L607.4 209 L608.1 211 L609.9 213 L611.8 215 L612.8 217 L612.5 219 L611.4 221 L610.2 223 L609.1 225 L608.0 227 L606.9 229 L606.5 231 L607.5 233 L609.7 235 L611.9 237 L612.9 239 L612.5 241 L611.4 243 L610.3 245 L609.4 247 L608.3 249 L607.2 251 L606.8 253 L607.9 255 L610.2 257 L612.3 259 L613.1 261 L612.4 263 L611.0 265 L609.8 267 L608.8 269 L607.5 271 L606.2 273 L605.8 275 L607.0 277 L609.2 279 L611.1 281 L611.7 283 L610.8 285 L609.4 287 L608.2 289 L607.1 291 L605.9 293 L604.7 295 L604.5 297 L605.9 299 L608.2 301 L610.1 303 L610.6 305 L609.8 307 L608.6 309 L607.6 311 L606.7 313 L605.6 315 L604.7 317 L604.9 319 L606.4 321 L608.7 323 L610.5 325 L610.9 327 L610.2 329 L609.1 331 L608.1 333 L607.0 335 L605.9 337 L605.2 339 L605.5 341 L607.0 343 L608.9 345 L610.3 347 L610.5 349 L609.8 351 L608.7 353 L607.5 355 L606.3 357 L605.2 359 L604.6 361 L605.0 363 L606.3 365 L607.9 367 L609.0 369 L609.2 371 L608.6 373 L607.6 375 L606.3 377 L605.1 379 L604.2 381 L604.0 383 L604.7 385 L605.9 387 L607.2 389 L608.1 391 L608.4 393 L608.1 395 L607.3 397 L606.1 399 L604.9 401 L604.4 403 L604.5 405 L605.3 407 L606.3 409 L607.2 411 L608.0 413 L608.4 415 L608.2 417 L607.4 419 L606.1 421 L604.9 423 L604.6 425 L604.9 427 L605.6 429 L606.2 431 L606.6 433 L607.1 435 L607.6 437 L607.5 439 L606.6 441 L605.2 443 L604.2 445 L604.1 447 L604.6 449 L605.2 451 L605.4 453 L605.6 455 L606.0 457 L606.6 459 L606.7 461" stroke="#000" stroke-opacity="0.45" stroke-width="2.2" fill="none"/>
<path d="M627.1 37 L627.0 39 L627.2 41 L627.9 43 L628.5 45 L628.2 47 L627.1 49 L626.0 51 L625.8 53 L626.3 55 L626.9 57 L627.2 59 L627.2 61 L627.5 63 L628.3 65 L628.8 67 L628.5 69 L627.4 71 L626.3 73 L625.9 75 L626.3 77 L627.0 79 L627.3 81 L627.5 83 L627.9 85 L628.5 87 L629.0 89 L628.6 91 L627.4 93 L626.3 95 L625.8 97 L626.0 99 L626.6 101 L627.1 103 L627.5 105 L628.1 107 L628.9 109 L629.4 111 L629.2 113 L628.2 115 L627.3 117 L626.9 119 L627.3 121 L628.0 123 L628.7 125 L629.4 127 L630.2 129 L631.0 131 L631.4 133 L630.9 135 L629.8 137 L628.5 139 L627.8 141 L627.7 143 L628.1 145 L628.5 147 L629.0 149 L629.5 151 L630.0 153 L630.0 155 L629.2 157 L627.8 159 L626.4 161 L625.4 163 L625.1 165 L625.4 167 L626.0 169 L626.7 171 L627.5 173 L628.2 175 L628.3 177 L627.7 179 L626.5 181 L625.2 183 L624.4 185 L624.1 187 L624.4 189 L625.1 191 L626.0 193 L626.9 195 L627.5 197 L627.5 199 L626.8 201 L625.6 203 L624.3 205 L623.3 207 L622.9 209 L623.1 211 L623.9 213 L625.0 215 L626.1 217 L626.8 219 L626.7 221 L626.0 223 L624.8 225 L623.6 227 L622.7 229 L622.2 231 L622.4 233 L623.3 235 L624.6 237 L625.9 239 L626.7 241 L626.6 243 L625.9 245 L624.7 247 L623.6 249 L622.6 251 L621.9 253 L621.9 255 L622.8 257 L624.2 259 L625.6 261 L626.3 263 L626.1 265 L625.1 267 L623.9 269 L622.7 271 L621.6 273 L620.8 275 L620.7 277 L621.5 279 L623.1 281 L624.6 283 L625.4 285 L625.1 287 L624.2 289 L623.0 291 L621.9 293 L620.8 295 L620.0 297 L619.8 299 L620.7 301 L622.4 303 L624.1 305 L625.0 307 L624.8 309 L623.9 311 L622.8 313 L621.8 315 L620.8 317 L619.9 319 L619.7 321 L620.6 323 L622.4 325 L624.3 327 L625.2 329 L624.9 331 L623.9 333 L622.7 335 L621.7 337 L620.6 339 L619.6 341 L619.2 343 L620.0 345 L621.9 347 L623.8 349 L624.8 351 L624.5 353 L623.4 355 L622.2 357 L621.2 359 L620.1 361 L619.0 363 L618.5 365 L619.3 367 L621.2 369 L623.3 371 L624.4 373 L624.0 375 L622.9 377 L621.8 379 L620.8 381 L619.8 383 L618.6 385 L618.1 387 L618.9 389 L620.9 391 L623.1 393 L624.2 395 L623.9 397 L622.7 399 L621.6 401 L620.6 403 L619.6 405 L618.4 407 L617.7 409 L618.4 411 L620.5 413 L622.7 415 L623.9 417 L623.6 419 L622.3 421 L621.1 423 L620.2 425 L619.1 427 L617.9 429 L617.1 431 L617.8 433 L619.8 435 L622.1 437 L623.4 439 L623.1 441 L621.9 443 L620.7 445 L619.8 447 L618.8 449 L617.6 451 L616.8 453 L617.5 455 L619.6 457 L622.0 459 L623.4 461" stroke="#000" stroke-opacity="0.45" stroke-width="2.2" fill="none"/>
</g>
<g filter="url(#bl2)">
<path d="M645.0 37 L644.5 39 L645.5 41 L647.6 43 L649.6 45 L650.2 47 L649.5 49 L648.4 51 L647.7 53 L647.2 55 L646.4 57 L645.2 59 L644.4 61 L645.0 63 L646.9 65 L648.9 67 L649.7 69 L649.2 71 L648.0 73 L647.2 75 L646.7 77 L645.9 79 L644.7 81 L643.8 83 L644.1 85 L645.9 87 L648.0 89 L649.2 91 L649.0 93 L648.0 95 L647.2 97 L646.8 99 L646.2 101 L645.1 103 L644.3 105 L644.6 107 L646.4 109 L648.8 111 L650.4 113 L650.7 115 L650.1 117 L649.5 119 L649.3 121 L648.9 123 L647.9 125 L647.0 127 L647.0 129 L648.4 131 L650.6 133 L652.2 135 L652.4 137 L651.5 139 L650.5 141 L649.8 143 L648.9 145 L647.5 147 L646.0 149 L645.4 151 L646.1 153 L647.8 155 L649.2 157 L649.4 159 L648.6 161 L647.5 163 L646.7 165 L645.9 167 L644.7 169 L643.3 171 L642.7 173 L643.6 175 L645.5 177 L647.3 179 L648.1 181 L647.8 183 L647.1 185 L646.4 187 L645.8 189 L644.8 191 L643.6 193 L642.9 195 L643.4 197 L645.1 199 L646.9 201 L647.9 203 L647.8 205 L647.1 207 L646.3 209 L645.5 211 L644.5 213 L643.2 215 L642.3 217 L642.4 219 L643.8 221 L645.5 223 L646.6 225 L646.7 227 L646.0 229 L645.2 231 L644.4 233 L643.4 235 L642.1 237 L641.2 239 L641.2 241 L642.3 243 L644.1 245 L645.5 247 L645.9 249 L645.4 251 L644.7 253 L643.9 255 L643.0 257 L641.8 259 L640.9 261 L640.7 263 L641.6 265 L643.3 267 L644.9 269 L645.6 271 L645.4 273 L644.7 275 L643.9 277 L642.9 279 L641.9 281 L640.9 283 L640.5 285 L641.1 287 L642.6 289 L644.2 291 L645.2 293 L645.1 295 L644.4 297 L643.5 299 L642.5 301 L641.4 303 L640.3 305 L639.7 307 L640.0 309 L641.3 311 L642.9 313 L644.1 315 L644.3 317 L643.7 319 L642.7 321 L641.7 323 L640.7 325 L639.7 327 L639.1 329 L639.2 331 L640.3 333 L642.0 335 L643.4 337 L644.0 339 L643.6 341 L642.7 343 L641.7 345 L640.8 347 L639.9 349 L639.3 351 L639.3 353 L640.2 355 L641.8 357 L643.4 359 L644.3 361 L644.1 363 L643.2 365 L642.1 367 L641.2 369 L640.3 371 L639.6 373 L639.2 375 L639.8 377 L641.2 379 L642.9 381 L643.9 383 L643.8 385 L642.8 387 L641.6 389 L640.5 391 L639.6 393 L638.8 395 L638.2 397 L638.5 399 L639.7 401 L641.4 403 L642.6 405 L642.8 407 L641.9 409 L640.7 411 L639.7 413 L638.9 415 L638.2 417 L637.6 419 L637.6 421 L638.8 423 L640.6 425 L642.2 427 L642.7 429 L642.1 431 L640.9 433 L640.0 435 L639.3 437 L638.7 439 L638.0 441 L637.9 443 L638.8 445 L640.7 447 L642.5 449 L643.2 451 L642.7 453 L641.5 455 L640.5 457 L639.8 459 L639.1 461" stroke="url(#hl3_7)" stroke-width="5" fill="none" stroke-dasharray="16.5,6.6" stroke-linecap="round"/>
</g>
<g filter="url(#bl2)">
<path d="M546.0 37 L544.7 39 L544.3 41 L545.3 43 L547.4 45 L549.5 47 L550.7 49 L550.7 51 L549.9 53 L548.9 55 L547.9 57 L546.8 59 L545.6 61 L545.0 63 L545.6 65 L547.5 67 L549.8 69 L551.2 71 L551.4 73 L550.7 75 L549.6 77 L548.5 79 L547.3 81 L546.1 83 L545.2 85 L545.5 87 L547.0 89 L549.1 91 L550.8 93 L551.2 95 L550.5 97 L549.3 99 L548.1 101 L547.0 103 L545.8 105 L545.0 107 L545.1 109 L546.5 111 L548.8 113 L550.9 115 L551.9 117 L551.7 119 L550.8 121 L549.9 123 L549.0 125 L548.0 127 L547.2 129 L547.1 131 L548.2 133 L550.3 135 L552.4 137 L553.6 139 L553.4 141 L552.2 143 L550.8 145 L549.5 147 L548.3 149 L547.1 151 L546.3 153 L546.7 155 L548.3 157 L550.2 159 L551.5 161 L551.3 163 L550.1 165 L548.5 167 L547.2 169 L546.0 171 L544.9 173 L544.1 175 L544.3 177 L545.8 179 L548.0 181 L549.7 183 L549.9 185 L548.9 187 L547.4 189 L546.2 191 L545.1 193 L544.0 195 L543.1 197 L543.0 199 L544.2 201 L546.4 203 L548.4 205 L549.1 207 L548.3 209 L546.8 211 L545.6 213 L544.6 215 L543.7 217 L542.7 219 L542.4 221 L543.4 223 L545.6 225 L547.9 227 L548.9 229 L548.4 231 L547.0 233 L545.7 235 L544.7 237 L543.9 239 L542.9 241 L542.3 243 L543.0 245 L545.0 247 L547.3 249 L548.6 251 L548.2 253 L546.7 255 L545.2 257 L544.2 259 L543.3 261 L542.1 263 L541.2 265 L541.4 267 L543.1 269 L545.5 271 L547.1 273 L547.0 275 L545.6 277 L544.1 279 L543.1 281 L542.3 283 L541.2 285 L540.2 287 L540.2 289 L541.8 291 L544.3 293 L546.3 295 L546.6 297 L545.4 299 L544.0 301 L543.1 303 L542.4 305 L541.5 307 L540.4 309 L540.1 311 L541.5 313 L544.1 315 L546.3 317 L547.0 319 L546.0 321 L544.5 323 L543.4 325 L542.7 327 L541.8 329 L540.5 331 L539.8 333 L540.8 335 L543.2 337 L545.5 339 L546.4 341 L545.5 343 L543.9 345 L542.7 347 L542.0 349 L541.1 351 L539.7 353 L538.8 355 L539.5 357 L541.7 359 L544.3 361 L545.5 363 L544.9 365 L543.5 367 L542.3 369 L541.7 371 L540.9 373 L539.7 375 L538.6 377 L539.0 379 L541.2 381 L543.9 383 L545.5 385 L545.3 387 L543.9 389 L542.7 391 L542.1 393 L541.3 395 L540.1 397 L538.8 399 L538.9 401 L540.7 403 L543.4 405 L545.2 407 L545.1 409 L543.8 411 L542.5 413 L541.7 415 L540.9 417 L539.6 419 L538.2 421 L537.8 423 L539.3 425 L541.9 427 L543.9 429 L544.2 431 L543.1 433 L541.7 435 L540.9 437 L540.2 439 L539.1 441 L537.6 443 L537.1 445 L538.3 447 L541.0 449 L543.3 451 L544.1 453 L543.3 455 L542.1 457 L541.3 459 L540.7 461" stroke="#fff" stroke-opacity="0.135" stroke-width="8" fill="none"/>
<path d="M564.3 37 L565.2 39 L564.8 41 L563.6 43 L562.4 45 L561.4 47 L560.5 49 L559.6 51 L559.3 53 L560.2 55 L562.2 57 L564.5 59 L565.7 61 L565.5 63 L564.2 65 L562.9 67 L561.8 69 L560.8 71 L559.8 73 L559.2 75 L559.6 77 L561.4 79 L563.6 81 L565.1 83 L565.1 85 L563.9 87 L562.4 89 L561.3 91 L560.4 93 L559.4 95 L558.6 97 L558.7 99 L560.3 101 L562.8 103 L564.7 105 L565.2 107 L564.4 109 L563.2 111 L562.3 113 L561.7 115 L561.1 117 L560.5 119 L560.6 121 L562.1 123 L564.8 125 L567.2 127 L568.0 129 L567.3 131 L566.0 133 L564.8 135 L564.1 137 L563.1 139 L562.0 141 L561.4 143 L562.2 145 L564.3 147 L566.4 149 L567.1 151 L566.2 153 L564.4 155 L562.8 157 L561.7 159 L560.6 161 L559.2 163 L558.2 165 L558.6 167 L560.6 169 L563.0 171 L564.2 173 L563.7 175 L562.2 177 L560.9 179 L560.1 181 L559.3 183 L558.2 185 L557.2 187 L557.5 189 L559.4 191 L562.0 193 L563.7 195 L563.5 197 L562.1 199 L560.8 201 L559.9 203 L559.2 205 L558.1 207 L557.0 209 L556.9 211 L558.6 213 L561.2 215 L563.2 217 L563.3 219 L562.0 221 L560.6 223 L559.7 225 L559.0 227 L557.8 229 L556.5 231 L556.1 233 L557.4 235 L560.0 237 L562.1 239 L562.6 241 L561.5 243 L560.0 245 L559.0 247 L558.3 249 L557.2 251 L555.7 253 L555.0 255 L556.0 257 L558.4 259 L560.8 261 L561.6 263 L560.7 265 L559.2 267 L558.2 269 L557.6 271 L556.6 273 L555.2 275 L554.3 277 L555.0 279 L557.4 281 L559.9 283 L561.1 285 L560.6 287 L559.2 289 L558.2 291 L557.6 293 L556.7 295 L555.3 297 L554.2 299 L554.6 301 L556.7 303 L559.3 305 L560.8 307 L560.5 309 L559.2 311 L558.1 313 L557.4 315 L556.6 317 L555.1 319 L553.8 321 L553.8 323 L555.6 325 L558.2 327 L559.9 329 L559.9 331 L558.7 333 L557.5 335 L556.8 337 L556.0 339 L554.6 341 L553.1 343 L552.9 345 L554.4 347 L557.0 349 L559.1 351 L559.5 353 L558.6 355 L557.5 357 L556.7 359 L556.0 361 L554.8 363 L553.3 365 L552.9 367 L554.1 369 L556.7 371 L558.9 373 L559.7 375 L559.0 377 L557.9 379 L557.1 381 L556.4 383 L555.1 385 L553.6 387 L552.8 389 L553.6 391 L555.9 393 L558.2 395 L559.2 397 L558.7 399 L557.6 401 L556.6 403 L555.7 405 L554.5 407 L552.9 409 L551.8 411 L552.3 413 L554.3 415 L556.6 417 L557.9 419 L557.8 421 L556.8 423 L555.8 425 L555.0 427 L553.9 429 L552.4 431 L551.3 433 L551.6 435 L553.4 437 L555.9 439 L557.6 441 L557.9 443 L557.2 445 L556.3 447 L555.5 449 L554.5 451 L553.2 453 L552.0 455 L552.0 457 L553.6 459 L556.0 461" stroke="#fff" stroke-opacity="0.180" stroke-width="8" fill="none"/>
<path d="M575.1 37 L573.7 39 L573.5 41 L575.1 43 L577.7 45 L579.6 47 L579.9 49 L578.9 51 L577.7 53 L576.9 55 L576.0 57 L574.6 59 L573.1 61 L572.8 63 L574.3 65 L576.8 67 L578.8 69 L579.3 71 L578.4 73 L577.3 75 L576.5 77 L575.8 79 L574.5 81 L573.1 83 L572.7 85 L574.1 87 L576.7 89 L578.9 91 L579.6 93 L578.9 95 L577.9 97 L577.2 99 L576.5 101 L575.3 103 L574.0 105 L573.6 107 L575.0 109 L577.7 111 L580.2 113 L581.1 115 L580.7 117 L579.9 119 L579.2 121 L578.6 123 L577.5 125 L576.1 127 L575.5 129 L576.7 131 L579.1 133 L581.3 135 L582.1 137 L581.4 139 L580.2 141 L579.1 143 L578.1 145 L576.6 147 L574.8 149 L573.8 151 L574.5 153 L576.5 155 L578.6 157 L579.4 159 L578.8 161 L577.6 163 L576.5 165 L575.6 167 L574.3 169 L572.7 171 L571.9 173 L572.7 175 L575.0 177 L577.4 179 L578.6 181 L578.4 183 L577.5 185 L576.6 187 L575.7 189 L574.5 191 L573.0 193 L572.0 195 L572.6 197 L574.6 199 L576.9 201 L578.1 203 L577.9 205 L576.8 207 L575.7 209 L574.7 211 L573.4 213 L571.8 215 L570.7 217 L571.0 219 L572.8 221 L575.1 223 L576.4 225 L576.3 227 L575.4 229 L574.3 231 L573.4 233 L572.2 235 L570.8 237 L569.7 239 L570.0 241 L571.9 243 L574.3 245 L575.9 247 L576.1 249 L575.3 251 L574.4 253 L573.5 255 L572.4 257 L571.0 259 L569.9 261 L570.1 263 L571.8 265 L574.2 267 L575.8 269 L576.1 271 L575.4 273 L574.4 275 L573.4 277 L572.2 279 L570.7 281 L569.5 283 L569.4 285 L570.9 287 L573.1 289 L574.8 291 L575.2 293 L574.4 295 L573.3 297 L572.2 299 L571.0 301 L569.6 303 L568.3 305 L568.1 307 L569.4 309 L571.7 311 L573.5 313 L574.1 315 L573.6 317 L572.6 319 L571.6 321 L570.6 323 L569.2 325 L568.0 327 L567.9 329 L569.2 331 L571.4 333 L573.5 335 L574.3 337 L573.9 339 L573.0 341 L572.1 343 L571.0 345 L569.7 347 L568.5 349 L568.2 351 L569.4 353 L571.5 355 L573.6 357 L574.5 359 L574.2 361 L573.2 363 L572.1 365 L570.9 367 L569.6 369 L568.2 371 L567.7 373 L568.6 375 L570.6 377 L572.6 379 L573.5 381 L573.3 383 L572.2 385 L571.1 387 L569.9 389 L568.5 391 L567.2 393 L566.6 395 L567.4 397 L569.3 399 L571.4 401 L572.6 403 L572.5 405 L571.6 407 L570.6 409 L569.5 411 L568.3 413 L567.0 415 L566.5 417 L567.2 419 L569.1 421 L571.3 423 L572.7 425 L572.9 427 L572.1 429 L571.0 431 L569.9 433 L568.7 435 L567.5 437 L566.8 439 L567.3 441 L569.1 443 L571.3 445 L572.7 447 L572.9 449 L572.1 451 L570.9 453 L569.7 455 L568.5 457 L567.2 459 L566.4 461" stroke="#fff" stroke-opacity="0.180" stroke-width="8" fill="none"/>
<path d="M593.1 37 L593.7 39 L593.1 41 L592.0 43 L590.9 45 L589.8 47 L588.6 49 L587.7 51 L587.7 53 L589.0 55 L591.2 57 L593.2 59 L594.2 61 L593.9 63 L592.8 65 L591.7 67 L590.6 69 L589.5 71 L588.6 73 L588.3 75 L589.3 77 L591.3 79 L593.4 81 L594.6 83 L594.4 85 L593.3 87 L592.0 89 L590.8 91 L589.7 93 L588.7 95 L588.1 97 L588.6 99 L590.4 101 L592.6 103 L594.1 105 L594.2 107 L593.3 109 L592.1 111 L591.1 113 L590.3 115 L589.5 117 L589.0 119 L589.5 121 L591.3 123 L593.7 125 L595.7 127 L596.2 129 L595.5 131 L594.2 133 L593.1 135 L592.2 137 L591.2 139 L590.3 141 L590.2 143 L591.5 145 L593.6 147 L595.4 149 L595.9 151 L594.9 153 L593.3 155 L591.9 157 L590.7 159 L589.5 161 L588.4 163 L587.9 165 L588.8 167 L590.9 169 L592.9 171 L593.8 173 L593.1 175 L591.6 177 L590.3 179 L589.3 181 L588.3 183 L587.2 185 L586.6 187 L587.2 189 L589.2 191 L591.5 193 L592.6 195 L592.1 197 L590.6 199 L589.2 201 L588.2 203 L587.3 205 L586.2 207 L585.4 209 L585.8 211 L587.7 213 L590.2 215 L591.7 217 L591.5 219 L590.2 221 L588.8 223 L587.9 225 L587.1 227 L586.1 229 L585.3 231 L585.5 233 L587.2 235 L589.8 237 L591.7 239 L591.8 241 L590.6 243 L589.1 245 L588.1 247 L587.4 249 L586.3 251 L585.2 253 L585.0 255 L586.4 257 L588.8 259 L590.8 261 L591.1 263 L589.8 265 L588.2 267 L587.1 269 L586.3 271 L585.2 273 L583.9 275 L583.4 277 L584.5 279 L586.9 281 L589.2 283 L589.8 285 L588.8 287 L587.2 289 L586.1 291 L585.5 293 L584.6 295 L583.3 297 L582.7 299 L583.7 301 L586.1 303 L588.6 305 L589.7 307 L589.0 309 L587.5 311 L586.5 313 L585.9 315 L585.1 317 L583.9 319 L583.0 321 L583.7 323 L586.0 325 L588.6 327 L589.9 329 L589.3 331 L587.8 333 L586.6 335 L585.9 337 L585.0 339 L583.7 341 L582.5 343 L582.8 345 L584.8 347 L587.4 349 L588.9 351 L588.5 353 L587.1 355 L585.8 357 L585.0 359 L584.3 361 L582.9 363 L581.7 365 L581.7 367 L583.5 369 L586.2 371 L588.1 373 L588.1 375 L586.9 377 L585.6 379 L584.9 381 L584.3 383 L583.1 385 L581.8 387 L581.6 389 L583.2 391 L586.0 393 L588.1 395 L588.4 397 L587.3 399 L586.0 401 L585.2 403 L584.6 405 L583.4 407 L581.9 409 L581.4 411 L582.6 413 L585.2 415 L587.4 417 L587.9 419 L587.0 421 L585.6 423 L584.7 425 L583.9 427 L582.7 429 L581.2 431 L580.4 433 L581.3 435 L583.8 437 L586.1 439 L587.0 441 L586.3 443 L585.0 445 L584.1 447 L583.5 449 L582.4 451 L581.0 453 L580.1 455 L580.9 457 L583.2 459 L585.8 461" stroke="#fff" stroke-opacity="0.180" stroke-width="8" fill="none"/>
<path d="M602.9 37 L602.0 39 L602.6 41 L604.5 43 L606.8 45 L608.1 47 L607.9 49 L607.0 51 L605.9 53 L604.9 55 L603.5 57 L602.2 59 L601.8 61 L603.0 63 L605.4 65 L607.6 67 L608.4 69 L607.9 71 L606.9 73 L606.1 75 L605.1 77 L603.7 79 L602.5 81 L602.5 83 L604.3 85 L606.9 87 L608.7 89 L608.9 91 L608.0 93 L607.0 95 L606.2 97 L605.1 99 L603.5 101 L602.4 103 L603.0 105 L605.3 107 L608.0 109 L609.4 111 L609.1 113 L608.2 115 L607.4 117 L606.8 119 L605.7 121 L604.3 123 L603.7 125 L604.9 127 L607.6 129 L610.0 131 L610.8 133 L610.0 135 L608.8 137 L607.9 139 L607.0 141 L605.6 143 L604.0 145 L603.5 147 L605.0 149 L607.6 151 L609.5 153 L609.4 155 L608.1 157 L606.7 159 L605.8 161 L604.8 163 L603.2 165 L601.8 167 L601.9 169 L604.0 171 L606.8 173 L608.3 175 L607.9 177 L606.5 179 L605.3 181 L604.6 183 L603.6 185 L602.1 187 L601.0 189 L601.7 191 L604.1 193 L606.6 195 L607.4 197 L606.5 199 L604.8 201 L603.6 203 L602.8 205 L601.7 207 L600.2 209 L599.6 211 L600.8 213 L603.4 215 L605.6 217 L606.0 219 L604.8 221 L603.2 223 L602.3 225 L601.6 227 L600.5 229 L599.3 231 L599.3 233 L601.2 235 L604.0 237 L605.9 239 L605.9 241 L604.5 243 L603.2 245 L602.3 247 L601.6 249 L600.4 251 L599.6 253 L600.1 255 L602.3 257 L604.8 259 L606.0 261 L605.4 263 L603.8 265 L602.3 267 L601.4 269 L600.3 271 L599.1 273 L598.6 275 L599.6 277 L601.9 279 L604.0 281 L604.5 283 L603.5 285 L601.8 287 L600.5 289 L599.5 291 L598.4 293 L597.5 295 L597.5 297 L599.1 299 L601.5 301 L603.3 303 L603.5 305 L602.3 307 L600.9 309 L599.8 311 L598.9 313 L597.9 315 L597.4 317 L598.2 319 L600.2 321 L602.6 323 L603.9 325 L603.7 327 L602.5 329 L601.1 331 L600.0 333 L598.9 335 L598.0 337 L597.8 339 L599.0 341 L601.2 343 L603.2 345 L603.8 347 L603.1 349 L601.7 351 L600.4 353 L599.1 355 L597.8 357 L596.9 359 L597.2 361 L598.8 363 L601.0 365 L602.5 367 L602.5 369 L601.5 371 L600.3 373 L599.0 375 L597.7 377 L596.4 379 L595.9 381 L596.8 383 L598.9 385 L601.1 387 L602.1 389 L601.8 391 L600.8 393 L599.7 395 L598.6 397 L597.2 399 L596.1 401 L596.1 403 L597.6 405 L600.0 407 L601.9 409 L602.3 411 L601.6 413 L600.6 415 L599.6 417 L598.4 419 L596.9 421 L595.8 423 L596.2 425 L598.2 427 L600.6 429 L601.9 431 L601.7 433 L600.7 435 L599.6 437 L598.6 439 L597.3 441 L595.7 443 L594.9 445 L595.8 447 L598.2 449 L600.4 451 L601.3 453 L600.6 455 L599.5 457 L598.7 459 L597.8 461" stroke="#fff" stroke-opacity="0.180" stroke-width="8" fill="none"/>
<path d="M623.4 37 L622.9 39 L621.5 41 L620.4 43 L619.7 45 L618.8 47 L617.4 49 L616.2 51 L616.5 53 L618.5 55 L621.2 57 L622.8 59 L622.7 61 L621.5 63 L620.4 65 L619.8 67 L619.0 69 L617.7 71 L616.5 73 L616.6 75 L618.6 77 L621.4 79 L623.3 81 L623.4 83 L622.3 85 L621.2 87 L620.6 89 L619.8 91 L618.5 93 L617.2 95 L617.1 97 L618.7 99 L621.4 101 L623.4 103 L623.8 105 L622.8 107 L621.8 109 L621.2 111 L620.6 113 L619.4 115 L618.1 117 L617.9 119 L619.5 121 L622.3 123 L624.5 125 L625.2 127 L624.4 129 L623.3 131 L622.5 133 L621.8 135 L620.5 137 L619.0 139 L618.3 141 L619.4 143 L621.8 145 L623.9 147 L624.4 149 L623.5 151 L622.2 153 L621.2 155 L620.3 157 L618.9 159 L617.2 161 L616.3 163 L617.2 165 L619.5 167 L621.7 169 L622.6 171 L622.1 173 L621.0 175 L620.2 177 L619.4 179 L618.2 181 L616.7 183 L615.8 185 L616.4 187 L618.6 189 L620.9 191 L622.0 193 L621.5 195 L620.3 197 L619.3 199 L618.4 201 L617.1 203 L615.4 205 L614.3 207 L614.7 209 L616.6 211 L619.0 213 L620.2 215 L620.0 217 L619.0 219 L618.0 221 L617.1 223 L616.0 225 L614.5 227 L613.4 229 L613.7 231 L615.6 233 L618.1 235 L619.8 237 L619.9 239 L619.2 241 L618.3 243 L617.5 245 L616.5 247 L615.1 249 L613.9 251 L614.0 253 L615.7 255 L618.1 257 L619.8 259 L620.1 261 L619.3 263 L618.3 265 L617.3 267 L616.2 269 L614.6 271 L613.3 273 L613.0 275 L614.3 277 L616.5 279 L618.3 281 L618.8 283 L618.1 285 L617.0 287 L615.9 289 L614.8 291 L613.3 293 L611.9 295 L611.5 297 L612.7 299 L614.9 301 L616.9 303 L617.7 305 L617.3 307 L616.4 309 L615.4 311 L614.5 313 L613.2 315 L612.0 317 L611.6 319 L612.6 321 L614.8 323 L617.0 325 L618.1 327 L618.0 329 L617.1 331 L616.2 333 L615.1 335 L613.9 337 L612.6 339 L612.0 341 L612.7 343 L614.6 345 L616.8 347 L618.0 349 L617.9 351 L617.0 353 L615.9 355 L614.7 357 L613.4 359 L612.0 361 L611.2 363 L611.6 365 L613.3 367 L615.4 369 L616.8 371 L616.9 373 L616.1 375 L614.9 377 L613.8 379 L612.5 381 L611.2 383 L610.4 385 L610.6 387 L612.2 389 L614.4 391 L616.1 393 L616.6 395 L616.0 397 L614.9 399 L613.8 401 L612.7 403 L611.5 405 L610.6 407 L610.7 409 L612.1 411 L614.3 413 L616.2 415 L616.9 417 L616.4 419 L615.2 421 L614.1 423 L612.9 425 L611.7 427 L610.6 429 L610.5 431 L611.6 433 L613.6 435 L615.5 437 L616.4 439 L615.9 441 L614.8 443 L613.5 445 L612.3 447 L611.1 449 L610.0 451 L609.6 453 L610.5 455 L612.5 457 L614.5 459 L615.7 461" stroke="#fff" stroke-opacity="0.180" stroke-width="8" fill="none"/>
<path d="M630.9 37 L631.0 39 L632.8 41 L635.4 43 L637.2 45 L637.5 47 L636.8 49 L635.9 51 L635.1 53 L634.1 55 L632.7 57 L631.5 59 L631.7 61 L633.6 63 L636.1 65 L637.8 67 L637.9 69 L637.0 71 L636.0 73 L635.2 75 L634.1 77 L632.5 79 L631.3 81 L631.6 83 L633.4 85 L635.9 87 L637.4 89 L637.3 91 L636.3 93 L635.3 95 L634.5 97 L633.3 99 L631.8 101 L630.7 103 L631.2 105 L633.3 107 L636.0 109 L637.7 111 L637.8 113 L637.1 115 L636.4 117 L635.8 119 L635.0 121 L633.7 123 L632.9 125 L633.7 127 L636.0 129 L638.7 131 L640.2 133 L640.1 135 L639.1 137 L638.1 139 L637.3 141 L636.0 143 L634.4 145 L633.2 147 L633.6 149 L635.5 151 L637.8 153 L638.7 155 L638.1 157 L636.8 159 L635.6 161 L634.5 163 L633.1 165 L631.3 167 L630.2 169 L630.7 171 L632.9 173 L635.3 175 L636.4 177 L635.9 179 L634.8 181 L633.8 183 L633.0 185 L631.7 187 L630.1 189 L629.2 191 L630.0 193 L632.3 195 L634.7 197 L635.7 199 L635.2 201 L634.1 203 L633.2 205 L632.4 207 L631.2 209 L629.6 211 L628.8 213 L629.8 215 L632.2 217 L634.6 219 L635.5 221 L634.8 223 L633.7 225 L632.8 227 L632.0 229 L630.7 231 L629.2 233 L628.4 235 L629.4 237 L631.9 239 L634.2 241 L635.0 243 L634.2 245 L633.0 247 L632.0 249 L631.2 251 L629.8 253 L628.2 255 L627.5 257 L628.6 259 L631.0 261 L633.2 263 L633.8 265 L633.0 267 L631.7 269 L630.8 271 L630.0 273 L628.7 275 L627.1 277 L626.5 279 L627.8 281 L630.4 283 L632.7 285 L633.2 287 L632.4 289 L631.2 291 L630.4 293 L629.7 295 L628.4 297 L626.9 299 L626.5 301 L627.9 303 L630.6 305 L632.8 307 L633.2 309 L632.3 311 L631.1 313 L630.3 315 L629.5 317 L628.2 319 L626.7 321 L626.3 323 L627.8 325 L630.4 327 L632.4 329 L632.7 331 L631.6 333 L630.3 335 L629.5 337 L628.7 339 L627.3 341 L625.8 343 L625.4 345 L627.0 347 L629.7 349 L631.7 351 L631.9 353 L630.8 355 L629.6 357 L628.9 359 L628.1 361 L626.8 363 L625.4 365 L625.3 367 L627.1 369 L629.8 371 L631.8 373 L632.0 375 L630.9 377 L629.7 379 L629.0 381 L628.3 383 L626.9 385 L625.5 387 L625.5 389 L627.3 391 L630.0 393 L631.8 395 L631.8 397 L630.6 399 L629.3 401 L628.6 403 L627.7 405 L626.2 407 L624.8 409 L624.8 411 L626.6 413 L629.3 415 L630.9 417 L630.7 419 L629.4 421 L628.2 423 L627.4 425 L626.6 427 L625.1 429 L623.8 431 L624.0 433 L626.0 435 L628.8 437 L630.4 439 L630.3 441 L629.0 443 L627.9 445 L627.3 447 L626.5 449 L625.2 451 L624.1 453 L624.4 455 L626.6 457 L629.4 459 L631.1 461" stroke="#fff" stroke-opacity="0.153" stroke-width="8" fill="none"/>
</g>
<g filter="url(#bl1)">
<path d="M546.0 37 L544.7 39 L544.3 41 L545.3 43 L547.4 45 L549.5 47 L550.7 49 L550.7 51 L549.9 53 L548.9 55 L547.9 57 L546.8 59 L545.6 61 L545.0 63 L545.6 65 L547.5 67 L549.8 69 L551.2 71 L551.4 73 L550.7 75 L549.6 77 L548.5 79 L547.3 81 L546.1 83 L545.2 85 L545.5 87 L547.0 89 L549.1 91 L550.8 93 L551.2 95 L550.5 97 L549.3 99 L548.1 101 L547.0 103 L545.8 105 L545.0 107 L545.1 109 L546.5 111 L548.8 113 L550.9 115 L551.9 117 L551.7 119 L550.8 121 L549.9 123 L549.0 125 L548.0 127 L547.2 129 L547.1 131 L548.2 133 L550.3 135 L552.4 137 L553.6 139 L553.4 141 L552.2 143 L550.8 145 L549.5 147 L548.3 149 L547.1 151 L546.3 153 L546.7 155 L548.3 157 L550.2 159 L551.5 161 L551.3 163 L550.1 165 L548.5 167 L547.2 169 L546.0 171 L544.9 173 L544.1 175 L544.3 177 L545.8 179 L548.0 181 L549.7 183 L549.9 185 L548.9 187 L547.4 189 L546.2 191 L545.1 193 L544.0 195 L543.1 197 L543.0 199 L544.2 201 L546.4 203 L548.4 205 L549.1 207 L548.3 209 L546.8 211 L545.6 213 L544.6 215 L543.7 217 L542.7 219 L542.4 221 L543.4 223 L545.6 225 L547.9 227 L548.9 229 L548.4 231 L547.0 233 L545.7 235 L544.7 237 L543.9 239 L542.9 241 L542.3 243 L543.0 245 L545.0 247 L547.3 249 L548.6 251 L548.2 253 L546.7 255 L545.2 257 L544.2 259 L543.3 261 L542.1 263 L541.2 265 L541.4 267 L543.1 269 L545.5 271 L547.1 273 L547.0 275 L545.6 277 L544.1 279 L543.1 281 L542.3 283 L541.2 285 L540.2 287 L540.2 289 L541.8 291 L544.3 293 L546.3 295 L546.6 297 L545.4 299 L544.0 301 L543.1 303 L542.4 305 L541.5 307 L540.4 309 L540.1 311 L541.5 313 L544.1 315 L546.3 317 L547.0 319 L546.0 321 L544.5 323 L543.4 325 L542.7 327 L541.8 329 L540.5 331 L539.8 333 L540.8 335 L543.2 337 L545.5 339 L546.4 341 L545.5 343 L543.9 345 L542.7 347 L542.0 349 L541.1 351 L539.7 353 L538.8 355 L539.5 357 L541.7 359 L544.3 361 L545.5 363 L544.9 365 L543.5 367 L542.3 369 L541.7 371 L540.9 373 L539.7 375 L538.6 377 L539.0 379 L541.2 381 L543.9 383 L545.5 385 L545.3 387 L543.9 389 L542.7 391 L542.1 393 L541.3 395 L540.1 397 L538.8 399 L538.9 401 L540.7 403 L543.4 405 L545.2 407 L545.1 409 L543.8 411 L542.5 413 L541.7 415 L540.9 417 L539.6 419 L538.2 421 L537.8 423 L539.3 425 L541.9 427 L543.9 429 L544.2 431 L543.1 433 L541.7 435 L540.9 437 L540.2 439 L539.1 441 L537.6 443 L537.1 445 L538.3 447 L541.0 449 L543.3 451 L544.1 453 L543.3 455 L542.1 457 L541.3 459 L540.7 461" stroke="url(#hl3_0)" stroke-opacity="0.941" stroke-width="4.6" fill="none"/>
<path d="M564.3 37 L565.2 39 L564.8 41 L563.6 43 L562.4 45 L561.4 47 L560.5 49 L559.6 51 L559.3 53 L560.2 55 L562.2 57 L564.5 59 L565.7 61 L565.5 63 L564.2 65 L562.9 67 L561.8 69 L560.8 71 L559.8 73 L559.2 75 L559.6 77 L561.4 79 L563.6 81 L565.1 83 L565.1 85 L563.9 87 L562.4 89 L561.3 91 L560.4 93 L559.4 95 L558.6 97 L558.7 99 L560.3 101 L562.8 103 L564.7 105 L565.2 107 L564.4 109 L563.2 111 L562.3 113 L561.7 115 L561.1 117 L560.5 119 L560.6 121 L562.1 123 L564.8 125 L567.2 127 L568.0 129 L567.3 131 L566.0 133 L564.8 135 L564.1 137 L563.1 139 L562.0 141 L561.4 143 L562.2 145 L564.3 147 L566.4 149 L567.1 151 L566.2 153 L564.4 155 L562.8 157 L561.7 159 L560.6 161 L559.2 163 L558.2 165 L558.6 167 L560.6 169 L563.0 171 L564.2 173 L563.7 175 L562.2 177 L560.9 179 L560.1 181 L559.3 183 L558.2 185 L557.2 187 L557.5 189 L559.4 191 L562.0 193 L563.7 195 L563.5 197 L562.1 199 L560.8 201 L559.9 203 L559.2 205 L558.1 207 L557.0 209 L556.9 211 L558.6 213 L561.2 215 L563.2 217 L563.3 219 L562.0 221 L560.6 223 L559.7 225 L559.0 227 L557.8 229 L556.5 231 L556.1 233 L557.4 235 L560.0 237 L562.1 239 L562.6 241 L561.5 243 L560.0 245 L559.0 247 L558.3 249 L557.2 251 L555.7 253 L555.0 255 L556.0 257 L558.4 259 L560.8 261 L561.6 263 L560.7 265 L559.2 267 L558.2 269 L557.6 271 L556.6 273 L555.2 275 L554.3 277 L555.0 279 L557.4 281 L559.9 283 L561.1 285 L560.6 287 L559.2 289 L558.2 291 L557.6 293 L556.7 295 L555.3 297 L554.2 299 L554.6 301 L556.7 303 L559.3 305 L560.8 307 L560.5 309 L559.2 311 L558.1 313 L557.4 315 L556.6 317 L555.1 319 L553.8 321 L553.8 323 L555.6 325 L558.2 327 L559.9 329 L559.9 331 L558.7 333 L557.5 335 L556.8 337 L556.0 339 L554.6 341 L553.1 343 L552.9 345 L554.4 347 L557.0 349 L559.1 351 L559.5 353 L558.6 355 L557.5 357 L556.7 359 L556.0 361 L554.8 363 L553.3 365 L552.9 367 L554.1 369 L556.7 371 L558.9 373 L559.7 375 L559.0 377 L557.9 379 L557.1 381 L556.4 383 L555.1 385 L553.6 387 L552.8 389 L553.6 391 L555.9 393 L558.2 395 L559.2 397 L558.7 399 L557.6 401 L556.6 403 L555.7 405 L554.5 407 L552.9 409 L551.8 411 L552.3 413 L554.3 415 L556.6 417 L557.9 419 L557.8 421 L556.8 423 L555.8 425 L555.0 427 L553.9 429 L552.4 431 L551.3 433 L551.6 435 L553.4 437 L555.9 439 L557.6 441 L557.9 443 L557.2 445 L556.3 447 L555.5 449 L554.5 451 L553.2 453 L552.0 455 L552.0 457 L553.6 459 L556.0 461" stroke="url(#hl3_1)" stroke-opacity="0.941" stroke-width="4.6" fill="none"/>
<path d="M575.1 37 L573.7 39 L573.5 41 L575.1 43 L577.7 45 L579.6 47 L579.9 49 L578.9 51 L577.7 53 L576.9 55 L576.0 57 L574.6 59 L573.1 61 L572.8 63 L574.3 65 L576.8 67 L578.8 69 L579.3 71 L578.4 73 L577.3 75 L576.5 77 L575.8 79 L574.5 81 L573.1 83 L572.7 85 L574.1 87 L576.7 89 L578.9 91 L579.6 93 L578.9 95 L577.9 97 L577.2 99 L576.5 101 L575.3 103 L574.0 105 L573.6 107 L575.0 109 L577.7 111 L580.2 113 L581.1 115 L580.7 117 L579.9 119 L579.2 121 L578.6 123 L577.5 125 L576.1 127 L575.5 129 L576.7 131 L579.1 133 L581.3 135 L582.1 137 L581.4 139 L580.2 141 L579.1 143 L578.1 145 L576.6 147 L574.8 149 L573.8 151 L574.5 153 L576.5 155 L578.6 157 L579.4 159 L578.8 161 L577.6 163 L576.5 165 L575.6 167 L574.3 169 L572.7 171 L571.9 173 L572.7 175 L575.0 177 L577.4 179 L578.6 181 L578.4 183 L577.5 185 L576.6 187 L575.7 189 L574.5 191 L573.0 193 L572.0 195 L572.6 197 L574.6 199 L576.9 201 L578.1 203 L577.9 205 L576.8 207 L575.7 209 L574.7 211 L573.4 213 L571.8 215 L570.7 217 L571.0 219 L572.8 221 L575.1 223 L576.4 225 L576.3 227 L575.4 229 L574.3 231 L573.4 233 L572.2 235 L570.8 237 L569.7 239 L570.0 241 L571.9 243 L574.3 245 L575.9 247 L576.1 249 L575.3 251 L574.4 253 L573.5 255 L572.4 257 L571.0 259 L569.9 261 L570.1 263 L571.8 265 L574.2 267 L575.8 269 L576.1 271 L575.4 273 L574.4 275 L573.4 277 L572.2 279 L570.7 281 L569.5 283 L569.4 285 L570.9 287 L573.1 289 L574.8 291 L575.2 293 L574.4 295 L573.3 297 L572.2 299 L571.0 301 L569.6 303 L568.3 305 L568.1 307 L569.4 309 L571.7 311 L573.5 313 L574.1 315 L573.6 317 L572.6 319 L571.6 321 L570.6 323 L569.2 325 L568.0 327 L567.9 329 L569.2 331 L571.4 333 L573.5 335 L574.3 337 L573.9 339 L573.0 341 L572.1 343 L571.0 345 L569.7 347 L568.5 349 L568.2 351 L569.4 353 L571.5 355 L573.6 357 L574.5 359 L574.2 361 L573.2 363 L572.1 365 L570.9 367 L569.6 369 L568.2 371 L567.7 373 L568.6 375 L570.6 377 L572.6 379 L573.5 381 L573.3 383 L572.2 385 L571.1 387 L569.9 389 L568.5 391 L567.2 393 L566.6 395 L567.4 397 L569.3 399 L571.4 401 L572.6 403 L572.5 405 L571.6 407 L570.6 409 L569.5 411 L568.3 413 L567.0 415 L566.5 417 L567.2 419 L569.1 421 L571.3 423 L572.7 425 L572.9 427 L572.1 429 L571.0 431 L569.9 433 L568.7 435 L567.5 437 L566.8 439 L567.3 441 L569.1 443 L571.3 445 L572.7 447 L572.9 449 L572.1 451 L570.9 453 L569.7 455 L568.5 457 L567.2 459 L566.4 461" stroke="url(#hl3_2)" stroke-opacity="0.941" stroke-width="4.6" fill="none"/>
<path d="M593.1 37 L593.7 39 L593.1 41 L592.0 43 L590.9 45 L589.8 47 L588.6 49 L587.7 51 L587.7 53 L589.0 55 L591.2 57 L593.2 59 L594.2 61 L593.9 63 L592.8 65 L591.7 67 L590.6 69 L589.5 71 L588.6 73 L588.3 75 L589.3 77 L591.3 79 L593.4 81 L594.6 83 L594.4 85 L593.3 87 L592.0 89 L590.8 91 L589.7 93 L588.7 95 L588.1 97 L588.6 99 L590.4 101 L592.6 103 L594.1 105 L594.2 107 L593.3 109 L592.1 111 L591.1 113 L590.3 115 L589.5 117 L589.0 119 L589.5 121 L591.3 123 L593.7 125 L595.7 127 L596.2 129 L595.5 131 L594.2 133 L593.1 135 L592.2 137 L591.2 139 L590.3 141 L590.2 143 L591.5 145 L593.6 147 L595.4 149 L595.9 151 L594.9 153 L593.3 155 L591.9 157 L590.7 159 L589.5 161 L588.4 163 L587.9 165 L588.8 167 L590.9 169 L592.9 171 L593.8 173 L593.1 175 L591.6 177 L590.3 179 L589.3 181 L588.3 183 L587.2 185 L586.6 187 L587.2 189 L589.2 191 L591.5 193 L592.6 195 L592.1 197 L590.6 199 L589.2 201 L588.2 203 L587.3 205 L586.2 207 L585.4 209 L585.8 211 L587.7 213 L590.2 215 L591.7 217 L591.5 219 L590.2 221 L588.8 223 L587.9 225 L587.1 227 L586.1 229 L585.3 231 L585.5 233 L587.2 235 L589.8 237 L591.7 239 L591.8 241 L590.6 243 L589.1 245 L588.1 247 L587.4 249 L586.3 251 L585.2 253 L585.0 255 L586.4 257 L588.8 259 L590.8 261 L591.1 263 L589.8 265 L588.2 267 L587.1 269 L586.3 271 L585.2 273 L583.9 275 L583.4 277 L584.5 279 L586.9 281 L589.2 283 L589.8 285 L588.8 287 L587.2 289 L586.1 291 L585.5 293 L584.6 295 L583.3 297 L582.7 299 L583.7 301 L586.1 303 L588.6 305 L589.7 307 L589.0 309 L587.5 311 L586.5 313 L585.9 315 L585.1 317 L583.9 319 L583.0 321 L583.7 323 L586.0 325 L588.6 327 L589.9 329 L589.3 331 L587.8 333 L586.6 335 L585.9 337 L585.0 339 L583.7 341 L582.5 343 L582.8 345 L584.8 347 L587.4 349 L588.9 351 L588.5 353 L587.1 355 L585.8 357 L585.0 359 L584.3 361 L582.9 363 L581.7 365 L581.7 367 L583.5 369 L586.2 371 L588.1 373 L588.1 375 L586.9 377 L585.6 379 L584.9 381 L584.3 383 L583.1 385 L581.8 387 L581.6 389 L583.2 391 L586.0 393 L588.1 395 L588.4 397 L587.3 399 L586.0 401 L585.2 403 L584.6 405 L583.4 407 L581.9 409 L581.4 411 L582.6 413 L585.2 415 L587.4 417 L587.9 419 L587.0 421 L585.6 423 L584.7 425 L583.9 427 L582.7 429 L581.2 431 L580.4 433 L581.3 435 L583.8 437 L586.1 439 L587.0 441 L586.3 443 L585.0 445 L584.1 447 L583.5 449 L582.4 451 L581.0 453 L580.1 455 L580.9 457 L583.2 459 L585.8 461" stroke="url(#hl3_3)" stroke-opacity="0.941" stroke-width="4.6" fill="none"/>
<path d="M602.9 37 L602.0 39 L602.6 41 L604.5 43 L606.8 45 L608.1 47 L607.9 49 L607.0 51 L605.9 53 L604.9 55 L603.5 57 L602.2 59 L601.8 61 L603.0 63 L605.4 65 L607.6 67 L608.4 69 L607.9 71 L606.9 73 L606.1 75 L605.1 77 L603.7 79 L602.5 81 L602.5 83 L604.3 85 L606.9 87 L608.7 89 L608.9 91 L608.0 93 L607.0 95 L606.2 97 L605.1 99 L603.5 101 L602.4 103 L603.0 105 L605.3 107 L608.0 109 L609.4 111 L609.1 113 L608.2 115 L607.4 117 L606.8 119 L605.7 121 L604.3 123 L603.7 125 L604.9 127 L607.6 129 L610.0 131 L610.8 133 L610.0 135 L608.8 137 L607.9 139 L607.0 141 L605.6 143 L604.0 145 L603.5 147 L605.0 149 L607.6 151 L609.5 153 L609.4 155 L608.1 157 L606.7 159 L605.8 161 L604.8 163 L603.2 165 L601.8 167 L601.9 169 L604.0 171 L606.8 173 L608.3 175 L607.9 177 L606.5 179 L605.3 181 L604.6 183 L603.6 185 L602.1 187 L601.0 189 L601.7 191 L604.1 193 L606.6 195 L607.4 197 L606.5 199 L604.8 201 L603.6 203 L602.8 205 L601.7 207 L600.2 209 L599.6 211 L600.8 213 L603.4 215 L605.6 217 L606.0 219 L604.8 221 L603.2 223 L602.3 225 L601.6 227 L600.5 229 L599.3 231 L599.3 233 L601.2 235 L604.0 237 L605.9 239 L605.9 241 L604.5 243 L603.2 245 L602.3 247 L601.6 249 L600.4 251 L599.6 253 L600.1 255 L602.3 257 L604.8 259 L606.0 261 L605.4 263 L603.8 265 L602.3 267 L601.4 269 L600.3 271 L599.1 273 L598.6 275 L599.6 277 L601.9 279 L604.0 281 L604.5 283 L603.5 285 L601.8 287 L600.5 289 L599.5 291 L598.4 293 L597.5 295 L597.5 297 L599.1 299 L601.5 301 L603.3 303 L603.5 305 L602.3 307 L600.9 309 L599.8 311 L598.9 313 L597.9 315 L597.4 317 L598.2 319 L600.2 321 L602.6 323 L603.9 325 L603.7 327 L602.5 329 L601.1 331 L600.0 333 L598.9 335 L598.0 337 L597.8 339 L599.0 341 L601.2 343 L603.2 345 L603.8 347 L603.1 349 L601.7 351 L600.4 353 L599.1 355 L597.8 357 L596.9 359 L597.2 361 L598.8 363 L601.0 365 L602.5 367 L602.5 369 L601.5 371 L600.3 373 L599.0 375 L597.7 377 L596.4 379 L595.9 381 L596.8 383 L598.9 385 L601.1 387 L602.1 389 L601.8 391 L600.8 393 L599.7 395 L598.6 397 L597.2 399 L596.1 401 L596.1 403 L597.6 405 L600.0 407 L601.9 409 L602.3 411 L601.6 413 L600.6 415 L599.6 417 L598.4 419 L596.9 421 L595.8 423 L596.2 425 L598.2 427 L600.6 429 L601.9 431 L601.7 433 L600.7 435 L599.6 437 L598.6 439 L597.3 441 L595.7 443 L594.9 445 L595.8 447 L598.2 449 L600.4 451 L601.3 453 L600.6 455 L599.5 457 L598.7 459 L597.8 461" stroke="url(#hl3_4)" stroke-opacity="0.941" stroke-width="4.6" fill="none"/>
<path d="M623.4 37 L622.9 39 L621.5 41 L620.4 43 L619.7 45 L618.8 47 L617.4 49 L616.2 51 L616.5 53 L618.5 55 L621.2 57 L622.8 59 L622.7 61 L621.5 63 L620.4 65 L619.8 67 L619.0 69 L617.7 71 L616.5 73 L616.6 75 L618.6 77 L621.4 79 L623.3 81 L623.4 83 L622.3 85 L621.2 87 L620.6 89 L619.8 91 L618.5 93 L617.2 95 L617.1 97 L618.7 99 L621.4 101 L623.4 103 L623.8 105 L622.8 107 L621.8 109 L621.2 111 L620.6 113 L619.4 115 L618.1 117 L617.9 119 L619.5 121 L622.3 123 L624.5 125 L625.2 127 L624.4 129 L623.3 131 L622.5 133 L621.8 135 L620.5 137 L619.0 139 L618.3 141 L619.4 143 L621.8 145 L623.9 147 L624.4 149 L623.5 151 L622.2 153 L621.2 155 L620.3 157 L618.9 159 L617.2 161 L616.3 163 L617.2 165 L619.5 167 L621.7 169 L622.6 171 L622.1 173 L621.0 175 L620.2 177 L619.4 179 L618.2 181 L616.7 183 L615.8 185 L616.4 187 L618.6 189 L620.9 191 L622.0 193 L621.5 195 L620.3 197 L619.3 199 L618.4 201 L617.1 203 L615.4 205 L614.3 207 L614.7 209 L616.6 211 L619.0 213 L620.2 215 L620.0 217 L619.0 219 L618.0 221 L617.1 223 L616.0 225 L614.5 227 L613.4 229 L613.7 231 L615.6 233 L618.1 235 L619.8 237 L619.9 239 L619.2 241 L618.3 243 L617.5 245 L616.5 247 L615.1 249 L613.9 251 L614.0 253 L615.7 255 L618.1 257 L619.8 259 L620.1 261 L619.3 263 L618.3 265 L617.3 267 L616.2 269 L614.6 271 L613.3 273 L613.0 275 L614.3 277 L616.5 279 L618.3 281 L618.8 283 L618.1 285 L617.0 287 L615.9 289 L614.8 291 L613.3 293 L611.9 295 L611.5 297 L612.7 299 L614.9 301 L616.9 303 L617.7 305 L617.3 307 L616.4 309 L615.4 311 L614.5 313 L613.2 315 L612.0 317 L611.6 319 L612.6 321 L614.8 323 L617.0 325 L618.1 327 L618.0 329 L617.1 331 L616.2 333 L615.1 335 L613.9 337 L612.6 339 L612.0 341 L612.7 343 L614.6 345 L616.8 347 L618.0 349 L617.9 351 L617.0 353 L615.9 355 L614.7 357 L613.4 359 L612.0 361 L611.2 363 L611.6 365 L613.3 367 L615.4 369 L616.8 371 L616.9 373 L616.1 375 L614.9 377 L613.8 379 L612.5 381 L611.2 383 L610.4 385 L610.6 387 L612.2 389 L614.4 391 L616.1 393 L616.6 395 L616.0 397 L614.9 399 L613.8 401 L612.7 403 L611.5 405 L610.6 407 L610.7 409 L612.1 411 L614.3 413 L616.2 415 L616.9 417 L616.4 419 L615.2 421 L614.1 423 L612.9 425 L611.7 427 L610.6 429 L610.5 431 L611.6 433 L613.6 435 L615.5 437 L616.4 439 L615.9 441 L614.8 443 L613.5 445 L612.3 447 L611.1 449 L610.0 451 L609.6 453 L610.5 455 L612.5 457 L614.5 459 L615.7 461" stroke="url(#hl3_5)" stroke-opacity="0.941" stroke-width="4.6" fill="none"/>
<path d="M630.9 37 L631.0 39 L632.8 41 L635.4 43 L637.2 45 L637.5 47 L636.8 49 L635.9 51 L635.1 53 L634.1 55 L632.7 57 L631.5 59 L631.7 61 L633.6 63 L636.1 65 L637.8 67 L637.9 69 L637.0 71 L636.0 73 L635.2 75 L634.1 77 L632.5 79 L631.3 81 L631.6 83 L633.4 85 L635.9 87 L637.4 89 L637.3 91 L636.3 93 L635.3 95 L634.5 97 L633.3 99 L631.8 101 L630.7 103 L631.2 105 L633.3 107 L636.0 109 L637.7 111 L637.8 113 L637.1 115 L636.4 117 L635.8 119 L635.0 121 L633.7 123 L632.9 125 L633.7 127 L636.0 129 L638.7 131 L640.2 133 L640.1 135 L639.1 137 L638.1 139 L637.3 141 L636.0 143 L634.4 145 L633.2 147 L633.6 149 L635.5 151 L637.8 153 L638.7 155 L638.1 157 L636.8 159 L635.6 161 L634.5 163 L633.1 165 L631.3 167 L630.2 169 L630.7 171 L632.9 173 L635.3 175 L636.4 177 L635.9 179 L634.8 181 L633.8 183 L633.0 185 L631.7 187 L630.1 189 L629.2 191 L630.0 193 L632.3 195 L634.7 197 L635.7 199 L635.2 201 L634.1 203 L633.2 205 L632.4 207 L631.2 209 L629.6 211 L628.8 213 L629.8 215 L632.2 217 L634.6 219 L635.5 221 L634.8 223 L633.7 225 L632.8 227 L632.0 229 L630.7 231 L629.2 233 L628.4 235 L629.4 237 L631.9 239 L634.2 241 L635.0 243 L634.2 245 L633.0 247 L632.0 249 L631.2 251 L629.8 253 L628.2 255 L627.5 257 L628.6 259 L631.0 261 L633.2 263 L633.8 265 L633.0 267 L631.7 269 L630.8 271 L630.0 273 L628.7 275 L627.1 277 L626.5 279 L627.8 281 L630.4 283 L632.7 285 L633.2 287 L632.4 289 L631.2 291 L630.4 293 L629.7 295 L628.4 297 L626.9 299 L626.5 301 L627.9 303 L630.6 305 L632.8 307 L633.2 309 L632.3 311 L631.1 313 L630.3 315 L629.5 317 L628.2 319 L626.7 321 L626.3 323 L627.8 325 L630.4 327 L632.4 329 L632.7 331 L631.6 333 L630.3 335 L629.5 337 L628.7 339 L627.3 341 L625.8 343 L625.4 345 L627.0 347 L629.7 349 L631.7 351 L631.9 353 L630.8 355 L629.6 357 L628.9 359 L628.1 361 L626.8 363 L625.4 365 L625.3 367 L627.1 369 L629.8 371 L631.8 373 L632.0 375 L630.9 377 L629.7 379 L629.0 381 L628.3 383 L626.9 385 L625.5 387 L625.5 389 L627.3 391 L630.0 393 L631.8 395 L631.8 397 L630.6 399 L629.3 401 L628.6 403 L627.7 405 L626.2 407 L624.8 409 L624.8 411 L626.6 413 L629.3 415 L630.9 417 L630.7 419 L629.4 421 L628.2 423 L627.4 425 L626.6 427 L625.1 429 L623.8 431 L624.0 433 L626.0 435 L628.8 437 L630.4 439 L630.3 441 L629.0 443 L627.9 445 L627.3 447 L626.5 449 L625.2 451 L624.1 453 L624.4 455 L626.6 457 L629.4 459 L631.1 461" stroke="url(#hl3_6)" stroke-opacity="0.941" stroke-width="4.6" fill="none"/>
</g>
</g></g>
<rect x="524.7" y="47.2" width="135.3" height="405.6" fill="none" stroke="#262626" stroke-width="1.1"/>
<path d="M552.7 47.2v3.2M552.7 452.8v-3.2M592.4 47.2v3.2M592.4 452.8v-3.2M632.1 47.2v3.2M632.1 452.8v-3.2M524.7 452.8h3.2M660.0 452.8h-3.2M524.7 394.2h3.2M660.0 394.2h-3.2M524.7 335.6h3.2M660.0 335.6h-3.2M524.7 277h3.2M660.0 277h-3.2M524.7 218.4h3.2M660.0 218.4h-3.2M524.7 159.8h3.2M660.0 159.8h-3.2M524.7 101.2h3.2M660.0 101.2h-3.2" stroke="#262626" stroke-width="1.1" fill="none"/>
<rect x="688.0" y="47.4" width="20.6" height="509.1" fill="url(#cbar)" stroke="#262626" stroke-width="1.0"/>
<path d="M708.6 556.5h-3.5M708.6 478.18h-3.5M708.6 399.85h-3.5M708.6 321.53h-3.5M708.6 243.21h-3.5M708.6 164.88h-3.5M708.6 86.56h-3.5" stroke="#262626" stroke-width="1.0" fill="none"/>
<path d="M95.7 462.8V556.9M135.4 462.8V556.9M175.1 462.8V556.9M67.1 538.08H202.4M67.1 519.26H202.4M67.1 500.44H202.4M67.1 481.62H202.4" stroke="#d9d9d9" stroke-width="0.9" fill="none"/>
<clipPath id="lc0"><rect x="67.1" y="462.8" width="135.3" height="94.1"/></clipPath>
<path d="M67.82 556.90C68.49 556.42 70.39 555.08 71.85 554.05C73.31 553.03 75.01 552.04 76.59 550.73C78.17 549.43 79.94 547.97 81.33 546.23C82.71 544.49 83.78 542.80 84.88 540.31C85.99 537.82 87.05 533.67 87.96 531.30C88.87 528.93 89.54 526.37 90.33 526.09C91.12 525.81 91.95 527.27 92.70 529.64C93.45 532.01 94.28 537.74 94.83 540.31C95.39 542.88 95.51 546.23 96.02 545.05C96.53 543.86 97.20 538.33 97.91 533.20C98.63 528.06 99.61 518.59 100.28 514.24C100.96 509.90 101.35 507.13 101.94 507.13C102.54 507.13 103.09 509.11 103.84 514.24C104.59 519.38 105.54 531.62 106.45 537.94C107.35 544.26 108.34 550.58 109.29 552.16C110.24 553.74 111.07 551.76 112.13 547.42C113.20 543.07 114.50 533.59 115.69 526.09C116.87 518.59 118.33 505.16 119.24 502.39C120.15 499.63 120.51 504.37 121.14 509.50C121.77 514.64 122.48 526.56 123.03 533.20C123.59 539.83 123.90 549.31 124.45 549.31C125.01 549.31 125.72 539.44 126.35 533.20C126.98 526.96 127.73 517.01 128.25 511.87C128.76 506.74 128.96 502.39 129.43 502.39C129.91 502.39 130.34 505.55 131.09 511.87C131.84 518.19 133.03 533.28 133.93 540.31C134.84 547.34 135.63 553.26 136.54 554.05C137.45 554.84 138.32 550.50 139.38 545.05C140.45 539.60 141.71 527.95 142.94 521.35C144.16 514.76 145.70 506.26 146.73 505.47C147.76 504.68 148.35 510.81 149.10 516.61C149.85 522.42 150.68 534.38 151.23 540.31C151.79 546.23 151.94 552.16 152.42 552.16C152.89 552.16 153.52 546.23 154.08 540.31C154.63 534.38 155.22 522.14 155.73 516.61C156.25 511.08 156.60 507.92 157.16 507.13C157.71 506.34 158.46 510.29 159.05 511.87C159.64 513.45 160.04 513.06 160.71 516.61C161.38 520.17 162.17 527.35 163.08 533.20C163.99 539.04 165.17 551.29 166.16 551.68C167.15 552.08 168.06 541.81 169.00 535.57C169.95 529.33 170.98 519.49 171.85 514.24C172.72 508.99 173.51 504.45 174.22 504.05C174.93 503.66 175.48 507.01 176.11 511.87C176.75 516.73 177.42 527.75 178.01 533.20C178.60 538.65 179.00 542.12 179.67 544.57C180.34 547.02 181.13 547.02 182.04 547.89C182.95 548.76 184.13 549.27 185.12 549.79C186.11 550.30 186.90 550.58 187.96 550.97C189.03 551.37 190.41 551.84 191.52 552.16C192.62 552.47 193.61 552.55 194.60 552.87C195.58 553.18 196.26 553.38 197.44 554.05C198.63 554.72 201.00 556.42 201.71 556.90" stroke="#111" stroke-width="1.25" fill="none" clip-path="url(#lc0)" stroke-linejoin="round"/>
<rect x="67.1" y="462.8" width="135.3" height="94.1" fill="none" stroke="#404040" stroke-width="1.2"/>
<path d="M95.7 556.9v-2.5M95.7 462.8v2.5M135.4 556.9v-2.5M135.4 462.8v2.5M175.1 556.9v-2.5M175.1 462.8v2.5M67.1 556.9h2.5M202.4 556.9h-2.5M67.1 538.08h2.5M202.4 538.08h-2.5M67.1 519.26h2.5M202.4 519.26h-2.5M67.1 500.44h2.5M202.4 500.44h-2.5M67.1 481.62h2.5M202.4 481.62h-2.5" stroke="#404040" stroke-width="1" fill="none"/>
<path d="M247.7 462.8V556.9M287.4 462.8V556.9M327.1 462.8V556.9M219.7 538.08H355.1M219.7 519.26H355.1M219.7 500.44H355.1M219.7 481.62H355.1" stroke="#d9d9d9" stroke-width="0.9" fill="none"/>
<clipPath id="lc1"><rect x="219.7" y="462.8" width="135.4" height="94.1"/></clipPath>
<path d="M220.21 556.42C220.73 556.42 222.19 556.54 223.29 556.42C224.40 556.30 225.86 556.11 226.85 555.71C227.84 555.32 228.43 554.84 229.22 554.05C230.01 553.26 230.80 552.08 231.59 550.97C232.38 549.87 233.17 549.00 233.96 547.42C234.75 545.84 235.54 543.07 236.33 541.49C237.12 539.91 238.03 538.65 238.70 537.94C239.37 537.23 239.76 536.83 240.36 537.23C240.95 537.62 241.54 538.69 242.25 540.31C242.96 541.93 243.83 546.55 244.62 546.94C245.41 547.34 246.20 545.36 246.99 542.68C247.78 539.99 248.57 535.17 249.36 530.83C250.15 526.48 250.90 520.36 251.73 516.61C252.56 512.86 253.55 507.53 254.34 508.32C255.13 509.11 255.72 515.82 256.47 521.35C257.22 526.88 258.05 539.52 258.84 541.49C259.63 543.47 260.42 537.15 261.21 533.20C262.00 529.25 262.79 521.75 263.58 517.80C264.37 513.85 265.16 510.09 265.95 509.50C266.74 508.91 267.65 512.46 268.32 514.24C268.99 516.02 269.38 517.01 269.98 520.17C270.57 523.33 271.16 529.05 271.87 533.20C272.58 537.35 273.37 544.26 274.24 545.05C275.11 545.84 276.10 541.10 277.09 537.94C278.07 534.78 279.34 530.43 280.17 526.09C281.00 521.75 281.43 515.82 282.06 511.87C282.69 507.92 283.36 501.60 283.96 502.39C284.55 503.18 284.94 509.70 285.62 516.61C286.29 523.52 287.20 541.49 287.99 543.86C288.78 546.23 289.64 535.37 290.36 530.83C291.07 526.29 291.66 520.09 292.25 516.61C292.84 513.14 293.28 509.98 293.91 509.98C294.54 509.98 295.37 514.32 296.04 516.61C296.71 518.90 297.15 520.56 297.94 523.72C298.73 526.88 299.72 532.01 300.78 535.57C301.85 539.12 303.43 545.05 304.34 545.05C305.24 545.05 305.60 539.52 306.23 535.57C306.86 531.62 307.54 526.09 308.13 521.35C308.72 516.61 309.15 510.81 309.79 507.13C310.42 503.46 311.29 497.73 311.92 499.31C312.55 500.89 312.83 509.19 313.58 516.61C314.33 524.04 315.55 541.49 316.42 543.86C317.29 546.23 317.92 535.37 318.79 530.83C319.66 526.29 320.69 519.26 321.64 516.61C322.58 513.97 323.69 514.76 324.48 514.95C325.27 515.15 325.86 516.73 326.37 517.80C326.89 518.86 326.97 518.78 327.56 521.35C328.15 523.92 329.14 529.45 329.93 533.20C330.72 536.95 331.31 541.89 332.30 543.86C333.29 545.84 334.67 544.85 335.85 545.05C337.04 545.24 338.42 544.65 339.41 545.05C340.39 545.44 340.99 546.63 341.78 547.42C342.57 548.21 343.24 548.80 344.15 549.79C345.06 550.77 346.24 552.35 347.23 553.34C348.21 554.33 348.81 555.12 350.07 555.71C351.33 556.30 354.02 556.70 354.81 556.90" stroke="#111" stroke-width="1.25" fill="none" clip-path="url(#lc1)" stroke-linejoin="round"/>
<rect x="219.7" y="462.8" width="135.4" height="94.1" fill="none" stroke="#404040" stroke-width="1.2"/>
<path d="M247.7 556.9v-2.5M247.7 462.8v2.5M287.4 556.9v-2.5M287.4 462.8v2.5M327.1 556.9v-2.5M327.1 462.8v2.5M219.7 556.9h2.5M355.1 556.9h-2.5M219.7 538.08h2.5M355.1 538.08h-2.5M219.7 519.26h2.5M355.1 519.26h-2.5M219.7 500.44h2.5M355.1 500.44h-2.5M219.7 481.62h2.5M355.1 481.62h-2.5" stroke="#404040" stroke-width="1" fill="none"/>
<path d="M400 462.8V556.9M439.7 462.8V556.9M479.4 462.8V556.9M372.2 538.08H507.5M372.2 519.26H507.5M372.2 500.44H507.5M372.2 481.62H507.5" stroke="#d9d9d9" stroke-width="0.9" fill="none"/>
<clipPath id="lc2"><rect x="372.2" y="462.8" width="135.3" height="94.1"/></clipPath>
<path d="M372.58 556.42C373.10 556.03 374.76 554.76 375.66 554.05C376.57 553.34 376.97 553.18 378.03 552.16C379.10 551.13 380.68 549.47 382.06 547.89C383.44 546.31 385.10 544.53 386.33 542.68C387.55 540.82 388.42 538.53 389.41 536.75C390.39 534.98 391.38 532.21 392.25 532.01C393.12 531.82 393.95 533.79 394.62 535.57C395.29 537.35 395.81 540.70 396.28 542.68C396.75 544.65 397.03 548.21 397.46 547.42C397.90 546.63 398.37 541.49 398.89 537.94C399.40 534.38 400.07 531.22 400.55 526.09C401.02 520.96 401.33 512.19 401.73 507.13C402.12 502.08 402.48 496.94 402.91 495.76C403.35 494.57 403.86 497.73 404.34 500.02C404.81 502.31 405.21 505.16 405.76 509.50C406.31 513.85 407.06 521.35 407.65 526.09C408.25 530.83 408.80 535.17 409.31 537.94C409.83 540.70 410.22 542.68 410.73 542.68C411.25 542.68 411.72 540.70 412.39 537.94C413.06 535.17 413.97 530.43 414.76 526.09C415.55 521.75 416.26 516.02 417.13 511.87C418.00 507.73 419.27 502.39 419.98 501.21C420.69 500.02 420.88 501.41 421.40 504.76C421.91 508.12 422.50 515.82 423.06 521.35C423.61 526.88 424.12 533.52 424.72 537.94C425.31 542.36 425.98 549.08 426.61 547.89C427.24 546.71 427.91 536.44 428.51 530.83C429.10 525.22 429.61 519.77 430.17 514.24C430.72 508.71 431.31 501.60 431.82 497.65C432.34 493.70 432.77 490.15 433.25 490.55C433.72 490.94 434.19 496.47 434.67 500.02C435.14 503.58 435.46 506.74 436.09 511.87C436.72 517.01 437.67 525.38 438.46 530.83C439.25 536.28 440.04 544.57 440.83 544.57C441.62 544.57 442.41 535.49 443.20 530.83C443.99 526.17 444.86 520.76 445.57 516.61C446.28 512.46 446.87 508.40 447.46 505.95C448.06 503.50 448.61 501.72 449.12 501.92C449.64 502.12 450.03 504.68 450.55 507.13C451.06 509.58 451.61 512.27 452.20 516.61C452.80 520.96 453.43 527.95 454.10 533.20C454.77 538.45 455.60 547.73 456.23 548.13C456.86 548.52 457.30 540.03 457.89 535.57C458.48 531.11 459.19 526.48 459.79 521.35C460.38 516.22 460.93 509.03 461.45 504.76C461.96 500.50 462.39 495.76 462.87 495.76C463.34 495.76 463.82 501.29 464.29 504.76C464.76 508.24 465.08 511.87 465.71 516.61C466.34 521.35 467.29 528.74 468.08 533.20C468.87 537.66 469.66 543.78 470.45 543.39C471.24 542.99 472.03 535.29 472.82 530.83C473.61 526.37 474.52 520.36 475.19 516.61C475.86 512.86 476.26 510.49 476.85 508.32C477.44 506.15 478.15 503.78 478.74 503.58C479.34 503.38 479.81 504.96 480.40 507.13C481.00 509.30 481.71 512.66 482.30 516.61C482.89 520.56 483.36 526.29 483.96 530.83C484.55 535.37 484.94 541.30 485.85 543.86C486.76 546.43 488.22 545.64 489.41 546.23C490.59 546.82 491.78 546.90 492.96 547.42C494.15 547.93 495.33 548.72 496.52 549.31C497.70 549.91 498.89 550.30 500.07 550.97C501.26 551.64 502.44 552.43 503.63 553.34C504.81 554.25 506.59 555.91 507.18 556.42" stroke="#111" stroke-width="1.25" fill="none" clip-path="url(#lc2)" stroke-linejoin="round"/>
<rect x="372.2" y="462.8" width="135.3" height="94.1" fill="none" stroke="#404040" stroke-width="1.2"/>
<path d="M400 556.9v-2.5M400 462.8v2.5M439.7 556.9v-2.5M439.7 462.8v2.5M479.4 556.9v-2.5M479.4 462.8v2.5M372.2 556.9h2.5M507.5 556.9h-2.5M372.2 538.08h2.5M507.5 538.08h-2.5M372.2 519.26h2.5M507.5 519.26h-2.5M372.2 500.44h2.5M507.5 500.44h-2.5M372.2 481.62h2.5M507.5 481.62h-2.5" stroke="#404040" stroke-width="1" fill="none"/>
<path d="M552.7 462.8V556.9M592.4 462.8V556.9M632.1 462.8V556.9M524.7 538.08H660.1M524.7 519.26H660.1M524.7 500.44H660.1M524.7 481.62H660.1" stroke="#d9d9d9" stroke-width="0.9" fill="none"/>
<clipPath id="lc3"><rect x="524.7" y="462.8" width="135.4" height="94.1"/></clipPath>
<path d="M531.74 556.42C532.22 555.71 533.72 553.46 534.59 552.16C535.46 550.85 536.17 549.98 536.96 548.60C537.75 547.22 538.54 545.17 539.33 543.86C540.12 542.56 540.99 541.06 541.70 540.78C542.41 540.51 543.00 541.69 543.59 542.20C544.18 542.72 544.70 544.18 545.25 543.86C545.80 543.55 546.32 541.49 546.91 540.31C547.50 539.12 548.17 537.23 548.81 536.75C549.44 536.28 550.11 537.27 550.70 537.46C551.29 537.66 551.81 539.04 552.36 537.94C552.91 536.83 553.43 533.00 554.02 530.83C554.61 528.66 555.20 526.48 555.91 524.91C556.63 523.33 557.61 523.13 558.28 521.35C558.96 519.57 559.43 516.53 559.94 514.24C560.46 511.95 560.93 508.00 561.36 507.61C561.80 507.21 562.15 509.98 562.55 511.87C562.94 513.77 563.34 516.22 563.73 518.98C564.13 521.75 564.52 525.50 564.92 528.46C565.31 531.42 565.71 537.54 566.10 536.75C566.50 535.96 566.89 529.45 567.29 523.72C567.68 517.99 568.08 508.52 568.47 502.39C568.87 496.27 569.26 488.57 569.66 486.99C570.05 485.41 570.37 489.56 570.84 492.91C571.32 496.27 571.91 501.60 572.50 507.13C573.09 512.66 573.81 520.88 574.40 526.09C574.99 531.30 575.58 537.03 576.06 538.41C576.53 539.79 576.81 535.85 577.24 534.38C577.68 532.92 578.23 529.84 578.66 529.64C579.10 529.45 579.45 531.74 579.85 533.20C580.24 534.66 580.48 539.60 581.03 538.41C581.59 537.23 582.53 530.12 583.17 526.09C583.80 522.06 584.35 516.69 584.82 514.24C585.30 511.79 585.69 511.99 586.01 511.40C586.33 510.81 586.40 511.99 586.72 510.69C587.04 509.38 587.51 505.63 587.91 503.58C588.30 501.52 588.70 498.36 589.09 498.36C589.48 498.36 589.88 501.52 590.27 503.58C590.67 505.63 591.03 506.94 591.46 510.69C591.89 514.44 592.37 521.07 592.88 526.09C593.39 531.11 593.99 540.78 594.54 540.78C595.09 540.78 595.65 532.09 596.20 526.09C596.75 520.09 597.27 510.69 597.86 504.76C598.45 498.84 599.20 491.33 599.75 490.55C600.31 489.76 600.70 496.47 601.18 500.02C601.65 503.58 602.16 507.53 602.60 511.87C603.03 516.22 603.39 521.63 603.78 526.09C604.18 530.55 604.61 537.86 604.97 538.65C605.32 539.44 605.64 532.92 605.91 530.83C606.19 528.74 606.39 526.68 606.63 526.09C606.86 525.50 607.10 526.88 607.34 527.27C607.57 527.67 607.73 527.87 608.05 528.46C608.36 529.05 608.88 529.84 609.23 530.83C609.59 531.82 609.79 535.57 610.18 534.38C610.58 533.20 611.17 526.48 611.60 523.72C612.04 520.96 612.31 519.38 612.79 517.80C613.26 516.22 613.93 515.03 614.45 514.24C614.96 513.45 615.47 513.06 615.87 513.06C616.26 513.06 616.54 514.04 616.82 514.24C617.09 514.44 617.13 514.95 617.53 514.24C617.92 513.53 618.71 509.58 619.18 509.98C619.66 510.37 619.97 513.93 620.37 516.61C620.76 519.30 621.16 523.52 621.55 526.09C621.95 528.66 622.30 533.20 622.74 532.01C623.17 530.83 623.65 525.10 624.16 518.98C624.67 512.86 625.31 501.41 625.82 495.28C626.33 489.16 626.81 483.04 627.24 482.25C627.68 481.46 628.07 487.19 628.43 490.55C628.78 493.90 628.94 496.47 629.37 502.39C629.81 508.32 630.44 519.06 631.03 526.09C631.63 533.12 632.34 542.60 632.93 544.57C633.52 546.55 634.00 540.03 634.59 537.94C635.18 535.85 635.97 533.12 636.48 532.01C637.00 530.91 637.19 531.18 637.67 531.30C638.14 531.42 638.73 532.21 639.33 532.73C639.92 533.24 640.51 533.71 641.22 534.38C641.93 535.06 642.80 535.96 643.59 536.75C644.38 537.54 645.17 538.33 645.96 539.12C646.75 539.91 647.54 540.51 648.33 541.49C649.12 542.48 649.91 543.86 650.70 545.05C651.49 546.23 652.28 547.42 653.07 548.60C653.86 549.79 654.45 550.77 655.44 552.16C656.43 553.54 658.40 556.11 659.00 556.90" stroke="#111" stroke-width="1.25" fill="none" clip-path="url(#lc3)" stroke-linejoin="round"/>
<rect x="524.7" y="462.8" width="135.4" height="94.1" fill="none" stroke="#404040" stroke-width="1.2"/>
<path d="M552.7 556.9v-2.5M552.7 462.8v2.5M592.4 556.9v-2.5M592.4 462.8v2.5M632.1 556.9v-2.5M632.1 462.8v2.5M524.7 556.9h2.5M660.1 556.9h-2.5M524.7 538.08h2.5M660.1 538.08h-2.5M524.7 519.26h2.5M660.1 519.26h-2.5M524.7 500.44h2.5M660.1 500.44h-2.5M524.7 481.62h2.5M660.1 481.62h-2.5" stroke="#404040" stroke-width="1" fill="none"/>
<text transform="translate(65.82,47.05) scale(1.0203,1)" style="font-family:'Liberation Serif';font-size:36.54px;" fill="#000" stroke="#fff" stroke-width="0.44" >×</text>
<text transform="translate(88.02,42.99) scale(0.9087,1)" style="font-family:'Liberation Serif';font-size:30.81px;" fill="#000" stroke="#fff" stroke-width="0.37" >10</text>
<text transform="translate(115.1,30.4) scale(0.9456,1)" style="font-family:'Liberation Serif';font-size:25.91px;" fill="#000" stroke="#fff" stroke-width="0.31" >2</text>
<text transform="translate(70.24,76.87) scale(0.9307,1)" style="font-family:'Liberation Sans';font-size:31.55px;" fill="#fff" stroke="#fff" stroke-width="0.3" >(a)</text>
<text transform="translate(50.07,462.34) scale(0.9800,1)" style="font-family:'Liberation Serif';font-size:27.80px;" fill="#000" stroke="#fff" stroke-width="0.33">0</text>
<text transform="translate(50.61,403.74) scale(0.9800,1)" style="font-family:'Liberation Serif';font-size:27.80px;" fill="#000" stroke="#fff" stroke-width="0.33">1</text>
<text transform="translate(50.48,345.14) scale(0.9800,1)" style="font-family:'Liberation Serif';font-size:27.80px;" fill="#000" stroke="#fff" stroke-width="0.33">2</text>
<text transform="translate(50.07,286.54) scale(0.9800,1)" style="font-family:'Liberation Serif';font-size:27.80px;" fill="#000" stroke="#fff" stroke-width="0.33">3</text>
<text transform="translate(49.39,227.94) scale(0.9800,1)" style="font-family:'Liberation Serif';font-size:27.80px;" fill="#000" stroke="#fff" stroke-width="0.33">4</text>
<text transform="translate(50.07,169.34) scale(0.9800,1)" style="font-family:'Liberation Serif';font-size:27.80px;" fill="#000" stroke="#fff" stroke-width="0.33">5</text>
<text transform="translate(48.2,110.74) scale(0.9800,1)" style="font-family:'Liberation Serif';font-size:27.80px;" fill="#000" stroke="#fff" stroke-width="0.33">6</text>
<g transform="translate(15.9,245.35) rotate(-90)"><text transform="translate(-14.53,11.7) scale(1.1960,1)" style="font-family:'Liberation Serif';font-size:35.73px;font-style:italic;" fill="#000" stroke="#fff" stroke-width="0.43">T</text></g>
<g transform="translate(19.25,266.45) rotate(-90)"><text transform="translate(-5.15,16.74) scale(0.6457,1)" style="font-family:'Liberation Serif';font-size:51.49px;font-style:italic;" fill="#000" stroke="#fff" stroke-width="0.62">/</text></g>
<g transform="translate(17.3,281.25) rotate(-90)"><text transform="translate(-6.97,10.81) scale(1.0369,1)" style="font-family:'Liberation Serif';font-size:38.96px;font-style:italic;" fill="#000" stroke="#fff" stroke-width="0.47">t</text></g>
<text transform="translate(49.14,564.35) scale(0.9700,1)" style="font-family:'Liberation Serif';font-size:23.00px;" fill="#000" stroke="#fff" stroke-width="0.28">0</text>
<text transform="translate(49.14,545.53) scale(0.9700,1)" style="font-family:'Liberation Serif';font-size:23.00px;" fill="#000" stroke="#fff" stroke-width="0.28">3</text>
<text transform="translate(48.91,526.71) scale(0.9700,1)" style="font-family:'Liberation Serif';font-size:23.00px;" fill="#000" stroke="#fff" stroke-width="0.28">6</text>
<text transform="translate(49.14,507.89) scale(0.9700,1)" style="font-family:'Liberation Serif';font-size:23.00px;" fill="#000" stroke="#fff" stroke-width="0.28">9</text>
<text transform="translate(38.32,489.07) scale(0.9700,1)" style="font-family:'Liberation Serif';font-size:23.00px;" fill="#000" stroke="#fff" stroke-width="0.28">12</text>
<path d="M1.5 501.8H34.5M1.5 529H34.5" stroke="#000" stroke-width="1.6" fill="none"/>
<g transform="translate(22.2,515.3) rotate(-90)"><text transform="translate(-8.93,3.87) scale(1.2000,1)" style="font-family:'Liberation Serif';font-size:30.36px;font-style:italic;" fill="#000" stroke="#fff" stroke-width="0.36">η</text></g>
<path d="M5.2 520C3.2 518.8 2.2 517.6 2.6 516.2C3.2 514.4 6.4 513.2 6.6 511.2C6.8 509.6 5.4 508.4 3.6 507.8" stroke="#000" stroke-width="1.1" fill="none"/>
<text transform="translate(77.38,577.17) scale(0.9283,1)" style="font-family:'Liberation Serif';font-size:23.11px;" fill="#000" stroke="#fff" stroke-width="0.28" >100</text>
<path d="M62.3 570.2H75.9" stroke="#000" stroke-width="1.15"/>
<text transform="translate(129.3,577.17) scale(0.9684,1)" style="font-family:'Liberation Serif';font-size:23.11px;" fill="#000" stroke="#fff" stroke-width="0.28" >0</text>
<text transform="translate(160.2,577.17) scale(0.9157,1)" style="font-family:'Liberation Serif';font-size:23.11px;" fill="#000" stroke="#fff" stroke-width="0.28" >100</text>
<text transform="translate(90.64,609.2) scale(1.1120,1)" style="font-family:'Liberation Serif';font-size:32.17px;font-style:italic;" fill="#000" stroke="#fff" stroke-width="0.39" >x</text>
<text transform="translate(118.24,609.5) scale(0.9086,1)" style="font-family:'Liberation Serif';font-size:35.82px;" fill="#000" stroke="#fff" stroke-width="0.43" >(</text>
<text transform="translate(129.57,609.2) scale(1.0154,1)" style="font-family:'Liberation Serif';font-size:31.06px;" fill="#000" stroke="#fff" stroke-width="0.37" >mm</text>
<text transform="translate(180.14,609.5) scale(0.8911,1)" style="font-family:'Liberation Serif';font-size:35.82px;" fill="#000" stroke="#fff" stroke-width="0.43" >)</text>
<text transform="translate(229.38,577.17) scale(0.9283,1)" style="font-family:'Liberation Serif';font-size:23.11px;" fill="#000" stroke="#fff" stroke-width="0.28" >100</text>
<path d="M214.3 570.2H227.9" stroke="#000" stroke-width="1.15"/>
<text transform="translate(281.3,577.17) scale(0.9684,1)" style="font-family:'Liberation Serif';font-size:23.11px;" fill="#000" stroke="#fff" stroke-width="0.28" >0</text>
<text transform="translate(312.2,577.17) scale(0.9157,1)" style="font-family:'Liberation Serif';font-size:23.11px;" fill="#000" stroke="#fff" stroke-width="0.28" >100</text>
<text transform="translate(242.64,609.2) scale(1.1120,1)" style="font-family:'Liberation Serif';font-size:32.17px;font-style:italic;" fill="#000" stroke="#fff" stroke-width="0.39" >x</text>
<text transform="translate(270.24,609.5) scale(0.9086,1)" style="font-family:'Liberation Serif';font-size:35.82px;" fill="#000" stroke="#fff" stroke-width="0.43" >(</text>
<text transform="translate(281.57,609.2) scale(1.0154,1)" style="font-family:'Liberation Serif';font-size:31.06px;" fill="#000" stroke="#fff" stroke-width="0.37" >mm</text>
<text transform="translate(332.14,609.5) scale(0.8911,1)" style="font-family:'Liberation Serif';font-size:35.82px;" fill="#000" stroke="#fff" stroke-width="0.43" >)</text>
<text transform="translate(381.68,577.17) scale(0.9283,1)" style="font-family:'Liberation Serif';font-size:23.11px;" fill="#000" stroke="#fff" stroke-width="0.28" >100</text>
<path d="M366.6 570.2H380.2" stroke="#000" stroke-width="1.15"/>
<text transform="translate(433.6,577.17) scale(0.9684,1)" style="font-family:'Liberation Serif';font-size:23.11px;" fill="#000" stroke="#fff" stroke-width="0.28" >0</text>
<text transform="translate(464.5,577.17) scale(0.9157,1)" style="font-family:'Liberation Serif';font-size:23.11px;" fill="#000" stroke="#fff" stroke-width="0.28" >100</text>
<text transform="translate(394.94,609.2) scale(1.1120,1)" style="font-family:'Liberation Serif';font-size:32.17px;font-style:italic;" fill="#000" stroke="#fff" stroke-width="0.39" >x</text>
<text transform="translate(422.54,609.5) scale(0.9086,1)" style="font-family:'Liberation Serif';font-size:35.82px;" fill="#000" stroke="#fff" stroke-width="0.43" >(</text>
<text transform="translate(433.87,609.2) scale(1.0154,1)" style="font-family:'Liberation Serif';font-size:31.06px;" fill="#000" stroke="#fff" stroke-width="0.37" >mm</text>
<text transform="translate(484.44,609.5) scale(0.8911,1)" style="font-family:'Liberation Serif';font-size:35.82px;" fill="#000" stroke="#fff" stroke-width="0.43" >)</text>
<text transform="translate(534.38,577.17) scale(0.9283,1)" style="font-family:'Liberation Serif';font-size:23.11px;" fill="#000" stroke="#fff" stroke-width="0.28" >100</text>
<path d="M519.3 570.2H532.9" stroke="#000" stroke-width="1.15"/>
<text transform="translate(586.3,577.17) scale(0.9684,1)" style="font-family:'Liberation Serif';font-size:23.11px;" fill="#000" stroke="#fff" stroke-width="0.28" >0</text>
<text transform="translate(617.2,577.17) scale(0.9157,1)" style="font-family:'Liberation Serif';font-size:23.11px;" fill="#000" stroke="#fff" stroke-width="0.28" >100</text>
<text transform="translate(547.64,609.2) scale(1.1120,1)" style="font-family:'Liberation Serif';font-size:32.17px;font-style:italic;" fill="#000" stroke="#fff" stroke-width="0.39" >x</text>
<text transform="translate(575.24,609.5) scale(0.9086,1)" style="font-family:'Liberation Serif';font-size:35.82px;" fill="#000" stroke="#fff" stroke-width="0.43" >(</text>
<text transform="translate(586.57,609.2) scale(1.0154,1)" style="font-family:'Liberation Serif';font-size:31.06px;" fill="#000" stroke="#fff" stroke-width="0.37" >mm</text>
<text transform="translate(637.14,609.5) scale(0.8911,1)" style="font-family:'Liberation Serif';font-size:35.82px;" fill="#000" stroke="#fff" stroke-width="0.43" >)</text>
<text transform="translate(712.89,563.58) scale(0.9650,1)" style="font-family:'Liberation Serif';font-size:23.70px;" fill="#000" stroke="#fff" stroke-width="0.28">0</text>
<text transform="translate(712.77,485.26) scale(0.9650,1)" style="font-family:'Liberation Serif';font-size:23.70px;" fill="#000" stroke="#fff" stroke-width="0.28">2</text>
<text transform="translate(713.34,406.93) scale(0.9650,1)" style="font-family:'Liberation Serif';font-size:23.70px;" fill="#000" stroke="#fff" stroke-width="0.28">4</text>
<text transform="translate(712.89,328.61) scale(0.9650,1)" style="font-family:'Liberation Serif';font-size:23.70px;" fill="#000" stroke="#fff" stroke-width="0.28">6</text>
<text transform="translate(712.89,250.29) scale(0.9650,1)" style="font-family:'Liberation Serif';font-size:23.70px;" fill="#000" stroke="#fff" stroke-width="0.28">8</text>
<text transform="translate(711.86,171.96) scale(0.9650,1)" style="font-family:'Liberation Serif';font-size:23.70px;" fill="#000" stroke="#fff" stroke-width="0.28">10</text>
<text transform="translate(711.86,93.64) scale(0.9650,1)" style="font-family:'Liberation Serif';font-size:23.70px;" fill="#000" stroke="#fff" stroke-width="0.28">12</text>
<path d="M645.1 0.9V35.2M672.1 0.9V35.2" stroke="#000" stroke-width="2.0" fill="none"/>
<text transform="translate(649.15,25.5) scale(1.1055,1)" style="font-family:'Liberation Serif';font-size:34.89px;font-style:italic;" fill="#000" stroke="#fff" stroke-width="0.42" >η</text>
<path d="M655.6 6.3C657.5 3.0 660 3.8 661 5.0C662.3 6.3 664.2 6.2 665.6 3.6" stroke="#000" stroke-width="1.3" fill="none"/>
<text transform="translate(682.64,26.77) scale(0.8297,1)" style="font-family:'Liberation Serif';font-size:39.23px;" fill="#000" stroke="#fff" stroke-width="0.47" >(</text>
<text transform="translate(693.93,26.5) scale(0.9820,1)" style="font-family:'Liberation Serif';font-size:34.26px;" fill="#000" stroke="#fff" stroke-width="0.41" >mm</text>
<text transform="translate(747.04,26.77) scale(0.8137,1)" style="font-family:'Liberation Serif';font-size:39.23px;" fill="#000" stroke="#fff" stroke-width="0.47" >)</text>
<text transform="translate(1164.74,625.2) scale(0.9645,1)" style="font-family:'Liberation Serif';font-size:36.64px;" fill="#000" stroke="#fff" stroke-width="0.44" >Γ</text>
<text transform="translate(1183.47,632.29) scale(0.9920,1)" style="font-family:'Liberation Serif';font-size:30.96px;" fill="#000" stroke="#fff" stroke-width="0.37" >0</text>
<text transform="translate(1075.67,346.9) scale(0.9831,1)" style="font-family:'Liberation Serif';font-size:24.89px;" fill="#000" stroke="#fff" stroke-width="0.30" >Γ</text>
<text transform="translate(1089.58,351.41) scale(1.0883,1)" style="font-family:'Liberation Serif';font-size:18.81px;" fill="#000" stroke="#fff" stroke-width="0.23" >0</text>
<path d="M794.9 383.8L812.1 391.6L829.3 383.8" stroke="#000" stroke-width="1.3" fill="none" stroke-linejoin="miter"/>
<g transform="translate(813.65,374.2) rotate(-90)"><text transform="translate(-8.34,7.9) scale(1.0334,1)" style="font-family:'Liberation Serif';font-size:35.11px;font-style:italic;" fill="#000" stroke="#fff" stroke-width="0.42">v</text></g>
<path d="M794.9 362L812.1 355.1L829.3 362" stroke="#000" stroke-width="1.3" fill="none" stroke-linejoin="miter"/>
<g transform="translate(812.3,333.85) rotate(-90)"><text transform="translate(-5.21,9.18) scale(0.7896,1)" style="font-family:'Liberation Serif';font-size:38.24px;" fill="#000" stroke="#fff" stroke-width="0.46">(</text></g>
<g transform="translate(812.5,301.35) rotate(-90)"><text transform="translate(-24.78,8) scale(0.9304,1)" style="font-family:'Liberation Serif';font-size:34.04px;" fill="#000" stroke="#fff" stroke-width="0.41">mm</text></g>
<g transform="translate(812.5,259.35) rotate(-90)"><text transform="translate(-6.08,7.67) scale(0.9238,1)" style="font-family:'Liberation Serif';font-size:33.33px;" fill="#000" stroke="#fff" stroke-width="0.40">s</text></g>
<path d="M798.9 230.9V249.4" stroke="#000" stroke-width="1.6"/>
<g transform="translate(797.75,222.6) rotate(-90)"><text transform="translate(-6.06,8.75) scale(0.8711,1)" style="font-family:'Liberation Serif';font-size:26.52px;" fill="#000" stroke="#fff" stroke-width="0.32">1</text></g>
<g transform="translate(812.7,210.8) rotate(-90)"><text transform="translate(-4.43,9.23) scale(0.7200,1)" style="font-family:'Liberation Serif';font-size:38.46px;" fill="#000" stroke="#fff" stroke-width="0.46">)</text></g>
<path d="M894.5 240.4L909.15 248.9L923.8 240.4" stroke="#000" stroke-width="1.3" fill="none" stroke-linejoin="miter"/>
<g transform="translate(909.15,231.85) rotate(-90)"><text transform="translate(-8.99,7.32) scale(1.4859,1)" style="font-family:'Liberation Serif';font-size:29.89px;font-style:italic;" fill="#000" stroke="#fff" stroke-width="0.36">f</text></g>
<path d="M894.5 222.4L909.15 214.8L923.8 222.4" stroke="#000" stroke-width="1.3" fill="none" stroke-linejoin="miter"/>
<g transform="translate(909.65,196.8) rotate(-90)"><text transform="translate(-5.14,7.99) scale(0.8951,1)" style="font-family:'Liberation Serif';font-size:33.30px;" fill="#000" stroke="#fff" stroke-width="0.40">(</text></g>
<g transform="translate(906.8,182.15) rotate(-90)"><text transform="translate(-10.85,9.5) scale(1.0316,1)" style="font-family:'Liberation Serif';font-size:29.01px;" fill="#000" stroke="#fff" stroke-width="0.35">H</text></g>
<g transform="translate(910.15,165.55) rotate(-90)"><text transform="translate(-5.36,6.15) scale(0.9110,1)" style="font-family:'Liberation Serif';font-size:26.74px;" fill="#000" stroke="#fff" stroke-width="0.32">z</text></g>
<g transform="translate(909.65,156.1) rotate(-90)"><text transform="translate(-4.68,7.99) scale(0.8779,1)" style="font-family:'Liberation Serif';font-size:33.30px;" fill="#000" stroke="#fff" stroke-width="0.40">)</text></g>
</svg></body></html>
